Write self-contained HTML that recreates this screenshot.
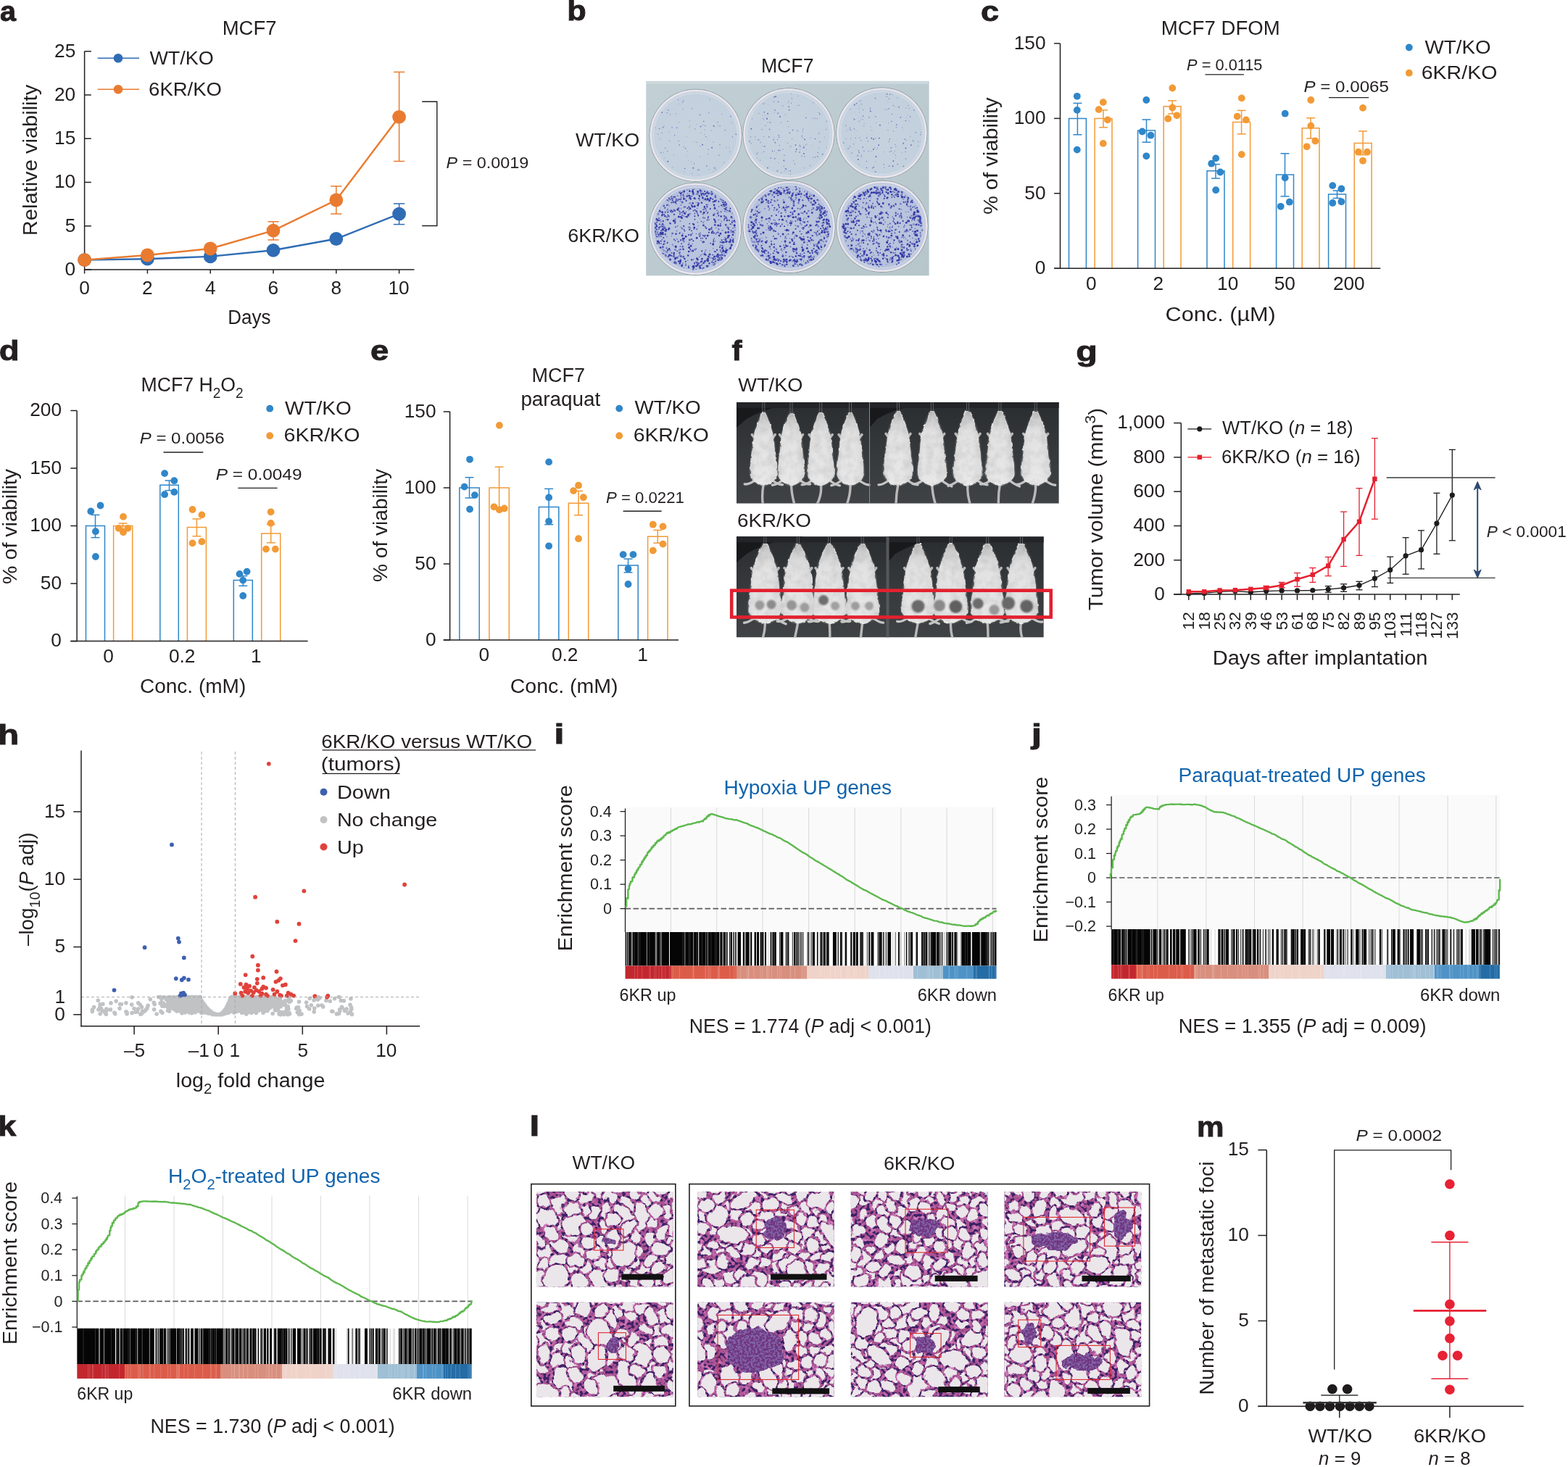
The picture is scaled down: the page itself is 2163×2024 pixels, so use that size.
<!DOCTYPE html>
<html><head><meta charset="utf-8"><title>Figure</title>
<style>html,body{margin:0;padding:0;background:#fff;overflow:hidden}svg{display:block}</style>
</head><body>
<svg width="2163" height="2024" viewBox="0 0 2163 2024" font-family="'Liberation Sans', Arial, sans-serif" fill="#231f20">
<defs><linearGradient id="plate" x1="0" y1="0" x2="1" y2="1">
<stop offset="0" stop-color="#c2d0d5"/><stop offset="0.5" stop-color="#bccbd0"/><stop offset="1" stop-color="#b6c6cb"/></linearGradient>
<radialGradient id="well0" cx="0.5" cy="0.5" r="0.5"><stop offset="0" stop-color="#c6d3df"/><stop offset="0.9" stop-color="#c3d0dd"/><stop offset="1" stop-color="#d3dbe5"/></radialGradient>
<radialGradient id="well1" cx="0.5" cy="0.5" r="0.5"><stop offset="0" stop-color="#bcc7df"/><stop offset="0.9" stop-color="#b6c1dc"/><stop offset="1" stop-color="#cdd4e4"/></radialGradient>
<filter id="mblur" x="-20%" y="-20%" width="140%" height="140%"><feGaussianBlur stdDeviation="0.9"/></filter>
<filter id="mwob" x="-20%" y="-10%" width="140%" height="120%"><feTurbulence type="fractalNoise" baseFrequency="0.12" numOctaves="2" seed="3" result="t"/><feDisplacementMap in="SourceGraphic" in2="t" scale="4.5" xChannelSelector="R" yChannelSelector="G" result="d"/><feGaussianBlur in="d" stdDeviation="0.7"/></filter>
<filter id="mtex" x="0" y="0" width="100%" height="100%"><feTurbulence type="fractalNoise" baseFrequency="0.09" numOctaves="3" seed="7"/><feColorMatrix type="matrix" values="0 0 0 0 0  0 0 0 0 0  0 0 0 0 0  0 0 0 -0.9 0.55"/><feComposite in2="SourceGraphic" operator="in"/></filter>
<linearGradient id="mbody" x1="0" y1="0" x2="1" y2="0"><stop offset="0" stop-color="#cdcdcd"/><stop offset="0.2" stop-color="#ebebeb"/><stop offset="0.6" stop-color="#f0f0f0"/><stop offset="1" stop-color="#d4d4d4"/></linearGradient>
<linearGradient id="mhead" x1="0" y1="0" x2="0" y2="1"><stop offset="0" stop-color="#8a8a8a"/><stop offset="0.1" stop-color="#b0b0b0"/><stop offset="0.28" stop-color="#d8d8d8"/><stop offset="1" stop-color="#e4e4e4"/></linearGradient>
<linearGradient id="fbg" x1="0" y1="0" x2="0" y2="1"><stop offset="0" stop-color="#2a2d30"/><stop offset="0.45" stop-color="#35383b"/><stop offset="1" stop-color="#404345"/></linearGradient>
<clipPath id="ftop"><rect x="1015.9" y="554.9" width="444.9" height="139.8"/></clipPath>
<clipPath id="fbot"><rect x="1015.9" y="740.3" width="423.9" height="139.2"/></clipPath>
<linearGradient id="cb101" x1="0" y1="0" x2="1" y2="0"><stop offset="0%" stop-color="#c3272e"/><stop offset="12.5%" stop-color="#c3272e"/><stop offset="12.5%" stop-color="#dc5c4a"/><stop offset="29.9%" stop-color="#dc5c4a"/><stop offset="29.9%" stop-color="#d98f7e"/><stop offset="48.9%" stop-color="#d98f7e"/><stop offset="48.9%" stop-color="#efd3c9"/><stop offset="65.6%" stop-color="#efd3c9"/><stop offset="65.6%" stop-color="#dfe1ec"/><stop offset="77.7%" stop-color="#dfe1ec"/><stop offset="77.7%" stop-color="#9fbfd5"/><stop offset="85.7%" stop-color="#9fbfd5"/><stop offset="85.7%" stop-color="#4f93c6"/><stop offset="93.8%" stop-color="#4f93c6"/><stop offset="93.8%" stop-color="#236ca6"/><stop offset="100.1%" stop-color="#236ca6"/></linearGradient>
<linearGradient id="cb201" x1="0" y1="0" x2="1" y2="0"><stop offset="0%" stop-color="#c3272e"/><stop offset="6.3%" stop-color="#c3272e"/><stop offset="6.3%" stop-color="#dc5c4a"/><stop offset="21.3%" stop-color="#dc5c4a"/><stop offset="21.3%" stop-color="#d98f7e"/><stop offset="40.4%" stop-color="#d98f7e"/><stop offset="40.4%" stop-color="#efd3c9"/><stop offset="54.7%" stop-color="#efd3c9"/><stop offset="54.7%" stop-color="#dfe1ec"/><stop offset="70.6%" stop-color="#dfe1ec"/><stop offset="70.6%" stop-color="#9fbfd5"/><stop offset="83.2%" stop-color="#9fbfd5"/><stop offset="83.2%" stop-color="#4f93c6"/><stop offset="94.6%" stop-color="#4f93c6"/><stop offset="94.6%" stop-color="#236ca6"/><stop offset="100.1%" stop-color="#236ca6"/></linearGradient>
<linearGradient id="cb301" x1="0" y1="0" x2="1" y2="0"><stop offset="0%" stop-color="#c3272e"/><stop offset="12.1%" stop-color="#c3272e"/><stop offset="12.1%" stop-color="#dc5c4a"/><stop offset="36.4%" stop-color="#dc5c4a"/><stop offset="36.4%" stop-color="#d98f7e"/><stop offset="51.9%" stop-color="#d98f7e"/><stop offset="51.9%" stop-color="#efd3c9"/><stop offset="64.8%" stop-color="#efd3c9"/><stop offset="64.8%" stop-color="#dfe1ec"/><stop offset="76.1%" stop-color="#dfe1ec"/><stop offset="76.1%" stop-color="#9fbfd5"/><stop offset="86.1%" stop-color="#9fbfd5"/><stop offset="86.1%" stop-color="#4f93c6"/><stop offset="92.8%" stop-color="#4f93c6"/><stop offset="92.8%" stop-color="#236ca6"/><stop offset="100.1%" stop-color="#236ca6"/></linearGradient>
<filter id="nuc" x="0" y="0" width="100%" height="100%" color-interpolation-filters="sRGB">
<feTurbulence type="fractalNoise" baseFrequency="0.24" numOctaves="1" seed="5" result="n2"/>
<feColorMatrix in="n2" type="matrix" values="0 0 0 0 0.23  0 0 0 0 0.13  0 0 0 0 0.40  9 0 0 0 -4.4" result="nu"/>
<feTurbulence type="fractalNoise" baseFrequency="0.12" numOctaves="2" seed="9" result="n3"/>
<feColorMatrix in="n3" type="matrix" values="0 0 0 0 0.86  0 0 0 0 0.50  0 0 0 0 0.76  3 0 0 0 -1.4" result="lt"/>
<feMerge><feMergeNode in="SourceGraphic"/><feMergeNode in="lt"/><feMergeNode in="nu"/></feMerge>
</filter>
<filter id="wob" x="-5%" y="-5%" width="110%" height="110%"><feTurbulence type="fractalNoise" baseFrequency="0.09" numOctaves="2" seed="21" result="t"/><feDisplacementMap in="SourceGraphic" in2="t" scale="9" xChannelSelector="R" yChannelSelector="G"/></filter>
<filter id="wob2" x="-20%" y="-20%" width="140%" height="140%"><feTurbulence type="fractalNoise" baseFrequency="0.07" numOctaves="2" seed="4" result="t"/><feDisplacementMap in="SourceGraphic" in2="t" scale="14" xChannelSelector="R" yChannelSelector="G" result="d"/>
<feTurbulence type="fractalNoise" baseFrequency="0.33" numOctaves="2" seed="8" result="n"/><feColorMatrix in="n" type="matrix" values="0 0 0 0 0.22  0 0 0 0 0.12  0 0 0 0 0.38  7 0 0 0 -3.1" result="nn"/><feComposite in="nn" in2="d" operator="in" result="nn2"/><feMerge><feMergeNode in="d"/><feMergeNode in="nn2"/></feMerge></filter>
<clipPath id="hc0"><rect x="739.9" y="1644" width="189" height="131.4"/></clipPath>
<mask id="hm0" maskUnits="userSpaceOnUse" x="734.9" y="1639" width="199" height="141.4"><g fill="#fff" stroke="#000" stroke-width="3.1" filter="url(#wob)"><ellipse cx="896.9" cy="1683.3" rx="13.2" ry="11.9" transform="rotate(11 896.9 1683.3)"/><ellipse cx="901.8" cy="1651.4" rx="12.4" ry="11.3" transform="rotate(155 901.8 1651.4)"/><ellipse cx="846.5" cy="1726.6" rx="11" ry="8.4" transform="rotate(160 846.5 1726.6)"/><ellipse cx="861.7" cy="1709.8" rx="14" ry="9.1" transform="rotate(95 861.7 1709.8)"/><ellipse cx="735.8" cy="1778.9" rx="14.1" ry="9.7" transform="rotate(34 735.8 1778.9)"/><ellipse cx="899.9" cy="1710.8" rx="10.8" ry="11.9" transform="rotate(148 899.9 1710.8)"/><ellipse cx="768.1" cy="1682.7" rx="20.9" ry="12.9" transform="rotate(36 768.1 1682.7)"/><ellipse cx="772.7" cy="1663" rx="17.9" ry="14.2" transform="rotate(165 772.7 1663)"/><ellipse cx="771.7" cy="1718.8" rx="14.8" ry="9.9" transform="rotate(20 771.7 1718.8)"/><ellipse cx="877.1" cy="1645.6" rx="11.4" ry="9" transform="rotate(124 877.1 1645.6)"/><ellipse cx="935.2" cy="1746" rx="12.1" ry="9.1" transform="rotate(179 935.2 1746)"/><ellipse cx="826.3" cy="1646" rx="12.3" ry="8.6" transform="rotate(13 826.3 1646)"/><ellipse cx="842.3" cy="1650.1" rx="14.7" ry="11.6" transform="rotate(119 842.3 1650.1)"/><ellipse cx="755.3" cy="1775.8" rx="21.5" ry="13.3" transform="rotate(98 755.3 1775.8)"/><ellipse cx="906.1" cy="1781.5" rx="13" ry="8.7" transform="rotate(151 906.1 1781.5)"/><ellipse cx="927.6" cy="1714.4" rx="13" ry="9.7" transform="rotate(109 927.6 1714.4)"/><ellipse cx="828.6" cy="1745.8" rx="11.5" ry="11.1" transform="rotate(41 828.6 1745.8)"/><ellipse cx="810.2" cy="1777.4" rx="21.5" ry="17.7" transform="rotate(26 810.2 1777.4)"/><ellipse cx="919.1" cy="1738.2" rx="22.3" ry="12.3" transform="rotate(36 919.1 1738.2)"/><ellipse cx="749.8" cy="1679.2" rx="21.6" ry="14.9" transform="rotate(22 749.8 1679.2)"/><ellipse cx="731.6" cy="1647.3" rx="10.3" ry="10.8" transform="rotate(87 731.6 1647.3)"/><ellipse cx="829.4" cy="1767.8" rx="22.5" ry="13.6" transform="rotate(50 829.4 1767.8)"/><ellipse cx="784.6" cy="1750.9" rx="19.1" ry="13.3" transform="rotate(137 784.6 1750.9)"/><ellipse cx="878.7" cy="1725" rx="11" ry="8.4" transform="rotate(38 878.7 1725)"/><ellipse cx="751.4" cy="1728.1" rx="13.8" ry="11.4" transform="rotate(20 751.4 1728.1)"/><ellipse cx="787.6" cy="1702.7" rx="13.5" ry="9.7" transform="rotate(31 787.6 1702.7)"/><ellipse cx="928.7" cy="1692.2" rx="14.9" ry="9.7" transform="rotate(120 928.7 1692.2)"/><ellipse cx="890.5" cy="1663.4" rx="14.5" ry="8" transform="rotate(84 890.5 1663.4)"/><ellipse cx="819.4" cy="1672" rx="10.6" ry="8.6" transform="rotate(108 819.4 1672)"/><ellipse cx="912.1" cy="1763.9" rx="14.9" ry="11.1" transform="rotate(154 912.1 1763.9)"/><ellipse cx="886.5" cy="1752.3" rx="12.8" ry="10.5" transform="rotate(106 886.5 1752.3)"/><ellipse cx="835.3" cy="1694.6" rx="14.2" ry="9" transform="rotate(67 835.3 1694.6)"/><ellipse cx="809" cy="1747" rx="10.2" ry="10.4" transform="rotate(7 809 1747)"/><ellipse cx="877.6" cy="1680.8" rx="22.9" ry="16.7" transform="rotate(116 877.6 1680.8)"/><ellipse cx="734.5" cy="1743.1" rx="11.8" ry="11.1" transform="rotate(174 734.5 1743.1)"/><ellipse cx="863.5" cy="1758.6" rx="13.1" ry="11.7" transform="rotate(59 863.5 1758.6)"/><ellipse cx="742.5" cy="1712.1" rx="11.5" ry="9.2" transform="rotate(36 742.5 1712.1)"/><ellipse cx="929.5" cy="1647.1" rx="10.9" ry="9.1" transform="rotate(133 929.5 1647.1)"/><ellipse cx="935" cy="1762.8" rx="22.8" ry="14.9" transform="rotate(173 935 1762.8)"/><ellipse cx="830.6" cy="1716" rx="12.6" ry="10.9" transform="rotate(81 830.6 1716)"/><ellipse cx="770.8" cy="1739.4" rx="14.2" ry="11.2" transform="rotate(157 770.8 1739.4)"/><ellipse cx="858.2" cy="1784.5" rx="14.6" ry="9.9" transform="rotate(46 858.2 1784.5)"/><ellipse cx="864.6" cy="1663" rx="13.9" ry="9.8" transform="rotate(58 864.6 1663)"/><ellipse cx="804" cy="1668.2" rx="12" ry="10.2" transform="rotate(28 804 1668.2)"/><ellipse cx="897.5" cy="1738" rx="13.2" ry="7.9" transform="rotate(133 897.5 1738)"/><ellipse cx="760.4" cy="1701.5" rx="13.1" ry="9.6" transform="rotate(43 760.4 1701.5)"/><ellipse cx="791.4" cy="1688.1" rx="18" ry="17" transform="rotate(142 791.4 1688.1)"/><ellipse cx="919.5" cy="1672.7" rx="11.2" ry="10.8" transform="rotate(107 919.5 1672.7)"/><ellipse cx="850.4" cy="1742.4" rx="14.2" ry="11.8" transform="rotate(6 850.4 1742.4)"/><ellipse cx="787.9" cy="1777.5" rx="20.1" ry="17.6" transform="rotate(110 787.9 1777.5)"/><ellipse cx="877.3" cy="1706.6" rx="10.8" ry="8.8" transform="rotate(74 877.3 1706.6)"/><ellipse cx="810.1" cy="1696.1" rx="10.6" ry="9.4" transform="rotate(93 810.1 1696.1)"/><ellipse cx="807.2" cy="1652.5" rx="13.1" ry="10.2" transform="rotate(135 807.2 1652.5)"/><ellipse cx="885.8" cy="1782.9" rx="14.5" ry="11.6" transform="rotate(132 885.8 1782.9)"/><ellipse cx="799.6" cy="1724" rx="12.8" ry="11.8" transform="rotate(113 799.6 1724)"/><ellipse cx="733.2" cy="1689.3" rx="10.3" ry="9" transform="rotate(113 733.2 1689.3)"/><ellipse cx="872.2" cy="1741.5" rx="10.9" ry="10.9" transform="rotate(171 872.2 1741.5)"/><ellipse cx="735.1" cy="1665.7" rx="11.6" ry="8" transform="rotate(147 735.1 1665.7)"/><ellipse cx="749.9" cy="1657.2" rx="11.4" ry="9.9" transform="rotate(34 749.9 1657.2)"/><ellipse cx="743.1" cy="1634.2" rx="14.9" ry="11.5" transform="rotate(87 743.1 1634.2)"/><ellipse cx="749.6" cy="1749.5" rx="14.8" ry="8.6" transform="rotate(92 749.6 1749.5)"/><ellipse cx="788.3" cy="1647" rx="12.1" ry="10.4" transform="rotate(45 788.3 1647)"/><ellipse cx="904.4" cy="1669.9" rx="10.7" ry="11.2" transform="rotate(124 904.4 1669.9)"/><ellipse cx="931.3" cy="1777.8" rx="10.9" ry="9.9" transform="rotate(160 931.3 1777.8)"/><ellipse cx="860.5" cy="1679.9" rx="21.3" ry="13.6" transform="rotate(54 860.5 1679.9)"/><ellipse cx="845.1" cy="1759.6" rx="12.4" ry="10.8" transform="rotate(133 845.1 1759.6)"/><ellipse cx="809.9" cy="1635.4" rx="11" ry="8.5" transform="rotate(130 809.9 1635.4)"/><ellipse cx="912.9" cy="1640.4" rx="11.8" ry="8.4" transform="rotate(177 912.9 1640.4)"/><ellipse cx="743" cy="1763.3" rx="13.6" ry="11.6" transform="rotate(47 743 1763.3)"/><ellipse cx="854.9" cy="1637.5" rx="12.8" ry="8.2" transform="rotate(128 854.9 1637.5)"/><ellipse cx="767.3" cy="1763.6" rx="20.6" ry="18" transform="rotate(121 767.3 1763.6)"/><ellipse cx="836.3" cy="1669.5" rx="14.2" ry="8" transform="rotate(97 836.3 1669.5)"/><ellipse cx="818.8" cy="1729.1" rx="12.9" ry="9.7" transform="rotate(132 818.8 1729.1)"/><ellipse cx="876.7" cy="1766.8" rx="11" ry="11.4" transform="rotate(43 876.7 1766.8)"/><ellipse cx="730.1" cy="1722.6" rx="11.9" ry="10.5" transform="rotate(121 730.1 1722.6)"/><ellipse cx="861.2" cy="1730.2" rx="20.6" ry="16.3" transform="rotate(121 861.2 1730.2)"/><ellipse cx="936.8" cy="1727.5" rx="23.8" ry="16.2" transform="rotate(138 936.8 1727.5)"/><ellipse cx="887.8" cy="1634.1" rx="13.9" ry="11.4" transform="rotate(81 887.8 1634.1)"/><ellipse cx="911.4" cy="1723.2" rx="14.5" ry="10" transform="rotate(176 911.4 1723.2)"/><ellipse cx="799.1" cy="1767.3" rx="13.3" ry="12" transform="rotate(12 799.1 1767.3)"/><ellipse cx="912.6" cy="1700.5" rx="12.8" ry="8" transform="rotate(117 912.6 1700.5)"/><ellipse cx="788.4" cy="1667.7" rx="12.3" ry="10.6" transform="rotate(5 788.4 1667.7)"/><ellipse cx="867.9" cy="1693.3" rx="14.6" ry="8.7" transform="rotate(137 867.9 1693.3)"/><ellipse cx="937" cy="1665.2" rx="11.8" ry="10.4" transform="rotate(3 937 1665.2)"/><ellipse cx="892.7" cy="1769.1" rx="11.3" ry="11" transform="rotate(41 892.7 1769.1)"/><ellipse cx="811.3" cy="1714.6" rx="12.4" ry="10" transform="rotate(178 811.3 1714.6)"/><ellipse cx="845.2" cy="1710.3" rx="14.4" ry="10.2" transform="rotate(80 845.2 1710.3)"/><ellipse cx="938.7" cy="1703.5" rx="10.7" ry="9.7" transform="rotate(23 938.7 1703.5)"/><ellipse cx="795.1" cy="1739.5" rx="13.3" ry="9.5" transform="rotate(179 795.1 1739.5)"/><ellipse cx="845.6" cy="1682.7" rx="10.4" ry="10.5" transform="rotate(62 845.6 1682.7)"/><ellipse cx="907.7" cy="1749.2" rx="12.1" ry="8" transform="rotate(141 907.7 1749.2)"/></g></mask>
<clipPath id="hc1"><rect x="739.9" y="1796.7" width="189" height="130.6"/></clipPath>
<mask id="hm1" maskUnits="userSpaceOnUse" x="734.9" y="1791.7" width="199" height="140.6"><g fill="#fff" stroke="#000" stroke-width="3.1" filter="url(#wob)"><ellipse cx="909.5" cy="1833.8" rx="14.4" ry="8.5" transform="rotate(147 909.5 1833.8)"/><ellipse cx="877.1" cy="1909.3" rx="11.2" ry="9.9" transform="rotate(45 877.1 1909.3)"/><ellipse cx="913.8" cy="1818" rx="14.3" ry="9.9" transform="rotate(28 913.8 1818)"/><ellipse cx="770" cy="1862.2" rx="14.8" ry="9.1" transform="rotate(144 770 1862.2)"/><ellipse cx="821.7" cy="1858.4" rx="14.5" ry="9.8" transform="rotate(19 821.7 1858.4)"/><ellipse cx="780.1" cy="1810.1" rx="22.4" ry="14.8" transform="rotate(3 780.1 1810.1)"/><ellipse cx="788" cy="1880.4" rx="14" ry="11.7" transform="rotate(126 788 1880.4)"/><ellipse cx="744.1" cy="1886.9" rx="13" ry="8.5" transform="rotate(35 744.1 1886.9)"/><ellipse cx="894.7" cy="1887.7" rx="14" ry="11.2" transform="rotate(167 894.7 1887.7)"/><ellipse cx="736.1" cy="1866.6" rx="11.5" ry="10.7" transform="rotate(50 736.1 1866.6)"/><ellipse cx="769.6" cy="1879" rx="14.6" ry="9.3" transform="rotate(89 769.6 1879)"/><ellipse cx="733.8" cy="1925.8" rx="10.8" ry="9.2" transform="rotate(103 733.8 1925.8)"/><ellipse cx="748.2" cy="1833.8" rx="20.9" ry="12.8" transform="rotate(173 748.2 1833.8)"/><ellipse cx="871.1" cy="1811.2" rx="12.1" ry="11.1" transform="rotate(9 871.1 1811.2)"/><ellipse cx="746.6" cy="1849.4" rx="13.5" ry="11.6" transform="rotate(13 746.6 1849.4)"/><ellipse cx="938.8" cy="1822.2" rx="11.8" ry="9.5" transform="rotate(132 938.8 1822.2)"/><ellipse cx="809.2" cy="1880.3" rx="11.1" ry="7.9" transform="rotate(178 809.2 1880.3)"/><ellipse cx="909.1" cy="1892.8" rx="11.1" ry="10.2" transform="rotate(93 909.1 1892.8)"/><ellipse cx="761.9" cy="1914.7" rx="13.3" ry="7.9" transform="rotate(113 761.9 1914.7)"/><ellipse cx="849.8" cy="1811.3" rx="11.4" ry="8.9" transform="rotate(133 849.8 1811.3)"/><ellipse cx="821.4" cy="1896.3" rx="13.3" ry="8.8" transform="rotate(146 821.4 1896.3)"/><ellipse cx="842.8" cy="1835.4" rx="14.5" ry="11.9" transform="rotate(105 842.8 1835.4)"/><ellipse cx="777.2" cy="1906.1" rx="23.6" ry="13.7" transform="rotate(72 777.2 1906.1)"/><ellipse cx="791.9" cy="1827.5" rx="14.1" ry="10.1" transform="rotate(2 791.9 1827.5)"/><ellipse cx="757.6" cy="1804" rx="13.8" ry="10.8" transform="rotate(166 757.6 1804)"/><ellipse cx="926.1" cy="1934.1" rx="12.6" ry="10.8" transform="rotate(89 926.1 1934.1)"/><ellipse cx="761.3" cy="1935.9" rx="12.3" ry="10.9" transform="rotate(22 761.3 1935.9)"/><ellipse cx="928" cy="1883" rx="13.2" ry="8.3" transform="rotate(61 928 1883)"/><ellipse cx="890.2" cy="1833.3" rx="11.4" ry="8.3" transform="rotate(24 890.2 1833.3)"/><ellipse cx="905.4" cy="1919.4" rx="11.1" ry="10.3" transform="rotate(0 905.4 1919.4)"/><ellipse cx="789.7" cy="1932.3" rx="13.1" ry="10.4" transform="rotate(132 789.7 1932.3)"/><ellipse cx="803.2" cy="1852.4" rx="25.3" ry="15.2" transform="rotate(0 803.2 1852.4)"/><ellipse cx="895.4" cy="1857.9" rx="12.1" ry="11.1" transform="rotate(41 895.4 1857.9)"/><ellipse cx="845.2" cy="1927.8" rx="11.1" ry="7.8" transform="rotate(36 845.2 1927.8)"/><ellipse cx="871" cy="1846.6" rx="10.9" ry="10.6" transform="rotate(42 871 1846.6)"/><ellipse cx="827" cy="1931.8" rx="12.7" ry="8.7" transform="rotate(8 827 1931.8)"/><ellipse cx="929.1" cy="1805.4" rx="14.1" ry="10.9" transform="rotate(117 929.1 1805.4)"/><ellipse cx="793.5" cy="1896.6" rx="13.1" ry="9" transform="rotate(44 793.5 1896.6)"/><ellipse cx="812.1" cy="1835.5" rx="10.8" ry="8.5" transform="rotate(95 812.1 1835.5)"/><ellipse cx="935.9" cy="1846.2" rx="11.8" ry="11.9" transform="rotate(19 935.9 1846.2)"/><ellipse cx="933" cy="1866.9" rx="12.4" ry="8.4" transform="rotate(84 933 1866.9)"/><ellipse cx="866.3" cy="1882.4" rx="11.1" ry="11.1" transform="rotate(149 866.3 1882.4)"/><ellipse cx="780.5" cy="1788" rx="10.9" ry="11.9" transform="rotate(88 780.5 1788)"/><ellipse cx="787" cy="1857.7" rx="14.6" ry="10.2" transform="rotate(131 787 1857.7)"/><ellipse cx="736.7" cy="1906.4" rx="11.4" ry="9.9" transform="rotate(37 736.7 1906.4)"/><ellipse cx="878.8" cy="1925" rx="14.7" ry="11.3" transform="rotate(61 878.8 1925)"/><ellipse cx="930.4" cy="1911.8" rx="13.3" ry="10.7" transform="rotate(45 930.4 1911.8)"/><ellipse cx="853.9" cy="1854.6" rx="12.4" ry="11.6" transform="rotate(127 853.9 1854.6)"/><ellipse cx="762.5" cy="1840.4" rx="11.8" ry="10.5" transform="rotate(0 762.5 1840.4)"/><ellipse cx="914.8" cy="1791.6" rx="11.8" ry="9.6" transform="rotate(102 914.8 1791.6)"/><ellipse cx="894.5" cy="1788.3" rx="11.7" ry="9" transform="rotate(166 894.5 1788.3)"/><ellipse cx="811.4" cy="1934.8" rx="13.1" ry="10.3" transform="rotate(161 811.4 1934.8)"/><ellipse cx="731.6" cy="1851.9" rx="12.6" ry="10.4" transform="rotate(68 731.6 1851.9)"/><ellipse cx="834.5" cy="1822.8" rx="19.1" ry="16.8" transform="rotate(67 834.5 1822.8)"/><ellipse cx="751.1" cy="1868.4" rx="14.8" ry="9.9" transform="rotate(100 751.1 1868.4)"/><ellipse cx="893.2" cy="1931.6" rx="10.7" ry="11" transform="rotate(32 893.2 1931.6)"/><ellipse cx="804.1" cy="1789.8" rx="20.6" ry="17.5" transform="rotate(15 804.1 1789.8)"/><ellipse cx="829.4" cy="1790.1" rx="14.6" ry="10.7" transform="rotate(68 829.4 1790.1)"/><ellipse cx="882.3" cy="1870.6" rx="18.4" ry="17.6" transform="rotate(128 882.3 1870.6)"/><ellipse cx="763.2" cy="1818.7" rx="14" ry="9" transform="rotate(170 763.2 1818.7)"/><ellipse cx="785.2" cy="1841.3" rx="11.9" ry="11.4" transform="rotate(123 785.2 1841.3)"/><ellipse cx="870.6" cy="1794.8" rx="21.3" ry="15.5" transform="rotate(7 870.6 1794.8)"/><ellipse cx="924.8" cy="1835.2" rx="14" ry="8.6" transform="rotate(17 924.8 1835.2)"/><ellipse cx="845.7" cy="1791.1" rx="13.7" ry="8.6" transform="rotate(31 845.7 1791.1)"/><ellipse cx="731.2" cy="1830.5" rx="14.1" ry="10.4" transform="rotate(4 731.2 1830.5)"/><ellipse cx="831.9" cy="1912.9" rx="24.9" ry="17.1" transform="rotate(169 831.9 1912.9)"/><ellipse cx="815.1" cy="1913.7" rx="13.6" ry="8.8" transform="rotate(40 815.1 1913.7)"/><ellipse cx="732.1" cy="1786.7" rx="14.7" ry="10" transform="rotate(4 732.1 1786.7)"/><ellipse cx="911.5" cy="1854.3" rx="12.2" ry="11.4" transform="rotate(162 911.5 1854.3)"/><ellipse cx="804.8" cy="1806.1" rx="12.1" ry="11.9" transform="rotate(48 804.8 1806.1)"/><ellipse cx="931" cy="1788.8" rx="12.2" ry="8.2" transform="rotate(146 931 1788.8)"/><ellipse cx="837.3" cy="1865" rx="24.7" ry="17.2" transform="rotate(144 837.3 1865)"/><ellipse cx="886" cy="1805.7" rx="14.2" ry="8.2" transform="rotate(3 886 1805.7)"/><ellipse cx="894.3" cy="1907.1" rx="12.9" ry="11.2" transform="rotate(106 894.3 1907.1)"/><ellipse cx="829.2" cy="1808.7" rx="13.2" ry="8.5" transform="rotate(129 829.2 1808.7)"/><ellipse cx="913.3" cy="1869.5" rx="12.9" ry="11.8" transform="rotate(25 913.3 1869.5)"/><ellipse cx="827.8" cy="1839.2" rx="22.3" ry="17.2" transform="rotate(64 827.8 1839.2)"/><ellipse cx="747.9" cy="1790.5" rx="14.9" ry="10.1" transform="rotate(94 747.9 1790.5)"/><ellipse cx="777.1" cy="1923.6" rx="10.3" ry="10.8" transform="rotate(51 777.1 1923.6)"/><ellipse cx="864.5" cy="1898.6" rx="24.5" ry="12.9" transform="rotate(72 864.5 1898.6)"/><ellipse cx="898.4" cy="1817.8" rx="14.7" ry="9.8" transform="rotate(74 898.4 1817.8)"/><ellipse cx="857.5" cy="1839.5" rx="11.6" ry="8" transform="rotate(171 857.5 1839.5)"/><ellipse cx="879" cy="1891" rx="12" ry="9.8" transform="rotate(21 879 1891)"/><ellipse cx="864.4" cy="1867.5" rx="13.8" ry="11.3" transform="rotate(15 864.4 1867.5)"/><ellipse cx="823.5" cy="1874.1" rx="20.5" ry="13.3" transform="rotate(108 823.5 1874.1)"/><ellipse cx="907.3" cy="1937.1" rx="13.7" ry="9.8" transform="rotate(134 907.3 1937.1)"/><ellipse cx="750.5" cy="1925.2" rx="22" ry="17.2" transform="rotate(13 750.5 1925.2)"/><ellipse cx="762.9" cy="1788.1" rx="13.6" ry="8.3" transform="rotate(2 762.9 1788.1)"/><ellipse cx="937.2" cy="1896.1" rx="13.9" ry="8.6" transform="rotate(164 937.2 1896.1)"/><ellipse cx="798.1" cy="1868.1" rx="14.6" ry="11" transform="rotate(79 798.1 1868.1)"/></g></mask>
<clipPath id="hc2"><rect x="962.1" y="1644" width="188.6" height="131.4"/></clipPath>
<mask id="hm2" maskUnits="userSpaceOnUse" x="957.1" y="1639" width="198.6" height="141.4"><g fill="#fff" stroke="#000" stroke-width="3.1" filter="url(#wob)"><ellipse cx="1121.3" cy="1686.4" rx="10" ry="10.1" transform="rotate(164 1121.3 1686.4)"/><ellipse cx="1111.6" cy="1708.3" rx="17.1" ry="16" transform="rotate(134 1111.6 1708.3)"/><ellipse cx="958.9" cy="1707.4" rx="10.3" ry="8.2" transform="rotate(109 958.9 1707.4)"/><ellipse cx="1043.9" cy="1726.2" rx="11.3" ry="9.2" transform="rotate(70 1043.9 1726.2)"/><ellipse cx="1074.5" cy="1671" rx="13.4" ry="8.3" transform="rotate(4 1074.5 1671)"/><ellipse cx="1074.3" cy="1710.3" rx="15.9" ry="14.9" transform="rotate(111 1074.3 1710.3)"/><ellipse cx="1106.8" cy="1646.4" rx="19" ry="11.2" transform="rotate(66 1106.8 1646.4)"/><ellipse cx="1058.1" cy="1766.8" rx="13.4" ry="7.8" transform="rotate(132 1058.1 1766.8)"/><ellipse cx="1123.1" cy="1767.6" rx="11.1" ry="7.4" transform="rotate(139 1123.1 1767.6)"/><ellipse cx="983.6" cy="1698" rx="10.2" ry="7.7" transform="rotate(35 983.6 1698)"/><ellipse cx="1151.1" cy="1651.1" rx="9.4" ry="8.7" transform="rotate(146 1151.1 1651.1)"/><ellipse cx="1148.5" cy="1755.6" rx="12.8" ry="8.5" transform="rotate(46 1148.5 1755.6)"/><ellipse cx="990.6" cy="1771.3" rx="10.6" ry="7.5" transform="rotate(166 990.6 1771.3)"/><ellipse cx="1110.7" cy="1667.7" rx="11.9" ry="10.1" transform="rotate(90 1110.7 1667.7)"/><ellipse cx="1158.3" cy="1692.6" rx="10.2" ry="7.7" transform="rotate(42 1158.3 1692.6)"/><ellipse cx="983.6" cy="1785.2" rx="10.8" ry="8.1" transform="rotate(93 983.6 1785.2)"/><ellipse cx="1085.8" cy="1661.1" rx="11.6" ry="8.5" transform="rotate(133 1085.8 1661.1)"/><ellipse cx="972.5" cy="1725.4" rx="11.7" ry="8.8" transform="rotate(13 972.5 1725.4)"/><ellipse cx="1059.7" cy="1700.9" rx="13.3" ry="10" transform="rotate(147 1059.7 1700.9)"/><ellipse cx="1083.1" cy="1760.2" rx="13.4" ry="8.7" transform="rotate(168 1083.1 1760.2)"/><ellipse cx="1072.1" cy="1694.1" rx="12.8" ry="9.3" transform="rotate(172 1072.1 1694.1)"/><ellipse cx="1001.4" cy="1635.9" rx="12.5" ry="7.5" transform="rotate(35 1001.4 1635.9)"/><ellipse cx="1076.5" cy="1734.1" rx="12.4" ry="9" transform="rotate(173 1076.5 1734.1)"/><ellipse cx="1019.3" cy="1777.8" rx="10" ry="10.7" transform="rotate(123 1019.3 1777.8)"/><ellipse cx="1139.9" cy="1719.6" rx="10.8" ry="7.2" transform="rotate(108 1139.9 1719.6)"/><ellipse cx="1089.9" cy="1692.1" rx="13.2" ry="7.3" transform="rotate(25 1089.9 1692.1)"/><ellipse cx="1096.4" cy="1670.9" rx="10.1" ry="7.8" transform="rotate(52 1096.4 1670.9)"/><ellipse cx="1074.6" cy="1647" rx="21.8" ry="11.3" transform="rotate(28 1074.6 1647)"/><ellipse cx="1109.9" cy="1732.9" rx="12.7" ry="7.7" transform="rotate(37 1109.9 1732.9)"/><ellipse cx="1089.5" cy="1640" rx="10.8" ry="8.3" transform="rotate(74 1089.5 1640)"/><ellipse cx="1082" cy="1775.9" rx="11.8" ry="8.2" transform="rotate(159 1082 1775.9)"/><ellipse cx="1063.9" cy="1782.9" rx="12.6" ry="10.6" transform="rotate(20 1063.9 1782.9)"/><ellipse cx="1116" cy="1750.9" rx="10.8" ry="9.1" transform="rotate(95 1116 1750.9)"/><ellipse cx="1105.2" cy="1682.1" rx="10.8" ry="7.3" transform="rotate(82 1105.2 1682.1)"/><ellipse cx="1027.5" cy="1700.6" rx="11.8" ry="10.7" transform="rotate(92 1027.5 1700.6)"/><ellipse cx="982.4" cy="1747.7" rx="18.6" ry="11.1" transform="rotate(171 982.4 1747.7)"/><ellipse cx="1052.9" cy="1742.1" rx="11.5" ry="7.3" transform="rotate(166 1052.9 1742.1)"/><ellipse cx="1035.4" cy="1646.1" rx="9.8" ry="8.5" transform="rotate(105 1035.4 1646.1)"/><ellipse cx="964.6" cy="1635.3" rx="10.5" ry="7.8" transform="rotate(66 964.6 1635.3)"/><ellipse cx="997.1" cy="1727.5" rx="11.4" ry="9.7" transform="rotate(99 997.1 1727.5)"/><ellipse cx="1133.2" cy="1707.3" rx="11.2" ry="10.6" transform="rotate(164 1133.2 1707.3)"/><ellipse cx="1139.5" cy="1641.2" rx="10" ry="9.2" transform="rotate(156 1139.5 1641.2)"/><ellipse cx="1126.5" cy="1667.8" rx="10" ry="7.7" transform="rotate(68 1126.5 1667.8)"/><ellipse cx="966.7" cy="1652.1" rx="9.9" ry="10.7" transform="rotate(108 966.7 1652.1)"/><ellipse cx="1053.9" cy="1674.4" rx="15.7" ry="14.6" transform="rotate(57 1053.9 1674.4)"/><ellipse cx="954.2" cy="1753.9" rx="12.4" ry="10.6" transform="rotate(36 954.2 1753.9)"/><ellipse cx="1095.3" cy="1721.5" rx="9.9" ry="9.8" transform="rotate(7 1095.3 1721.5)"/><ellipse cx="1096.8" cy="1706.5" rx="11.9" ry="8.7" transform="rotate(11 1096.8 1706.5)"/><ellipse cx="1037.5" cy="1743.3" rx="10" ry="9" transform="rotate(134 1037.5 1743.3)"/><ellipse cx="1152.4" cy="1775.4" rx="9.3" ry="8.7" transform="rotate(79 1152.4 1775.4)"/><ellipse cx="1012.3" cy="1661.2" rx="13.2" ry="7.7" transform="rotate(88 1012.3 1661.2)"/><ellipse cx="1053" cy="1645.2" rx="11.5" ry="7.5" transform="rotate(37 1053 1645.2)"/><ellipse cx="1001.4" cy="1785.2" rx="12.2" ry="10.2" transform="rotate(153 1001.4 1785.2)"/><ellipse cx="1009.4" cy="1761.9" rx="12.5" ry="10" transform="rotate(4 1009.4 1761.9)"/><ellipse cx="998.9" cy="1692" rx="11" ry="9.6" transform="rotate(4 998.9 1692)"/><ellipse cx="997.9" cy="1663.4" rx="11.2" ry="9.9" transform="rotate(103 997.9 1663.4)"/><ellipse cx="960.2" cy="1781" rx="12.1" ry="7.5" transform="rotate(29 960.2 1781)"/><ellipse cx="1160.3" cy="1639.8" rx="12.7" ry="8.8" transform="rotate(173 1160.3 1639.8)"/><ellipse cx="1106.2" cy="1767.1" rx="10.9" ry="10.1" transform="rotate(52 1106.2 1767.1)"/><ellipse cx="1062.3" cy="1661.5" rx="12.6" ry="10.6" transform="rotate(151 1062.3 1661.5)"/><ellipse cx="1047.4" cy="1780.8" rx="9.8" ry="9.7" transform="rotate(151 1047.4 1780.8)"/><ellipse cx="1038.2" cy="1667.5" rx="12.7" ry="10.8" transform="rotate(127 1038.2 1667.5)"/><ellipse cx="1056.7" cy="1721.4" rx="9.8" ry="8.3" transform="rotate(1 1056.7 1721.4)"/><ellipse cx="1016.2" cy="1677.3" rx="11.2" ry="8.3" transform="rotate(25 1016.2 1677.3)"/><ellipse cx="1147.2" cy="1667.8" rx="9.5" ry="8.5" transform="rotate(164 1147.2 1667.8)"/><ellipse cx="966.1" cy="1680.9" rx="12.1" ry="9.6" transform="rotate(156 966.1 1680.9)"/><ellipse cx="1030.6" cy="1723.4" rx="12.2" ry="9.3" transform="rotate(178 1030.6 1723.4)"/><ellipse cx="1044" cy="1767.1" rx="16.9" ry="13.8" transform="rotate(8 1044 1767.1)"/><ellipse cx="996.4" cy="1741.2" rx="12.3" ry="8.8" transform="rotate(90 996.4 1741.2)"/><ellipse cx="990.1" cy="1677.6" rx="16.3" ry="15.2" transform="rotate(94 990.1 1677.6)"/><ellipse cx="1016.6" cy="1715" rx="11.3" ry="9.2" transform="rotate(61 1016.6 1715)"/><ellipse cx="1031.4" cy="1681.9" rx="11.5" ry="10.5" transform="rotate(79 1031.4 1681.9)"/><ellipse cx="968.7" cy="1694.7" rx="9.7" ry="9.7" transform="rotate(78 968.7 1694.7)"/><ellipse cx="957" cy="1662.5" rx="10.5" ry="9.1" transform="rotate(116 957 1662.5)"/><ellipse cx="1127.6" cy="1733" rx="11.9" ry="7.1" transform="rotate(146 1127.6 1733)"/><ellipse cx="1129.9" cy="1652.3" rx="17.2" ry="16.2" transform="rotate(129 1129.9 1652.3)"/><ellipse cx="1136" cy="1685.7" rx="12.7" ry="7.7" transform="rotate(84 1136 1685.7)"/><ellipse cx="952.5" cy="1683.2" rx="10.7" ry="9.8" transform="rotate(160 952.5 1683.2)"/><ellipse cx="1121.6" cy="1783" rx="15.6" ry="16" transform="rotate(91 1121.6 1783)"/><ellipse cx="1024.1" cy="1761.4" rx="10.9" ry="10.6" transform="rotate(64 1024.1 1761.4)"/><ellipse cx="957.4" cy="1723.4" rx="12.8" ry="9.5" transform="rotate(136 957.4 1723.4)"/><ellipse cx="1142.4" cy="1735.2" rx="11" ry="9.9" transform="rotate(0 1142.4 1735.2)"/><ellipse cx="1011.2" cy="1728" rx="12.6" ry="7.1" transform="rotate(39 1011.2 1728)"/><ellipse cx="992.8" cy="1650.3" rx="10.2" ry="10.6" transform="rotate(26 992.8 1650.3)"/><ellipse cx="998.4" cy="1712.2" rx="10.6" ry="7.2" transform="rotate(48 998.4 1712.2)"/><ellipse cx="1020.2" cy="1641.1" rx="10.5" ry="7.8" transform="rotate(34 1020.2 1641.1)"/><ellipse cx="1123.8" cy="1635.2" rx="11.9" ry="10.5" transform="rotate(37 1123.8 1635.2)"/><ellipse cx="1156.7" cy="1679" rx="11.7" ry="9.4" transform="rotate(37 1156.7 1679)"/><ellipse cx="966.3" cy="1743.7" rx="10.1" ry="7.9" transform="rotate(175 966.3 1743.7)"/><ellipse cx="974.3" cy="1663.3" rx="12.4" ry="10.6" transform="rotate(158 974.3 1663.3)"/><ellipse cx="1072.4" cy="1748.5" rx="10.3" ry="10.6" transform="rotate(117 1072.4 1748.5)"/><ellipse cx="1046.8" cy="1690.1" rx="9.3" ry="7.2" transform="rotate(169 1046.8 1690.1)"/><ellipse cx="983.5" cy="1637" rx="12.3" ry="9.8" transform="rotate(69 983.5 1637)"/><ellipse cx="1087.7" cy="1743.6" rx="15.6" ry="11.3" transform="rotate(148 1087.7 1743.6)"/><ellipse cx="1158.2" cy="1742.4" rx="13.3" ry="9.5" transform="rotate(150 1158.2 1742.4)"/><ellipse cx="1098.5" cy="1755" rx="16.7" ry="13.9" transform="rotate(109 1098.5 1755)"/><ellipse cx="1137.7" cy="1768.4" rx="16.6" ry="14.9" transform="rotate(170 1137.7 1768.4)"/><ellipse cx="1025.4" cy="1655.7" rx="20.9" ry="11.2" transform="rotate(146 1025.4 1655.7)"/><ellipse cx="1100.6" cy="1780.5" rx="13.4" ry="7.1" transform="rotate(71 1100.6 1780.5)"/><ellipse cx="984.4" cy="1718.1" rx="9.4" ry="7.5" transform="rotate(4 984.4 1718.1)"/><ellipse cx="1010.3" cy="1703" rx="21.6" ry="13.8" transform="rotate(10 1010.3 1703)"/><ellipse cx="1146.9" cy="1703.7" rx="22.9" ry="10.9" transform="rotate(49 1146.9 1703.7)"/><ellipse cx="1063" cy="1635.5" rx="20.6" ry="12.2" transform="rotate(9 1063 1635.5)"/><ellipse cx="1046.3" cy="1711.1" rx="10" ry="8.4" transform="rotate(6 1046.3 1711.1)"/><ellipse cx="1135.4" cy="1781.9" rx="13.3" ry="8.1" transform="rotate(109 1135.4 1781.9)"/><ellipse cx="1135.4" cy="1748.9" rx="11.1" ry="8.1" transform="rotate(158 1135.4 1748.9)"/><ellipse cx="1033.6" cy="1778.6" rx="21.6" ry="13.9" transform="rotate(75 1033.6 1778.6)"/><ellipse cx="1120.7" cy="1718.3" rx="11.8" ry="10.5" transform="rotate(80 1120.7 1718.3)"/><ellipse cx="976.7" cy="1773" rx="13" ry="8.1" transform="rotate(61 976.7 1773)"/></g></mask>
<clipPath id="hc3"><rect x="1173.7" y="1644" width="189.1" height="131.4"/></clipPath>
<mask id="hm3" maskUnits="userSpaceOnUse" x="1168.7" y="1639" width="199.1" height="141.4"><g fill="#fff" stroke="#000" stroke-width="3.1" filter="url(#wob)"><ellipse cx="1252.3" cy="1738.1" rx="10.5" ry="7.1" transform="rotate(164 1252.3 1738.1)"/><ellipse cx="1209" cy="1659.5" rx="11.6" ry="8.4" transform="rotate(80 1209 1659.5)"/><ellipse cx="1219.7" cy="1672.1" rx="12.5" ry="7.8" transform="rotate(36 1219.7 1672.1)"/><ellipse cx="1369.1" cy="1661.8" rx="9.7" ry="8.7" transform="rotate(94 1369.1 1661.8)"/><ellipse cx="1244.2" cy="1720.5" rx="12.5" ry="10.6" transform="rotate(65 1244.2 1720.5)"/><ellipse cx="1370.3" cy="1776.4" rx="9.7" ry="8.9" transform="rotate(52 1370.3 1776.4)"/><ellipse cx="1225.9" cy="1720.9" rx="9.6" ry="10.2" transform="rotate(34 1225.9 1720.9)"/><ellipse cx="1241.5" cy="1672.2" rx="10.7" ry="10.1" transform="rotate(82 1241.5 1672.2)"/><ellipse cx="1322" cy="1691.8" rx="12.7" ry="9.7" transform="rotate(10 1322 1691.8)"/><ellipse cx="1199.9" cy="1726" rx="9.9" ry="7.1" transform="rotate(153 1199.9 1726)"/><ellipse cx="1169.5" cy="1684.3" rx="9.6" ry="10.3" transform="rotate(2 1169.5 1684.3)"/><ellipse cx="1176.3" cy="1779.9" rx="11.3" ry="8" transform="rotate(27 1176.3 1779.9)"/><ellipse cx="1185.9" cy="1743.1" rx="20.7" ry="15.9" transform="rotate(103 1185.9 1743.1)"/><ellipse cx="1224.7" cy="1785.2" rx="12.1" ry="9.9" transform="rotate(112 1224.7 1785.2)"/><ellipse cx="1337.2" cy="1762.2" rx="20.3" ry="15.2" transform="rotate(25 1337.2 1762.2)"/><ellipse cx="1340.9" cy="1677" rx="9.4" ry="9" transform="rotate(108 1340.9 1677)"/><ellipse cx="1164.9" cy="1772.3" rx="10.7" ry="8.4" transform="rotate(99 1164.9 1772.3)"/><ellipse cx="1271" cy="1766.2" rx="12.9" ry="7.2" transform="rotate(162 1271 1766.2)"/><ellipse cx="1250.4" cy="1783.9" rx="13.2" ry="9.9" transform="rotate(1 1250.4 1783.9)"/><ellipse cx="1309.1" cy="1714.5" rx="9.9" ry="8.6" transform="rotate(122 1309.1 1714.5)"/><ellipse cx="1362.1" cy="1682.4" rx="13.2" ry="8.2" transform="rotate(90 1362.1 1682.4)"/><ellipse cx="1358.2" cy="1702.5" rx="9.9" ry="8.3" transform="rotate(64 1358.2 1702.5)"/><ellipse cx="1235.7" cy="1700.1" rx="13" ry="7.7" transform="rotate(17 1235.7 1700.1)"/><ellipse cx="1331.5" cy="1637.1" rx="18.1" ry="14.4" transform="rotate(88 1331.5 1637.1)"/><ellipse cx="1250.4" cy="1650.8" rx="18.9" ry="11" transform="rotate(68 1250.4 1650.8)"/><ellipse cx="1286.2" cy="1684.6" rx="13.5" ry="7.1" transform="rotate(68 1286.2 1684.6)"/><ellipse cx="1342.7" cy="1736.8" rx="12.6" ry="9.1" transform="rotate(129 1342.7 1736.8)"/><ellipse cx="1180.7" cy="1698.3" rx="13.2" ry="8.8" transform="rotate(175 1180.7 1698.3)"/><ellipse cx="1309.5" cy="1738" rx="11.6" ry="7.7" transform="rotate(93 1309.5 1738)"/><ellipse cx="1299.9" cy="1675.9" rx="13.3" ry="9.5" transform="rotate(113 1299.9 1675.9)"/><ellipse cx="1289.4" cy="1755.9" rx="10.4" ry="7.5" transform="rotate(85 1289.4 1755.9)"/><ellipse cx="1235.1" cy="1739" rx="12.7" ry="7.3" transform="rotate(22 1235.1 1739)"/><ellipse cx="1310.8" cy="1779" rx="9.3" ry="8.1" transform="rotate(144 1310.8 1779)"/><ellipse cx="1169.3" cy="1713.2" rx="10.4" ry="7.1" transform="rotate(13 1169.3 1713.2)"/><ellipse cx="1344.2" cy="1710" rx="9.5" ry="9.5" transform="rotate(157 1344.2 1710)"/><ellipse cx="1199.9" cy="1760" rx="9.6" ry="8.1" transform="rotate(143 1199.9 1760)"/><ellipse cx="1332.9" cy="1777.7" rx="11.3" ry="9.7" transform="rotate(41 1332.9 1777.7)"/><ellipse cx="1242.8" cy="1758.4" rx="10.8" ry="8.1" transform="rotate(7 1242.8 1758.4)"/><ellipse cx="1283.1" cy="1654.5" rx="13.3" ry="7.5" transform="rotate(149 1283.1 1654.5)"/><ellipse cx="1328.7" cy="1740.9" rx="10.2" ry="8.6" transform="rotate(68 1328.7 1740.9)"/><ellipse cx="1185.2" cy="1716.1" rx="9.9" ry="9.2" transform="rotate(72 1185.2 1716.1)"/><ellipse cx="1191.5" cy="1675.9" rx="9.6" ry="7.3" transform="rotate(111 1191.5 1675.9)"/><ellipse cx="1211.8" cy="1735.3" rx="12.1" ry="7.2" transform="rotate(114 1211.8 1735.3)"/><ellipse cx="1280.8" cy="1712.1" rx="10.4" ry="9" transform="rotate(178 1280.8 1712.1)"/><ellipse cx="1210.5" cy="1634.2" rx="20.3" ry="12.6" transform="rotate(82 1210.5 1634.2)"/><ellipse cx="1165.9" cy="1730.3" rx="9.9" ry="8.2" transform="rotate(84 1165.9 1730.3)"/><ellipse cx="1314.7" cy="1663.2" rx="10.9" ry="8" transform="rotate(172 1314.7 1663.2)"/><ellipse cx="1263.5" cy="1717" rx="11.4" ry="10.5" transform="rotate(177 1263.5 1717)"/><ellipse cx="1296.2" cy="1721.3" rx="9.9" ry="9.9" transform="rotate(75 1296.2 1721.3)"/><ellipse cx="1369.9" cy="1742.3" rx="11.9" ry="8.8" transform="rotate(61 1369.9 1742.3)"/><ellipse cx="1261.8" cy="1636.8" rx="13.1" ry="8.1" transform="rotate(127 1261.8 1636.8)"/><ellipse cx="1293.4" cy="1769.8" rx="12.5" ry="9.3" transform="rotate(68 1293.4 1769.8)"/><ellipse cx="1355.2" cy="1753.5" rx="11.9" ry="8.6" transform="rotate(43 1355.2 1753.5)"/><ellipse cx="1347.9" cy="1637.1" rx="9.9" ry="10.5" transform="rotate(16 1347.9 1637.1)"/><ellipse cx="1178.8" cy="1756" rx="13.4" ry="10.4" transform="rotate(158 1178.8 1756)"/><ellipse cx="1280.6" cy="1783.4" rx="20.5" ry="11.3" transform="rotate(167 1280.6 1783.4)"/><ellipse cx="1348.6" cy="1659" rx="11.9" ry="8.4" transform="rotate(159 1348.6 1659)"/><ellipse cx="1269" cy="1729.8" rx="11" ry="8.4" transform="rotate(113 1269 1729.8)"/><ellipse cx="1264.7" cy="1703.4" rx="13.2" ry="7.3" transform="rotate(98 1264.7 1703.4)"/><ellipse cx="1192" cy="1654.5" rx="10.2" ry="8.1" transform="rotate(82 1192 1654.5)"/><ellipse cx="1294" cy="1640.5" rx="21.4" ry="11.1" transform="rotate(7 1294 1640.5)"/><ellipse cx="1280.5" cy="1740.6" rx="11.4" ry="8.6" transform="rotate(79 1280.5 1740.6)"/><ellipse cx="1324.8" cy="1715.9" rx="13.3" ry="10.7" transform="rotate(52 1324.8 1715.9)"/><ellipse cx="1174.5" cy="1659.7" rx="11.1" ry="9" transform="rotate(137 1174.5 1659.7)"/><ellipse cx="1216" cy="1710.9" rx="11.7" ry="10" transform="rotate(128 1216 1710.9)"/><ellipse cx="1228.1" cy="1661.3" rx="11.5" ry="8.6" transform="rotate(65 1228.1 1661.3)"/><ellipse cx="1186.4" cy="1638" rx="11.9" ry="7.8" transform="rotate(58 1186.4 1638)"/><ellipse cx="1238.3" cy="1774.8" rx="12.5" ry="8" transform="rotate(82 1238.3 1774.8)"/><ellipse cx="1368" cy="1728.1" rx="10.7" ry="10.8" transform="rotate(53 1368 1728.1)"/><ellipse cx="1320.8" cy="1754.7" rx="10.6" ry="10.1" transform="rotate(167 1320.8 1754.7)"/><ellipse cx="1220.7" cy="1767.5" rx="18.8" ry="10.7" transform="rotate(91 1220.7 1767.5)"/><ellipse cx="1330.7" cy="1703.7" rx="10.5" ry="8.2" transform="rotate(67 1330.7 1703.7)"/><ellipse cx="1351.5" cy="1781.2" rx="10.4" ry="7.1" transform="rotate(174 1351.5 1781.2)"/><ellipse cx="1235.8" cy="1648" rx="9.4" ry="9.4" transform="rotate(25 1235.8 1648)"/><ellipse cx="1172.4" cy="1743.6" rx="10.2" ry="9.3" transform="rotate(8 1172.4 1743.6)"/><ellipse cx="1361.5" cy="1638.3" rx="12.1" ry="9.5" transform="rotate(100 1361.5 1638.3)"/><ellipse cx="1203" cy="1685.4" rx="9.3" ry="9.9" transform="rotate(43 1203 1685.4)"/><ellipse cx="1318.9" cy="1648.9" rx="11.9" ry="10.1" transform="rotate(142 1318.9 1648.9)"/><ellipse cx="1274.7" cy="1643" rx="11.4" ry="8.8" transform="rotate(146 1274.7 1643)"/><ellipse cx="1372.5" cy="1713.9" rx="13.2" ry="8.5" transform="rotate(176 1372.5 1713.9)"/><ellipse cx="1329.2" cy="1658.1" rx="12.5" ry="8.5" transform="rotate(121 1329.2 1658.1)"/><ellipse cx="1261.2" cy="1661.4" rx="13" ry="8.9" transform="rotate(110 1261.2 1661.4)"/><ellipse cx="1250.4" cy="1694.5" rx="10.9" ry="10.3" transform="rotate(146 1250.4 1694.5)"/><ellipse cx="1220.1" cy="1753.9" rx="12.1" ry="8.1" transform="rotate(115 1220.1 1753.9)"/><ellipse cx="1297.1" cy="1699.9" rx="13.3" ry="7.9" transform="rotate(47 1297.1 1699.9)"/><ellipse cx="1218.6" cy="1689.5" rx="13.4" ry="10.2" transform="rotate(69 1218.6 1689.5)"/><ellipse cx="1296.9" cy="1654.9" rx="11.2" ry="7.2" transform="rotate(72 1296.9 1654.9)"/><ellipse cx="1202.6" cy="1645.8" rx="13.5" ry="8.8" transform="rotate(120 1202.6 1645.8)"/><ellipse cx="1305.9" cy="1762.5" rx="11.7" ry="10.5" transform="rotate(149 1305.9 1762.5)"/><ellipse cx="1326.9" cy="1671.7" rx="9.3" ry="9.3" transform="rotate(137 1326.9 1671.7)"/><ellipse cx="1313.6" cy="1635.1" rx="11.7" ry="7.8" transform="rotate(88 1313.6 1635.1)"/><ellipse cx="1257.2" cy="1769.4" rx="19.5" ry="12" transform="rotate(47 1257.2 1769.4)"/><ellipse cx="1218.1" cy="1648.2" rx="10" ry="7.1" transform="rotate(72 1218.1 1648.2)"/><ellipse cx="1234.9" cy="1685.8" rx="10.1" ry="9.4" transform="rotate(45 1234.9 1685.8)"/><ellipse cx="1369.4" cy="1758.8" rx="11.4" ry="9.6" transform="rotate(48 1369.4 1758.8)"/><ellipse cx="1356.8" cy="1670" rx="11.2" ry="7.3" transform="rotate(59 1356.8 1670)"/><ellipse cx="1260.3" cy="1755.3" rx="13.4" ry="10" transform="rotate(4 1260.3 1755.3)"/><ellipse cx="1166.9" cy="1699" rx="12.7" ry="8.2" transform="rotate(97 1166.9 1699)"/><ellipse cx="1358.8" cy="1767.8" rx="22.3" ry="15.6" transform="rotate(177 1358.8 1767.8)"/><ellipse cx="1297.4" cy="1783" rx="9.4" ry="8.3" transform="rotate(160 1297.4 1783)"/><ellipse cx="1352" cy="1723.6" rx="11.5" ry="9.3" transform="rotate(76 1352 1723.6)"/><ellipse cx="1296.6" cy="1743.6" rx="11.7" ry="8.1" transform="rotate(138 1296.6 1743.6)"/><ellipse cx="1276.1" cy="1667" rx="11.7" ry="9" transform="rotate(42 1276.1 1667)"/><ellipse cx="1307.1" cy="1687.6" rx="11.9" ry="7" transform="rotate(28 1307.1 1687.6)"/><ellipse cx="1266.4" cy="1779.8" rx="12.4" ry="7.2" transform="rotate(18 1266.4 1779.8)"/><ellipse cx="1191" cy="1784.5" rx="11.9" ry="8.4" transform="rotate(23 1191 1784.5)"/><ellipse cx="1318.7" cy="1768" rx="18.8" ry="12.4" transform="rotate(21 1318.7 1768)"/><ellipse cx="1278" cy="1695.5" rx="13" ry="10.1" transform="rotate(47 1278 1695.5)"/><ellipse cx="1334.6" cy="1725.6" rx="11.7" ry="10.4" transform="rotate(103 1334.6 1725.6)"/><ellipse cx="1179.7" cy="1730.2" rx="10.9" ry="9.4" transform="rotate(94 1179.7 1730.2)"/><ellipse cx="1187.9" cy="1767.1" rx="12.2" ry="8.8" transform="rotate(168 1187.9 1767.1)"/><ellipse cx="1204.4" cy="1746.8" rx="11.1" ry="8" transform="rotate(172 1204.4 1746.8)"/><ellipse cx="1371.1" cy="1693.2" rx="12.8" ry="7.3" transform="rotate(88 1371.1 1693.2)"/><ellipse cx="1228.4" cy="1635.7" rx="11.2" ry="8.8" transform="rotate(174 1228.4 1635.7)"/><ellipse cx="1310.9" cy="1701.1" rx="10.7" ry="9.7" transform="rotate(3 1310.9 1701.1)"/><ellipse cx="1356.3" cy="1738.3" rx="11" ry="9.4" transform="rotate(76 1356.3 1738.3)"/><ellipse cx="1164.3" cy="1671" rx="10.6" ry="7.8" transform="rotate(111 1164.3 1671)"/></g></mask>
<clipPath id="hc4"><rect x="1385.3" y="1644" width="189" height="131.4"/></clipPath>
<mask id="hm4" maskUnits="userSpaceOnUse" x="1380.3" y="1639" width="199" height="141.4"><g fill="#fff" stroke="#000" stroke-width="3.1" filter="url(#wob)"><ellipse cx="1383.2" cy="1704.1" rx="13.2" ry="9" transform="rotate(141 1383.2 1704.1)"/><ellipse cx="1466.9" cy="1747.3" rx="21.3" ry="12.2" transform="rotate(83 1466.9 1747.3)"/><ellipse cx="1422" cy="1686.7" rx="10.8" ry="7.1" transform="rotate(28 1422 1686.7)"/><ellipse cx="1550.9" cy="1689.8" rx="12.3" ry="10.1" transform="rotate(96 1550.9 1689.8)"/><ellipse cx="1578.5" cy="1711.2" rx="11.7" ry="8" transform="rotate(97 1578.5 1711.2)"/><ellipse cx="1471.6" cy="1660.1" rx="9.7" ry="7.8" transform="rotate(40 1471.6 1660.1)"/><ellipse cx="1423.8" cy="1735.4" rx="12.9" ry="10.1" transform="rotate(118 1423.8 1735.4)"/><ellipse cx="1527.9" cy="1757.8" rx="12.3" ry="9.3" transform="rotate(143 1527.9 1757.8)"/><ellipse cx="1380.4" cy="1657" rx="10" ry="8.5" transform="rotate(118 1380.4 1657)"/><ellipse cx="1457.9" cy="1692.4" rx="10.3" ry="10.6" transform="rotate(30 1457.9 1692.4)"/><ellipse cx="1435.3" cy="1681.2" rx="11.9" ry="9.8" transform="rotate(65 1435.3 1681.2)"/><ellipse cx="1521.6" cy="1711.7" rx="13.2" ry="8.3" transform="rotate(94 1521.6 1711.7)"/><ellipse cx="1413.2" cy="1672.3" rx="11.2" ry="9.7" transform="rotate(42 1413.2 1672.3)"/><ellipse cx="1385.3" cy="1675.8" rx="10.6" ry="8.6" transform="rotate(64 1385.3 1675.8)"/><ellipse cx="1554.4" cy="1784.8" rx="9.6" ry="9" transform="rotate(155 1554.4 1784.8)"/><ellipse cx="1533.2" cy="1739.9" rx="11.8" ry="8.7" transform="rotate(166 1533.2 1739.9)"/><ellipse cx="1501.1" cy="1682.8" rx="9.5" ry="10.5" transform="rotate(168 1501.1 1682.8)"/><ellipse cx="1456.6" cy="1706.8" rx="12.9" ry="9.6" transform="rotate(177 1456.6 1706.8)"/><ellipse cx="1455.5" cy="1782.9" rx="12.2" ry="10.7" transform="rotate(123 1455.5 1782.9)"/><ellipse cx="1433.5" cy="1667.8" rx="13.4" ry="10.3" transform="rotate(128 1433.5 1667.8)"/><ellipse cx="1479.2" cy="1737" rx="10.2" ry="9.6" transform="rotate(27 1479.2 1737)"/><ellipse cx="1456.2" cy="1658.2" rx="10.5" ry="9.9" transform="rotate(139 1456.2 1658.2)"/><ellipse cx="1565.1" cy="1723.6" rx="12.5" ry="10.4" transform="rotate(144 1565.1 1723.6)"/><ellipse cx="1465.5" cy="1726.7" rx="11.7" ry="10" transform="rotate(174 1465.5 1726.7)"/><ellipse cx="1380" cy="1781.2" rx="20.7" ry="11.1" transform="rotate(16 1380 1781.2)"/><ellipse cx="1518.6" cy="1656.2" rx="13.1" ry="7.7" transform="rotate(75 1518.6 1656.2)"/><ellipse cx="1565.7" cy="1777.2" rx="13.1" ry="10.4" transform="rotate(82 1565.7 1777.2)"/><ellipse cx="1549" cy="1656.9" rx="11.6" ry="10.1" transform="rotate(62 1549 1656.9)"/><ellipse cx="1503.3" cy="1648.5" rx="10.7" ry="9.8" transform="rotate(17 1503.3 1648.5)"/><ellipse cx="1423.6" cy="1769.2" rx="13.1" ry="10.3" transform="rotate(172 1423.6 1769.2)"/><ellipse cx="1554.1" cy="1736.6" rx="18.6" ry="11.9" transform="rotate(89 1554.1 1736.6)"/><ellipse cx="1397" cy="1775.1" rx="12.8" ry="10" transform="rotate(34 1397 1775.1)"/><ellipse cx="1439.6" cy="1644.6" rx="10.1" ry="10.1" transform="rotate(90 1439.6 1644.6)"/><ellipse cx="1452.4" cy="1765.2" rx="13" ry="8.5" transform="rotate(73 1452.4 1765.2)"/><ellipse cx="1534.4" cy="1705.9" rx="13.4" ry="9.1" transform="rotate(125 1534.4 1705.9)"/><ellipse cx="1478.4" cy="1648" rx="18" ry="15.9" transform="rotate(142 1478.4 1648)"/><ellipse cx="1502.9" cy="1757.9" rx="13.3" ry="10.8" transform="rotate(142 1502.9 1757.9)"/><ellipse cx="1518.2" cy="1683.8" rx="12.4" ry="10.3" transform="rotate(168 1518.2 1683.8)"/><ellipse cx="1389.4" cy="1642.5" rx="11" ry="7.7" transform="rotate(153 1389.4 1642.5)"/><ellipse cx="1498.8" cy="1721.3" rx="11.5" ry="7.3" transform="rotate(5 1498.8 1721.3)"/><ellipse cx="1552.2" cy="1642" rx="11.2" ry="8" transform="rotate(97 1552.2 1642)"/><ellipse cx="1378" cy="1763.4" rx="9.9" ry="9.9" transform="rotate(175 1378 1763.4)"/><ellipse cx="1505.2" cy="1773" rx="10.7" ry="7.5" transform="rotate(68 1505.2 1773)"/><ellipse cx="1564.8" cy="1756" rx="12.7" ry="10.2" transform="rotate(134 1564.8 1756)"/><ellipse cx="1565.3" cy="1670.4" rx="11.2" ry="9.6" transform="rotate(160 1565.3 1670.4)"/><ellipse cx="1554.5" cy="1766.4" rx="11.2" ry="7.7" transform="rotate(65 1554.5 1766.4)"/><ellipse cx="1437.2" cy="1721.9" rx="10.3" ry="7.3" transform="rotate(122 1437.2 1721.9)"/><ellipse cx="1473.1" cy="1759.6" rx="9.8" ry="10.1" transform="rotate(125 1473.1 1759.6)"/><ellipse cx="1463.3" cy="1642.8" rx="11.7" ry="10" transform="rotate(15 1463.3 1642.8)"/><ellipse cx="1389.9" cy="1691.7" rx="15.7" ry="11.7" transform="rotate(24 1389.9 1691.7)"/><ellipse cx="1576.5" cy="1747" rx="12.3" ry="7.6" transform="rotate(13 1576.5 1747)"/><ellipse cx="1428.5" cy="1709.5" rx="9.7" ry="9.2" transform="rotate(47 1428.5 1709.5)"/><ellipse cx="1550.1" cy="1723.2" rx="11.5" ry="8.1" transform="rotate(151 1550.1 1723.2)"/><ellipse cx="1472.4" cy="1702.5" rx="11.9" ry="9.3" transform="rotate(3 1472.4 1702.5)"/><ellipse cx="1540.9" cy="1766.4" rx="13.2" ry="9.5" transform="rotate(136 1540.9 1766.4)"/><ellipse cx="1398.7" cy="1664.5" rx="9.4" ry="8.9" transform="rotate(150 1398.7 1664.5)"/><ellipse cx="1563.1" cy="1696.7" rx="11.4" ry="9.2" transform="rotate(162 1563.1 1696.7)"/><ellipse cx="1474.8" cy="1775.4" rx="10.1" ry="7.1" transform="rotate(47 1474.8 1775.4)"/><ellipse cx="1583.9" cy="1664.1" rx="11.8" ry="8.8" transform="rotate(140 1583.9 1664.1)"/><ellipse cx="1452.1" cy="1674.8" rx="12.7" ry="7.1" transform="rotate(101 1452.1 1674.8)"/><ellipse cx="1580.6" cy="1774.5" rx="18.7" ry="15" transform="rotate(68 1580.6 1774.5)"/><ellipse cx="1416.9" cy="1754.3" rx="16.3" ry="11.1" transform="rotate(19 1416.9 1754.3)"/><ellipse cx="1506.2" cy="1707.3" rx="11.2" ry="7.3" transform="rotate(13 1506.2 1707.3)"/><ellipse cx="1447.6" cy="1730.9" rx="16.7" ry="11.6" transform="rotate(4 1447.6 1730.9)"/><ellipse cx="1489.6" cy="1780.3" rx="11.3" ry="7.4" transform="rotate(80 1489.6 1780.3)"/><ellipse cx="1407.7" cy="1698.1" rx="11.8" ry="8.4" transform="rotate(44 1407.7 1698.1)"/><ellipse cx="1526.4" cy="1727.8" rx="22.8" ry="15.4" transform="rotate(100 1526.4 1727.8)"/><ellipse cx="1400.6" cy="1713.8" rx="12.4" ry="9.5" transform="rotate(104 1400.6 1713.8)"/><ellipse cx="1546.4" cy="1753.6" rx="13.3" ry="8.9" transform="rotate(156 1546.4 1753.6)"/><ellipse cx="1530.6" cy="1689.8" rx="10.2" ry="9.8" transform="rotate(35 1530.6 1689.8)"/><ellipse cx="1435.7" cy="1756.9" rx="11.4" ry="7.7" transform="rotate(77 1435.7 1756.9)"/><ellipse cx="1522.4" cy="1640.3" rx="12.5" ry="10.3" transform="rotate(80 1522.4 1640.3)"/><ellipse cx="1548.9" cy="1672.2" rx="19.4" ry="15.1" transform="rotate(123 1548.9 1672.2)"/><ellipse cx="1521.2" cy="1781.7" rx="11.8" ry="9.2" transform="rotate(89 1521.2 1781.7)"/><ellipse cx="1409.6" cy="1766.5" rx="18" ry="12.3" transform="rotate(115 1409.6 1766.5)"/><ellipse cx="1570.7" cy="1653.7" rx="13" ry="8.8" transform="rotate(25 1570.7 1653.7)"/><ellipse cx="1577.9" cy="1761.1" rx="10.8" ry="9.8" transform="rotate(2 1577.9 1761.1)"/><ellipse cx="1435.8" cy="1742" rx="13.5" ry="7.5" transform="rotate(109 1435.8 1742)"/><ellipse cx="1412.8" cy="1780.8" rx="21.9" ry="12.2" transform="rotate(115 1412.8 1780.8)"/><ellipse cx="1406.6" cy="1642.1" rx="10.9" ry="9.2" transform="rotate(19 1406.6 1642.1)"/><ellipse cx="1431.4" cy="1783.4" rx="11.1" ry="8.3" transform="rotate(54 1431.4 1783.4)"/><ellipse cx="1420.7" cy="1645.9" rx="13.4" ry="10.7" transform="rotate(117 1420.7 1645.9)"/><ellipse cx="1478.9" cy="1678.7" rx="19.1" ry="12.4" transform="rotate(20 1478.9 1678.7)"/><ellipse cx="1380" cy="1724.5" rx="12.8" ry="7.6" transform="rotate(128 1380 1724.5)"/><ellipse cx="1497.8" cy="1741.1" rx="9.7" ry="9" transform="rotate(105 1497.8 1741.1)"/><ellipse cx="1579.7" cy="1634.6" rx="10" ry="10.1" transform="rotate(125 1579.7 1634.6)"/><ellipse cx="1513.3" cy="1730.9" rx="11.4" ry="9.5" transform="rotate(124 1513.3 1730.9)"/><ellipse cx="1531.2" cy="1673.4" rx="11.8" ry="8.5" transform="rotate(135 1531.2 1673.4)"/><ellipse cx="1381.6" cy="1743.6" rx="11.2" ry="7.5" transform="rotate(154 1381.6 1743.6)"/><ellipse cx="1536.2" cy="1783.9" rx="12.4" ry="8.6" transform="rotate(178 1536.2 1783.9)"/><ellipse cx="1414.4" cy="1716.4" rx="22.7" ry="12.6" transform="rotate(162 1414.4 1716.4)"/><ellipse cx="1496.5" cy="1635.5" rx="9.8" ry="9.2" transform="rotate(56 1496.5 1635.5)"/><ellipse cx="1552.5" cy="1706.5" rx="11.7" ry="9.1" transform="rotate(37 1552.5 1706.5)"/><ellipse cx="1492.4" cy="1700.3" rx="10.8" ry="10.8" transform="rotate(131 1492.4 1700.3)"/><ellipse cx="1440.2" cy="1699.1" rx="12.8" ry="10.7" transform="rotate(162 1440.2 1699.1)"/><ellipse cx="1509.9" cy="1669.1" rx="12.4" ry="8.7" transform="rotate(112 1509.9 1669.1)"/><ellipse cx="1486.6" cy="1749.4" rx="10.6" ry="9.7" transform="rotate(171 1486.6 1749.4)"/><ellipse cx="1396.4" cy="1757.8" rx="12.9" ry="9.6" transform="rotate(23 1396.4 1757.8)"/><ellipse cx="1538.4" cy="1638.4" rx="11.9" ry="7.9" transform="rotate(159 1538.4 1638.4)"/><ellipse cx="1404.7" cy="1726.7" rx="9.8" ry="8.5" transform="rotate(55 1404.7 1726.7)"/><ellipse cx="1491.1" cy="1765.4" rx="13.1" ry="8.5" transform="rotate(153 1491.1 1765.4)"/><ellipse cx="1449.6" cy="1746.7" rx="13.5" ry="8" transform="rotate(123 1449.6 1746.7)"/><ellipse cx="1399.9" cy="1679.1" rx="12.4" ry="7.3" transform="rotate(22 1399.9 1679.1)"/><ellipse cx="1513.9" cy="1744.8" rx="16.8" ry="13.1" transform="rotate(173 1513.9 1744.8)"/><ellipse cx="1376.4" cy="1687.2" rx="9.6" ry="10.4" transform="rotate(44 1376.4 1687.2)"/><ellipse cx="1482" cy="1721.6" rx="19.1" ry="12.2" transform="rotate(160 1482 1721.6)"/><ellipse cx="1583.8" cy="1647.8" rx="19.4" ry="14.1" transform="rotate(148 1583.8 1647.8)"/><ellipse cx="1535.2" cy="1655.8" rx="12.1" ry="7.7" transform="rotate(67 1535.2 1655.8)"/><ellipse cx="1376.6" cy="1637.2" rx="10.5" ry="8" transform="rotate(34 1376.6 1637.2)"/><ellipse cx="1481.6" cy="1634.6" rx="12.2" ry="7.6" transform="rotate(73 1481.6 1634.6)"/><ellipse cx="1430.6" cy="1634.2" rx="10.8" ry="9.1" transform="rotate(98 1430.6 1634.2)"/></g></mask>
<clipPath id="hc5"><rect x="962.1" y="1796.7" width="188.6" height="130.6"/></clipPath>
<mask id="hm5" maskUnits="userSpaceOnUse" x="957.1" y="1791.7" width="198.6" height="140.6"><g fill="#fff" stroke="#000" stroke-width="3.1" filter="url(#wob)"><ellipse cx="1035.7" cy="1787.2" rx="13.1" ry="7.4" transform="rotate(55 1035.7 1787.2)"/><ellipse cx="1124.1" cy="1864.7" rx="13.3" ry="8.8" transform="rotate(167 1124.1 1864.7)"/><ellipse cx="961.3" cy="1843.4" rx="12.5" ry="8.4" transform="rotate(120 961.3 1843.4)"/><ellipse cx="1040.3" cy="1885.2" rx="10.4" ry="7.9" transform="rotate(142 1040.3 1885.2)"/><ellipse cx="1093.2" cy="1847.3" rx="19.1" ry="12.4" transform="rotate(114 1093.2 1847.3)"/><ellipse cx="990.1" cy="1932.9" rx="10.5" ry="10.3" transform="rotate(39 990.1 1932.9)"/><ellipse cx="1061.1" cy="1797" rx="9.8" ry="9.2" transform="rotate(139 1061.1 1797)"/><ellipse cx="952.5" cy="1921.7" rx="19.1" ry="15.2" transform="rotate(159 952.5 1921.7)"/><ellipse cx="954.3" cy="1790.4" rx="10.3" ry="7.6" transform="rotate(124 954.3 1790.4)"/><ellipse cx="1007.8" cy="1840.6" rx="19.5" ry="12" transform="rotate(172 1007.8 1840.6)"/><ellipse cx="1046.3" cy="1852.9" rx="12.8" ry="9.7" transform="rotate(32 1046.3 1852.9)"/><ellipse cx="1091.4" cy="1909" rx="11.1" ry="7.6" transform="rotate(85 1091.4 1909)"/><ellipse cx="1029.3" cy="1899.8" rx="11.9" ry="9.7" transform="rotate(102 1029.3 1899.8)"/><ellipse cx="1084" cy="1890.9" rx="11.6" ry="7.1" transform="rotate(26 1084 1890.9)"/><ellipse cx="1060.3" cy="1820.1" rx="13.2" ry="10.7" transform="rotate(138 1060.3 1820.1)"/><ellipse cx="1122.7" cy="1801" rx="9.5" ry="7.7" transform="rotate(90 1122.7 1801)"/><ellipse cx="1131" cy="1896.4" rx="10" ry="8.3" transform="rotate(69 1131 1896.4)"/><ellipse cx="1024.4" cy="1876.1" rx="12.5" ry="7.3" transform="rotate(49 1024.4 1876.1)"/><ellipse cx="1141.5" cy="1801.8" rx="12.9" ry="8.2" transform="rotate(78 1141.5 1801.8)"/><ellipse cx="1008" cy="1788.1" rx="9.8" ry="10.5" transform="rotate(163 1008 1788.1)"/><ellipse cx="1079.9" cy="1928.1" rx="13.2" ry="7.9" transform="rotate(24 1079.9 1928.1)"/><ellipse cx="1035.1" cy="1834.9" rx="11.6" ry="9.1" transform="rotate(152 1035.1 1834.9)"/><ellipse cx="1019" cy="1816.3" rx="13.2" ry="9.2" transform="rotate(3 1019 1816.3)"/><ellipse cx="969.3" cy="1792" rx="13.4" ry="9.5" transform="rotate(81 969.3 1792)"/><ellipse cx="1114.9" cy="1893.8" rx="10.1" ry="8.2" transform="rotate(15 1114.9 1893.8)"/><ellipse cx="1038.3" cy="1870.7" rx="11.9" ry="7.4" transform="rotate(13 1038.3 1870.7)"/><ellipse cx="1086.9" cy="1815.8" rx="11.8" ry="8.1" transform="rotate(33 1086.9 1815.8)"/><ellipse cx="976.6" cy="1896.4" rx="10.7" ry="7.8" transform="rotate(23 976.6 1896.4)"/><ellipse cx="1125.2" cy="1846.6" rx="10.6" ry="9.5" transform="rotate(22 1125.2 1846.6)"/><ellipse cx="996.8" cy="1919.1" rx="10.6" ry="10.2" transform="rotate(157 996.8 1919.1)"/><ellipse cx="984.7" cy="1812.7" rx="11.2" ry="10.1" transform="rotate(62 984.7 1812.7)"/><ellipse cx="1151.1" cy="1792" rx="12.3" ry="10.2" transform="rotate(142 1151.1 1792)"/><ellipse cx="1067" cy="1921.5" rx="9.7" ry="10.7" transform="rotate(119 1067 1921.5)"/><ellipse cx="1154.2" cy="1892.5" rx="22" ry="11.1" transform="rotate(31 1154.2 1892.5)"/><ellipse cx="1136.7" cy="1916.4" rx="11" ry="9.4" transform="rotate(21 1136.7 1916.4)"/><ellipse cx="1054.7" cy="1876.4" rx="10.6" ry="8.3" transform="rotate(114 1054.7 1876.4)"/><ellipse cx="955.4" cy="1935" rx="9.4" ry="8.5" transform="rotate(156 955.4 1935)"/><ellipse cx="1077.4" cy="1908" rx="9.5" ry="9.2" transform="rotate(3 1077.4 1908)"/><ellipse cx="1140" cy="1840" rx="9.7" ry="10.5" transform="rotate(72 1140 1840)"/><ellipse cx="1076" cy="1878.8" rx="11.9" ry="9.8" transform="rotate(58 1076 1878.8)"/><ellipse cx="974" cy="1912.1" rx="17.6" ry="14.5" transform="rotate(112 974 1912.1)"/><ellipse cx="1153.3" cy="1831.9" rx="13.2" ry="10.8" transform="rotate(55 1153.3 1831.9)"/><ellipse cx="1098.5" cy="1797.4" rx="11.3" ry="9.5" transform="rotate(112 1098.5 1797.4)"/><ellipse cx="1106.1" cy="1864.3" rx="9.9" ry="9.4" transform="rotate(41 1106.1 1864.3)"/><ellipse cx="1098" cy="1925.5" rx="9.6" ry="8.4" transform="rotate(56 1098 1925.5)"/><ellipse cx="1111.3" cy="1827.8" rx="13.3" ry="10.6" transform="rotate(127 1111.3 1827.8)"/><ellipse cx="1155.3" cy="1858.5" rx="11.9" ry="9.8" transform="rotate(11 1155.3 1858.5)"/><ellipse cx="1071.1" cy="1864.7" rx="10.6" ry="7.8" transform="rotate(17 1071.1 1864.7)"/><ellipse cx="1120.1" cy="1907.9" rx="13.5" ry="10.8" transform="rotate(0 1120.1 1907.9)"/><ellipse cx="1148.4" cy="1877.1" rx="11.8" ry="9.9" transform="rotate(146 1148.4 1877.1)"/><ellipse cx="978.5" cy="1864.6" rx="11.7" ry="9.3" transform="rotate(74 978.5 1864.6)"/><ellipse cx="982.5" cy="1834.5" rx="10.6" ry="9.5" transform="rotate(42 982.5 1834.5)"/><ellipse cx="1132.2" cy="1820.7" rx="12.3" ry="8.7" transform="rotate(82 1132.2 1820.7)"/><ellipse cx="993.9" cy="1850" rx="12.8" ry="7.6" transform="rotate(69 993.9 1850)"/><ellipse cx="1026.4" cy="1851.2" rx="13.4" ry="8.3" transform="rotate(163 1026.4 1851.2)"/><ellipse cx="1046.2" cy="1913" rx="10.4" ry="7.5" transform="rotate(12 1046.2 1913)"/><ellipse cx="1001.5" cy="1816.4" rx="10.4" ry="10.6" transform="rotate(155 1001.5 1816.4)"/><ellipse cx="1075.2" cy="1801.8" rx="11.8" ry="8.1" transform="rotate(102 1075.2 1801.8)"/><ellipse cx="1152" cy="1906.5" rx="12.4" ry="8.3" transform="rotate(146 1152 1906.5)"/><ellipse cx="1066.1" cy="1889.2" rx="21.2" ry="14.5" transform="rotate(68 1066.1 1889.2)"/><ellipse cx="962.6" cy="1826.4" rx="9.7" ry="9.6" transform="rotate(153 962.6 1826.4)"/><ellipse cx="967.3" cy="1927" rx="12.5" ry="9.2" transform="rotate(78 967.3 1927)"/><ellipse cx="1007.4" cy="1903.4" rx="21.6" ry="13.1" transform="rotate(74 1007.4 1903.4)"/><ellipse cx="1148.5" cy="1926.1" rx="16.9" ry="13.5" transform="rotate(78 1148.5 1926.1)"/><ellipse cx="1035.7" cy="1933.2" rx="13.3" ry="10.3" transform="rotate(91 1035.7 1933.2)"/><ellipse cx="1098.5" cy="1883.5" rx="12.4" ry="8.3" transform="rotate(11 1098.5 1883.5)"/><ellipse cx="1060.2" cy="1901.9" rx="19.2" ry="11.4" transform="rotate(55 1060.2 1901.9)"/><ellipse cx="1142.1" cy="1862.6" rx="10.9" ry="8" transform="rotate(167 1142.1 1862.6)"/><ellipse cx="1156.1" cy="1815.3" rx="12.3" ry="8.1" transform="rotate(167 1156.1 1815.3)"/><ellipse cx="1021.9" cy="1801.7" rx="11.6" ry="9" transform="rotate(28 1021.9 1801.7)"/><ellipse cx="1106.8" cy="1846.3" rx="10.9" ry="7.9" transform="rotate(81 1106.8 1846.3)"/><ellipse cx="1114" cy="1931.4" rx="10.3" ry="9.8" transform="rotate(155 1114 1931.4)"/><ellipse cx="959.1" cy="1859.4" rx="22.7" ry="11.4" transform="rotate(58 959.1 1859.4)"/><ellipse cx="960.6" cy="1901.7" rx="11.5" ry="7.8" transform="rotate(106 960.6 1901.7)"/><ellipse cx="1034.4" cy="1820.8" rx="11.9" ry="9.9" transform="rotate(58 1034.4 1820.8)"/><ellipse cx="1097.8" cy="1826.7" rx="10.6" ry="9.6" transform="rotate(48 1097.8 1826.7)"/><ellipse cx="1064.2" cy="1850.5" rx="9.5" ry="7.7" transform="rotate(131 1064.2 1850.5)"/><ellipse cx="1051.9" cy="1786.9" rx="16.7" ry="15.4" transform="rotate(9 1051.9 1786.9)"/><ellipse cx="953.1" cy="1876.1" rx="9.5" ry="8.5" transform="rotate(78 953.1 1876.1)"/><ellipse cx="983.7" cy="1793.1" rx="11.4" ry="7.4" transform="rotate(50 983.7 1793.1)"/><ellipse cx="1131.7" cy="1876.5" rx="9.9" ry="10.6" transform="rotate(165 1131.7 1876.5)"/><ellipse cx="1100.3" cy="1813.4" rx="11.5" ry="9.3" transform="rotate(11 1100.3 1813.4)"/><ellipse cx="1055.6" cy="1837.2" rx="11.6" ry="10.8" transform="rotate(112 1055.6 1837.2)"/><ellipse cx="1008.8" cy="1932.7" rx="10.8" ry="8.6" transform="rotate(145 1008.8 1932.7)"/><ellipse cx="1075.7" cy="1786.9" rx="10.7" ry="9.8" transform="rotate(67 1075.7 1786.9)"/><ellipse cx="1047.9" cy="1826.1" rx="16" ry="14.4" transform="rotate(91 1047.9 1826.1)"/><ellipse cx="1044.1" cy="1800" rx="9.7" ry="8.3" transform="rotate(163 1044.1 1800)"/><ellipse cx="1112.6" cy="1787.9" rx="11.9" ry="9.7" transform="rotate(98 1112.6 1787.9)"/><ellipse cx="1102.5" cy="1899.5" rx="9.6" ry="9.5" transform="rotate(121 1102.5 1899.5)"/><ellipse cx="1073.8" cy="1823.8" rx="20.1" ry="13.3" transform="rotate(137 1073.8 1823.8)"/><ellipse cx="997.3" cy="1797.8" rx="12.2" ry="9.2" transform="rotate(32 997.3 1797.8)"/><ellipse cx="1128.1" cy="1927.3" rx="11.1" ry="9.7" transform="rotate(21 1128.1 1927.3)"/><ellipse cx="1117.5" cy="1815.5" rx="11" ry="10.5" transform="rotate(144 1117.5 1815.5)"/><ellipse cx="1135.3" cy="1788.1" rx="15.8" ry="11.6" transform="rotate(57 1135.3 1788.1)"/><ellipse cx="1010.6" cy="1917.5" rx="11.3" ry="9.5" transform="rotate(142 1010.6 1917.5)"/><ellipse cx="1022.2" cy="1830.1" rx="9.6" ry="9.7" transform="rotate(21 1022.2 1830.1)"/><ellipse cx="1137.9" cy="1936.9" rx="12.9" ry="8.4" transform="rotate(132 1137.9 1936.9)"/><ellipse cx="1066.9" cy="1935.5" rx="9.4" ry="10.1" transform="rotate(66 1066.9 1935.5)"/><ellipse cx="1111.7" cy="1879.4" rx="9.8" ry="9.3" transform="rotate(89 1111.7 1879.4)"/><ellipse cx="995.6" cy="1829.7" rx="9.6" ry="7.7" transform="rotate(159 995.6 1829.7)"/><ellipse cx="1055.9" cy="1862.8" rx="9.2" ry="9.5" transform="rotate(2 1055.9 1862.8)"/></g></mask>
<clipPath id="hc6"><rect x="1173.7" y="1796.7" width="189.1" height="130.6"/></clipPath>
<mask id="hm6" maskUnits="userSpaceOnUse" x="1168.7" y="1791.7" width="199.1" height="140.6"><g fill="#fff" stroke="#000" stroke-width="3.1" filter="url(#wob)"><ellipse cx="1296.6" cy="1867.1" rx="13.2" ry="10.2" transform="rotate(114 1296.6 1867.1)"/><ellipse cx="1198.7" cy="1877.7" rx="11.8" ry="10.7" transform="rotate(29 1198.7 1877.7)"/><ellipse cx="1315.5" cy="1863.2" rx="9.3" ry="9.7" transform="rotate(81 1315.5 1863.2)"/><ellipse cx="1329.8" cy="1882.5" rx="12" ry="8.1" transform="rotate(176 1329.8 1882.5)"/><ellipse cx="1297.9" cy="1820.9" rx="10.9" ry="8.7" transform="rotate(26 1297.9 1820.9)"/><ellipse cx="1183.8" cy="1865.9" rx="18" ry="15" transform="rotate(42 1183.8 1865.9)"/><ellipse cx="1365" cy="1876.1" rx="12.8" ry="10.3" transform="rotate(34 1365 1876.1)"/><ellipse cx="1333.5" cy="1916.6" rx="9.4" ry="8" transform="rotate(15 1333.5 1916.6)"/><ellipse cx="1230.3" cy="1897.7" rx="11.8" ry="10.3" transform="rotate(66 1230.3 1897.7)"/><ellipse cx="1302.6" cy="1885.7" rx="12.7" ry="9.8" transform="rotate(146 1302.6 1885.7)"/><ellipse cx="1344.2" cy="1906.3" rx="10" ry="8.4" transform="rotate(155 1344.2 1906.3)"/><ellipse cx="1328.5" cy="1853.4" rx="10.4" ry="10.6" transform="rotate(57 1328.5 1853.4)"/><ellipse cx="1178.4" cy="1829.7" rx="17" ry="11.6" transform="rotate(80 1178.4 1829.7)"/><ellipse cx="1335.8" cy="1867.5" rx="13.2" ry="10.3" transform="rotate(118 1335.8 1867.5)"/><ellipse cx="1259.7" cy="1794.8" rx="11.3" ry="8.3" transform="rotate(13 1259.7 1794.8)"/><ellipse cx="1337.6" cy="1802.3" rx="12" ry="8" transform="rotate(73 1337.6 1802.3)"/><ellipse cx="1174.4" cy="1807.8" rx="16" ry="10.6" transform="rotate(30 1174.4 1807.8)"/><ellipse cx="1269.6" cy="1910.3" rx="22.8" ry="15.7" transform="rotate(125 1269.6 1910.3)"/><ellipse cx="1236" cy="1851.5" rx="16.5" ry="12.7" transform="rotate(130 1236 1851.5)"/><ellipse cx="1278.3" cy="1860" rx="11" ry="8.2" transform="rotate(122 1278.3 1860)"/><ellipse cx="1226.6" cy="1839.8" rx="12.8" ry="9.2" transform="rotate(1 1226.6 1839.8)"/><ellipse cx="1304.8" cy="1789.2" rx="11.6" ry="7.1" transform="rotate(144 1304.8 1789.2)"/><ellipse cx="1205.1" cy="1896.2" rx="11.2" ry="9.8" transform="rotate(160 1205.1 1896.2)"/><ellipse cx="1189.6" cy="1837.7" rx="12.5" ry="7.2" transform="rotate(18 1189.6 1837.7)"/><ellipse cx="1176.5" cy="1900.4" rx="16" ry="11.6" transform="rotate(141 1176.5 1900.4)"/><ellipse cx="1221.4" cy="1881.3" rx="10.1" ry="8.1" transform="rotate(151 1221.4 1881.3)"/><ellipse cx="1200.5" cy="1861.3" rx="12.9" ry="8.8" transform="rotate(140 1200.5 1861.3)"/><ellipse cx="1325.9" cy="1826.5" rx="10" ry="7.5" transform="rotate(9 1325.9 1826.5)"/><ellipse cx="1223.9" cy="1861.7" rx="13.4" ry="10.1" transform="rotate(7 1223.9 1861.7)"/><ellipse cx="1282.5" cy="1883.9" rx="12.8" ry="9.6" transform="rotate(138 1282.5 1883.9)"/><ellipse cx="1315.5" cy="1877.5" rx="20.8" ry="15.9" transform="rotate(8 1315.5 1877.5)"/><ellipse cx="1350.6" cy="1922.4" rx="12.4" ry="10.6" transform="rotate(154 1350.6 1922.4)"/><ellipse cx="1268.3" cy="1847.4" rx="16.3" ry="11" transform="rotate(109 1268.3 1847.4)"/><ellipse cx="1200.6" cy="1811" rx="9.4" ry="10.3" transform="rotate(15 1200.6 1811)"/><ellipse cx="1295.3" cy="1936.7" rx="9.5" ry="9.3" transform="rotate(43 1295.3 1936.7)"/><ellipse cx="1251" cy="1807.4" rx="20.7" ry="10.9" transform="rotate(153 1251 1807.4)"/><ellipse cx="1308.6" cy="1844.9" rx="10.5" ry="8.3" transform="rotate(155 1308.6 1844.9)"/><ellipse cx="1362.6" cy="1915" rx="22.1" ry="12.5" transform="rotate(47 1362.6 1915)"/><ellipse cx="1248.3" cy="1844.3" rx="10.4" ry="10.4" transform="rotate(59 1248.3 1844.3)"/><ellipse cx="1177.3" cy="1921.4" rx="17.8" ry="11.2" transform="rotate(27 1177.3 1921.4)"/><ellipse cx="1209" cy="1832.5" rx="10.5" ry="9.6" transform="rotate(74 1209 1832.5)"/><ellipse cx="1279.3" cy="1824.6" rx="10.7" ry="7.9" transform="rotate(119 1279.3 1824.6)"/><ellipse cx="1358.8" cy="1889" rx="10.7" ry="9.9" transform="rotate(170 1358.8 1889)"/><ellipse cx="1192.5" cy="1792" rx="9.4" ry="8.7" transform="rotate(1 1192.5 1792)"/><ellipse cx="1194" cy="1934.1" rx="21.3" ry="12.8" transform="rotate(139 1194 1934.1)"/><ellipse cx="1264.5" cy="1869.8" rx="13" ry="8.2" transform="rotate(104 1264.5 1869.8)"/><ellipse cx="1288.2" cy="1810.8" rx="13.3" ry="9.2" transform="rotate(90 1288.2 1810.8)"/><ellipse cx="1271" cy="1934.9" rx="9.5" ry="7.3" transform="rotate(42 1271 1934.9)"/><ellipse cx="1310.3" cy="1896.9" rx="9.6" ry="10.4" transform="rotate(163 1310.3 1896.9)"/><ellipse cx="1172.5" cy="1847" rx="9.4" ry="9" transform="rotate(139 1172.5 1847)"/><ellipse cx="1288.6" cy="1836.9" rx="12.4" ry="9.4" transform="rotate(150 1288.6 1836.9)"/><ellipse cx="1244.3" cy="1823.8" rx="12.6" ry="8.9" transform="rotate(136 1244.3 1823.8)"/><ellipse cx="1359.3" cy="1802.1" rx="11.4" ry="7.7" transform="rotate(146 1359.3 1802.1)"/><ellipse cx="1250.9" cy="1868.7" rx="11.2" ry="10.2" transform="rotate(78 1250.9 1868.7)"/><ellipse cx="1281.2" cy="1922.2" rx="9.9" ry="7" transform="rotate(176 1281.2 1922.2)"/><ellipse cx="1206.4" cy="1792.9" rx="10.4" ry="8.9" transform="rotate(45 1206.4 1792.9)"/><ellipse cx="1224.1" cy="1823.2" rx="11.4" ry="9.1" transform="rotate(43 1224.1 1823.2)"/><ellipse cx="1370.5" cy="1926.3" rx="10.8" ry="8.1" transform="rotate(109 1370.5 1926.3)"/><ellipse cx="1350.7" cy="1791.4" rx="10.2" ry="10.2" transform="rotate(147 1350.7 1791.4)"/><ellipse cx="1292.2" cy="1850.4" rx="22.8" ry="12.9" transform="rotate(137 1292.2 1850.4)"/><ellipse cx="1369.7" cy="1853.7" rx="10.9" ry="10.5" transform="rotate(135 1369.7 1853.7)"/><ellipse cx="1259" cy="1822.7" rx="10.3" ry="9.8" transform="rotate(26 1259 1822.7)"/><ellipse cx="1265" cy="1888.8" rx="9.9" ry="7.8" transform="rotate(102 1265 1888.8)"/><ellipse cx="1179.7" cy="1883.5" rx="11.7" ry="7.2" transform="rotate(55 1179.7 1883.5)"/><ellipse cx="1268.5" cy="1811.9" rx="13.2" ry="8.8" transform="rotate(168 1268.5 1811.9)"/><ellipse cx="1167.1" cy="1792.8" rx="10" ry="9.2" transform="rotate(126 1167.1 1792.8)"/><ellipse cx="1306.4" cy="1914.8" rx="11.8" ry="7.4" transform="rotate(27 1306.4 1914.8)"/><ellipse cx="1355.5" cy="1850.3" rx="12.4" ry="7.5" transform="rotate(138 1355.5 1850.3)"/><ellipse cx="1226.4" cy="1798.3" rx="18.9" ry="14.2" transform="rotate(106 1226.4 1798.3)"/><ellipse cx="1256.7" cy="1937.2" rx="12.5" ry="9" transform="rotate(136 1256.7 1937.2)"/><ellipse cx="1190" cy="1906.8" rx="10.5" ry="9.9" transform="rotate(99 1190 1906.8)"/><ellipse cx="1367.6" cy="1786.9" rx="10.6" ry="9" transform="rotate(154 1367.6 1786.9)"/><ellipse cx="1330.6" cy="1935.9" rx="11.5" ry="9.6" transform="rotate(48 1330.6 1935.9)"/><ellipse cx="1244" cy="1881.2" rx="10" ry="9.9" transform="rotate(74 1244 1881.2)"/><ellipse cx="1289.9" cy="1900.9" rx="19.1" ry="13.1" transform="rotate(54 1289.9 1900.9)"/><ellipse cx="1330.8" cy="1898.6" rx="10.1" ry="8.6" transform="rotate(160 1330.8 1898.6)"/><ellipse cx="1243.3" cy="1792.8" rx="12.5" ry="8.7" transform="rotate(160 1243.3 1792.8)"/><ellipse cx="1164.6" cy="1915.8" rx="12" ry="10.6" transform="rotate(123 1164.6 1915.8)"/><ellipse cx="1347.5" cy="1813.7" rx="11.2" ry="8.3" transform="rotate(3 1347.5 1813.7)"/><ellipse cx="1247.8" cy="1902.4" rx="10.8" ry="9.1" transform="rotate(14 1247.8 1902.4)"/><ellipse cx="1224.3" cy="1912.1" rx="13.4" ry="7.5" transform="rotate(26 1224.3 1912.1)"/><ellipse cx="1164.9" cy="1832.2" rx="11.4" ry="7.9" transform="rotate(175 1164.9 1832.2)"/><ellipse cx="1164.3" cy="1890.4" rx="10" ry="9.5" transform="rotate(43 1164.3 1890.4)"/><ellipse cx="1371.4" cy="1898.1" rx="10.3" ry="7.1" transform="rotate(62 1371.4 1898.1)"/><ellipse cx="1314" cy="1801.1" rx="12.4" ry="10.1" transform="rotate(38 1314 1801.1)"/><ellipse cx="1341.5" cy="1846.4" rx="17.2" ry="11.7" transform="rotate(144 1341.5 1846.4)"/><ellipse cx="1355.6" cy="1935.8" rx="13.1" ry="7.6" transform="rotate(92 1355.6 1935.8)"/><ellipse cx="1235.6" cy="1935" rx="13.2" ry="7.2" transform="rotate(88 1235.6 1935)"/><ellipse cx="1346.9" cy="1830.3" rx="10.5" ry="7.5" transform="rotate(59 1346.9 1830.3)"/><ellipse cx="1370.2" cy="1811" rx="10.6" ry="7.3" transform="rotate(90 1370.2 1811)"/><ellipse cx="1207.7" cy="1935.6" rx="9.7" ry="7.5" transform="rotate(174 1207.7 1935.6)"/><ellipse cx="1187.2" cy="1813.2" rx="12.5" ry="8.1" transform="rotate(63 1187.2 1813.2)"/><ellipse cx="1163.7" cy="1865" rx="11.5" ry="9" transform="rotate(36 1163.7 1865)"/><ellipse cx="1205.8" cy="1914.2" rx="11.3" ry="10" transform="rotate(27 1205.8 1914.2)"/><ellipse cx="1366.8" cy="1836.1" rx="11.6" ry="7.3" transform="rotate(42 1366.8 1836.1)"/><ellipse cx="1188.9" cy="1853.1" rx="10.6" ry="9.1" transform="rotate(18 1188.9 1853.1)"/><ellipse cx="1234.4" cy="1812" rx="9.5" ry="9.2" transform="rotate(18 1234.4 1812)"/><ellipse cx="1318.4" cy="1908.5" rx="9.3" ry="10.3" transform="rotate(80 1318.4 1908.5)"/><ellipse cx="1212.6" cy="1870.3" rx="20.5" ry="10.9" transform="rotate(35 1212.6 1870.3)"/><ellipse cx="1349.8" cy="1866.6" rx="11.1" ry="10.1" transform="rotate(38 1349.8 1866.6)"/><ellipse cx="1212.9" cy="1846.3" rx="10.2" ry="7.8" transform="rotate(129 1212.9 1846.3)"/><ellipse cx="1341.9" cy="1890.7" rx="11.1" ry="10.6" transform="rotate(8 1341.9 1890.7)"/><ellipse cx="1328.6" cy="1812.8" rx="10.7" ry="8.9" transform="rotate(28 1328.6 1812.8)"/><ellipse cx="1255.4" cy="1855.9" rx="11.9" ry="10" transform="rotate(164 1255.4 1855.9)"/><ellipse cx="1214.9" cy="1811.1" rx="11.8" ry="9.9" transform="rotate(42 1214.9 1811.1)"/><ellipse cx="1195.4" cy="1824.1" rx="22.3" ry="15.3" transform="rotate(111 1195.4 1824.1)"/><ellipse cx="1191.8" cy="1893.1" rx="11.5" ry="8.4" transform="rotate(26 1191.8 1893.1)"/><ellipse cx="1164.1" cy="1816.7" rx="12.5" ry="8.1" transform="rotate(22 1164.1 1816.7)"/></g></mask>
<clipPath id="hc7"><rect x="1385.3" y="1796.7" width="189" height="130.6"/></clipPath>
<mask id="hm7" maskUnits="userSpaceOnUse" x="1380.3" y="1791.7" width="199" height="140.6"><g fill="#fff" stroke="#000" stroke-width="3.1" filter="url(#wob)"><ellipse cx="1451.2" cy="1884.4" rx="10.6" ry="9.5" transform="rotate(105 1451.2 1884.4)"/><ellipse cx="1543.5" cy="1817.3" rx="12.5" ry="7.6" transform="rotate(5 1543.5 1817.3)"/><ellipse cx="1453" cy="1907.8" rx="10.9" ry="8.6" transform="rotate(131 1453 1907.8)"/><ellipse cx="1562.6" cy="1794.9" rx="12.1" ry="7.2" transform="rotate(139 1562.6 1794.9)"/><ellipse cx="1474.8" cy="1885.3" rx="12" ry="10.3" transform="rotate(74 1474.8 1885.3)"/><ellipse cx="1548.2" cy="1885" rx="12.6" ry="9" transform="rotate(92 1548.2 1885)"/><ellipse cx="1542.1" cy="1912.7" rx="12.6" ry="9.1" transform="rotate(102 1542.1 1912.7)"/><ellipse cx="1506.7" cy="1895.6" rx="9.9" ry="10" transform="rotate(63 1506.7 1895.6)"/><ellipse cx="1497.4" cy="1829.8" rx="11.8" ry="10.3" transform="rotate(135 1497.4 1829.8)"/><ellipse cx="1442" cy="1810.4" rx="11.1" ry="8.4" transform="rotate(38 1442 1810.4)"/><ellipse cx="1530.9" cy="1854" rx="11.4" ry="7.2" transform="rotate(105 1530.9 1854)"/><ellipse cx="1432.1" cy="1866.4" rx="11.2" ry="9.4" transform="rotate(168 1432.1 1866.4)"/><ellipse cx="1480" cy="1853" rx="22.8" ry="16.2" transform="rotate(4 1480 1853)"/><ellipse cx="1383.9" cy="1867.4" rx="17.5" ry="12.7" transform="rotate(126 1383.9 1867.4)"/><ellipse cx="1466.6" cy="1837.4" rx="21.7" ry="14.1" transform="rotate(22 1466.6 1837.4)"/><ellipse cx="1515.7" cy="1806.6" rx="10.5" ry="8.3" transform="rotate(22 1515.7 1806.6)"/><ellipse cx="1420.7" cy="1924.8" rx="11.8" ry="9.2" transform="rotate(14 1420.7 1924.8)"/><ellipse cx="1535.3" cy="1789.5" rx="12.5" ry="8.7" transform="rotate(14 1535.3 1789.5)"/><ellipse cx="1577.6" cy="1918.1" rx="11.9" ry="10.2" transform="rotate(103 1577.6 1918.1)"/><ellipse cx="1564.8" cy="1842.6" rx="10" ry="8.1" transform="rotate(164 1564.8 1842.6)"/><ellipse cx="1429.7" cy="1788.8" rx="11.5" ry="10.1" transform="rotate(64 1429.7 1788.8)"/><ellipse cx="1430.2" cy="1834.1" rx="18.8" ry="14.1" transform="rotate(0 1430.2 1834.1)"/><ellipse cx="1379.4" cy="1831.9" rx="22.1" ry="15.5" transform="rotate(153 1379.4 1831.9)"/><ellipse cx="1420.5" cy="1881.1" rx="10.2" ry="9.2" transform="rotate(148 1420.5 1881.1)"/><ellipse cx="1574.7" cy="1817.2" rx="11.8" ry="8.3" transform="rotate(166 1574.7 1817.2)"/><ellipse cx="1480.2" cy="1801.3" rx="13.3" ry="10.3" transform="rotate(9 1480.2 1801.3)"/><ellipse cx="1386.2" cy="1924.5" rx="10.6" ry="7.5" transform="rotate(76 1386.2 1924.5)"/><ellipse cx="1484.5" cy="1918.8" rx="10.3" ry="8.8" transform="rotate(90 1484.5 1918.8)"/><ellipse cx="1493.3" cy="1804.7" rx="19" ry="13.4" transform="rotate(14 1493.3 1804.7)"/><ellipse cx="1438.9" cy="1932.6" rx="18.2" ry="14.5" transform="rotate(169 1438.9 1932.6)"/><ellipse cx="1376.6" cy="1792.1" rx="19.3" ry="11.5" transform="rotate(20 1376.6 1792.1)"/><ellipse cx="1557.7" cy="1869.6" rx="11.4" ry="9.1" transform="rotate(171 1557.7 1869.6)"/><ellipse cx="1579.8" cy="1786.7" rx="9.7" ry="8.5" transform="rotate(116 1579.8 1786.7)"/><ellipse cx="1459.2" cy="1824.9" rx="10.4" ry="8.3" transform="rotate(33 1459.2 1824.9)"/><ellipse cx="1556.8" cy="1814.8" rx="12.9" ry="10.4" transform="rotate(96 1556.8 1814.8)"/><ellipse cx="1448.2" cy="1794.5" rx="13.4" ry="9.2" transform="rotate(63 1448.2 1794.5)"/><ellipse cx="1396.8" cy="1802.7" rx="11.3" ry="9.4" transform="rotate(84 1396.8 1802.7)"/><ellipse cx="1436.9" cy="1908" rx="11.2" ry="9.2" transform="rotate(22 1436.9 1908)"/><ellipse cx="1574.3" cy="1899.9" rx="11.6" ry="10.4" transform="rotate(159 1574.3 1899.9)"/><ellipse cx="1493.5" cy="1907.5" rx="10.4" ry="9.3" transform="rotate(3 1493.5 1907.5)"/><ellipse cx="1440.7" cy="1824.3" rx="11.7" ry="7.4" transform="rotate(136 1440.7 1824.3)"/><ellipse cx="1531.1" cy="1873.4" rx="9.9" ry="10.6" transform="rotate(19 1531.1 1873.4)"/><ellipse cx="1484.7" cy="1895.8" rx="17.8" ry="12.2" transform="rotate(21 1484.7 1895.8)"/><ellipse cx="1455.8" cy="1848.1" rx="10" ry="9.7" transform="rotate(57 1455.8 1848.1)"/><ellipse cx="1384.3" cy="1848.3" rx="10.4" ry="9.2" transform="rotate(10 1384.3 1848.3)"/><ellipse cx="1580.6" cy="1848.4" rx="10.6" ry="9.6" transform="rotate(163 1580.6 1848.4)"/><ellipse cx="1407.9" cy="1820.7" rx="17.7" ry="13.7" transform="rotate(44 1407.9 1820.7)"/><ellipse cx="1545.6" cy="1837.9" rx="12.3" ry="9.5" transform="rotate(107 1545.6 1837.9)"/><ellipse cx="1559.4" cy="1910.9" rx="9.7" ry="8.7" transform="rotate(30 1559.4 1910.9)"/><ellipse cx="1419.1" cy="1859.1" rx="12.9" ry="8" transform="rotate(140 1419.1 1859.1)"/><ellipse cx="1376.9" cy="1808.7" rx="9.2" ry="10.3" transform="rotate(66 1376.9 1808.7)"/><ellipse cx="1415.7" cy="1908.7" rx="12" ry="9.6" transform="rotate(108 1415.7 1908.7)"/><ellipse cx="1395.4" cy="1876" rx="10.4" ry="7.6" transform="rotate(25 1395.4 1876)"/><ellipse cx="1435.8" cy="1849" rx="13.5" ry="8.2" transform="rotate(156 1435.8 1849)"/><ellipse cx="1471.9" cy="1901.1" rx="9.3" ry="7.4" transform="rotate(75 1471.9 1901.1)"/><ellipse cx="1575.5" cy="1861.6" rx="10.9" ry="8.1" transform="rotate(171 1575.5 1861.6)"/><ellipse cx="1440.4" cy="1894" rx="11.4" ry="8.6" transform="rotate(48 1440.4 1894)"/><ellipse cx="1525.7" cy="1817.4" rx="10.4" ry="9.3" transform="rotate(157 1525.7 1817.4)"/><ellipse cx="1479.7" cy="1816.2" rx="22.3" ry="11.3" transform="rotate(83 1479.7 1816.2)"/><ellipse cx="1394" cy="1905.2" rx="10.8" ry="8.9" transform="rotate(149 1394 1905.2)"/><ellipse cx="1498.4" cy="1845.5" rx="21.3" ry="12.5" transform="rotate(125 1498.4 1845.5)"/><ellipse cx="1525.4" cy="1930.6" rx="13.4" ry="9.3" transform="rotate(146 1525.4 1930.6)"/><ellipse cx="1498.6" cy="1790.6" rx="11.4" ry="9.1" transform="rotate(78 1498.6 1790.6)"/><ellipse cx="1467" cy="1934.5" rx="12.9" ry="8.6" transform="rotate(154 1467 1934.5)"/><ellipse cx="1542" cy="1933.7" rx="9.9" ry="8.1" transform="rotate(162 1542 1933.7)"/><ellipse cx="1460.2" cy="1803.7" rx="22.8" ry="12.8" transform="rotate(152 1460.2 1803.7)"/><ellipse cx="1379.8" cy="1904" rx="9.6" ry="10.7" transform="rotate(177 1379.8 1904)"/><ellipse cx="1385.9" cy="1820" rx="11.3" ry="9.2" transform="rotate(10 1385.9 1820)"/><ellipse cx="1469.4" cy="1870.7" rx="22" ry="12.3" transform="rotate(95 1469.4 1870.7)"/><ellipse cx="1416.7" cy="1803.3" rx="10.9" ry="10.5" transform="rotate(35 1416.7 1803.3)"/><ellipse cx="1457.6" cy="1920.8" rx="17.7" ry="12.7" transform="rotate(71 1457.6 1920.8)"/><ellipse cx="1511.7" cy="1839.3" rx="13.1" ry="10.1" transform="rotate(22 1511.7 1839.3)"/><ellipse cx="1398.8" cy="1837.1" rx="9.7" ry="7.4" transform="rotate(127 1398.8 1837.1)"/><ellipse cx="1487.7" cy="1878.9" rx="9.2" ry="8.7" transform="rotate(18 1487.7 1878.9)"/><ellipse cx="1525.2" cy="1834.5" rx="12.7" ry="8.9" transform="rotate(64 1525.2 1834.5)"/><ellipse cx="1503.6" cy="1931.6" rx="13.3" ry="9.2" transform="rotate(70 1503.6 1931.6)"/><ellipse cx="1525.5" cy="1909.4" rx="12.5" ry="10.2" transform="rotate(73 1525.5 1909.4)"/><ellipse cx="1405" cy="1934.6" rx="10.1" ry="10.5" transform="rotate(94 1405 1934.6)"/><ellipse cx="1398.1" cy="1852.1" rx="11.4" ry="10" transform="rotate(60 1398.1 1852.1)"/><ellipse cx="1385.1" cy="1885.7" rx="12.5" ry="9.6" transform="rotate(1 1385.1 1885.7)"/><ellipse cx="1401.8" cy="1889.2" rx="12.6" ry="10" transform="rotate(12 1401.8 1889.2)"/><ellipse cx="1511.6" cy="1860.1" rx="12.5" ry="10.6" transform="rotate(18 1511.6 1860.1)"/><ellipse cx="1487.3" cy="1932" rx="10.9" ry="10" transform="rotate(136 1487.3 1932)"/><ellipse cx="1572.4" cy="1881.6" rx="12.6" ry="8.4" transform="rotate(113 1572.4 1881.6)"/><ellipse cx="1468.8" cy="1787.6" rx="21" ry="12.9" transform="rotate(80 1468.8 1787.6)"/><ellipse cx="1583.7" cy="1799.8" rx="10.6" ry="8.5" transform="rotate(102 1583.7 1799.8)"/><ellipse cx="1582.7" cy="1931.6" rx="19.3" ry="13.4" transform="rotate(22 1582.7 1931.6)"/><ellipse cx="1398.9" cy="1919.6" rx="12.6" ry="9" transform="rotate(76 1398.9 1919.6)"/><ellipse cx="1507.4" cy="1877.3" rx="11.1" ry="9.8" transform="rotate(56 1507.4 1877.3)"/><ellipse cx="1582.4" cy="1828.7" rx="13" ry="9.6" transform="rotate(161 1582.4 1828.7)"/><ellipse cx="1549.8" cy="1851.8" rx="21.4" ry="12.4" transform="rotate(81 1549.8 1851.8)"/><ellipse cx="1558.9" cy="1929.7" rx="17.2" ry="12" transform="rotate(58 1558.9 1929.7)"/><ellipse cx="1425.5" cy="1897" rx="10.6" ry="10.6" transform="rotate(46 1425.5 1897)"/><ellipse cx="1482.8" cy="1787.1" rx="12.2" ry="10.6" transform="rotate(108 1482.8 1787.1)"/><ellipse cx="1506.8" cy="1911.7" rx="11.3" ry="7.8" transform="rotate(15 1506.8 1911.7)"/><ellipse cx="1548.8" cy="1802.6" rx="10.2" ry="9.9" transform="rotate(87 1548.8 1802.6)"/><ellipse cx="1516.1" cy="1788.4" rx="12.9" ry="9.1" transform="rotate(89 1516.1 1788.4)"/><ellipse cx="1424.8" cy="1821.4" rx="12.8" ry="9.2" transform="rotate(65 1424.8 1821.4)"/><ellipse cx="1560.2" cy="1894.7" rx="11.8" ry="7.7" transform="rotate(99 1560.2 1894.7)"/><ellipse cx="1434.9" cy="1881.1" rx="11.5" ry="10" transform="rotate(113 1434.9 1881.1)"/><ellipse cx="1534.5" cy="1804.8" rx="15.7" ry="12" transform="rotate(10 1534.5 1804.8)"/><ellipse cx="1480.1" cy="1838.9" rx="9.4" ry="7.9" transform="rotate(168 1480.1 1838.9)"/><ellipse cx="1494.5" cy="1863.4" rx="9.3" ry="9.3" transform="rotate(94 1494.5 1863.4)"/><ellipse cx="1412.9" cy="1843.1" rx="12.2" ry="7.4" transform="rotate(154 1412.9 1843.1)"/><ellipse cx="1508.2" cy="1818.3" rx="10" ry="8.9" transform="rotate(169 1508.2 1818.3)"/><ellipse cx="1520.9" cy="1883.4" rx="12.3" ry="8.5" transform="rotate(53 1520.9 1883.4)"/><ellipse cx="1408.4" cy="1868.2" rx="15.8" ry="14.2" transform="rotate(176 1408.4 1868.2)"/><ellipse cx="1412.7" cy="1788.9" rx="13.4" ry="10.5" transform="rotate(93 1412.7 1788.9)"/><ellipse cx="1550.5" cy="1788.3" rx="9.7" ry="10.5" transform="rotate(57 1550.5 1788.3)"/><ellipse cx="1564.7" cy="1828.4" rx="10.9" ry="7.3" transform="rotate(20 1564.7 1828.4)"/><ellipse cx="1443.6" cy="1837.7" rx="10.5" ry="9.9" transform="rotate(58 1443.6 1837.7)"/><ellipse cx="1452" cy="1936.9" rx="12.9" ry="7.6" transform="rotate(4 1452 1936.9)"/><ellipse cx="1394.9" cy="1788.5" rx="17.8" ry="16.1" transform="rotate(164 1394.9 1788.5)"/><ellipse cx="1375.5" cy="1936.7" rx="21.5" ry="11.7" transform="rotate(178 1375.5 1936.7)"/></g></mask></defs>
<rect width="2163" height="2024" fill="#fff"/>
<text x="-0.1" y="29.3" font-size="39.5" font-weight="bold" fill="#231f20" stroke="#231f20" stroke-width="0.9" textLength="22" lengthAdjust="spacingAndGlyphs">a</text>
<text x="306.7" y="47.8" font-size="27" textLength="74.8" lengthAdjust="spacingAndGlyphs">MCF7</text>
<line x1="116.6" y1="70.7" x2="116.6" y2="372.6" stroke="#231f20" stroke-width="1.5"/>
<line x1="116.6" y1="372" x2="125.8" y2="372" stroke="#231f20" stroke-width="1.5"/>
<text x="89.5" y="379.8" font-size="25" textLength="14.6" lengthAdjust="spacingAndGlyphs">0</text>
<line x1="116.6" y1="311.8" x2="125.8" y2="311.8" stroke="#231f20" stroke-width="1.5"/>
<text x="89.7" y="319.6" font-size="25" textLength="14.6" lengthAdjust="spacingAndGlyphs">5</text>
<line x1="116.6" y1="251.5" x2="125.8" y2="251.5" stroke="#231f20" stroke-width="1.5"/>
<text x="75" y="259.3" font-size="25" textLength="29.2" lengthAdjust="spacingAndGlyphs">10</text>
<line x1="116.6" y1="191.2" x2="125.8" y2="191.2" stroke="#231f20" stroke-width="1.5"/>
<text x="75.1" y="199.1" font-size="25" textLength="29.2" lengthAdjust="spacingAndGlyphs">15</text>
<line x1="116.6" y1="131" x2="125.8" y2="131" stroke="#231f20" stroke-width="1.5"/>
<text x="75" y="138.8" font-size="25" textLength="29.2" lengthAdjust="spacingAndGlyphs">20</text>
<line x1="116.6" y1="70.8" x2="125.8" y2="70.8" stroke="#231f20" stroke-width="1.5"/>
<text x="75.1" y="78.5" font-size="25" textLength="29.2" lengthAdjust="spacingAndGlyphs">25</text>
<line x1="116" y1="372" x2="571.5" y2="372" stroke="#231f20" stroke-width="1.5"/>
<line x1="116.6" y1="372" x2="116.6" y2="377.5" stroke="#231f20" stroke-width="1.5"/>
<text x="109.3" y="406.4" font-size="25" textLength="14.6" lengthAdjust="spacingAndGlyphs">0</text>
<line x1="203.4" y1="372" x2="203.4" y2="377.5" stroke="#231f20" stroke-width="1.5"/>
<text x="196" y="406.4" font-size="25" textLength="14.6" lengthAdjust="spacingAndGlyphs">2</text>
<line x1="290.2" y1="372" x2="290.2" y2="377.5" stroke="#231f20" stroke-width="1.5"/>
<text x="283" y="406.4" font-size="25" textLength="14.6" lengthAdjust="spacingAndGlyphs">4</text>
<line x1="377" y1="372" x2="377" y2="377.5" stroke="#231f20" stroke-width="1.5"/>
<text x="369.6" y="406.4" font-size="25" textLength="14.6" lengthAdjust="spacingAndGlyphs">6</text>
<line x1="463.8" y1="372" x2="463.8" y2="377.5" stroke="#231f20" stroke-width="1.5"/>
<text x="456.5" y="406.4" font-size="25" textLength="14.6" lengthAdjust="spacingAndGlyphs">8</text>
<line x1="550.6" y1="372" x2="550.6" y2="377.5" stroke="#231f20" stroke-width="1.5"/>
<text x="535.5" y="406.4" font-size="25" textLength="29.2" lengthAdjust="spacingAndGlyphs">10</text>
<text x="314.3" y="446.6" font-size="27" textLength="59.3" lengthAdjust="spacingAndGlyphs">Days</text>
<text x="-54.5" y="219.8" font-size="27.5" transform="rotate(-90 50.9 219.8)" textLength="208.4" lengthAdjust="spacingAndGlyphs">Relative viability</text>
<line x1="134.7" y1="80.3" x2="192" y2="80.3" stroke="#2f6cb4" stroke-width="1.4"/>
<circle cx="163" cy="80.3" r="6.3" fill="#2f6cb4"/>
<text x="206.4" y="88.9" font-size="26.7" textLength="88.4" lengthAdjust="spacingAndGlyphs">WT/KO</text>
<line x1="134.7" y1="123.3" x2="192" y2="123.3" stroke="#e97b30" stroke-width="1.4"/>
<circle cx="163" cy="123.3" r="6.3" fill="#e97b30"/>
<text x="205.1" y="131.5" font-size="26.7" textLength="100.9" lengthAdjust="spacingAndGlyphs">6KR/KO</text>
<line x1="550.6" y1="281" x2="550.6" y2="309.6" stroke="#2f6cb4" stroke-width="1.5"/>
<line x1="543" y1="281" x2="558.2" y2="281" stroke="#2f6cb4" stroke-width="1.5"/>
<line x1="543" y1="309.6" x2="558.2" y2="309.6" stroke="#2f6cb4" stroke-width="1.5"/>
<line x1="550.6" y1="99.4" x2="550.6" y2="222.5" stroke="#e97b30" stroke-width="1.5"/>
<line x1="543" y1="99.4" x2="558.2" y2="99.4" stroke="#e97b30" stroke-width="1.5"/>
<line x1="543" y1="222.5" x2="558.2" y2="222.5" stroke="#e97b30" stroke-width="1.5"/>
<line x1="463.8" y1="256.9" x2="463.8" y2="295.1" stroke="#e97b30" stroke-width="1.5"/>
<line x1="456.2" y1="256.9" x2="471.4" y2="256.9" stroke="#e97b30" stroke-width="1.5"/>
<line x1="456.2" y1="295.1" x2="471.4" y2="295.1" stroke="#e97b30" stroke-width="1.5"/>
<line x1="377" y1="305.8" x2="377" y2="331" stroke="#e97b30" stroke-width="1.5"/>
<line x1="369.4" y1="305.8" x2="384.6" y2="305.8" stroke="#e97b30" stroke-width="1.5"/>
<line x1="369.4" y1="331" x2="384.6" y2="331" stroke="#e97b30" stroke-width="1.5"/>
<path d="M116.6 358.6 L203.4 357.2 L290.2 353.9 L377 345.3 L463.8 329.5 L550.6 295.1" stroke="#2f6cb4" stroke-width="2.4" fill="none"/>
<circle cx="116.6" cy="358.6" r="9.4" fill="#2f6cb4"/>
<circle cx="203.4" cy="357.2" r="9.4" fill="#2f6cb4"/>
<circle cx="290.2" cy="353.9" r="9.4" fill="#2f6cb4"/>
<circle cx="377" cy="345.3" r="9.4" fill="#2f6cb4"/>
<circle cx="463.8" cy="329.5" r="9.4" fill="#2f6cb4"/>
<circle cx="550.6" cy="295.1" r="9.4" fill="#2f6cb4"/>
<path d="M116.6 358.6 L203.4 352 L290.2 343 L377 318.1 L463.8 276 L550.6 161.3" stroke="#e97b30" stroke-width="2.4" fill="none"/>
<circle cx="116.6" cy="358.6" r="9.4" fill="#e97b30"/>
<circle cx="203.4" cy="352" r="9.4" fill="#e97b30"/>
<circle cx="290.2" cy="343" r="9.4" fill="#e97b30"/>
<circle cx="377" cy="318.1" r="9.4" fill="#e97b30"/>
<circle cx="463.8" cy="276" r="9.4" fill="#e97b30"/>
<circle cx="550.6" cy="161.3" r="9.4" fill="#e97b30"/>
<path d="M582.2 140.3 H602.8 V311.5 H582.2" stroke="#231f20" stroke-width="1.4" fill="none"/>
<text x="615.6" y="232.4" font-size="22.6" textLength="113.6" lengthAdjust="spacingAndGlyphs"><tspan font-style="italic">P</tspan> = 0.0019</text>
<text x="782.2" y="28.1" font-size="39.5" font-weight="bold" fill="#231f20" stroke="#231f20" stroke-width="0.9" textLength="26.5" lengthAdjust="spacingAndGlyphs">b</text>
<text x="1049.9" y="100" font-size="27" textLength="72.6" lengthAdjust="spacingAndGlyphs">MCF7</text>
<text x="794" y="202.4" font-size="26.7" textLength="88.1" lengthAdjust="spacingAndGlyphs">WT/KO</text>
<text x="783.2" y="334.1" font-size="26.7" textLength="98.9" lengthAdjust="spacingAndGlyphs">6KR/KO</text>
<rect x="891.2" y="111.9" width="390.4" height="268.4" fill="url(#plate)"/>
<rect x="891.2" y="111.9" width="390.4" height="4" fill="#cbd8dc"/>
<circle cx="959.6" cy="186.8" r="63" fill="url(#well0)"/>
<circle cx="959.6" cy="186.8" r="63.7" fill="none" stroke="#8e9ea5" stroke-width="1"/>
<circle cx="959.6" cy="186.8" r="62" fill="none" stroke="#ebe6ec" stroke-width="2.2"/>
<circle cx="959.6" cy="186.8" r="58" fill="none" stroke="#d6dde8" stroke-width="1"/>
<path d="M958.2 195.6h0M916.4 218.4h0M943.8 237.1h0M960.6 172h0M949.4 175.8h0M947.1 188.6h0M964.1 241h0M927.9 230.7h0M949.5 221.2h0M936.8 143.5h0" stroke="#3035a5" stroke-width="1.2" stroke-linecap="round" opacity="0.3"/>
<path d="M995.8 157.7h0M961.5 196.4h0M904.2 176.5h0M976.3 212.5h0M981.3 180.3h0M1009.6 169.5h0M978.2 234.1h0M923.6 194.4h0M984.2 196.3h0M965.9 201.5h0M1016 185.4h0M954.8 239.5h0" stroke="#3035a5" stroke-width="1.0" stroke-linecap="round" opacity="0.65"/>
<path d="M915.9 174.1h0M1006.9 209.4h0M929.3 213.5h0M922.6 182.1h0M998.7 224.2h0M910 191.6h0" stroke="#3035a5" stroke-width="1.2" stroke-linecap="round" opacity="0.45"/>
<path d="M1010.4 188.9h0M924.4 158h0M943 202.5h0M930.6 186.7h0M973.8 188.7h0M993.1 173.9h0M991.9 214.2h0M935.4 137.6h0M913.3 183.5h0M957.4 225.7h0" stroke="#3035a5" stroke-width="1.2" stroke-linecap="round" opacity="0.65"/>
<path d="M966 215.9h0M969.7 172.4h0M951.7 174.2h0M972 179.3h0M966.7 183.4h0M1001.8 203.7h0M936.3 168.8h0M907.5 185h0M979.2 138.1h0M942.3 150.4h0M983.8 236.9h0M932.4 156.7h0" stroke="#3035a5" stroke-width="1.5" stroke-linecap="round" opacity="0.3"/>
<path d="M1000.4 179.8h0M990.1 168.6h0M987.5 234.1h0M917.5 204.1h0M977.2 206.1h0M936.2 194.6h0M993 199.7h0M1014.9 185.2h0M963 234.5h0M927.1 175.7h0M972.5 173.4h0M942.7 139h0M911.8 210.5h0" stroke="#3035a5" stroke-width="1.9" stroke-linecap="round" opacity="0.3"/>
<path d="M921.8 151.9h0M945.6 204.8h0M933.6 176.2h0M914.2 176.1h0M970.9 167.4h0M909.7 177.6h0M1008 160.5h0M944.7 232.4h0M937.1 200.1h0" stroke="#3035a5" stroke-width="1.5" stroke-linecap="round" opacity="0.65"/>
<path d="M921.2 222.8h0M984.6 173.7h0M956.2 231.8h0M982.1 203.8h0M913.2 155.1h0M969 199.8h0M966.6 174.6h0" stroke="#3035a5" stroke-width="1.9" stroke-linecap="round" opacity="0.65"/>
<path d="M1006.1 203.9h0M915.2 210.4h0M953.5 223.1h0M990.7 172.9h0M947.9 208.7h0M971.7 185.6h0M951.3 166.7h0" stroke="#3035a5" stroke-width="1.0" stroke-linecap="round" opacity="0.45"/>
<path d="M975.9 191.8h0M915.4 175.3h0M947.1 215.1h0M986.2 175h0" stroke="#3035a5" stroke-width="1.0" stroke-linecap="round" opacity="0.3"/>
<path d="M941.5 141.2h0M920.7 208.4h0M958.8 177.9h0M954.6 149.9h0M977.7 155.7h0M920.3 155.7h0M964.2 234.3h0" stroke="#3035a5" stroke-width="1.5" stroke-linecap="round" opacity="0.45"/>
<path d="M985.7 231.8h0M965.8 158.4h0M974.9 228.9h0" stroke="#3035a5" stroke-width="1.9" stroke-linecap="round" opacity="0.45"/>
<circle cx="1088" cy="184.8" r="62.5" fill="url(#well0)"/>
<circle cx="1088" cy="184.8" r="63.2" fill="none" stroke="#8e9ea5" stroke-width="1"/>
<circle cx="1088" cy="184.8" r="61.5" fill="none" stroke="#ebe6ec" stroke-width="2.2"/>
<circle cx="1088" cy="184.8" r="57.5" fill="none" stroke="#d6dde8" stroke-width="1"/>
<path d="M1093.7 179.5h0M1076 207.6h0M1054.3 154.7h0M1088.1 147.2h0M1134.8 212.7h0M1060.9 188.9h0M1063.2 218.1h0M1046.4 192.9h0M1072.4 235.8h0M1069.4 196.8h0M1033.8 195.1h0M1089.3 183.4h0M1068.7 218.7h0M1073.3 156.3h0M1069.1 151.9h0M1067.9 133.7h0M1103 209.9h0M1061.6 178.5h0M1074.3 186.6h0M1073.8 207.5h0M1054.9 201.9h0" stroke="#3035a5" stroke-width="1.9" stroke-linecap="round" opacity="0.45"/>
<path d="M1088.7 151.6h0M1057.8 163.4h0M1081.4 221.5h0M1097.6 200.1h0M1109 203.5h0M1059.1 156.7h0M1058.9 231.6h0M1108.9 212h0M1098.8 206h0M1076.1 161h0M1084.3 233.1h0M1070 133.3h0M1110.1 192.4h0M1036.3 177.8h0" stroke="#3035a5" stroke-width="1.9" stroke-linecap="round" opacity="0.65"/>
<path d="M1055 159.8h0M1092.6 191.3h0M1109.5 231.8h0M1091 201.6h0M1100.7 132.5h0M1091.5 142.4h0M1086.6 197.4h0M1090.2 240.2h0M1048.7 221.1h0M1053.8 165.1h0M1053.5 188.5h0M1052.3 163.3h0M1077.3 169.2h0M1082.4 235.5h0M1087.8 175h0M1140.3 203.5h0M1052.2 201.5h0" stroke="#3035a5" stroke-width="1.2" stroke-linecap="round" opacity="0.45"/>
<path d="M1124.4 191.5h0M1106.2 187.8h0M1090.3 235.8h0M1128 216.1h0M1111.9 162.5h0M1073.6 140.6h0M1044.1 212.3h0M1067.2 192.8h0M1097.6 209.2h0M1103.8 202.1h0M1130.8 157.4h0M1074.6 189.3h0M1065.6 208.6h0" stroke="#3035a5" stroke-width="1.5" stroke-linecap="round" opacity="0.65"/>
<path d="M1106.1 215.5h0M1052.8 143.3h0M1099.8 180.2h0M1081.9 214.2h0M1061.9 168.9h0M1051.3 178.8h0M1131 195.7h0M1140.3 167.4h0M1048.9 196.5h0M1124.7 216.7h0" stroke="#3035a5" stroke-width="1.9" stroke-linecap="round" opacity="0.3"/>
<path d="M1122.1 162.2h0M1059.3 144.4h0M1087.4 141.2h0M1119.7 200.7h0M1101.3 181.4h0M1048.7 171.4h0M1112.4 206.4h0M1051.2 159.1h0M1121.1 163.7h0M1042.2 192.3h0M1071.3 211.1h0" stroke="#3035a5" stroke-width="1.0" stroke-linecap="round" opacity="0.3"/>
<path d="M1068 189.7h0M1087.3 235.9h0M1107.4 182.8h0M1051 211.5h0M1091.6 129.5h0M1137.6 189.1h0M1069.1 196h0M1055.4 142.8h0M1037.3 164.1h0M1088.1 139.1h0" stroke="#3035a5" stroke-width="1.0" stroke-linecap="round" opacity="0.45"/>
<path d="M1129.1 184.8h0M1129.3 203.9h0M1083.2 158.3h0M1063.1 169.1h0M1068.4 208.2h0M1103.7 206.2h0M1045.2 210.2h0M1107.4 180.5h0M1118.1 190.3h0M1130.4 182.9h0M1077.9 238.1h0M1047 156.6h0M1108.6 201.5h0M1042 188.7h0" stroke="#3035a5" stroke-width="1.5" stroke-linecap="round" opacity="0.3"/>
<path d="M1096.4 226h0M1055.9 173.6h0M1079.9 206.1h0M1079.8 146.1h0M1128.4 210.5h0M1107.8 177.9h0M1103.1 200.2h0M1072.5 192.5h0M1092.4 135.9h0" stroke="#3035a5" stroke-width="1.5" stroke-linecap="round" opacity="0.45"/>
<path d="M1044.3 217.9h0M1082.5 232.4h0M1067.9 134h0M1074.1 224.4h0M1113.1 198.9h0M1087 141.5h0M1067.8 155.2h0M1107.4 204.5h0M1058.7 169.2h0" stroke="#3035a5" stroke-width="1.2" stroke-linecap="round" opacity="0.3"/>
<path d="M1109.7 215.9h0M1058.3 164.3h0M1121.8 217.1h0M1139.8 178.5h0M1127.1 163.6h0M1129.9 155.5h0M1067.4 140.3h0M1124.2 163.5h0M1075.2 200.6h0M1086.8 167.4h0M1053.8 209.4h0" stroke="#3035a5" stroke-width="1.2" stroke-linecap="round" opacity="0.65"/>
<path d="M1107.1 190.4h0M1111.5 200h0M1036.1 197.6h0M1035.4 188.8h0M1081 229.7h0M1089.9 203.1h0M1121.6 141.8h0M1100.4 145.5h0M1094.7 221.8h0M1102.9 145.1h0M1117.4 228.4h0" stroke="#3035a5" stroke-width="1.0" stroke-linecap="round" opacity="0.65"/>
<circle cx="1216.4" cy="183.5" r="62" fill="url(#well0)"/>
<circle cx="1216.4" cy="183.5" r="62.7" fill="none" stroke="#8e9ea5" stroke-width="1"/>
<circle cx="1216.4" cy="183.5" r="61" fill="none" stroke="#ebe6ec" stroke-width="2.2"/>
<circle cx="1216.4" cy="183.5" r="57" fill="none" stroke="#d6dde8" stroke-width="1"/>
<path d="M1191.6 173.9h0M1190 164.9h0M1255.7 188h0M1238 135.1h0M1224.9 179.6h0M1200.8 174.7h0M1202.8 179.8h0M1200.6 149.8h0M1206.6 236.9h0M1253.6 166.9h0M1249.8 149h0" stroke="#3035a5" stroke-width="1.5" stroke-linecap="round" opacity="0.3"/>
<path d="M1172.4 202.2h0M1249.4 219.1h0M1191.9 208.4h0M1236.4 175.6h0M1219 226.9h0M1187.9 193.6h0M1175 211.2h0M1197.4 194.7h0M1178.4 177.7h0M1186.7 139.2h0M1270 185.8h0" stroke="#3035a5" stroke-width="1.9" stroke-linecap="round" opacity="0.3"/>
<path d="M1178.7 164.8h0M1245.8 198.3h0M1259.7 194.4h0M1242.3 162h0M1229.4 203.9h0M1240 147.7h0M1183.2 214.8h0M1246.4 229.5h0M1236.8 172.2h0M1238.2 226.6h0" stroke="#3035a5" stroke-width="1.9" stroke-linecap="round" opacity="0.45"/>
<path d="M1212.8 190.6h0M1178.8 144.5h0M1232.3 222.3h0M1256.8 200.3h0M1202.2 190.8h0M1183.7 220h0M1205 192h0M1212.1 200.2h0M1249.4 204.5h0M1208.4 215.9h0M1231.6 229.3h0M1213.9 172.8h0M1200.9 153.6h0M1204.9 206h0" stroke="#3035a5" stroke-width="1.9" stroke-linecap="round" opacity="0.65"/>
<path d="M1225.6 169.8h0M1172.9 150.7h0M1200.5 151.7h0M1228.1 130.2h0M1195.3 190.5h0M1235.9 202.2h0M1177.1 163.5h0M1230.8 130.3h0M1184.7 167.4h0M1206.5 203.7h0M1234.4 208.8h0M1266.2 195.4h0" stroke="#3035a5" stroke-width="1.2" stroke-linecap="round" opacity="0.45"/>
<path d="M1184.5 208h0M1249.4 166.4h0M1227.4 191.9h0M1185 210.6h0M1255.6 160.9h0M1198.9 162h0M1195.5 231.4h0M1207.9 161.1h0M1248.1 192.2h0M1226.7 228.9h0M1263.3 182.7h0M1181.7 142.8h0M1208.1 237.1h0M1223.5 129.9h0M1230 167.4h0M1190.2 202.9h0M1260.9 152.1h0M1170.1 205h0M1226.1 150h0M1173.4 179.3h0M1190.5 160.2h0M1163.8 197.1h0M1207.5 135.5h0M1203.9 231.7h0M1205.2 230.4h0" stroke="#3035a5" stroke-width="1.5" stroke-linecap="round" opacity="0.65"/>
<path d="M1232.2 211.4h0M1208.6 216.3h0M1270.4 182.5h0M1210.2 204.4h0M1254.2 149.6h0M1232.4 180.9h0M1167 191.8h0M1244.8 176.3h0M1266.2 201.6h0M1250.2 193.4h0M1252.9 145.6h0M1173.7 191.2h0M1219.6 231.2h0" stroke="#3035a5" stroke-width="1.0" stroke-linecap="round" opacity="0.65"/>
<path d="M1185.5 226.4h0M1219.7 151.2h0M1185.1 149.4h0M1268.9 195.9h0M1181.1 180.6h0M1185.1 145.8h0M1235.6 217.8h0M1200.4 148.9h0M1208.5 169.2h0" stroke="#3035a5" stroke-width="1.2" stroke-linecap="round" opacity="0.3"/>
<path d="M1229.4 208.4h0M1195.3 222.7h0M1223.1 133.3h0M1226.5 136.4h0M1235.2 214.1h0M1230.7 157.4h0M1246.6 197.2h0M1232.3 145.7h0M1188.3 213.8h0M1227.6 130.1h0M1223.7 129h0M1188.4 143.7h0M1172.5 176.7h0M1234.9 199.3h0" stroke="#3035a5" stroke-width="1.2" stroke-linecap="round" opacity="0.65"/>
<path d="M1180.3 190.6h0M1188 216.2h0M1177.4 198.8h0M1207.6 191.1h0M1222.8 151h0M1195.7 190.2h0M1226.4 195.2h0M1190.6 151.6h0M1185.7 190.1h0M1166.9 173.3h0M1198.2 208.9h0M1249.1 209.6h0M1227.4 209.4h0" stroke="#3035a5" stroke-width="1.5" stroke-linecap="round" opacity="0.45"/>
<path d="M1186.3 166.9h0M1187.7 164h0M1169.8 178.8h0M1252.5 159.2h0M1167.2 181.1h0M1250.6 162.9h0M1244.3 210.6h0M1207.9 222.6h0M1185.5 155.1h0M1219.2 209.7h0M1202.6 208.7h0" stroke="#3035a5" stroke-width="1.0" stroke-linecap="round" opacity="0.45"/>
<path d="M1210 206.2h0M1245.3 179.9h0M1224.9 141.1h0M1179.2 154.6h0M1192.8 169.9h0M1235.2 146.9h0M1191.9 171.5h0" stroke="#3035a5" stroke-width="1.0" stroke-linecap="round" opacity="0.3"/>
<circle cx="959" cy="315.8" r="63" fill="url(#well1)"/>
<circle cx="959" cy="315.8" r="63.7" fill="none" stroke="#8e9ea5" stroke-width="1"/>
<circle cx="959" cy="315.8" r="62" fill="none" stroke="#ebe6ec" stroke-width="2.2"/>
<circle cx="959" cy="315.8" r="58" fill="none" stroke="#d6dde8" stroke-width="1"/>
<path d="M1002.5 333.7h0M920.6 289.4h0M920 326.7h0M938.1 320.7h0M908.6 316.7h0M956 261.9h0M962.2 263.6h0M920.7 344.2h0M983.9 335.5h0M959.7 361.5h0M914.1 343.7h0M991.8 285h0M928.2 274h0M972.4 325.6h0M960.4 322.3h0M987.8 314.1h0M918.9 302.8h0M977.8 267.6h0M906.4 322.8h0M999.5 291.5h0M1003.4 290.4h0M976.4 300.5h0M959.1 344.9h0M1001.9 299.4h0M915 320.6h0M972.5 348h0M976 270.7h0M1002.3 283.1h0M962.1 366.2h0M999.5 301h0M943.2 298h0M957.6 313.2h0M967.1 331.7h0M948.7 266.9h0M934.7 270.2h0M938.9 357.9h0M945.9 274.6h0M939.5 287.8h0M959.6 274.6h0M907 302.7h0M961.8 287.4h0M937.5 349.6h0M911.3 303.1h0M964.6 354.6h0M1008.5 300.3h0M987.2 323.2h0M975.4 294.8h0M967.7 357.5h0M903.9 315.4h0M980.1 266.9h0M990.9 350.5h0M1005.2 325.3h0M964.6 269.5h0M908.7 316.2h0M1009.5 327.7h0M984.7 296.5h0M944.8 318.4h0M922.7 277.7h0M957.7 362.7h0M963.5 274.1h0M968.2 263.4h0M951 280.7h0M935.6 361.4h0M1008.8 339.1h0M1012.3 304.9h0M1006.2 303.8h0M906.6 304.1h0M983.3 359.5h0M949.9 368.2h0M945.1 299h0M1002.4 304.3h0M1001.6 286.7h0M936.7 353.2h0M1011.6 329.5h0" stroke="#3035a5" stroke-width="1.3" stroke-linecap="round" opacity="0.95"/>
<path d="M923 315.2h0M985.6 354h0M990 351.2h0M965.9 369.5h0M938.3 360.5h0M976.4 357.1h0M976.3 274.9h0M918.9 317.1h0M939.3 266.9h0M962.7 264.5h0M936.3 299.1h0M986.1 277.5h0M957.8 314h0M993.9 322.3h0M990.7 311h0M976.4 359.8h0M1001.9 345.6h0M941.2 325.1h0M950.6 341.4h0M980.2 273.5h0M940.8 366h0M952 287.8h0M950.6 269.9h0M914.4 322.7h0M973 274.7h0M911.1 321.3h0M961.2 328.3h0M962.3 358h0M943.8 264h0M996.6 334.3h0M971.2 293.3h0M949.5 296.6h0M996.4 342.3h0M983.6 337h0M1001.1 320.8h0M979 350.9h0M932 355.9h0M913.6 292.7h0M976.2 325.1h0M955.7 346.1h0M953.1 339.2h0M929.3 304.4h0M972.1 350.8h0M1005.2 325.2h0M958 273.6h0M934.7 288.9h0M1009.2 338.1h0M958.1 284.7h0M978.8 276.5h0M969.4 273.1h0M914.7 316.8h0M940.5 300.6h0M913.9 321.1h0M1001.5 348h0M946.1 326.2h0M955.5 263.9h0M1004.7 320.3h0M1007.5 342.5h0M932 340.1h0M907.2 333.1h0M924.5 358.1h0M997.5 346.4h0" stroke="#3035a5" stroke-width="3.0" stroke-linecap="round" opacity="0.95"/>
<path d="M1001 299.3h0M959.8 367.1h0M990.7 354.2h0M1000 353h0M950.9 273.4h0M1011.6 334.3h0M993.8 334.1h0M999.1 303.6h0M929.9 330.3h0M937.4 321.9h0M998.8 279.4h0M955.8 261.9h0M940.2 336.3h0M1004.7 327.6h0M951.1 316.9h0M940.7 293.2h0M938.9 344h0M981.7 264.2h0M994.5 292.2h0M940.9 315.4h0M935 276.6h0M988 276.2h0M978.7 363.3h0M1013.1 305.7h0M946 365.7h0M918.8 319.1h0M999.2 288h0M986.1 364h0M932 313.3h0M996.2 338.8h0M904.9 323.8h0M956.7 290.7h0M986.7 269.8h0M927.1 274.1h0M978.1 266.6h0M972.9 312.9h0M975.6 366.7h0M906 306.8h0M973.6 288.3h0M990.7 320.8h0M963 281.2h0M1005.8 304.1h0M988.3 321.6h0M970.6 369.6h0M919.4 342.3h0M941 265.5h0M1008.5 318.1h0M932.8 274.9h0M953.8 282.7h0M956.1 372.1h0M990.1 355.3h0M982 321.6h0M909 301h0" stroke="#3035a5" stroke-width="2.1" stroke-linecap="round" opacity="0.75"/>
<path d="M917.8 323.4h0M974.9 367.1h0M916.7 332.9h0M1012.9 310.9h0M931.2 305.5h0M975.9 367.7h0M963.9 280.8h0M930.9 361.5h0M943.2 312.1h0M936.2 287.2h0M975.4 285.3h0M981.7 268.3h0M984.6 357.8h0M987 272h0M1001.9 281.2h0M905.8 316.6h0M923 273.6h0M904.2 308.7h0M990.1 294.5h0M992.4 356.1h0M977.1 267h0M970.4 333.6h0M927.9 291.9h0M915.8 284h0M944.7 285.5h0M917.5 318.4h0M927.5 322.1h0M929.8 349.3h0M922.5 298.4h0M939.1 331.2h0M947.2 299h0M950.3 285.6h0M1000.7 330.7h0M999.3 284.3h0M951.4 264h0M943.1 274.6h0M982.7 267.2h0M941.6 340.2h0M967.7 279.5h0M956.4 268.1h0M958.2 284.8h0M1007.2 333.8h0M970 267.1h0M942.6 269.2h0" stroke="#3035a5" stroke-width="2.6" stroke-linecap="round" opacity="0.75"/>
<path d="M988.5 298.9h0M950.4 261.7h0M1013.1 312.5h0M965.4 301.8h0M917 312.5h0M907.4 319.5h0M985.7 271.7h0M941.1 294.6h0M962.7 269.3h0M956.1 267.2h0M970 289.3h0M928.3 339h0M968.6 323.6h0M917.5 336.6h0M912.8 298.4h0M1009.9 309.7h0M1007.1 340.9h0M957 357.4h0M970.1 350h0M963.6 266.8h0M979.3 345.9h0M995.8 306.3h0M924.5 357.3h0M927.8 353.4h0M996.4 289.8h0M1010.4 319.7h0M947.2 272.2h0M1006.5 336h0M952 316.4h0" stroke="#3035a5" stroke-width="1.3" stroke-linecap="round" opacity="0.45"/>
<path d="M908.7 335.1h0M960.8 291.4h0M965 367.3h0M947.8 270.4h0M968 267.2h0M942.5 343.7h0M967.1 361.3h0M975.7 264.9h0M956.1 265.9h0M1010.7 319.8h0M1001.2 289.1h0M993.8 311.3h0M942.7 354.3h0M930.7 290.5h0M925.7 290.5h0M963.8 363.4h0M978.4 316.7h0M930.8 271.8h0M905.9 312.3h0M986.7 306.2h0M953.1 324.1h0M1001.3 310.3h0M966.7 292h0M983 319.3h0M996 351.5h0M909.3 313.9h0M917.1 314.6h0M939.3 353.4h0M941.2 279.1h0M965.8 262.4h0M951.4 331h0M981.2 315.4h0M961.4 362.2h0M947.7 298.9h0M907.7 303.8h0M1010.9 331.2h0" stroke="#3035a5" stroke-width="3.0" stroke-linecap="round" opacity="0.75"/>
<path d="M990.8 292.4h0M990.1 320.1h0M1000.2 327.9h0M969.9 307.2h0M1004.7 291.5h0M1007.8 332.2h0M952.1 314.4h0M907.8 304.1h0M949.9 289.5h0M926 273.3h0M937.1 265.8h0M929.4 289.2h0M996.1 276.1h0M966 321.2h0M933.5 318.6h0M939.2 358.6h0M938.6 277.5h0M950.6 335.2h0M956.7 266h0M930.8 308h0M966.4 352.6h0M939.3 283h0M960.6 267.7h0M996.6 317.7h0M968 270.2h0M962.4 306.7h0M952.2 280h0M1007.4 330.2h0M962.8 366.2h0M973.5 345.4h0M991.3 303.5h0M985 277.9h0M980.7 355.8h0M950.7 341.9h0M953.1 346.3h0M979.9 274.3h0M933.9 329.9h0M987.6 277h0M978.1 303.1h0M1010.3 300.9h0M989 290.2h0M938.7 361.8h0M915.6 314.7h0M906.8 304.5h0M971.6 334.1h0M927.7 337.2h0M963.2 297.9h0M1013.5 313.9h0M1001.4 342.9h0M920.7 348.3h0M932.9 281.1h0M956 358.5h0M993.6 275h0M939.5 313.6h0M974.5 276.6h0M965.3 275.9h0M1001.6 333.8h0M1008.4 320.5h0M946.7 276.7h0M996.6 284.8h0M915.7 311h0M957.9 344h0M1011 314.9h0M995.9 275.9h0M941.8 363.5h0M943.4 271.2h0M918 351.2h0M937.9 351.4h0M954.2 285.3h0M975 266.1h0M911.9 306.1h0M948 262.2h0M913.7 320.6h0M938.6 305h0M1005.5 313.8h0M958 362.9h0M941.8 322.4h0M952.5 270.3h0M981.7 265.8h0M955.1 321.9h0" stroke="#3035a5" stroke-width="2.1" stroke-linecap="round" opacity="0.45"/>
<path d="M908.4 332.7h0M1007.7 309.2h0M922.1 316.8h0M924.9 308.5h0M968.3 346.4h0M930.3 362.6h0M935.7 333.4h0M983.2 274.7h0M937.5 291.7h0M917.3 286.7h0M995.6 331.2h0M944.2 274.5h0M936.1 360.2h0M948.3 287.3h0M974.3 314.9h0M931.6 279.6h0M993.5 358.4h0M995 283.3h0M909.8 304.2h0M936.8 275.1h0M921.3 292.8h0M954 358.4h0M986.4 304.2h0M1003.1 345.1h0M997.6 344.8h0M958.7 289.7h0M978.3 363.4h0M914.2 315.5h0M983.4 356.4h0M920.7 276.2h0M966.7 263.8h0M925.1 352.4h0M946.6 277h0M1007.1 291.7h0M977.2 359.5h0M973.1 267.2h0M1005.5 333.7h0M910.1 290.6h0M982.1 361.5h0M1005.3 316.2h0M1000.6 278.9h0M984.4 333.3h0M915.1 337.3h0M963.2 297.1h0M993.1 340.9h0M911.7 332.5h0M939.1 275h0M1013.1 304.2h0M1001.6 333.9h0M911.5 341.7h0M985.9 286.2h0M967.6 268.8h0M993.3 352h0M1002.3 301.3h0M990.2 350.7h0M1009.8 307.1h0M915.3 328h0M984 337.5h0M904.3 313.9h0M926.4 279.5h0M987 360.6h0M950 324.1h0M977.9 320.7h0M957.4 366.9h0M983.7 278.6h0M986 347h0M975 358.8h0M928.8 278.9h0M996.9 279.2h0M984.4 321.7h0M905.5 310.3h0M938.4 299.5h0M998.6 334.1h0M972.1 264.1h0M976.4 293.3h0M952 272.3h0M956.3 332.2h0M964.3 273.7h0M952.3 344h0M1007.4 287.6h0M1007.1 332.8h0M917.7 292.7h0M929.6 348.8h0M922.6 353.4h0M1002.6 333.1h0M958.4 298.3h0M914.8 304.9h0M991.4 278.1h0M932.7 277.1h0M981.8 320.9h0M985.6 287.8h0M991.2 353h0M912.2 318.2h0M977.1 299.2h0M968.3 360.2h0M989.1 344.9h0M975.7 303.5h0M945.8 360.7h0M999 298h0M986.8 357.3h0M965 270.4h0M1007.6 331.4h0M940.5 367.2h0M955.9 308.8h0M920.7 334.9h0M951.4 263.4h0M979.7 288.1h0M999 281.7h0M1001.7 329.5h0M974 328.9h0M908.4 323.6h0M939.7 298.7h0M1006.4 290.6h0M929.9 295.9h0M986.6 287.8h0M950.2 337.5h0M905.9 326.5h0M956.3 370h0M932.6 363.5h0M970 325.2h0M954.2 330h0M1006.2 325.2h0M973.7 351.8h0M974.7 282.5h0M910.9 291.7h0M991.3 297.5h0M950 369.3h0M904.3 319h0M1007.5 342.6h0M927.8 276.4h0M955.1 264.3h0M932.3 278.2h0" stroke="#3035a5" stroke-width="2.1" stroke-linecap="round" opacity="0.95"/>
<path d="M997.8 276.8h0M931.4 331.8h0M910.6 323.9h0M987.1 347.3h0M921.3 344.5h0M916 295.6h0M930 354.5h0M923 351.6h0M942 331.6h0M958.2 364.1h0M926.5 348.9h0M943.4 329.8h0M904.1 321.1h0M985 321.2h0M925.2 292.2h0M993.9 308.7h0M919.8 283.3h0M968.4 280h0M972.6 267.7h0M967.4 305.5h0M972.6 325.1h0M983.2 351.6h0M923.9 307.7h0M980.2 335.7h0M951.3 308.6h0M984.9 365.7h0M919.9 299.4h0M926.2 271.2h0M913.8 295.4h0M958.4 294.6h0M1008.2 340.6h0M929.8 351h0M928.7 271.6h0M989.8 358.6h0M984.9 362h0M954.3 270.8h0M913.4 316.8h0M943.6 316.6h0M965.2 326.2h0M958.5 302.7h0M941.2 296.9h0M921.4 296.6h0M943 272.8h0M934.2 346.3h0M931.1 307.8h0M969.9 334.5h0M938.4 340h0M914 349.6h0M983.9 356h0M1000.2 301.2h0M966.6 366.3h0M931.5 307.2h0M954.1 318.4h0M966.9 328.6h0M937.9 295.3h0M944.2 318.6h0M909.8 309.2h0M998.7 334.7h0M921.1 345.5h0M926.3 352.8h0M964.6 270.4h0M906.4 335.8h0M984.2 331.1h0M925 275.3h0M938.7 360.1h0M960.1 343.4h0M914.9 312.9h0M995.7 357.8h0M949.9 367.1h0M969.1 328.8h0M995.6 348.5h0M912.1 323.3h0M1004.4 314.8h0M968.3 365.4h0" stroke="#3035a5" stroke-width="1.7" stroke-linecap="round" opacity="0.95"/>
<path d="M915.7 350.2h0M1012.6 321.1h0M981.8 313.5h0M930.2 278.6h0M972.4 300.8h0M957.2 316.1h0M962.1 295.1h0M910.8 312.4h0M912.2 336h0M985.3 329.1h0M983.6 362.6h0M1012.2 319h0M939.7 272.9h0M993.7 338.4h0M913.7 312.2h0M970.8 268.1h0M938.5 293.5h0M909.6 334.2h0M961.9 293.7h0M934.7 311.8h0M966.5 266.1h0M946.4 292.3h0M972 326.4h0M1000.8 287.4h0M912.5 326.1h0M1001 332.9h0M909.8 336h0M909.3 323.4h0M913.4 330.5h0" stroke="#3035a5" stroke-width="1.7" stroke-linecap="round" opacity="0.75"/>
<path d="M962.7 279.4h0M932.8 361.5h0M998.4 330.3h0M998.5 345.3h0M1005.1 343.8h0M983.8 342.9h0M1007.5 329.6h0M950 298.5h0M955 336.7h0M997.5 352.6h0M1014.7 306.6h0M982 321.4h0M975.5 367.3h0M968.5 334h0M917.8 352.9h0M928.1 353.9h0M938.4 347.9h0M926.4 325.8h0M986.7 332.8h0M921.5 287.8h0M1014 317.6h0M942.3 263.6h0M916 333.3h0M960 371.6h0M943.4 266.4h0M982.7 365.1h0M912 310h0M916.5 336.7h0M998.7 349.7h0M926.8 293.3h0M999 302.4h0M976.7 282.2h0M978.2 278.2h0M923.1 283.8h0M923.8 275.3h0M971.2 305.7h0M948.8 359.3h0" stroke="#3035a5" stroke-width="1.3" stroke-linecap="round" opacity="0.75"/>
<path d="M1004.2 325.5h0M985.8 295.1h0M931.6 302.3h0M999.7 352.2h0M929.6 353.4h0M969.1 370.4h0M974.1 291h0M916.3 296.8h0M954.7 284.1h0M915.9 345.7h0M965 271h0M905.6 311.9h0M934.6 355.1h0M1000.7 282.2h0M972.4 325h0M918.9 347.3h0M978.4 355.3h0M937.1 344.7h0M930.4 304h0M993.8 344.7h0M1001.4 330.8h0M939.2 270.3h0M909.7 291.9h0M997.3 340.2h0M924.3 345.4h0M937.9 265.3h0M994.2 346.6h0M906.9 320.8h0M1002.2 286.3h0" stroke="#3035a5" stroke-width="2.6" stroke-linecap="round" opacity="0.45"/>
<path d="M938.7 359.7h0M923.8 351.8h0M961.3 356.6h0M962.9 283.1h0M923.1 343.4h0M995.9 356.1h0M1011 332.9h0M931.2 357.3h0M1008.9 299.2h0M914.4 340.8h0M991.1 358.7h0M985.1 282.9h0M957.1 309.8h0M942.6 291.8h0M988.7 353.5h0M932.4 340.7h0M932.5 322.8h0M962.6 283.4h0M970.4 310.9h0M943.6 329h0M997.8 282.2h0M1003 304h0M913.4 297h0M950.2 347.1h0M1010.9 323.9h0M976.2 274.3h0M942 329.4h0M1000.3 347.1h0M914.1 309.3h0M992.1 325.1h0M977.3 353.8h0M945 294.6h0M952.7 274.4h0M984.4 296.8h0M975 270.6h0M911 341.5h0M905.8 302.4h0M917.5 298.2h0M962.2 365.2h0M986.3 310.4h0M921.2 303.1h0M968.5 357.1h0M955.3 285.1h0M970.5 363h0M912.6 322.7h0M1013.4 310.9h0M955.7 280.4h0M972.6 360.3h0M960.7 367.1h0M955.8 367.7h0M971.9 285.4h0M949.2 352.5h0M937.8 363.4h0M985.3 302.7h0M944.4 357h0M1004.1 327.7h0M957.2 369.1h0M994.7 298.6h0M944.2 294.4h0" stroke="#3035a5" stroke-width="2.6" stroke-linecap="round" opacity="0.95"/>
<path d="M916.2 335.7h0M934.6 274.8h0M971.5 360.7h0M994.8 305h0M1001.9 292.3h0M970.9 275.8h0M949 337.5h0M976.7 301.1h0M960.5 279.5h0M932.4 363.1h0M1007.8 334.6h0M968.8 271h0M957.9 261h0M963.2 311.6h0M977.4 366.2h0M943 286.1h0M929.4 305.8h0M920.1 290.3h0M945.8 363.6h0M914.4 305.8h0M1010 294.2h0M994.5 274.8h0M995 277.4h0M903.2 307.2h0M920.9 346.2h0M922.6 290.6h0M968.1 351h0M975.8 270h0M911 326.3h0M943.5 369.5h0" stroke="#3035a5" stroke-width="1.7" stroke-linecap="round" opacity="0.45"/>
<path d="M971.2 268.8h0M974.3 266.6h0M970.2 300.2h0M972 361.4h0M991.3 316.3h0M937.1 348.5h0M935.5 289.4h0M1000.8 283.1h0M950.6 313.5h0M921.8 354.3h0M970.8 289.1h0M956.2 367.4h0M1010.4 305h0M994.7 354.4h0M943.5 333.1h0M951.5 295h0M913 312.4h0M964.5 322.9h0M978.4 316.5h0M918.8 352.8h0M962.5 267.3h0M920.9 282.6h0M929.5 351.6h0M931.4 344.6h0M934.3 355.6h0M908.5 326.1h0M969.8 294.9h0M1003.5 313.6h0M907.9 295.3h0M961.2 316.1h0M972 287h0M965.8 324.2h0" stroke="#3035a5" stroke-width="3.0" stroke-linecap="round" opacity="0.45"/>
<circle cx="1088.5" cy="313" r="63" fill="url(#well1)"/>
<circle cx="1088.5" cy="313" r="63.7" fill="none" stroke="#8e9ea5" stroke-width="1"/>
<circle cx="1088.5" cy="313" r="62" fill="none" stroke="#ebe6ec" stroke-width="2.2"/>
<circle cx="1088.5" cy="313" r="58" fill="none" stroke="#d6dde8" stroke-width="1"/>
<path d="M1093.2 322.9h0M1063.4 355.8h0M1115.9 357.2h0M1100.3 303.7h0M1062.7 350.9h0M1131.1 290.4h0M1071.1 358.5h0M1052 275.1h0M1045.2 284.3h0M1069.1 358.3h0M1062.9 343.5h0M1096.3 337h0M1084.1 292.8h0M1093.1 360.5h0M1114.7 331.5h0M1061.5 360.2h0M1084.6 262.2h0M1113.9 264.9h0M1040.7 334.4h0M1040.2 333.4h0M1119.9 355.1h0M1072.5 288.4h0M1060.2 277.1h0M1094.7 265.8h0M1097.2 275.5h0M1134.2 307.9h0M1120.2 355.5h0M1071.1 289.5h0M1127.9 311.4h0M1038.2 333.7h0M1119.7 293.6h0M1110 264.2h0M1060.8 317.6h0M1061.9 353.3h0M1135.5 310h0M1083.9 352.5h0M1046.1 329.3h0M1040.9 305.6h0M1043.4 302.5h0M1060.1 311.9h0M1135.9 333.4h0M1105 293.7h0M1115.7 319h0M1044.8 345.6h0M1080.3 361.3h0M1086.5 310.6h0M1139.6 293.3h0M1087.2 339.5h0M1052.2 272.6h0M1122.7 337h0M1074 292.7h0M1042.7 290.5h0M1084.6 283.5h0M1136.6 303.4h0M1069.1 304.2h0M1082.8 328.7h0M1084.8 329h0M1121.2 349.4h0M1081.4 344.3h0M1080.8 276h0M1060.9 289.7h0M1102.9 265.4h0M1097.4 311h0M1136.7 327.2h0M1093.1 267.9h0M1050.8 304.5h0M1128.2 347.7h0M1077.6 345.3h0M1047.3 307h0M1051.9 348.2h0M1108.6 345.2h0" stroke="#3035a5" stroke-width="2.1" stroke-linecap="round" opacity="0.45"/>
<path d="M1059.7 353.8h0M1136.1 296h0M1096.5 326.5h0M1076.9 360.6h0M1057.6 276.1h0M1086.8 264.7h0M1094.8 299.6h0M1048.2 329.1h0M1099.3 357.7h0M1082.5 317.6h0M1106.3 356.6h0M1134.9 304h0M1079.1 346.3h0M1078.5 288.1h0M1106.8 350.9h0M1067.8 277.1h0M1131.5 331h0M1052.6 279.4h0M1108.6 359.9h0M1074.5 291.4h0M1132.7 325.8h0M1089.5 328.6h0M1127.6 301h0M1091.9 358.5h0M1108.5 335.1h0M1087.6 265.5h0M1122.8 281.2h0M1042.1 300.6h0M1057.6 353.7h0M1141.8 324.1h0M1051 328.6h0" stroke="#3035a5" stroke-width="1.3" stroke-linecap="round" opacity="0.75"/>
<path d="M1143.1 305h0M1099 361.5h0M1094.5 366.7h0M1088.1 298.4h0M1127.1 339.6h0M1092.5 330.3h0M1143.4 308.7h0M1051.2 299.9h0M1061.5 301h0M1110 292h0M1084.4 348h0M1072.5 364.7h0M1134 318.5h0M1043.5 330.3h0M1099 349.3h0M1097.9 353.5h0M1085.3 364.7h0M1133 341h0M1080.8 286.1h0M1045.3 314.9h0M1076.3 339.7h0M1034.1 319.1h0M1096.3 344.1h0M1109.4 353.2h0M1134.3 320.5h0M1120.2 345.8h0M1054 347.8h0M1109.4 334.3h0M1124.8 279.9h0M1114.7 319.9h0M1094.9 277.7h0M1037.3 289.6h0M1068.8 329.2h0M1041.5 320.5h0M1095 336.7h0M1042.5 341.7h0M1070.8 266.7h0M1139 315.3h0M1051.3 342.3h0M1136.2 303.3h0M1124.9 279.6h0M1086.2 262.2h0M1129 341.9h0M1085.4 339.4h0M1089.9 307.7h0M1099.1 325.6h0M1127.1 306.3h0M1133.5 288h0M1129.4 334.7h0M1083.3 332.8h0M1131 301.5h0M1103.6 327.9h0M1055.6 345.5h0M1068.6 357.3h0M1120.4 293.5h0M1077.8 298.3h0M1092.9 287.4h0M1113 267.4h0M1129.5 305.8h0M1093.4 295.5h0" stroke="#3035a5" stroke-width="2.6" stroke-linecap="round" opacity="0.95"/>
<path d="M1032.4 310.3h0M1043.3 323h0M1125.8 322.8h0M1109.4 331.1h0M1065.4 283.3h0M1121.9 357.8h0M1108 316.1h0M1143.2 304.6h0M1130.9 287.7h0M1059.5 301.7h0M1136.6 318.3h0M1068.7 264.6h0M1078.9 309.4h0M1083.6 326.6h0M1134.2 311.9h0M1104.3 350.4h0M1104.5 364.3h0M1123.4 282.5h0M1070.3 307.6h0M1106.8 354.4h0M1075.2 286h0M1083.1 333.9h0M1061.8 355.5h0M1129.9 299.9h0M1071.3 311.6h0M1102 277.6h0M1077.8 298.8h0M1099 260.8h0M1072.5 309.2h0M1089.1 353.7h0M1112.4 269.2h0M1073.8 259h0M1142.6 325.7h0M1131.2 331.5h0M1128.9 340.8h0M1097.8 360.2h0M1067.8 266.4h0M1042 295.1h0M1072.6 276.3h0M1131.4 331.2h0M1140.4 316.7h0M1133.1 291.6h0M1068.6 358.1h0M1069.2 260.7h0M1129.5 281.9h0M1118.3 274h0M1038 319.1h0M1085.3 358.3h0M1090.7 310.7h0M1137.4 302.5h0M1115.7 276.8h0M1139.8 332.9h0M1122.2 357.9h0M1061.9 355.8h0M1105.5 322.7h0M1069.2 359.3h0M1114.1 360h0M1073.5 359.9h0M1043.8 332.7h0M1132.7 297.3h0M1081.4 266h0M1109.1 355.1h0M1040.4 309.5h0M1095.4 360h0M1127.4 285.3h0M1039.5 296.6h0M1064 333.1h0M1106.9 346.4h0M1068.7 277.2h0M1045.9 336.7h0M1109.5 349.1h0M1103.8 288.3h0M1130.1 335h0M1082.5 367.4h0M1048.8 309.8h0" stroke="#3035a5" stroke-width="2.1" stroke-linecap="round" opacity="0.75"/>
<path d="M1102.1 267.8h0M1103.7 301.2h0M1098.7 343.6h0M1113.3 342.4h0M1118.8 358.2h0M1084.9 358.1h0M1080.1 323h0M1094.4 320.7h0M1039 313.3h0M1092.6 270h0M1062.9 313.5h0M1056.9 275.4h0M1121.1 282.2h0M1085.3 361.3h0M1051.7 352.3h0M1123 276.9h0M1076.2 266.9h0M1107.5 345.1h0M1101.8 295.5h0M1113 271.6h0M1053.1 321h0M1056.8 334.5h0M1050.7 278.9h0M1039.4 308.9h0M1057.2 357.9h0M1079.3 303h0M1116.2 332.6h0M1137.5 320.5h0M1144.9 312.4h0M1063.1 361.3h0M1105.4 329.7h0M1094.3 299.7h0M1067.7 354.2h0M1066.5 361.4h0M1118.5 317.5h0M1060.1 352.9h0M1140.3 303h0M1071.6 363.6h0M1081.5 279h0M1094.5 343.2h0M1119.4 274h0M1133.5 299.8h0M1081.3 358h0M1064.6 315.4h0M1099.6 359.9h0M1116.5 354.6h0M1117.8 311h0M1040.2 326.9h0M1107.8 330.3h0M1063.3 362.7h0M1085 317.5h0M1082 263.2h0M1089.9 358.9h0M1115.2 298.7h0M1104.2 303.9h0M1091.4 307.9h0M1073.5 348.7h0M1096 291.3h0M1114.9 346.9h0M1122.7 270.1h0M1108.1 284.1h0M1102.3 275.4h0M1073.9 264h0M1037.1 306.8h0M1098.1 269.1h0M1140.9 307.5h0M1115.3 274.1h0" stroke="#3035a5" stroke-width="3.0" stroke-linecap="round" opacity="0.95"/>
<path d="M1108.5 302.5h0M1062.6 303h0M1105.1 359.6h0M1044.7 309.8h0M1140.9 308.6h0M1042.2 296.7h0M1033.2 315.9h0M1129.8 317.6h0M1075.4 303.2h0M1037.5 312.9h0M1067.2 303.4h0M1094.4 359.3h0M1055 288h0M1113.2 320.5h0M1114.8 354.5h0M1058.4 308.7h0M1035.1 316.8h0M1060.1 358.4h0M1111.9 362.5h0M1058.1 279.2h0M1056.9 271.4h0M1052.9 270.8h0M1091.9 353.6h0M1093 299.7h0M1061.6 287.7h0M1101.5 300.2h0M1132.8 344.5h0M1107.5 305.9h0M1044.8 297.9h0M1073.9 269.5h0M1091.2 276.9h0M1046.9 344.6h0M1133.2 320.9h0M1099.6 265.9h0M1139.5 313.5h0M1128 337.3h0M1086.7 258.3h0M1119.8 311.1h0M1061.6 263.6h0M1139.4 324.4h0M1071.3 344.6h0M1064.2 337.9h0M1061.1 306.1h0M1119.4 269.5h0M1085.9 307h0M1083.8 337h0M1125.8 337h0M1115.9 313.5h0M1137.1 286.6h0M1108.8 343.6h0M1097 257.5h0M1127.7 318.4h0" stroke="#3035a5" stroke-width="1.3" stroke-linecap="round" opacity="0.95"/>
<path d="M1044 302.4h0M1112.4 301.3h0M1128.7 349.2h0M1043 334h0M1123.3 338.9h0M1091.7 275.1h0M1129.5 276.5h0M1046.9 282.6h0M1099.6 325.6h0M1113.3 334.6h0M1079.6 350.9h0M1037.1 331.7h0M1076.7 267.9h0M1116.7 349.1h0M1096.2 336.8h0M1106.7 337.6h0M1117.6 268.1h0M1106.3 338.1h0M1137.5 297.7h0M1103.7 357.9h0M1118.7 280.1h0M1098.9 341.8h0M1085.7 287.2h0M1134.1 285h0M1105.8 310.2h0M1101.1 357.8h0M1088.4 265.6h0M1057.4 317.1h0M1081.3 264h0M1085.9 267.7h0M1101.2 367.4h0M1121.7 286.8h0M1094.2 268h0M1135.7 289.5h0M1066.3 354.9h0" stroke="#3035a5" stroke-width="1.7" stroke-linecap="round" opacity="0.45"/>
<path d="M1094.9 358.9h0M1041.2 325.9h0M1123 277.4h0M1122 331.5h0M1035.3 298.8h0M1093.5 293.1h0M1107.6 346h0M1132.4 339.3h0M1076.3 363.5h0M1108.5 326.5h0M1128 336.3h0M1127.8 319.7h0M1135.9 303.8h0M1133.3 330.7h0M1081.8 341.4h0M1109.2 329.4h0M1042.9 302.8h0M1066.9 325.9h0M1136.7 329.4h0M1141 326.9h0M1076.7 326h0M1055 349.5h0M1126.6 286.4h0M1043.4 286.3h0M1105.5 328.6h0M1136.6 307.5h0M1103.5 319.2h0M1125.8 320.8h0M1059.3 359.1h0M1079.3 353.6h0M1113.9 337.8h0M1131.2 283.7h0M1096.1 357.6h0M1126.9 345.2h0M1064.6 337.7h0M1036.6 329.1h0M1053 347.6h0M1084 286.4h0M1103 364.7h0M1097.4 305.2h0M1074.4 308.6h0M1048.2 330.9h0M1137.3 340h0M1103.5 264.2h0M1141.8 312.8h0M1041.5 319.5h0M1123.6 320.6h0M1071.5 289.7h0M1118.7 352.6h0M1057.5 345.9h0M1134.8 295.2h0M1063.8 308.4h0M1100.6 287.6h0M1067.2 265.5h0M1140.4 303.6h0M1098.2 258h0M1097.8 261.8h0M1118.5 354.2h0M1075.5 363.5h0M1093.9 267.6h0M1122.1 356.6h0M1143.8 310.5h0M1139.6 305.7h0M1127.7 351.1h0M1091.3 272.4h0" stroke="#3035a5" stroke-width="1.7" stroke-linecap="round" opacity="0.95"/>
<path d="M1094.8 347h0M1093.8 354.7h0M1062.6 317.4h0M1067.4 357.5h0M1107.3 276.3h0M1068.4 286.7h0M1114.2 273.5h0M1107.9 282.9h0M1045.5 334h0M1085.6 258.8h0M1141 303.1h0M1133.1 321.1h0M1068.1 265.9h0M1082.1 312.3h0M1068 337h0M1050.9 346.3h0M1096.3 364.2h0M1111.5 284h0M1135.9 295.3h0M1124.3 347.6h0M1042.9 307.3h0M1036.7 316.2h0M1069.9 319h0M1036.3 310.8h0M1047.2 275.7h0M1097.6 315.7h0M1125.4 311.1h0M1041.4 324.8h0M1044 285.5h0M1118 328.4h0M1101.3 352.5h0M1136 293.6h0M1087.9 285.3h0M1068.7 362.5h0M1074.8 303h0M1064.4 297.8h0M1137.4 292.6h0M1046.3 346.6h0M1114.4 327.3h0M1041.3 311.1h0M1100.9 267.9h0M1133.1 297.3h0M1051.6 347.2h0M1032.6 313.3h0M1036.4 292h0M1075.4 264.9h0M1052.3 343.5h0M1119.8 358.5h0M1129.9 285.7h0M1084.7 258.8h0M1135.8 306.9h0M1105.6 358h0M1128.4 287.3h0M1076.9 266.2h0M1129.9 343.4h0M1057.9 332.6h0M1072.3 262.3h0M1137.8 293.9h0M1068.1 271.8h0M1060.2 280.3h0M1137.3 328.4h0M1043.2 318.4h0M1049.6 322.8h0M1117.4 349.1h0M1062.6 312.2h0M1112.3 268h0M1042.5 303.3h0M1106.4 286.4h0M1083.8 339.4h0M1052.8 277.8h0M1072.8 269.6h0M1066.7 349.5h0M1085.8 285.5h0M1122.6 343.1h0M1071.7 347.6h0M1089 266.9h0M1056 333.9h0M1104 357.6h0M1109.7 269.6h0M1040.1 296.4h0M1097.9 299.4h0M1060.9 356.6h0M1046.5 293.4h0M1128.6 288h0M1085.7 318.3h0M1127.6 275.9h0M1077.1 360.1h0M1070.8 296.9h0M1093.3 267h0M1088.4 260.7h0M1076.7 312.1h0M1092.9 332.1h0M1127.1 289.2h0M1140.9 309.2h0M1096.6 359.4h0M1088.8 360h0M1064.1 336.5h0M1071.2 329.2h0M1054.5 347.3h0M1049.6 352.8h0M1103.1 352.9h0M1120.6 325.2h0M1077.5 268.2h0M1113.1 310.4h0M1068.3 346.2h0M1121 325.2h0M1064.4 275.7h0M1142.9 323.1h0M1104.5 353.3h0M1074.1 283.5h0M1135.6 314.6h0M1131.5 297.7h0M1110.6 312h0M1068.9 309.7h0M1044.7 291.6h0M1112.6 310.9h0M1120.6 348.8h0M1095.6 334.5h0M1132.1 315.2h0M1082.9 341.8h0M1060.2 314.6h0M1043.7 298.3h0M1085.8 266h0M1094.9 278.6h0M1114.3 305.8h0M1077.6 294h0M1090.7 292.9h0M1136.8 287.1h0M1073 266.7h0M1085.3 317.1h0M1137.7 320.4h0M1126.7 309.7h0M1059.8 284.5h0M1134.2 286.9h0M1050.5 338.8h0M1102.5 303h0M1138.2 291.1h0M1044.7 325.4h0M1139.8 296.5h0M1096.5 361.4h0M1082.5 298.6h0M1056.9 302.4h0" stroke="#3035a5" stroke-width="2.1" stroke-linecap="round" opacity="0.95"/>
<path d="M1106.2 331.2h0M1100.4 312.3h0M1101.5 280h0M1082.7 332.7h0M1050.7 274.3h0M1100.3 302.1h0M1036.1 306.1h0M1098.1 346h0M1142.3 323.2h0M1090.3 297.4h0M1084.7 304.7h0M1122 287.4h0M1093.2 275.7h0M1118.7 279.1h0M1111.5 363h0M1127.2 324.4h0M1098.1 272.7h0M1081.2 360.7h0M1065.5 269.1h0M1133.3 331.7h0M1115.3 290.9h0M1107 314.4h0M1043.3 321.4h0M1039.8 312h0M1089.2 264.6h0M1061.3 315.6h0M1132.6 296.9h0M1053.2 346.1h0M1087.6 264.9h0M1036.4 300h0M1051.6 332.4h0M1126.1 289.4h0M1132.6 293.3h0M1049.5 310.6h0M1092.3 305.8h0M1082.6 365.7h0M1094.9 280.8h0M1073.8 322.7h0M1041.5 328.2h0M1107.3 294h0M1050.4 273.7h0" stroke="#3035a5" stroke-width="3.0" stroke-linecap="round" opacity="0.45"/>
<path d="M1081.1 338.4h0M1044.5 295.3h0M1090.1 265.4h0M1116.7 359.3h0M1103.5 365.1h0M1090.5 340.4h0M1093.4 366.3h0M1056.8 327.6h0M1062.2 267.2h0M1041.9 338h0M1086.3 316.5h0M1125.8 348.4h0M1067.9 307.6h0M1104.5 271.3h0M1060.1 286h0M1097.4 324.4h0M1090.4 304.6h0M1101.4 312.4h0M1113.5 268.3h0M1052.4 320.6h0M1083.6 267.5h0M1073.8 282.2h0M1042.6 325.5h0M1119.8 289.4h0M1100.2 365.6h0M1103.1 260h0M1051.3 274h0M1081.1 361.7h0M1067.6 289.8h0M1095.7 328.7h0M1137.8 297.9h0M1067 265.1h0M1097.7 364h0" stroke="#3035a5" stroke-width="1.7" stroke-linecap="round" opacity="0.75"/>
<path d="M1071.6 262.9h0M1134.9 311.2h0M1112.9 294.3h0M1059.6 277.5h0M1106.3 341.2h0M1038.8 338.7h0M1138.1 338.4h0M1079.3 365.4h0M1116.8 271.1h0M1087.6 317.9h0M1107.5 344.1h0M1123.3 338.8h0M1059.9 348.6h0M1115.3 321h0M1074.5 358.6h0M1070.9 308.9h0M1063.1 279h0M1108.6 314.2h0M1063.2 263.6h0M1047 332.9h0M1073.1 264.5h0M1126.9 349.2h0M1091.2 274.2h0M1065.1 308.5h0M1047.1 314.9h0M1050.5 333.3h0M1129.6 333.6h0M1070.7 358.8h0M1044.7 344.4h0M1061.8 340.4h0" stroke="#3035a5" stroke-width="2.6" stroke-linecap="round" opacity="0.75"/>
<path d="M1053.1 353.7h0M1039.4 338.1h0M1084.8 324.1h0M1086.5 301.6h0M1129 334.1h0M1093.6 270.1h0M1137.5 329.2h0M1049.9 281.2h0M1100.2 297.4h0M1051.2 347.1h0M1071.2 262.9h0M1049.2 291.7h0M1118.3 335.2h0M1093.5 262.1h0M1118.2 323.1h0M1110.1 300.4h0M1052.1 336.5h0M1070.3 278.4h0M1133.9 337h0M1073.6 360.6h0M1049.3 340.7h0M1111.1 362.4h0M1047.1 288.7h0M1121 347.2h0M1081.1 263h0M1060.4 305.1h0M1057.4 350.3h0M1076.3 263.6h0M1131.5 336.3h0M1132.3 295h0M1078.6 333.2h0M1057.3 279.3h0" stroke="#3035a5" stroke-width="1.3" stroke-linecap="round" opacity="0.45"/>
<path d="M1076.3 267.6h0M1067.5 318.2h0M1132.9 285.2h0M1105.2 267.4h0M1131.3 296.3h0M1077.7 266.5h0M1055.8 269.7h0M1106.3 365.8h0M1063.5 362.1h0M1131.2 290.1h0M1089.6 334.5h0M1043.3 339.7h0M1060.2 268.3h0M1095 283.6h0M1039.2 320.7h0M1109.7 306.4h0M1119.6 331.1h0M1067.8 341h0M1050.9 300.3h0M1141.9 320.1h0M1137.5 316.7h0M1083.2 289.8h0M1112.7 321.5h0M1042.9 304.1h0M1125.7 346.1h0M1080 353.2h0M1067.3 354.4h0M1064 263.8h0M1086.9 298.1h0M1051.8 311h0M1038.3 314.4h0M1082.7 359.4h0M1130.3 322.8h0" stroke="#3035a5" stroke-width="3.0" stroke-linecap="round" opacity="0.75"/>
<path d="M1122.8 354.2h0M1102.9 263.5h0M1114.7 361.9h0M1078 343.5h0M1077.4 258.8h0M1139.3 319.8h0M1072.3 357.4h0M1140.9 292h0M1131.8 292.9h0M1106.8 341.3h0M1080.7 260.5h0M1126 305.4h0M1075.2 264.4h0M1104.3 308.4h0M1088.6 272.2h0M1066.8 358.7h0M1038 314.4h0M1070.6 343.5h0M1097.4 299.4h0M1080.3 303.7h0M1141.3 315.4h0M1093.8 345.2h0M1129 312.5h0M1047.8 293.3h0M1081.6 287.4h0M1034.9 300.2h0M1093.2 332.4h0M1087.3 265.9h0M1087.3 323.1h0M1042.7 343.6h0M1142.8 303.3h0M1050.9 275.9h0M1032.5 318.7h0" stroke="#3035a5" stroke-width="2.6" stroke-linecap="round" opacity="0.45"/>
<circle cx="1217" cy="312.4" r="62.5" fill="url(#well1)"/>
<circle cx="1217" cy="312.4" r="63.2" fill="none" stroke="#8e9ea5" stroke-width="1"/>
<circle cx="1217" cy="312.4" r="61.5" fill="none" stroke="#ebe6ec" stroke-width="2.2"/>
<circle cx="1217" cy="312.4" r="57.5" fill="none" stroke="#d6dde8" stroke-width="1"/>
<path d="M1208.8 266.2h0M1268 298.7h0M1198.4 271.4h0M1240.7 320.1h0M1210 313.7h0M1213.4 324h0M1218 258.9h0M1219.4 352.8h0M1254.7 325.5h0M1188.7 314.8h0M1215.4 284.8h0M1256.4 279h0M1204.9 287.2h0M1258.7 279.2h0M1184.9 329.9h0M1269.5 299.9h0M1210.6 279.8h0M1224.8 300h0M1263.2 299h0M1222.2 344.2h0M1224.7 361.6h0M1182.6 281.8h0M1207 360.6h0M1232.6 283.7h0M1204.5 336.6h0M1181.3 284.6h0M1241.1 334.5h0M1222.1 317.2h0M1216.2 300.5h0M1214.4 268h0M1170.5 286.9h0M1185 311h0M1191.2 266.8h0M1221.6 259.6h0M1251 342.7h0M1202.5 284h0M1265.1 325.5h0M1197.6 359.5h0M1166.4 321.6h0M1166.4 292h0M1198.9 286.8h0M1165.7 320.9h0M1237.8 326.3h0M1175.8 285.5h0M1191.1 335.1h0M1267.5 310.4h0M1205.9 357.3h0M1214.3 364.9h0M1163.9 310.1h0M1222.7 261.8h0M1169.3 327.8h0M1209.6 259.9h0M1251.4 345.3h0M1196.5 263.8h0M1265.1 317.7h0M1219.6 274h0M1174.6 323.1h0M1180.9 298.7h0M1192.9 266.5h0M1217.4 263.4h0M1223.4 352.8h0M1201.6 303.9h0M1181.6 308h0M1217.7 265.2h0M1173.8 292.9h0M1177.8 306.6h0M1165.1 318.3h0M1255.3 300.3h0M1191.1 312.1h0M1238.4 306.4h0M1243.5 300.5h0M1227.6 259h0M1170.1 301h0M1216.9 266.2h0M1213.8 265.7h0M1241.6 307.9h0M1207.9 300.3h0M1256.5 300.8h0M1186.6 270.4h0M1182.8 347.3h0M1183.8 273.8h0M1211.1 265.4h0M1222.5 265.1h0M1203.9 332.7h0M1245.6 304.9h0M1181.4 331.6h0M1246.6 278.9h0M1175 306.4h0M1228.7 286.8h0M1186.3 354.3h0M1205.5 330.4h0M1165.4 317.8h0M1235.3 260h0M1266 291.9h0M1165.4 325.6h0M1263.4 298.8h0M1206.2 265.9h0M1204.2 265.8h0M1257.7 313.6h0M1195.7 290.8h0M1177.8 314.6h0M1180.3 277.2h0M1264.2 333.7h0M1265.1 286.7h0M1198.5 293.3h0M1240.4 357.9h0M1230.3 361.8h0M1180.7 323.6h0M1220.6 271.1h0M1215 284.7h0M1243 294.6h0M1201.9 326.4h0M1199.9 270.8h0M1235.8 297.6h0M1229 261h0M1188.3 359.2h0M1211.3 317.7h0M1211.1 358.7h0M1257.1 310.8h0M1252.3 275.4h0M1261.4 303.4h0M1197.1 337h0M1200.1 269.1h0M1226.1 281.8h0M1222.6 319.1h0M1172.7 320.2h0M1208.8 263.4h0M1210.6 325.4h0M1179.9 272.1h0M1255.3 316.7h0M1196.5 262.1h0M1255.6 334h0M1250.9 317.9h0M1188 359.4h0M1208.1 265.7h0" stroke="#3035a5" stroke-width="2.1" stroke-linecap="round" opacity="0.95"/>
<path d="M1236.5 268.1h0M1173.3 343h0M1237.4 266.2h0M1260.1 297.8h0M1216.6 285.7h0M1207.7 285h0M1243.1 297.5h0M1261.2 285.2h0M1227.6 313.7h0M1257.3 297.7h0M1190.7 353h0M1263.7 323.9h0M1201.7 356.8h0M1211.6 351.9h0M1191.1 314.5h0M1232 264.4h0M1168.5 302.6h0M1263 320h0M1170.8 326.6h0M1171.4 293.4h0M1264.8 298.2h0M1217.4 299.5h0M1190.1 286.5h0M1264.7 323.1h0M1212.4 336.5h0M1248.7 318.7h0M1232.7 270.3h0M1260.4 300.6h0M1264.2 324.3h0M1216.2 365.1h0" stroke="#3035a5" stroke-width="2.6" stroke-linecap="round" opacity="0.45"/>
<path d="M1183.5 297.4h0M1256.8 350.5h0M1247.2 347.8h0M1251.1 337.9h0M1167.8 327.5h0M1257.1 290.5h0M1241.4 288.3h0M1265.6 299.1h0M1170.9 292.3h0M1185.7 269.4h0M1252.9 318.8h0M1235.2 297.8h0M1183.4 353.3h0M1173.1 329.7h0M1204.8 285.4h0M1211.4 359.6h0M1221 306.5h0M1246.3 327.9h0M1183 352.5h0M1236.5 316.6h0M1232.4 300.8h0M1211.9 329.1h0M1227.3 358.8h0M1243.3 357.7h0M1244.3 346.8h0M1175.2 315h0M1195.8 299.7h0M1172.6 315.1h0M1201.5 267.2h0M1181.8 348.9h0M1178 279.9h0M1225 309.8h0M1193.7 264.3h0M1267.3 304.7h0M1170.7 327h0M1183.6 304.4h0M1196.5 265.6h0M1264.4 331.1h0M1229 328.1h0M1225 272.2h0M1188.3 335h0M1202.5 362.4h0M1176.1 328.6h0M1256.9 316.5h0M1236.9 270.3h0M1195.4 291.1h0M1240.7 299.4h0M1167 332.3h0M1213.9 264.2h0M1226.7 346.4h0M1210 258.3h0M1261.3 320.4h0M1207.1 265.1h0M1269.9 324h0M1209.6 358h0M1269.8 326.3h0M1192.9 323.1h0M1240.3 356.1h0M1232.6 335.4h0M1196 266.8h0M1209.8 258.7h0M1231.5 357.6h0M1227.7 316.5h0M1247.9 310.9h0M1234.7 348.9h0M1181.7 349.1h0M1255.8 289h0M1246.3 274.8h0M1258.8 328.5h0M1244.6 348.7h0M1230.1 317.9h0M1268.1 298.7h0M1182.3 289.2h0" stroke="#3035a5" stroke-width="2.1" stroke-linecap="round" opacity="0.45"/>
<path d="M1184.5 270.4h0M1174.5 343.1h0M1176.4 285.2h0M1223.8 357.7h0M1205 265.6h0M1227.7 339.8h0M1222.5 293.6h0M1262.3 319.5h0M1167.8 297.5h0M1202.1 286.2h0M1239 271h0M1247.6 272.1h0M1202.1 260.6h0M1210.2 365.2h0M1268.2 332.6h0M1265.5 292.2h0M1204.4 365h0M1203 359.6h0M1237.6 359.5h0M1254.5 353.6h0M1180 310.4h0M1218.1 356.7h0M1235.2 308.7h0M1213 302.5h0M1224.3 340.5h0M1240.4 355.5h0M1231.1 360.4h0M1252.9 273.3h0M1230.3 268.5h0M1267.2 329.5h0M1198.5 355.8h0M1239.2 353.1h0M1244 351.7h0M1254.6 339.7h0M1214.4 318h0M1261.1 293h0M1229.8 284.8h0M1265.5 290.4h0M1225.7 344.1h0M1181 276.7h0M1263.9 310.1h0M1223.7 344.9h0M1215.5 260.4h0M1239.9 359.1h0M1218.9 326.1h0M1212.6 340h0M1199.6 345.1h0M1192.6 358.7h0M1230.9 355.5h0M1199.2 324.1h0M1184.1 331.8h0M1185 291.8h0M1194.3 288.6h0M1198.2 294.5h0M1191.9 350.7h0M1245 352h0M1238.6 268.2h0M1166.2 316.3h0M1200.6 261.6h0M1252 336.7h0M1207.5 298.4h0M1265.2 333.8h0M1244.3 271.4h0M1164.5 320.2h0M1224.9 261.9h0M1198.2 323.5h0M1174.2 284.3h0M1261.5 339.9h0M1259.2 301.4h0M1244.1 354.2h0M1251 282.3h0M1229.2 348.2h0M1179.3 301.4h0M1215.6 307.9h0M1207.5 359.8h0M1223.7 333.8h0" stroke="#3035a5" stroke-width="2.6" stroke-linecap="round" opacity="0.95"/>
<path d="M1223.9 294.7h0M1208.7 299.8h0M1251.8 344.8h0M1199.8 332.2h0M1211.2 261.4h0M1261.2 322.5h0M1205.7 332.3h0M1168.6 290.6h0M1194.3 265.1h0M1200.4 363.7h0M1200 276.7h0M1174.8 332.4h0M1234.4 321.5h0M1227.3 259h0M1222.7 265.2h0M1195.2 358h0M1208.4 364.2h0M1226.7 281.8h0M1210.1 357.9h0M1225.8 337.2h0M1209.9 277.9h0M1180.7 347.5h0M1190.8 279.6h0M1189.7 318.9h0M1211.4 266.4h0M1189.1 352.9h0M1209 346h0M1235.4 281.4h0M1190.8 265.8h0M1198.5 285.5h0M1211.3 348.7h0M1218.6 309.6h0M1262.1 296.3h0M1177.1 291.3h0M1202.2 301h0M1187.2 357.8h0M1256.7 345.9h0M1163.3 309.2h0M1251.9 305.4h0M1210.8 348.6h0M1185.5 345.3h0M1254.6 338.5h0M1224.2 360.2h0M1230 322h0M1232.4 348.8h0M1247.8 352.3h0M1230.7 318.2h0M1182.9 317.9h0M1246.1 355.1h0M1209 342.6h0M1261.8 301h0M1227.8 308.6h0M1235.4 268.9h0M1255.5 285.2h0M1235.2 316.8h0M1166.1 327.5h0M1250.7 316.9h0M1232.3 305.4h0M1167.6 322h0M1205.4 329.2h0M1222.9 326.6h0M1190.2 325.7h0M1180.1 292.9h0M1229.7 264.7h0M1233.1 302.4h0M1228 336h0" stroke="#3035a5" stroke-width="2.1" stroke-linecap="round" opacity="0.75"/>
<path d="M1208.8 330.2h0M1174.2 305h0M1220.7 355.3h0M1170.2 288.3h0M1262.2 315.4h0M1242.1 358.6h0M1226.3 283.8h0M1177.3 286.1h0M1203.4 364.3h0M1188.2 332.5h0M1194.9 331.7h0M1249.1 270.1h0M1212.7 299.8h0M1185.3 266.8h0M1171.5 296.8h0M1174.6 332h0M1217.8 258.4h0M1224.3 312.8h0M1197.1 359.3h0M1214.7 301.2h0M1206.9 360.4h0M1231.1 298.9h0M1185.2 284.2h0M1214.5 348.8h0M1199.8 292.6h0M1264.8 297h0M1197.6 265.1h0M1253 292.3h0M1218.4 353.3h0M1170.3 338.8h0M1266.5 310.3h0M1174.6 283.8h0M1195.6 342.5h0M1163.4 311.5h0M1169.9 318.7h0M1176.2 292.5h0M1198.4 296.2h0M1244.4 267.8h0M1238.1 268.5h0M1210.7 297.6h0M1190 346.2h0M1196.7 352.5h0M1218.6 267.8h0M1192.6 266h0M1228.4 341.8h0M1252.2 303.7h0M1229.3 260h0M1195.2 328.9h0M1243.3 264.5h0M1202.3 357.6h0M1208.8 308.7h0M1190.7 321.7h0M1231.2 312h0M1190.4 264.9h0M1170 302.1h0M1256.4 283.9h0M1201.1 270.4h0M1244.6 340.7h0M1233.3 332.5h0M1197.6 363.7h0M1181.1 338.7h0M1239 308.1h0M1196.5 361.1h0M1202.2 266.1h0M1233.5 285h0M1214.9 344.4h0" stroke="#3035a5" stroke-width="1.3" stroke-linecap="round" opacity="0.95"/>
<path d="M1195 357.9h0M1213.2 280.9h0M1187 321.3h0M1234.6 318.1h0M1212.2 267.6h0M1211.5 262.3h0M1180.7 305.8h0M1195.3 273.7h0M1239.6 333h0M1252.3 277.7h0M1263 329.9h0M1230.7 340.9h0M1205.4 352h0M1215.7 320.9h0M1249.3 329.5h0M1222.1 356.9h0M1186.7 318.8h0M1174.4 301.7h0M1184.2 282h0M1256.8 335.4h0M1237.4 270.7h0M1198.2 265.4h0M1194.5 281.4h0M1207.5 322.1h0M1243.5 289.2h0M1179.5 342h0M1168.3 320.5h0M1263.6 294h0M1176.3 343.1h0" stroke="#3035a5" stroke-width="1.7" stroke-linecap="round" opacity="0.45"/>
<path d="M1236.2 261.4h0M1176.9 330.5h0M1263 323.4h0M1191.6 358.9h0M1204.1 319.9h0M1243.6 340.6h0M1249.1 278.7h0M1212.1 265.8h0M1240.5 331.7h0M1243.4 269.4h0M1221.4 257.9h0M1242.3 281.2h0M1235.6 282.1h0M1193.6 346h0M1235.8 343.5h0M1205.4 318.3h0M1186.6 339.7h0M1208.7 361.1h0M1264.1 334.5h0M1213.9 361.3h0M1260.5 309.4h0M1238 327.1h0M1250 319.3h0M1256.8 288.3h0M1272.2 317.4h0M1228.7 356.6h0M1184.1 337h0M1229.6 357.5h0M1169 303.1h0M1241.7 297.4h0M1211.3 335.9h0M1266.5 303.8h0" stroke="#3035a5" stroke-width="3.0" stroke-linecap="round" opacity="0.45"/>
<path d="M1224.1 359.5h0M1175.9 332.4h0M1209.9 261.2h0M1213.9 266.5h0M1180.6 342.3h0M1193.7 287.2h0M1248 327.2h0M1236.1 296.2h0M1178.1 346.9h0M1266.3 338.9h0M1205.4 327.6h0M1187.4 355.9h0M1204.5 348.8h0M1245.4 337.8h0M1196.7 299.3h0M1198.6 330.9h0M1205.6 326.4h0M1197.6 286.4h0M1185.4 335h0M1172.6 344.3h0M1267.6 303.3h0M1225.3 265.5h0M1249.4 292.6h0M1223.2 328.1h0M1192.8 361.6h0M1167.3 291.5h0M1199.7 300.3h0M1262.9 325.3h0M1247.8 320h0M1251.5 299.5h0M1259.1 276h0M1256.3 343.7h0M1169.7 313.4h0M1236.8 341.5h0M1169 294.2h0M1182.1 342.2h0M1184.5 351.2h0" stroke="#3035a5" stroke-width="1.3" stroke-linecap="round" opacity="0.75"/>
<path d="M1213.8 364.5h0M1230.1 358.6h0M1230.9 330.6h0M1197.4 281.4h0M1166.2 325.4h0M1201.6 273.2h0M1181.4 285.2h0M1215.7 305.7h0M1227.3 362.8h0M1263.1 283.9h0M1250.9 272.4h0M1211.9 265.7h0M1199.2 322.2h0M1170.1 284.2h0M1260.9 332.1h0M1254.6 298.8h0M1240 354.1h0M1193.9 325.1h0M1191.1 267h0M1169 305.1h0M1263.8 334.6h0M1237.7 307.7h0M1259.6 337.9h0M1251.5 271.5h0M1224 291.6h0M1262.7 337.9h0M1222.6 364.9h0M1194.6 357.9h0" stroke="#3035a5" stroke-width="1.3" stroke-linecap="round" opacity="0.45"/>
<path d="M1212.9 360.1h0M1215.2 294.7h0M1223.7 334.6h0M1171.1 326.5h0M1202 305.7h0M1197.9 357.8h0M1242.2 349.4h0M1215.1 318h0M1208.2 361.3h0M1235.5 351.9h0M1261.6 300.3h0M1250.2 307.2h0M1166.8 309h0M1178.8 271.5h0M1179.6 287.6h0M1223.8 272.9h0M1225.9 318.9h0M1174.7 338.6h0M1206.7 258.5h0M1163.9 311.9h0M1192.2 347h0M1180.4 288h0M1218.6 350.9h0M1244 344.8h0M1239.5 264.4h0M1213.6 307.4h0M1265.8 338.7h0M1246.4 353.8h0M1269.3 301.6h0M1225 266.7h0M1243.6 333.2h0M1169.7 309h0M1228.5 264.5h0M1167.5 291.5h0M1212.5 281.7h0M1209.1 266.7h0M1251.4 354.1h0M1260.7 295.3h0M1245.6 324.8h0M1253.9 350.8h0M1177.1 306.3h0M1218.4 258.7h0M1234.9 344.3h0M1238.2 328.4h0M1163.7 314.2h0M1195.7 351.8h0M1183.4 352.7h0M1263 324.2h0M1234.3 261.2h0M1186 270.6h0M1213.9 294.9h0M1179.7 286h0M1244.4 272.1h0M1269.3 305.5h0M1202.2 265.8h0M1266.7 291.9h0M1184.7 304.6h0M1267.2 297.9h0M1192.3 348.6h0M1169.7 290.7h0M1192.7 268.9h0M1261.4 336.8h0M1238.9 343.6h0M1262.7 319.7h0M1218.2 280.6h0M1164.5 315h0M1253.6 304.9h0" stroke="#3035a5" stroke-width="3.0" stroke-linecap="round" opacity="0.95"/>
<path d="M1258.5 336.2h0M1238.2 307.9h0M1207 359.7h0M1252 277.8h0M1233.5 331.2h0M1235.6 261.5h0M1182.7 355h0M1247.5 348h0M1236.7 262.8h0M1270 308h0M1189.7 331.6h0M1269.2 298.9h0M1212.2 270.3h0M1235.7 293.8h0M1210.5 274.4h0M1261.9 292.7h0M1177.3 304.6h0M1187.2 269h0M1180.1 282h0M1194.2 356.7h0M1172.8 284.4h0M1265.1 324.4h0M1186.6 274.6h0M1239.7 362.7h0M1221.1 345.9h0M1197.5 323.3h0M1182 304.7h0M1209.3 334.5h0M1238.2 352.7h0M1227.9 258.5h0M1201.7 348.3h0" stroke="#3035a5" stroke-width="2.6" stroke-linecap="round" opacity="0.75"/>
<path d="M1230.7 313.5h0M1236.2 327.2h0M1212.8 336.3h0M1238.6 295.4h0M1202.2 319.2h0M1247 313h0M1197.3 264.6h0M1174.4 315.5h0M1189.1 268.8h0M1202.8 354h0M1240.3 288.3h0M1218.8 303.5h0M1269.8 311.8h0M1187.1 350h0M1177.2 274.1h0M1200.5 349.3h0M1253.3 344.5h0M1186.2 294.2h0M1264.9 309.1h0M1269.5 321h0M1214 349.1h0M1195.5 279.9h0M1190.5 332.1h0M1259.1 319h0M1217 351.6h0M1263 287.3h0M1271.1 310.8h0M1209.1 361h0M1192 273.9h0M1227.9 319.4h0M1229 324.9h0M1224.9 331.6h0M1244.4 337h0M1210.4 316.3h0M1231.7 357.3h0M1218.9 349.7h0M1220.1 269.3h0M1173.6 314.4h0M1217.8 293.7h0M1205.8 335.8h0M1245.1 351.4h0M1230.6 355.8h0M1225.4 261.4h0M1214.2 268.5h0M1192.3 361.7h0M1236.9 364.7h0M1225.4 296.3h0M1174.6 297.4h0M1271.2 307.7h0M1201.3 356.4h0M1238.2 358.8h0M1207.9 356.4h0M1233.7 307h0M1210.7 347.9h0M1177.2 344.8h0M1252.6 278.9h0M1172.5 297.4h0M1230.3 272.1h0M1170.2 339h0M1267.5 329.5h0M1232.6 353.8h0M1252 331.5h0M1167 314.2h0M1243.4 337.8h0M1204.1 280.7h0M1233.9 272.1h0M1166.4 318h0M1258.8 285.8h0M1169.4 319.3h0" stroke="#3035a5" stroke-width="1.7" stroke-linecap="round" opacity="0.95"/>
<path d="M1162.4 312.8h0M1246.5 349.3h0M1183.4 344.9h0M1246.9 341.4h0M1187.1 295.3h0M1200.4 310.7h0M1177.8 278.6h0M1175.1 281.5h0M1223.9 343.9h0M1186.6 344.1h0M1244.3 265.3h0M1196.1 359.5h0M1257.7 277.2h0M1254.8 338h0M1243 350.3h0M1181.3 344.1h0M1269.3 303.2h0M1197.7 263.9h0M1265.7 318.4h0M1199.1 322h0M1226 327.7h0M1215.7 292.8h0M1194.5 359h0M1209.3 323.4h0M1168.5 328.3h0M1191.3 331.4h0M1210.3 357.6h0M1230.1 325h0M1198 357.5h0M1216.1 261.9h0" stroke="#3035a5" stroke-width="3.0" stroke-linecap="round" opacity="0.75"/>
<path d="M1258.1 303.8h0M1187.9 268.1h0M1195.5 267.5h0M1255.2 310.6h0M1195.4 313.2h0M1245.9 347.8h0M1192.8 312.9h0M1174.5 296.3h0M1190.9 343.1h0M1262.7 343.6h0M1252.5 284.6h0M1260.2 296.1h0M1239.8 312.5h0M1243.9 327.3h0M1243.7 298.7h0M1201.7 328.9h0M1198.2 284.2h0M1204.9 307h0M1197.5 327.3h0M1175.1 290.4h0M1173.5 293.7h0M1193.8 309.7h0M1234.1 265.4h0M1247.3 350.8h0M1212.4 368h0M1267.8 307h0M1194.6 295.8h0M1251.2 280.1h0M1235.6 325.8h0M1217.6 300.9h0M1207.5 306.4h0" stroke="#3035a5" stroke-width="1.7" stroke-linecap="round" opacity="0.75"/>
<text x="1353" y="29.1" font-size="39.5" font-weight="bold" fill="#231f20" stroke="#231f20" stroke-width="0.9" textLength="25.1" lengthAdjust="spacingAndGlyphs">c</text>
<text x="1601.7" y="47.8" font-size="27" textLength="164" lengthAdjust="spacingAndGlyphs">MCF7 DFOM</text>
<line x1="1462.5" y1="59.9" x2="1462.5" y2="370.9" stroke="#231f20" stroke-width="1.5"/>
<line x1="1454.1" y1="370.3" x2="1462.5" y2="370.3" stroke="#231f20" stroke-width="1.5"/>
<text x="1427.8" y="378.1" font-size="25" textLength="14.6" lengthAdjust="spacingAndGlyphs">0</text>
<line x1="1454.1" y1="266.8" x2="1462.5" y2="266.8" stroke="#231f20" stroke-width="1.5"/>
<text x="1413.3" y="274.6" font-size="25" textLength="29.2" lengthAdjust="spacingAndGlyphs">50</text>
<line x1="1454.1" y1="163.4" x2="1462.5" y2="163.4" stroke="#231f20" stroke-width="1.5"/>
<text x="1398.7" y="171.2" font-size="25" textLength="43.8" lengthAdjust="spacingAndGlyphs">100</text>
<line x1="1454.1" y1="59.9" x2="1462.5" y2="59.9" stroke="#231f20" stroke-width="1.5"/>
<text x="1398.7" y="67.7" font-size="25" textLength="43.8" lengthAdjust="spacingAndGlyphs">150</text>
<path d="M1474.5 370.3 V163.4 H1498.4 V370.3" stroke="#2f86c9" stroke-width="1.5" fill="none"/>
<path d="M1510.1 370.3 V163.4 H1534 V370.3" stroke="#f29a36" stroke-width="1.5" fill="none"/>
<path d="M1569.6 370.3 V179.9 H1593.5 V370.3" stroke="#2f86c9" stroke-width="1.5" fill="none"/>
<path d="M1605.2 370.3 V146.8 H1629 V370.3" stroke="#f29a36" stroke-width="1.5" fill="none"/>
<path d="M1665 370.3 V235.8 H1689 V370.3" stroke="#2f86c9" stroke-width="1.5" fill="none"/>
<path d="M1700.7 370.3 V168.5 H1724.6 V370.3" stroke="#f29a36" stroke-width="1.5" fill="none"/>
<path d="M1760.6 370.3 V241 H1784.5 V370.3" stroke="#2f86c9" stroke-width="1.5" fill="none"/>
<path d="M1796.2 370.3 V176.8 H1820 V370.3" stroke="#f29a36" stroke-width="1.5" fill="none"/>
<path d="M1832.6 370.3 V267.9 H1856.5 V370.3" stroke="#2f86c9" stroke-width="1.5" fill="none"/>
<path d="M1868.2 370.3 V197.5 H1892.1 V370.3" stroke="#f29a36" stroke-width="1.5" fill="none"/>
<line x1="1454.1" y1="370.3" x2="1904.3" y2="370.3" stroke="#231f20" stroke-width="1.5"/>
<line x1="1486.4" y1="142.4" x2="1486.4" y2="185.8" stroke="#2f86c9" stroke-width="1.5"/>
<line x1="1480.4" y1="142.4" x2="1492.4" y2="142.4" stroke="#2f86c9" stroke-width="1.5"/>
<line x1="1480.4" y1="185.8" x2="1492.4" y2="185.8" stroke="#2f86c9" stroke-width="1.5"/>
<line x1="1522" y1="151.9" x2="1522" y2="175.8" stroke="#f29a36" stroke-width="1.5"/>
<line x1="1516" y1="151.9" x2="1528" y2="151.9" stroke="#f29a36" stroke-width="1.5"/>
<line x1="1516" y1="175.8" x2="1528" y2="175.8" stroke="#f29a36" stroke-width="1.5"/>
<line x1="1581.5" y1="165" x2="1581.5" y2="196.2" stroke="#2f86c9" stroke-width="1.5"/>
<line x1="1575.5" y1="165" x2="1587.5" y2="165" stroke="#2f86c9" stroke-width="1.5"/>
<line x1="1575.5" y1="196.2" x2="1587.5" y2="196.2" stroke="#2f86c9" stroke-width="1.5"/>
<line x1="1617.1" y1="138.9" x2="1617.1" y2="157.1" stroke="#f29a36" stroke-width="1.5"/>
<line x1="1611.1" y1="138.9" x2="1623.1" y2="138.9" stroke="#f29a36" stroke-width="1.5"/>
<line x1="1611.1" y1="157.1" x2="1623.1" y2="157.1" stroke="#f29a36" stroke-width="1.5"/>
<line x1="1677" y1="226.6" x2="1677" y2="246.1" stroke="#2f86c9" stroke-width="1.5"/>
<line x1="1671" y1="226.6" x2="1683" y2="226.6" stroke="#2f86c9" stroke-width="1.5"/>
<line x1="1671" y1="246.1" x2="1683" y2="246.1" stroke="#2f86c9" stroke-width="1.5"/>
<line x1="1712.6" y1="152.4" x2="1712.6" y2="184.9" stroke="#f29a36" stroke-width="1.5"/>
<line x1="1706.6" y1="152.4" x2="1718.6" y2="152.4" stroke="#f29a36" stroke-width="1.5"/>
<line x1="1706.6" y1="184.9" x2="1718.6" y2="184.9" stroke="#f29a36" stroke-width="1.5"/>
<line x1="1772.5" y1="211.8" x2="1772.5" y2="270.9" stroke="#2f86c9" stroke-width="1.5"/>
<line x1="1766.5" y1="211.8" x2="1778.5" y2="211.8" stroke="#2f86c9" stroke-width="1.5"/>
<line x1="1766.5" y1="270.9" x2="1778.5" y2="270.9" stroke="#2f86c9" stroke-width="1.5"/>
<line x1="1808.1" y1="162.8" x2="1808.1" y2="191" stroke="#f29a36" stroke-width="1.5"/>
<line x1="1802.1" y1="162.8" x2="1814.1" y2="162.8" stroke="#f29a36" stroke-width="1.5"/>
<line x1="1802.1" y1="191" x2="1814.1" y2="191" stroke="#f29a36" stroke-width="1.5"/>
<line x1="1844.5" y1="263" x2="1844.5" y2="273.5" stroke="#2f86c9" stroke-width="1.5"/>
<line x1="1838.5" y1="263" x2="1850.5" y2="263" stroke="#2f86c9" stroke-width="1.5"/>
<line x1="1838.5" y1="273.5" x2="1850.5" y2="273.5" stroke="#2f86c9" stroke-width="1.5"/>
<line x1="1880.1" y1="181" x2="1880.1" y2="213.6" stroke="#f29a36" stroke-width="1.5"/>
<line x1="1874.1" y1="181" x2="1886.1" y2="181" stroke="#f29a36" stroke-width="1.5"/>
<line x1="1874.1" y1="213.6" x2="1886.1" y2="213.6" stroke="#f29a36" stroke-width="1.5"/>
<circle cx="1485.8" cy="132.8" r="4.9" fill="#2f86c9"/>
<circle cx="1485.8" cy="151.9" r="4.9" fill="#2f86c9"/>
<circle cx="1485.8" cy="206.6" r="4.9" fill="#2f86c9"/>
<circle cx="1521.8" cy="141.1" r="4.9" fill="#f29a36"/>
<circle cx="1515.7" cy="151.1" r="4.9" fill="#f29a36"/>
<circle cx="1527.9" cy="165.4" r="4.9" fill="#f29a36"/>
<circle cx="1521.8" cy="197.9" r="4.9" fill="#f29a36"/>
<circle cx="1581.3" cy="138" r="4.9" fill="#2f86c9"/>
<circle cx="1575.7" cy="181.5" r="4.9" fill="#2f86c9"/>
<circle cx="1587.4" cy="186.7" r="4.9" fill="#2f86c9"/>
<circle cx="1581.3" cy="215.3" r="4.9" fill="#2f86c9"/>
<circle cx="1617.3" cy="121.5" r="4.9" fill="#f29a36"/>
<circle cx="1617.3" cy="148.5" r="4.9" fill="#f29a36"/>
<circle cx="1611.3" cy="163.7" r="4.9" fill="#f29a36"/>
<circle cx="1623.4" cy="159.3" r="4.9" fill="#f29a36"/>
<circle cx="1677.2" cy="218.4" r="4.9" fill="#2f86c9"/>
<circle cx="1671.2" cy="225.7" r="4.9" fill="#2f86c9"/>
<circle cx="1683.3" cy="237.5" r="4.9" fill="#2f86c9"/>
<circle cx="1677.2" cy="262.2" r="4.9" fill="#2f86c9"/>
<circle cx="1712.8" cy="135.4" r="4.9" fill="#f29a36"/>
<circle cx="1706.7" cy="160.6" r="4.9" fill="#f29a36"/>
<circle cx="1718.9" cy="165.4" r="4.9" fill="#f29a36"/>
<circle cx="1712.8" cy="213.1" r="4.9" fill="#f29a36"/>
<circle cx="1772.7" cy="156.7" r="4.9" fill="#2f86c9"/>
<circle cx="1772.7" cy="245.3" r="4.9" fill="#2f86c9"/>
<circle cx="1766.7" cy="284.8" r="4.9" fill="#2f86c9"/>
<circle cx="1778.8" cy="278.7" r="4.9" fill="#2f86c9"/>
<circle cx="1808.3" cy="138" r="4.9" fill="#f29a36"/>
<circle cx="1808.3" cy="173.6" r="4.9" fill="#f29a36"/>
<circle cx="1802.7" cy="202.3" r="4.9" fill="#f29a36"/>
<circle cx="1814.4" cy="194.5" r="4.9" fill="#f29a36"/>
<circle cx="1838.3" cy="256.1" r="4.9" fill="#2f86c9"/>
<circle cx="1850.4" cy="260.5" r="4.9" fill="#2f86c9"/>
<circle cx="1838.3" cy="280" r="4.9" fill="#2f86c9"/>
<circle cx="1850.4" cy="278.3" r="4.9" fill="#2f86c9"/>
<circle cx="1880" cy="148.9" r="4.9" fill="#f29a36"/>
<circle cx="1873.9" cy="209.7" r="4.9" fill="#f29a36"/>
<circle cx="1886" cy="209.7" r="4.9" fill="#f29a36"/>
<circle cx="1880" cy="221.8" r="4.9" fill="#f29a36"/>
<text x="1498" y="400.2" font-size="25" textLength="14.6" lengthAdjust="spacingAndGlyphs">0</text>
<text x="1590.5" y="400.2" font-size="25" textLength="14.6" lengthAdjust="spacingAndGlyphs">2</text>
<text x="1679.1" y="400.2" font-size="25" textLength="29.2" lengthAdjust="spacingAndGlyphs">10</text>
<text x="1757.7" y="400.2" font-size="25" textLength="29.2" lengthAdjust="spacingAndGlyphs">50</text>
<text x="1838.9" y="400.2" font-size="25" textLength="43.8" lengthAdjust="spacingAndGlyphs">200</text>
<text x="1607.6" y="442.8" font-size="27" textLength="152.2" lengthAdjust="spacingAndGlyphs">Conc. (µM)</text>
<text x="1294.5" y="214.9" font-size="27" transform="rotate(-90 1375.7 214.9)" textLength="161.6" lengthAdjust="spacingAndGlyphs">% of viability</text>
<text x="1637.1" y="96.6" font-size="22.6" textLength="104.4" lengthAdjust="spacingAndGlyphs"><tspan font-style="italic">P</tspan> = 0.0115</text>
<line x1="1662.5" y1="102.9" x2="1715.9" y2="102.9" stroke="#231f20" stroke-width="1.4"/>
<text x="1798.5" y="127.2" font-size="22.6" textLength="117.4" lengthAdjust="spacingAndGlyphs"><tspan font-style="italic">P</tspan> = 0.0065</text>
<line x1="1833" y1="134.6" x2="1888.2" y2="134.6" stroke="#231f20" stroke-width="1.4"/>
<circle cx="1943.8" cy="65.5" r="4.9" fill="#2f86c9"/>
<text x="1965.5" y="73.8" font-size="26.7" textLength="91" lengthAdjust="spacingAndGlyphs">WT/KO</text>
<circle cx="1943.8" cy="100.7" r="4.9" fill="#f29a36"/>
<text x="1960.7" y="108.5" font-size="26.7" textLength="104.7" lengthAdjust="spacingAndGlyphs">6KR/KO</text>
<text x="-1.3" y="496.6" font-size="39.5" font-weight="bold" fill="#231f20" stroke="#231f20" stroke-width="0.9" textLength="27.8" lengthAdjust="spacingAndGlyphs">d</text>
<text x="194.6" y="539.8" font-size="27" textLength="141.1" lengthAdjust="spacingAndGlyphs">MCF7 H<tspan font-size="19.3" dy="9.1">2</tspan><tspan dy="-9.1">O</tspan><tspan font-size="19.3" dy="9.1">2</tspan></text>
<line x1="106.1" y1="566.4" x2="106.1" y2="885.2" stroke="#231f20" stroke-width="1.5"/>
<line x1="97.4" y1="884.6" x2="106.1" y2="884.6" stroke="#231f20" stroke-width="1.5"/>
<text x="70.3" y="892.4" font-size="25" textLength="14.6" lengthAdjust="spacingAndGlyphs">0</text>
<line x1="97.4" y1="805.1" x2="106.1" y2="805.1" stroke="#231f20" stroke-width="1.5"/>
<text x="55.8" y="812.9" font-size="25" textLength="29.2" lengthAdjust="spacingAndGlyphs">50</text>
<line x1="97.4" y1="725.5" x2="106.1" y2="725.5" stroke="#231f20" stroke-width="1.5"/>
<text x="41.2" y="733.3" font-size="25" textLength="43.8" lengthAdjust="spacingAndGlyphs">100</text>
<line x1="97.4" y1="646" x2="106.1" y2="646" stroke="#231f20" stroke-width="1.5"/>
<text x="41.2" y="653.8" font-size="25" textLength="43.8" lengthAdjust="spacingAndGlyphs">150</text>
<line x1="97.4" y1="566.5" x2="106.1" y2="566.5" stroke="#231f20" stroke-width="1.5"/>
<text x="41.2" y="574.3" font-size="25" textLength="43.8" lengthAdjust="spacingAndGlyphs">200</text>
<path d="M118.5 884.6 V725.5 H144.5 V884.6" stroke="#2f86c9" stroke-width="1.5" fill="none"/>
<path d="M156.6 884.6 V725.5 H182.7 V884.6" stroke="#f29a36" stroke-width="1.5" fill="none"/>
<path d="M220.8 884.6 V669.2 H246.3 V884.6" stroke="#2f86c9" stroke-width="1.5" fill="none"/>
<path d="M258.4 884.6 V727.4 H284.4 V884.6" stroke="#f29a36" stroke-width="1.5" fill="none"/>
<path d="M322.3 884.6 V800.6 H348.3 V884.6" stroke="#2f86c9" stroke-width="1.5" fill="none"/>
<path d="M360.7 884.6 V736 H386.7 V884.6" stroke="#f29a36" stroke-width="1.5" fill="none"/>
<line x1="97.4" y1="884.6" x2="424.6" y2="884.6" stroke="#231f20" stroke-width="1.5"/>
<line x1="131.5" y1="710.4" x2="131.5" y2="741.7" stroke="#2f86c9" stroke-width="1.5"/>
<line x1="125.5" y1="710.4" x2="137.5" y2="710.4" stroke="#2f86c9" stroke-width="1.5"/>
<line x1="125.5" y1="741.7" x2="137.5" y2="741.7" stroke="#2f86c9" stroke-width="1.5"/>
<line x1="169.6" y1="722" x2="169.6" y2="730.2" stroke="#f29a36" stroke-width="1.5"/>
<line x1="163.6" y1="722" x2="175.6" y2="722" stroke="#f29a36" stroke-width="1.5"/>
<line x1="163.6" y1="730.2" x2="175.6" y2="730.2" stroke="#f29a36" stroke-width="1.5"/>
<line x1="233.5" y1="663" x2="233.5" y2="676.7" stroke="#2f86c9" stroke-width="1.5"/>
<line x1="227.5" y1="663" x2="239.5" y2="663" stroke="#2f86c9" stroke-width="1.5"/>
<line x1="227.5" y1="676.7" x2="239.5" y2="676.7" stroke="#2f86c9" stroke-width="1.5"/>
<line x1="271.4" y1="715.9" x2="271.4" y2="739.8" stroke="#f29a36" stroke-width="1.5"/>
<line x1="265.4" y1="715.9" x2="277.4" y2="715.9" stroke="#f29a36" stroke-width="1.5"/>
<line x1="265.4" y1="739.8" x2="277.4" y2="739.8" stroke="#f29a36" stroke-width="1.5"/>
<line x1="335.3" y1="794.6" x2="335.3" y2="808.3" stroke="#2f86c9" stroke-width="1.5"/>
<line x1="329.3" y1="794.6" x2="341.3" y2="794.6" stroke="#2f86c9" stroke-width="1.5"/>
<line x1="329.3" y1="808.3" x2="341.3" y2="808.3" stroke="#2f86c9" stroke-width="1.5"/>
<line x1="373.7" y1="723.3" x2="373.7" y2="748.8" stroke="#f29a36" stroke-width="1.5"/>
<line x1="367.7" y1="723.3" x2="379.7" y2="723.3" stroke="#f29a36" stroke-width="1.5"/>
<line x1="367.7" y1="748.8" x2="379.7" y2="748.8" stroke="#f29a36" stroke-width="1.5"/>
<circle cx="138.5" cy="697.5" r="4.9" fill="#2f86c9"/>
<circle cx="125.3" cy="705.5" r="4.9" fill="#2f86c9"/>
<circle cx="131.9" cy="733.2" r="4.9" fill="#2f86c9"/>
<circle cx="131.9" cy="768" r="4.9" fill="#2f86c9"/>
<circle cx="170" cy="712.9" r="4.9" fill="#f29a36"/>
<circle cx="163.7" cy="728.8" r="4.9" fill="#f29a36"/>
<circle cx="170" cy="734.3" r="4.9" fill="#f29a36"/>
<circle cx="176.4" cy="728.8" r="4.9" fill="#f29a36"/>
<circle cx="227.1" cy="653.1" r="4.9" fill="#2f86c9"/>
<circle cx="240.3" cy="663.2" r="4.9" fill="#2f86c9"/>
<circle cx="227.1" cy="682.2" r="4.9" fill="#2f86c9"/>
<circle cx="240.3" cy="678.9" r="4.9" fill="#2f86c9"/>
<circle cx="265.5" cy="703" r="4.9" fill="#f29a36"/>
<circle cx="278.4" cy="710.4" r="4.9" fill="#f29a36"/>
<circle cx="265.5" cy="749.4" r="4.9" fill="#f29a36"/>
<circle cx="278.4" cy="747.2" r="4.9" fill="#f29a36"/>
<circle cx="330.5" cy="791.9" r="4.9" fill="#2f86c9"/>
<circle cx="340.6" cy="788.6" r="4.9" fill="#2f86c9"/>
<circle cx="335.2" cy="800.6" r="4.9" fill="#2f86c9"/>
<circle cx="335.2" cy="822" r="4.9" fill="#2f86c9"/>
<circle cx="373.6" cy="706.3" r="4.9" fill="#f29a36"/>
<circle cx="373.6" cy="721.9" r="4.9" fill="#f29a36"/>
<circle cx="367" cy="757.6" r="4.9" fill="#f29a36"/>
<circle cx="379.9" cy="757.6" r="4.9" fill="#f29a36"/>
<text x="142.2" y="914" font-size="25" textLength="14.6" lengthAdjust="spacingAndGlyphs">0</text>
<text x="232.9" y="914" font-size="25" textLength="36.5" lengthAdjust="spacingAndGlyphs">0.2</text>
<text x="346.1" y="914" font-size="25" textLength="14.6" lengthAdjust="spacingAndGlyphs">1</text>
<text x="193" y="956" font-size="27" textLength="146.2" lengthAdjust="spacingAndGlyphs">Conc. (mM)</text>
<text x="-56.5" y="726" font-size="27" transform="rotate(-90 23.4 726)" textLength="159" lengthAdjust="spacingAndGlyphs">% of viability</text>
<text x="192.7" y="611.7" font-size="22.6" textLength="116.9" lengthAdjust="spacingAndGlyphs"><tspan font-style="italic">P</tspan> = 0.0056</text>
<line x1="225.5" y1="624" x2="280.3" y2="624" stroke="#231f20" stroke-width="1.4"/>
<text x="297.7" y="662.1" font-size="22.6" textLength="118.8" lengthAdjust="spacingAndGlyphs"><tspan font-style="italic">P</tspan> = 0.0049</text>
<line x1="328.3" y1="673.4" x2="382.6" y2="673.4" stroke="#231f20" stroke-width="1.4"/>
<circle cx="372.2" cy="563.7" r="4.9" fill="#2f86c9"/>
<text x="393.1" y="571.8" font-size="26.7" textLength="91.7" lengthAdjust="spacingAndGlyphs">WT/KO</text>
<circle cx="372.2" cy="601.2" r="4.9" fill="#f29a36"/>
<text x="391.5" y="608.9" font-size="26.7" textLength="104.9" lengthAdjust="spacingAndGlyphs">6KR/KO</text>
<text x="511" y="496.6" font-size="39.5" font-weight="bold" fill="#231f20" stroke="#231f20" stroke-width="0.9" textLength="25.2" lengthAdjust="spacingAndGlyphs">e</text>
<text x="733.6" y="527.2" font-size="27" textLength="73.3" lengthAdjust="spacingAndGlyphs">MCF7</text>
<text x="718.4" y="560" font-size="27" textLength="109.8" lengthAdjust="spacingAndGlyphs">paraquat</text>
<line x1="620.6" y1="567.7" x2="620.6" y2="883.6" stroke="#231f20" stroke-width="1.5"/>
<line x1="611.8" y1="883" x2="620.6" y2="883" stroke="#231f20" stroke-width="1.5"/>
<text x="586.9" y="890.8" font-size="25" textLength="14.6" lengthAdjust="spacingAndGlyphs">0</text>
<line x1="611.8" y1="778" x2="620.6" y2="778" stroke="#231f20" stroke-width="1.5"/>
<text x="572.3" y="785.8" font-size="25" textLength="29.2" lengthAdjust="spacingAndGlyphs">50</text>
<line x1="611.8" y1="673" x2="620.6" y2="673" stroke="#231f20" stroke-width="1.5"/>
<text x="557.7" y="680.8" font-size="25" textLength="43.8" lengthAdjust="spacingAndGlyphs">100</text>
<line x1="611.8" y1="568" x2="620.6" y2="568" stroke="#231f20" stroke-width="1.5"/>
<text x="557.7" y="575.8" font-size="25" textLength="43.8" lengthAdjust="spacingAndGlyphs">150</text>
<path d="M633.8 883 V673 H661.2 V883" stroke="#2f86c9" stroke-width="1.5" fill="none"/>
<path d="M674.9 883 V673 H702.3 V883" stroke="#f29a36" stroke-width="1.5" fill="none"/>
<path d="M743.4 883 V699.5 H770.8 V883" stroke="#2f86c9" stroke-width="1.5" fill="none"/>
<path d="M784.3 883 V694.2 H811.7 V883" stroke="#f29a36" stroke-width="1.5" fill="none"/>
<path d="M852.8 883 V780.1 H880.2 V883" stroke="#2f86c9" stroke-width="1.5" fill="none"/>
<path d="M893.6 883 V740.2 H921 V883" stroke="#f29a36" stroke-width="1.5" fill="none"/>
<line x1="611.8" y1="883" x2="935.9" y2="883" stroke="#231f20" stroke-width="1.5"/>
<line x1="647.5" y1="658.7" x2="647.5" y2="687" stroke="#2f86c9" stroke-width="1.5"/>
<line x1="641.5" y1="658.7" x2="653.5" y2="658.7" stroke="#2f86c9" stroke-width="1.5"/>
<line x1="641.5" y1="687" x2="653.5" y2="687" stroke="#2f86c9" stroke-width="1.5"/>
<line x1="688.6" y1="644.2" x2="688.6" y2="700.6" stroke="#f29a36" stroke-width="1.5"/>
<line x1="682.6" y1="644.2" x2="694.6" y2="644.2" stroke="#f29a36" stroke-width="1.5"/>
<line x1="682.6" y1="700.6" x2="694.6" y2="700.6" stroke="#f29a36" stroke-width="1.5"/>
<line x1="757.1" y1="674.4" x2="757.1" y2="723.7" stroke="#2f86c9" stroke-width="1.5"/>
<line x1="751.1" y1="674.4" x2="763.1" y2="674.4" stroke="#2f86c9" stroke-width="1.5"/>
<line x1="751.1" y1="723.7" x2="763.1" y2="723.7" stroke="#2f86c9" stroke-width="1.5"/>
<line x1="798" y1="677.4" x2="798" y2="710.8" stroke="#f29a36" stroke-width="1.5"/>
<line x1="792" y1="677.4" x2="804" y2="677.4" stroke="#f29a36" stroke-width="1.5"/>
<line x1="792" y1="710.8" x2="804" y2="710.8" stroke="#f29a36" stroke-width="1.5"/>
<line x1="866.5" y1="771.1" x2="866.5" y2="789.8" stroke="#2f86c9" stroke-width="1.5"/>
<line x1="860.5" y1="771.1" x2="872.5" y2="771.1" stroke="#2f86c9" stroke-width="1.5"/>
<line x1="860.5" y1="789.8" x2="872.5" y2="789.8" stroke="#2f86c9" stroke-width="1.5"/>
<line x1="907.3" y1="731.4" x2="907.3" y2="749.2" stroke="#f29a36" stroke-width="1.5"/>
<line x1="901.3" y1="731.4" x2="913.3" y2="731.4" stroke="#f29a36" stroke-width="1.5"/>
<line x1="901.3" y1="749.2" x2="913.3" y2="749.2" stroke="#f29a36" stroke-width="1.5"/>
<circle cx="648" cy="633.8" r="4.9" fill="#2f86c9"/>
<circle cx="640.6" cy="671.6" r="4.9" fill="#2f86c9"/>
<circle cx="654.9" cy="683.1" r="4.9" fill="#2f86c9"/>
<circle cx="648" cy="702.6" r="4.9" fill="#2f86c9"/>
<circle cx="688.9" cy="586.9" r="4.9" fill="#f29a36"/>
<circle cx="681.5" cy="699.3" r="4.9" fill="#f29a36"/>
<circle cx="695.7" cy="701.5" r="4.9" fill="#f29a36"/>
<circle cx="688.9" cy="703.4" r="4.9" fill="#f29a36"/>
<circle cx="757.1" cy="637.4" r="4.9" fill="#2f86c9"/>
<circle cx="757.1" cy="686.4" r="4.9" fill="#2f86c9"/>
<circle cx="757.1" cy="719.3" r="4.9" fill="#2f86c9"/>
<circle cx="757.1" cy="753.3" r="4.9" fill="#2f86c9"/>
<circle cx="798" cy="669.7" r="4.9" fill="#f29a36"/>
<circle cx="791.1" cy="677.1" r="4.9" fill="#f29a36"/>
<circle cx="804.8" cy="686.2" r="4.9" fill="#f29a36"/>
<circle cx="798" cy="743.2" r="4.9" fill="#f29a36"/>
<circle cx="859.6" cy="765.1" r="4.9" fill="#2f86c9"/>
<circle cx="873.4" cy="765.1" r="4.9" fill="#2f86c9"/>
<circle cx="866.5" cy="784.8" r="4.9" fill="#2f86c9"/>
<circle cx="866.5" cy="806" r="4.9" fill="#2f86c9"/>
<circle cx="900.8" cy="723.7" r="4.9" fill="#f29a36"/>
<circle cx="914.5" cy="726.4" r="4.9" fill="#f29a36"/>
<circle cx="914.5" cy="750.6" r="4.9" fill="#f29a36"/>
<circle cx="900.8" cy="759.6" r="4.9" fill="#f29a36"/>
<text x="660.5" y="912.3" font-size="25" textLength="14.6" lengthAdjust="spacingAndGlyphs">0</text>
<text x="760.9" y="912.3" font-size="25" textLength="36.5" lengthAdjust="spacingAndGlyphs">0.2</text>
<text x="879.3" y="912.3" font-size="25" textLength="14.6" lengthAdjust="spacingAndGlyphs">1</text>
<text x="703.7" y="956.2" font-size="27" textLength="148.9" lengthAdjust="spacingAndGlyphs">Conc. (mM)</text>
<text x="455.9" y="724.5" font-size="27" transform="rotate(-90 534.3 724.5)" textLength="156" lengthAdjust="spacingAndGlyphs">% of viability</text>
<text x="836" y="694.4" font-size="22.6" textLength="107.8" lengthAdjust="spacingAndGlyphs"><tspan font-style="italic">P</tspan> = 0.0221</text>
<line x1="859.6" y1="705.3" x2="912.6" y2="705.3" stroke="#231f20" stroke-width="1.4"/>
<circle cx="854.2" cy="563.6" r="4.9" fill="#2f86c9"/>
<text x="875.5" y="571" font-size="26.7" textLength="91.2" lengthAdjust="spacingAndGlyphs">WT/KO</text>
<circle cx="854.2" cy="601.2" r="4.9" fill="#f29a36"/>
<text x="873.7" y="609.4" font-size="26.7" textLength="104" lengthAdjust="spacingAndGlyphs">6KR/KO</text>
<text x="1009.5" y="496.6" font-size="39.5" font-weight="bold" fill="#231f20" stroke="#231f20" stroke-width="0.9" textLength="14" lengthAdjust="spacingAndGlyphs">f</text>
<text x="1018.3" y="540.1" font-size="26.7" textLength="89.2" lengthAdjust="spacingAndGlyphs">WT/KO</text>
<text x="1017" y="726.7" font-size="26.7" textLength="102" lengthAdjust="spacingAndGlyphs">6KR/KO</text>
<g clip-path="url(#ftop)">
<rect x="1015.9" y="554.9" width="444.9" height="139.8" fill="url(#fbg)"/>
<path d="M1015.9 554.9 H1110 Q1060 560 1030 578 L1015.9 590 Z" fill="#17191b"/>
<path d="M1199.5 554.9 H1290 Q1240 560 1210 578 L1199.5 590 Z" fill="#17191b"/>
<rect x="1015.9" y="554.9" width="444.9" height="8" fill="#222427"/>
<path d="M1051.8 553 V569 M1054.8 553 V569" stroke="#6b6e72" stroke-width="0.8" fill="none"/>
<path d="M1053.3 668 Q1050.5 681.4 1052.4 696.7" stroke="#b9b9b9" stroke-width="3.4" fill="none" stroke-linecap="round"/>
<path d="M1042.2 662 Q1033.2 669 1027.2 667.9" stroke="#c4c4c4" stroke-width="3.4" fill="none" stroke-linecap="round"/>
<path d="M1041.3 604.7 L1037.3 599.7" stroke="#b8b8b8" stroke-width="3.5" fill="none" stroke-linecap="round"/>
<path d="M1064.4 662 Q1073.4 669 1079.4 668.8" stroke="#c4c4c4" stroke-width="3.4" fill="none" stroke-linecap="round"/>
<path d="M1065.3 604.7 L1069.3 599.7" stroke="#b8b8b8" stroke-width="3.5" fill="none" stroke-linecap="round"/>
<path d="M1055.8 569 L1057.6 573.1 L1059.3 577.2 L1060.8 581.4 L1062.3 585.5 L1063.5 589.6 L1064.9 593.8 L1066.2 597.9 L1066.5 602 L1067 606.1 L1068.1 610.2 L1068.3 614.4 L1068.9 618.5 L1068.8 622.6 L1069.4 626.8 L1070 630.9 L1070.2 635 L1071.2 639.1 L1071.7 643.2 L1071.5 647.4 L1071.4 651.5 L1071.8 655.6 L1070.3 659.8 L1066.9 663.9 L1060.2 668 L1055.3 670 L1051.3 670 L1046.4 668 L1039.7 663.9 L1036.3 659.8 L1034.8 655.6 L1035.2 651.5 L1035.1 647.4 L1034.9 643.2 L1035.4 639.1 L1036.4 635 L1036.6 630.9 L1037.2 626.8 L1037.8 622.6 L1037.7 618.5 L1038.3 614.4 L1038.5 610.2 L1039.6 606.1 L1040.1 602 L1040.4 597.9 L1041.7 593.8 L1043.1 589.6 L1044.3 585.5 L1045.8 581.4 L1047.3 577.2 L1049 573.1 L1050.8 569Z" fill="url(#mbody)" filter="url(#mwob)"/>
<path d="M1055.8 569 L1057.6 573.1 L1059.3 577.2 L1060.8 581.4 L1062.3 585.5 L1063.5 589.6 L1064.9 593.8 L1066.2 597.9 L1066.5 602 L1067 606.1 L1068.1 610.2 L1068.3 614.4 L1068.9 618.5 L1068.8 622.6 L1069.4 626.8 L1070 630.9 L1070.2 635 L1071.2 639.1 L1071.7 643.2 L1071.5 647.4 L1071.4 651.5 L1071.8 655.6 L1070.3 659.8 L1066.9 663.9 L1060.2 668 L1055.3 670 L1051.3 670 L1046.4 668 L1039.7 663.9 L1036.3 659.8 L1034.8 655.6 L1035.2 651.5 L1035.1 647.4 L1034.9 643.2 L1035.4 639.1 L1036.4 635 L1036.6 630.9 L1037.2 626.8 L1037.8 622.6 L1037.7 618.5 L1038.3 614.4 L1038.5 610.2 L1039.6 606.1 L1040.1 602 L1040.4 597.9 L1041.7 593.8 L1043.1 589.6 L1044.3 585.5 L1045.8 581.4 L1047.3 577.2 L1049 573.1 L1050.8 569Z" fill="url(#mhead)" opacity="0.55" filter="url(#mblur)"/>
<path d="M1055.8 569 L1057.6 573.1 L1059.3 577.2 L1060.8 581.4 L1062.3 585.5 L1063.5 589.6 L1064.9 593.8 L1066.2 597.9 L1066.5 602 L1067 606.1 L1068.1 610.2 L1068.3 614.4 L1068.9 618.5 L1068.8 622.6 L1069.4 626.8 L1070 630.9 L1070.2 635 L1071.2 639.1 L1071.7 643.2 L1071.5 647.4 L1071.4 651.5 L1071.8 655.6 L1070.3 659.8 L1066.9 663.9 L1060.2 668 L1055.3 670 L1051.3 670 L1046.4 668 L1039.7 663.9 L1036.3 659.8 L1034.8 655.6 L1035.2 651.5 L1035.1 647.4 L1034.9 643.2 L1035.4 639.1 L1036.4 635 L1036.6 630.9 L1037.2 626.8 L1037.8 622.6 L1037.7 618.5 L1038.3 614.4 L1038.5 610.2 L1039.6 606.1 L1040.1 602 L1040.4 597.9 L1041.7 593.8 L1043.1 589.6 L1044.3 585.5 L1045.8 581.4 L1047.3 577.2 L1049 573.1 L1050.8 569Z" fill="#000" filter="url(#mtex)" opacity="0.17"/>
<path d="M1090 553 V569 M1093 553 V569" stroke="#6b6e72" stroke-width="0.8" fill="none"/>
<path d="M1091.5 668 Q1091.7 681.4 1096.2 696.7" stroke="#b9b9b9" stroke-width="3.4" fill="none" stroke-linecap="round"/>
<path d="M1080.4 662 Q1071.4 669 1065.4 669.2" stroke="#c4c4c4" stroke-width="3.4" fill="none" stroke-linecap="round"/>
<path d="M1079.5 604.7 L1075.5 599.7" stroke="#b8b8b8" stroke-width="3.5" fill="none" stroke-linecap="round"/>
<path d="M1102.6 662 Q1111.6 669 1117.6 667.9" stroke="#c4c4c4" stroke-width="3.4" fill="none" stroke-linecap="round"/>
<path d="M1103.5 604.7 L1107.5 599.7" stroke="#b8b8b8" stroke-width="3.5" fill="none" stroke-linecap="round"/>
<path d="M1094 569 L1095.8 573.1 L1097.3 577.2 L1098.9 581.4 L1100.6 585.5 L1101.8 589.6 L1103.1 593.8 L1104.2 597.9 L1105 602 L1105.6 606.1 L1106.1 610.2 L1106.4 614.4 L1106.9 618.5 L1107.2 622.6 L1107.8 626.8 L1108.4 630.9 L1108.9 635 L1109.1 639.1 L1109.6 643.2 L1109.8 647.4 L1109.7 651.5 L1109.7 655.6 L1108.1 659.8 L1105.1 663.9 L1098.5 668 L1093.5 670 L1089.5 670 L1084.5 668 L1077.9 663.9 L1074.9 659.8 L1073.3 655.6 L1073.3 651.5 L1073.2 647.4 L1073.4 643.2 L1073.9 639.1 L1074.1 635 L1074.6 630.9 L1075.2 626.8 L1075.8 622.6 L1076.1 618.5 L1076.6 614.4 L1076.9 610.2 L1077.4 606.1 L1078 602 L1078.8 597.9 L1079.9 593.8 L1081.2 589.6 L1082.4 585.5 L1084.1 581.4 L1085.7 577.2 L1087.2 573.1 L1089 569Z" fill="url(#mbody)" filter="url(#mwob)"/>
<path d="M1094 569 L1095.8 573.1 L1097.3 577.2 L1098.9 581.4 L1100.6 585.5 L1101.8 589.6 L1103.1 593.8 L1104.2 597.9 L1105 602 L1105.6 606.1 L1106.1 610.2 L1106.4 614.4 L1106.9 618.5 L1107.2 622.6 L1107.8 626.8 L1108.4 630.9 L1108.9 635 L1109.1 639.1 L1109.6 643.2 L1109.8 647.4 L1109.7 651.5 L1109.7 655.6 L1108.1 659.8 L1105.1 663.9 L1098.5 668 L1093.5 670 L1089.5 670 L1084.5 668 L1077.9 663.9 L1074.9 659.8 L1073.3 655.6 L1073.3 651.5 L1073.2 647.4 L1073.4 643.2 L1073.9 639.1 L1074.1 635 L1074.6 630.9 L1075.2 626.8 L1075.8 622.6 L1076.1 618.5 L1076.6 614.4 L1076.9 610.2 L1077.4 606.1 L1078 602 L1078.8 597.9 L1079.9 593.8 L1081.2 589.6 L1082.4 585.5 L1084.1 581.4 L1085.7 577.2 L1087.2 573.1 L1089 569Z" fill="url(#mhead)" opacity="0.55" filter="url(#mblur)"/>
<path d="M1094 569 L1095.8 573.1 L1097.3 577.2 L1098.9 581.4 L1100.6 585.5 L1101.8 589.6 L1103.1 593.8 L1104.2 597.9 L1105 602 L1105.6 606.1 L1106.1 610.2 L1106.4 614.4 L1106.9 618.5 L1107.2 622.6 L1107.8 626.8 L1108.4 630.9 L1108.9 635 L1109.1 639.1 L1109.6 643.2 L1109.8 647.4 L1109.7 651.5 L1109.7 655.6 L1108.1 659.8 L1105.1 663.9 L1098.5 668 L1093.5 670 L1089.5 670 L1084.5 668 L1077.9 663.9 L1074.9 659.8 L1073.3 655.6 L1073.3 651.5 L1073.2 647.4 L1073.4 643.2 L1073.9 639.1 L1074.1 635 L1074.6 630.9 L1075.2 626.8 L1075.8 622.6 L1076.1 618.5 L1076.6 614.4 L1076.9 610.2 L1077.4 606.1 L1078 602 L1078.8 597.9 L1079.9 593.8 L1081.2 589.6 L1082.4 585.5 L1084.1 581.4 L1085.7 577.2 L1087.2 573.1 L1089 569Z" fill="#000" filter="url(#mtex)" opacity="0.17"/>
<path d="M1130.7 553 V569 M1133.7 553 V569" stroke="#6b6e72" stroke-width="0.8" fill="none"/>
<path d="M1132.2 668 Q1134.4 681.4 1126.6 696.7" stroke="#b9b9b9" stroke-width="3.4" fill="none" stroke-linecap="round"/>
<path d="M1121.1 662 Q1112.1 669 1106.1 668.9" stroke="#c4c4c4" stroke-width="3.4" fill="none" stroke-linecap="round"/>
<path d="M1120.2 604.7 L1116.2 599.7" stroke="#b8b8b8" stroke-width="3.5" fill="none" stroke-linecap="round"/>
<path d="M1143.3 662 Q1152.3 669 1158.3 669.9" stroke="#c4c4c4" stroke-width="3.4" fill="none" stroke-linecap="round"/>
<path d="M1144.2 604.7 L1148.2 599.7" stroke="#b8b8b8" stroke-width="3.5" fill="none" stroke-linecap="round"/>
<path d="M1134.7 569 L1136.4 573.1 L1138.1 577.2 L1139.8 581.4 L1141.2 585.5 L1142.3 589.6 L1143.5 593.8 L1145.1 597.9 L1145.5 602 L1146.1 606.1 L1147 610.2 L1147.3 614.4 L1147.8 618.5 L1148 622.6 L1148.5 626.8 L1148.5 630.9 L1149.4 635 L1150.1 639.1 L1150.3 643.2 L1150.9 647.4 L1150.8 651.5 L1150.4 655.6 L1149 659.8 L1145.9 663.9 L1139.1 668 L1134.2 670 L1130.2 670 L1125.3 668 L1118.5 663.9 L1115.4 659.8 L1114 655.6 L1113.6 651.5 L1113.5 647.4 L1114.1 643.2 L1114.3 639.1 L1115 635 L1115.9 630.9 L1115.9 626.8 L1116.4 622.6 L1116.6 618.5 L1117.1 614.4 L1117.4 610.2 L1118.3 606.1 L1118.9 602 L1119.3 597.9 L1120.9 593.8 L1122.1 589.6 L1123.2 585.5 L1124.6 581.4 L1126.3 577.2 L1128 573.1 L1129.7 569Z" fill="url(#mbody)" filter="url(#mwob)"/>
<path d="M1134.7 569 L1136.4 573.1 L1138.1 577.2 L1139.8 581.4 L1141.2 585.5 L1142.3 589.6 L1143.5 593.8 L1145.1 597.9 L1145.5 602 L1146.1 606.1 L1147 610.2 L1147.3 614.4 L1147.8 618.5 L1148 622.6 L1148.5 626.8 L1148.5 630.9 L1149.4 635 L1150.1 639.1 L1150.3 643.2 L1150.9 647.4 L1150.8 651.5 L1150.4 655.6 L1149 659.8 L1145.9 663.9 L1139.1 668 L1134.2 670 L1130.2 670 L1125.3 668 L1118.5 663.9 L1115.4 659.8 L1114 655.6 L1113.6 651.5 L1113.5 647.4 L1114.1 643.2 L1114.3 639.1 L1115 635 L1115.9 630.9 L1115.9 626.8 L1116.4 622.6 L1116.6 618.5 L1117.1 614.4 L1117.4 610.2 L1118.3 606.1 L1118.9 602 L1119.3 597.9 L1120.9 593.8 L1122.1 589.6 L1123.2 585.5 L1124.6 581.4 L1126.3 577.2 L1128 573.1 L1129.7 569Z" fill="url(#mhead)" opacity="0.55" filter="url(#mblur)"/>
<path d="M1134.7 569 L1136.4 573.1 L1138.1 577.2 L1139.8 581.4 L1141.2 585.5 L1142.3 589.6 L1143.5 593.8 L1145.1 597.9 L1145.5 602 L1146.1 606.1 L1147 610.2 L1147.3 614.4 L1147.8 618.5 L1148 622.6 L1148.5 626.8 L1148.5 630.9 L1149.4 635 L1150.1 639.1 L1150.3 643.2 L1150.9 647.4 L1150.8 651.5 L1150.4 655.6 L1149 659.8 L1145.9 663.9 L1139.1 668 L1134.2 670 L1130.2 670 L1125.3 668 L1118.5 663.9 L1115.4 659.8 L1114 655.6 L1113.6 651.5 L1113.5 647.4 L1114.1 643.2 L1114.3 639.1 L1115 635 L1115.9 630.9 L1115.9 626.8 L1116.4 622.6 L1116.6 618.5 L1117.1 614.4 L1117.4 610.2 L1118.3 606.1 L1118.9 602 L1119.3 597.9 L1120.9 593.8 L1122.1 589.6 L1123.2 585.5 L1124.6 581.4 L1126.3 577.2 L1128 573.1 L1129.7 569Z" fill="#000" filter="url(#mtex)" opacity="0.17"/>
<path d="M1171.5 553 V569 M1174.5 553 V569" stroke="#6b6e72" stroke-width="0.8" fill="none"/>
<path d="M1173 668 Q1173.6 681.4 1168 696.7" stroke="#b9b9b9" stroke-width="3.4" fill="none" stroke-linecap="round"/>
<path d="M1161.9 662 Q1152.9 669 1146.9 669.7" stroke="#c4c4c4" stroke-width="3.4" fill="none" stroke-linecap="round"/>
<path d="M1161 604.7 L1157 599.7" stroke="#b8b8b8" stroke-width="3.5" fill="none" stroke-linecap="round"/>
<path d="M1184.1 662 Q1193.1 669 1199.1 669" stroke="#c4c4c4" stroke-width="3.4" fill="none" stroke-linecap="round"/>
<path d="M1185 604.7 L1189 599.7" stroke="#b8b8b8" stroke-width="3.5" fill="none" stroke-linecap="round"/>
<path d="M1175.5 569 L1177.2 573.1 L1178.9 577.2 L1180.4 581.4 L1181.8 585.5 L1183.2 589.6 L1184.7 593.8 L1185.9 597.9 L1186.6 602 L1186.8 606.1 L1187.6 610.2 L1187.9 614.4 L1188.2 618.5 L1188.6 622.6 L1189 626.8 L1189.8 630.9 L1190.3 635 L1190.8 639.1 L1191.3 643.2 L1191.3 647.4 L1191.4 651.5 L1191.6 655.6 L1189.8 659.8 L1186.9 663.9 L1180.1 668 L1175 670 L1171 670 L1165.9 668 L1159.1 663.9 L1156.2 659.8 L1154.4 655.6 L1154.6 651.5 L1154.7 647.4 L1154.7 643.2 L1155.2 639.1 L1155.7 635 L1156.2 630.9 L1157 626.8 L1157.4 622.6 L1157.8 618.5 L1158.1 614.4 L1158.4 610.2 L1159.2 606.1 L1159.4 602 L1160.1 597.9 L1161.3 593.8 L1162.8 589.6 L1164.2 585.5 L1165.6 581.4 L1167.1 577.2 L1168.8 573.1 L1170.5 569Z" fill="url(#mbody)" filter="url(#mwob)"/>
<path d="M1175.5 569 L1177.2 573.1 L1178.9 577.2 L1180.4 581.4 L1181.8 585.5 L1183.2 589.6 L1184.7 593.8 L1185.9 597.9 L1186.6 602 L1186.8 606.1 L1187.6 610.2 L1187.9 614.4 L1188.2 618.5 L1188.6 622.6 L1189 626.8 L1189.8 630.9 L1190.3 635 L1190.8 639.1 L1191.3 643.2 L1191.3 647.4 L1191.4 651.5 L1191.6 655.6 L1189.8 659.8 L1186.9 663.9 L1180.1 668 L1175 670 L1171 670 L1165.9 668 L1159.1 663.9 L1156.2 659.8 L1154.4 655.6 L1154.6 651.5 L1154.7 647.4 L1154.7 643.2 L1155.2 639.1 L1155.7 635 L1156.2 630.9 L1157 626.8 L1157.4 622.6 L1157.8 618.5 L1158.1 614.4 L1158.4 610.2 L1159.2 606.1 L1159.4 602 L1160.1 597.9 L1161.3 593.8 L1162.8 589.6 L1164.2 585.5 L1165.6 581.4 L1167.1 577.2 L1168.8 573.1 L1170.5 569Z" fill="url(#mhead)" opacity="0.55" filter="url(#mblur)"/>
<path d="M1175.5 569 L1177.2 573.1 L1178.9 577.2 L1180.4 581.4 L1181.8 585.5 L1183.2 589.6 L1184.7 593.8 L1185.9 597.9 L1186.6 602 L1186.8 606.1 L1187.6 610.2 L1187.9 614.4 L1188.2 618.5 L1188.6 622.6 L1189 626.8 L1189.8 630.9 L1190.3 635 L1190.8 639.1 L1191.3 643.2 L1191.3 647.4 L1191.4 651.5 L1191.6 655.6 L1189.8 659.8 L1186.9 663.9 L1180.1 668 L1175 670 L1171 670 L1165.9 668 L1159.1 663.9 L1156.2 659.8 L1154.4 655.6 L1154.6 651.5 L1154.7 647.4 L1154.7 643.2 L1155.2 639.1 L1155.7 635 L1156.2 630.9 L1157 626.8 L1157.4 622.6 L1157.8 618.5 L1158.1 614.4 L1158.4 610.2 L1159.2 606.1 L1159.4 602 L1160.1 597.9 L1161.3 593.8 L1162.8 589.6 L1164.2 585.5 L1165.6 581.4 L1167.1 577.2 L1168.8 573.1 L1170.5 569Z" fill="#000" filter="url(#mtex)" opacity="0.17"/>
<path d="M1237.5 551 V567 M1240.5 551 V567" stroke="#6b6e72" stroke-width="0.8" fill="none"/>
<path d="M1239 668 Q1236.2 681.4 1235.9 696.7" stroke="#b9b9b9" stroke-width="3.4" fill="none" stroke-linecap="round"/>
<path d="M1227 662 Q1218 669 1212 668.9" stroke="#c4c4c4" stroke-width="3.4" fill="none" stroke-linecap="round"/>
<path d="M1226 603.3 L1222 598.3" stroke="#b8b8b8" stroke-width="3.5" fill="none" stroke-linecap="round"/>
<path d="M1251 662 Q1260 669 1266 668.8" stroke="#c4c4c4" stroke-width="3.4" fill="none" stroke-linecap="round"/>
<path d="M1252 603.3 L1256 598.3" stroke="#b8b8b8" stroke-width="3.5" fill="none" stroke-linecap="round"/>
<path d="M1241.7 567 L1243.6 571.2 L1245.5 575.4 L1247.1 579.6 L1248.7 583.8 L1250.1 588 L1251.3 592.2 L1252.8 596.5 L1253.6 600.7 L1254.3 604.9 L1254.5 609.1 L1255.2 613.3 L1255.4 617.5 L1256.3 621.7 L1256.6 625.9 L1256.6 630.1 L1257.8 634.3 L1258.4 638.5 L1258.7 642.8 L1259.1 647 L1258.7 651.2 L1258.6 655.4 L1257 659.6 L1253.5 663.8 L1246.5 668 L1241 670 L1237 670 L1231.5 668 L1224.5 663.8 L1221 659.6 L1219.4 655.4 L1219.3 651.2 L1218.9 647 L1219.3 642.8 L1219.6 638.5 L1220.2 634.3 L1221.4 630.1 L1221.4 625.9 L1221.7 621.7 L1222.6 617.5 L1222.8 613.3 L1223.5 609.1 L1223.7 604.9 L1224.4 600.7 L1225.2 596.5 L1226.7 592.2 L1227.9 588 L1229.3 583.8 L1230.9 579.6 L1232.5 575.4 L1234.4 571.2 L1236.3 567Z" fill="url(#mbody)" filter="url(#mwob)"/>
<path d="M1241.7 567 L1243.6 571.2 L1245.5 575.4 L1247.1 579.6 L1248.7 583.8 L1250.1 588 L1251.3 592.2 L1252.8 596.5 L1253.6 600.7 L1254.3 604.9 L1254.5 609.1 L1255.2 613.3 L1255.4 617.5 L1256.3 621.7 L1256.6 625.9 L1256.6 630.1 L1257.8 634.3 L1258.4 638.5 L1258.7 642.8 L1259.1 647 L1258.7 651.2 L1258.6 655.4 L1257 659.6 L1253.5 663.8 L1246.5 668 L1241 670 L1237 670 L1231.5 668 L1224.5 663.8 L1221 659.6 L1219.4 655.4 L1219.3 651.2 L1218.9 647 L1219.3 642.8 L1219.6 638.5 L1220.2 634.3 L1221.4 630.1 L1221.4 625.9 L1221.7 621.7 L1222.6 617.5 L1222.8 613.3 L1223.5 609.1 L1223.7 604.9 L1224.4 600.7 L1225.2 596.5 L1226.7 592.2 L1227.9 588 L1229.3 583.8 L1230.9 579.6 L1232.5 575.4 L1234.4 571.2 L1236.3 567Z" fill="url(#mhead)" opacity="0.55" filter="url(#mblur)"/>
<path d="M1241.7 567 L1243.6 571.2 L1245.5 575.4 L1247.1 579.6 L1248.7 583.8 L1250.1 588 L1251.3 592.2 L1252.8 596.5 L1253.6 600.7 L1254.3 604.9 L1254.5 609.1 L1255.2 613.3 L1255.4 617.5 L1256.3 621.7 L1256.6 625.9 L1256.6 630.1 L1257.8 634.3 L1258.4 638.5 L1258.7 642.8 L1259.1 647 L1258.7 651.2 L1258.6 655.4 L1257 659.6 L1253.5 663.8 L1246.5 668 L1241 670 L1237 670 L1231.5 668 L1224.5 663.8 L1221 659.6 L1219.4 655.4 L1219.3 651.2 L1218.9 647 L1219.3 642.8 L1219.6 638.5 L1220.2 634.3 L1221.4 630.1 L1221.4 625.9 L1221.7 621.7 L1222.6 617.5 L1222.8 613.3 L1223.5 609.1 L1223.7 604.9 L1224.4 600.7 L1225.2 596.5 L1226.7 592.2 L1227.9 588 L1229.3 583.8 L1230.9 579.6 L1232.5 575.4 L1234.4 571.2 L1236.3 567Z" fill="#000" filter="url(#mtex)" opacity="0.17"/>
<path d="M1284.3 551 V567 M1287.3 551 V567" stroke="#6b6e72" stroke-width="0.8" fill="none"/>
<path d="M1285.8 668 Q1285.9 681.4 1290.8 696.7" stroke="#b9b9b9" stroke-width="3.4" fill="none" stroke-linecap="round"/>
<path d="M1273.8 662 Q1264.8 669 1258.8 667.4" stroke="#c4c4c4" stroke-width="3.4" fill="none" stroke-linecap="round"/>
<path d="M1272.8 603.3 L1268.8 598.3" stroke="#b8b8b8" stroke-width="3.5" fill="none" stroke-linecap="round"/>
<path d="M1297.8 662 Q1306.8 669 1312.8 670.9" stroke="#c4c4c4" stroke-width="3.4" fill="none" stroke-linecap="round"/>
<path d="M1298.8 603.3 L1302.8 598.3" stroke="#b8b8b8" stroke-width="3.5" fill="none" stroke-linecap="round"/>
<path d="M1288.5 567 L1290.4 571.2 L1292.2 575.4 L1293.8 579.6 L1295.3 583.8 L1296.8 588 L1298.1 592.2 L1299.8 596.5 L1300.4 600.7 L1301 604.9 L1301.6 609.1 L1302.2 613.3 L1302.3 617.5 L1302.8 621.7 L1303.1 625.9 L1304 630.1 L1303.9 634.3 L1305.1 638.5 L1305.1 642.8 L1305.9 647 L1305.7 651.2 L1305.7 655.4 L1304.1 659.6 L1300.3 663.8 L1293.2 668 L1287.8 670 L1283.8 670 L1278.4 668 L1271.3 663.8 L1267.5 659.6 L1265.9 655.4 L1265.9 651.2 L1265.7 647 L1266.5 642.8 L1266.5 638.5 L1267.7 634.3 L1267.6 630.1 L1268.5 625.9 L1268.8 621.7 L1269.3 617.5 L1269.4 613.3 L1270 609.1 L1270.6 604.9 L1271.2 600.7 L1271.8 596.5 L1273.5 592.2 L1274.8 588 L1276.3 583.8 L1277.8 579.6 L1279.4 575.4 L1281.2 571.2 L1283.1 567Z" fill="url(#mbody)" filter="url(#mwob)"/>
<path d="M1288.5 567 L1290.4 571.2 L1292.2 575.4 L1293.8 579.6 L1295.3 583.8 L1296.8 588 L1298.1 592.2 L1299.8 596.5 L1300.4 600.7 L1301 604.9 L1301.6 609.1 L1302.2 613.3 L1302.3 617.5 L1302.8 621.7 L1303.1 625.9 L1304 630.1 L1303.9 634.3 L1305.1 638.5 L1305.1 642.8 L1305.9 647 L1305.7 651.2 L1305.7 655.4 L1304.1 659.6 L1300.3 663.8 L1293.2 668 L1287.8 670 L1283.8 670 L1278.4 668 L1271.3 663.8 L1267.5 659.6 L1265.9 655.4 L1265.9 651.2 L1265.7 647 L1266.5 642.8 L1266.5 638.5 L1267.7 634.3 L1267.6 630.1 L1268.5 625.9 L1268.8 621.7 L1269.3 617.5 L1269.4 613.3 L1270 609.1 L1270.6 604.9 L1271.2 600.7 L1271.8 596.5 L1273.5 592.2 L1274.8 588 L1276.3 583.8 L1277.8 579.6 L1279.4 575.4 L1281.2 571.2 L1283.1 567Z" fill="url(#mhead)" opacity="0.55" filter="url(#mblur)"/>
<path d="M1288.5 567 L1290.4 571.2 L1292.2 575.4 L1293.8 579.6 L1295.3 583.8 L1296.8 588 L1298.1 592.2 L1299.8 596.5 L1300.4 600.7 L1301 604.9 L1301.6 609.1 L1302.2 613.3 L1302.3 617.5 L1302.8 621.7 L1303.1 625.9 L1304 630.1 L1303.9 634.3 L1305.1 638.5 L1305.1 642.8 L1305.9 647 L1305.7 651.2 L1305.7 655.4 L1304.1 659.6 L1300.3 663.8 L1293.2 668 L1287.8 670 L1283.8 670 L1278.4 668 L1271.3 663.8 L1267.5 659.6 L1265.9 655.4 L1265.9 651.2 L1265.7 647 L1266.5 642.8 L1266.5 638.5 L1267.7 634.3 L1267.6 630.1 L1268.5 625.9 L1268.8 621.7 L1269.3 617.5 L1269.4 613.3 L1270 609.1 L1270.6 604.9 L1271.2 600.7 L1271.8 596.5 L1273.5 592.2 L1274.8 588 L1276.3 583.8 L1277.8 579.6 L1279.4 575.4 L1281.2 571.2 L1283.1 567Z" fill="#000" filter="url(#mtex)" opacity="0.17"/>
<path d="M1333.6 551 V567 M1336.6 551 V567" stroke="#6b6e72" stroke-width="0.8" fill="none"/>
<path d="M1335.1 668 Q1333.6 681.4 1338.6 696.7" stroke="#b9b9b9" stroke-width="3.4" fill="none" stroke-linecap="round"/>
<path d="M1323.1 662 Q1314.1 669 1308.1 670.4" stroke="#c4c4c4" stroke-width="3.4" fill="none" stroke-linecap="round"/>
<path d="M1322.1 603.3 L1318.1 598.3" stroke="#b8b8b8" stroke-width="3.5" fill="none" stroke-linecap="round"/>
<path d="M1347.1 662 Q1356.1 669 1362.1 668.9" stroke="#c4c4c4" stroke-width="3.4" fill="none" stroke-linecap="round"/>
<path d="M1348.1 603.3 L1352.1 598.3" stroke="#b8b8b8" stroke-width="3.5" fill="none" stroke-linecap="round"/>
<path d="M1337.8 567 L1339.7 571.2 L1341.5 575.4 L1343.4 579.6 L1344.7 583.8 L1346.1 588 L1347.4 592.2 L1348.7 596.5 L1349.8 600.7 L1350 604.9 L1350.9 609.1 L1351.2 613.3 L1351.7 617.5 L1352.1 621.7 L1352.8 625.9 L1353.1 630.1 L1353.2 634.3 L1354 638.5 L1354.4 642.8 L1355.4 647 L1355.3 651.2 L1355.3 655.4 L1353.4 659.6 L1350 663.8 L1342.8 668 L1337.1 670 L1333.1 670 L1327.4 668 L1320.2 663.8 L1316.8 659.6 L1314.9 655.4 L1314.9 651.2 L1314.8 647 L1315.8 642.8 L1316.2 638.5 L1317 634.3 L1317.1 630.1 L1317.4 625.9 L1318.1 621.7 L1318.5 617.5 L1319 613.3 L1319.3 609.1 L1320.2 604.9 L1320.4 600.7 L1321.5 596.5 L1322.8 592.2 L1324.1 588 L1325.5 583.8 L1326.8 579.6 L1328.7 575.4 L1330.5 571.2 L1332.4 567Z" fill="url(#mbody)" filter="url(#mwob)"/>
<path d="M1337.8 567 L1339.7 571.2 L1341.5 575.4 L1343.4 579.6 L1344.7 583.8 L1346.1 588 L1347.4 592.2 L1348.7 596.5 L1349.8 600.7 L1350 604.9 L1350.9 609.1 L1351.2 613.3 L1351.7 617.5 L1352.1 621.7 L1352.8 625.9 L1353.1 630.1 L1353.2 634.3 L1354 638.5 L1354.4 642.8 L1355.4 647 L1355.3 651.2 L1355.3 655.4 L1353.4 659.6 L1350 663.8 L1342.8 668 L1337.1 670 L1333.1 670 L1327.4 668 L1320.2 663.8 L1316.8 659.6 L1314.9 655.4 L1314.9 651.2 L1314.8 647 L1315.8 642.8 L1316.2 638.5 L1317 634.3 L1317.1 630.1 L1317.4 625.9 L1318.1 621.7 L1318.5 617.5 L1319 613.3 L1319.3 609.1 L1320.2 604.9 L1320.4 600.7 L1321.5 596.5 L1322.8 592.2 L1324.1 588 L1325.5 583.8 L1326.8 579.6 L1328.7 575.4 L1330.5 571.2 L1332.4 567Z" fill="url(#mhead)" opacity="0.55" filter="url(#mblur)"/>
<path d="M1337.8 567 L1339.7 571.2 L1341.5 575.4 L1343.4 579.6 L1344.7 583.8 L1346.1 588 L1347.4 592.2 L1348.7 596.5 L1349.8 600.7 L1350 604.9 L1350.9 609.1 L1351.2 613.3 L1351.7 617.5 L1352.1 621.7 L1352.8 625.9 L1353.1 630.1 L1353.2 634.3 L1354 638.5 L1354.4 642.8 L1355.4 647 L1355.3 651.2 L1355.3 655.4 L1353.4 659.6 L1350 663.8 L1342.8 668 L1337.1 670 L1333.1 670 L1327.4 668 L1320.2 663.8 L1316.8 659.6 L1314.9 655.4 L1314.9 651.2 L1314.8 647 L1315.8 642.8 L1316.2 638.5 L1317 634.3 L1317.1 630.1 L1317.4 625.9 L1318.1 621.7 L1318.5 617.5 L1319 613.3 L1319.3 609.1 L1320.2 604.9 L1320.4 600.7 L1321.5 596.5 L1322.8 592.2 L1324.1 588 L1325.5 583.8 L1326.8 579.6 L1328.7 575.4 L1330.5 571.2 L1332.4 567Z" fill="#000" filter="url(#mtex)" opacity="0.17"/>
<path d="M1377.9 551 V567 M1380.9 551 V567" stroke="#6b6e72" stroke-width="0.8" fill="none"/>
<path d="M1379.4 668 Q1376.9 681.4 1377.4 696.7" stroke="#b9b9b9" stroke-width="3.4" fill="none" stroke-linecap="round"/>
<path d="M1367.4 662 Q1358.4 669 1352.4 667.8" stroke="#c4c4c4" stroke-width="3.4" fill="none" stroke-linecap="round"/>
<path d="M1366.4 603.3 L1362.4 598.3" stroke="#b8b8b8" stroke-width="3.5" fill="none" stroke-linecap="round"/>
<path d="M1391.4 662 Q1400.4 669 1406.4 670.9" stroke="#c4c4c4" stroke-width="3.4" fill="none" stroke-linecap="round"/>
<path d="M1392.4 603.3 L1396.4 598.3" stroke="#b8b8b8" stroke-width="3.5" fill="none" stroke-linecap="round"/>
<path d="M1382.1 567 L1384 571.2 L1385.8 575.4 L1387.7 579.6 L1389 583.8 L1390.4 588 L1391.9 592.2 L1393.3 596.5 L1393.8 600.7 L1394.6 604.9 L1395.1 609.1 L1395.9 613.3 L1395.8 617.5 L1396.3 621.7 L1397.2 625.9 L1397.2 630.1 L1397.7 634.3 L1398.7 638.5 L1399.1 642.8 L1399.1 647 L1399.4 651.2 L1399.5 655.4 L1397.2 659.6 L1394.3 663.8 L1386.9 668 L1381.4 670 L1377.4 670 L1371.9 668 L1364.5 663.8 L1361.6 659.6 L1359.3 655.4 L1359.4 651.2 L1359.7 647 L1359.7 642.8 L1360.1 638.5 L1361.1 634.3 L1361.6 630.1 L1361.6 625.9 L1362.5 621.7 L1363 617.5 L1362.9 613.3 L1363.7 609.1 L1364.2 604.9 L1365 600.7 L1365.5 596.5 L1366.9 592.2 L1368.4 588 L1369.8 583.8 L1371.1 579.6 L1373 575.4 L1374.8 571.2 L1376.7 567Z" fill="url(#mbody)" filter="url(#mwob)"/>
<path d="M1382.1 567 L1384 571.2 L1385.8 575.4 L1387.7 579.6 L1389 583.8 L1390.4 588 L1391.9 592.2 L1393.3 596.5 L1393.8 600.7 L1394.6 604.9 L1395.1 609.1 L1395.9 613.3 L1395.8 617.5 L1396.3 621.7 L1397.2 625.9 L1397.2 630.1 L1397.7 634.3 L1398.7 638.5 L1399.1 642.8 L1399.1 647 L1399.4 651.2 L1399.5 655.4 L1397.2 659.6 L1394.3 663.8 L1386.9 668 L1381.4 670 L1377.4 670 L1371.9 668 L1364.5 663.8 L1361.6 659.6 L1359.3 655.4 L1359.4 651.2 L1359.7 647 L1359.7 642.8 L1360.1 638.5 L1361.1 634.3 L1361.6 630.1 L1361.6 625.9 L1362.5 621.7 L1363 617.5 L1362.9 613.3 L1363.7 609.1 L1364.2 604.9 L1365 600.7 L1365.5 596.5 L1366.9 592.2 L1368.4 588 L1369.8 583.8 L1371.1 579.6 L1373 575.4 L1374.8 571.2 L1376.7 567Z" fill="url(#mhead)" opacity="0.55" filter="url(#mblur)"/>
<path d="M1382.1 567 L1384 571.2 L1385.8 575.4 L1387.7 579.6 L1389 583.8 L1390.4 588 L1391.9 592.2 L1393.3 596.5 L1393.8 600.7 L1394.6 604.9 L1395.1 609.1 L1395.9 613.3 L1395.8 617.5 L1396.3 621.7 L1397.2 625.9 L1397.2 630.1 L1397.7 634.3 L1398.7 638.5 L1399.1 642.8 L1399.1 647 L1399.4 651.2 L1399.5 655.4 L1397.2 659.6 L1394.3 663.8 L1386.9 668 L1381.4 670 L1377.4 670 L1371.9 668 L1364.5 663.8 L1361.6 659.6 L1359.3 655.4 L1359.4 651.2 L1359.7 647 L1359.7 642.8 L1360.1 638.5 L1361.1 634.3 L1361.6 630.1 L1361.6 625.9 L1362.5 621.7 L1363 617.5 L1362.9 613.3 L1363.7 609.1 L1364.2 604.9 L1365 600.7 L1365.5 596.5 L1366.9 592.2 L1368.4 588 L1369.8 583.8 L1371.1 579.6 L1373 575.4 L1374.8 571.2 L1376.7 567Z" fill="#000" filter="url(#mtex)" opacity="0.17"/>
<path d="M1427.2 551 V567 M1430.2 551 V567" stroke="#6b6e72" stroke-width="0.8" fill="none"/>
<path d="M1428.7 668 Q1429.1 681.4 1423.6 696.7" stroke="#b9b9b9" stroke-width="3.4" fill="none" stroke-linecap="round"/>
<path d="M1416.7 662 Q1407.7 669 1401.7 668.4" stroke="#c4c4c4" stroke-width="3.4" fill="none" stroke-linecap="round"/>
<path d="M1415.7 603.3 L1411.7 598.3" stroke="#b8b8b8" stroke-width="3.5" fill="none" stroke-linecap="round"/>
<path d="M1440.7 662 Q1449.7 669 1455.7 669.3" stroke="#c4c4c4" stroke-width="3.4" fill="none" stroke-linecap="round"/>
<path d="M1441.7 603.3 L1445.7 598.3" stroke="#b8b8b8" stroke-width="3.5" fill="none" stroke-linecap="round"/>
<path d="M1431.5 567 L1433.2 571.2 L1435.1 575.4 L1436.7 579.6 L1438.6 583.8 L1439.6 588 L1441.3 592.2 L1442.6 596.5 L1443.4 600.7 L1444.1 604.9 L1444.3 609.1 L1444.9 613.3 L1445.5 617.5 L1445.6 621.7 L1446 625.9 L1446.4 630.1 L1447.4 634.3 L1448 638.5 L1448.5 642.8 L1448.5 647 L1449 651.2 L1448.7 655.4 L1446.5 659.6 L1443.4 663.8 L1436.2 668 L1430.7 670 L1426.7 670 L1421.2 668 L1414 663.8 L1410.9 659.6 L1408.7 655.4 L1408.4 651.2 L1408.9 647 L1408.9 642.8 L1409.4 638.5 L1410 634.3 L1411 630.1 L1411.4 625.9 L1411.8 621.7 L1411.9 617.5 L1412.5 613.3 L1413.1 609.1 L1413.3 604.9 L1414 600.7 L1414.8 596.5 L1416.1 592.2 L1417.8 588 L1418.8 583.8 L1420.7 579.6 L1422.3 575.4 L1424.2 571.2 L1425.9 567Z" fill="url(#mbody)" filter="url(#mwob)"/>
<path d="M1431.5 567 L1433.2 571.2 L1435.1 575.4 L1436.7 579.6 L1438.6 583.8 L1439.6 588 L1441.3 592.2 L1442.6 596.5 L1443.4 600.7 L1444.1 604.9 L1444.3 609.1 L1444.9 613.3 L1445.5 617.5 L1445.6 621.7 L1446 625.9 L1446.4 630.1 L1447.4 634.3 L1448 638.5 L1448.5 642.8 L1448.5 647 L1449 651.2 L1448.7 655.4 L1446.5 659.6 L1443.4 663.8 L1436.2 668 L1430.7 670 L1426.7 670 L1421.2 668 L1414 663.8 L1410.9 659.6 L1408.7 655.4 L1408.4 651.2 L1408.9 647 L1408.9 642.8 L1409.4 638.5 L1410 634.3 L1411 630.1 L1411.4 625.9 L1411.8 621.7 L1411.9 617.5 L1412.5 613.3 L1413.1 609.1 L1413.3 604.9 L1414 600.7 L1414.8 596.5 L1416.1 592.2 L1417.8 588 L1418.8 583.8 L1420.7 579.6 L1422.3 575.4 L1424.2 571.2 L1425.9 567Z" fill="url(#mhead)" opacity="0.55" filter="url(#mblur)"/>
<path d="M1431.5 567 L1433.2 571.2 L1435.1 575.4 L1436.7 579.6 L1438.6 583.8 L1439.6 588 L1441.3 592.2 L1442.6 596.5 L1443.4 600.7 L1444.1 604.9 L1444.3 609.1 L1444.9 613.3 L1445.5 617.5 L1445.6 621.7 L1446 625.9 L1446.4 630.1 L1447.4 634.3 L1448 638.5 L1448.5 642.8 L1448.5 647 L1449 651.2 L1448.7 655.4 L1446.5 659.6 L1443.4 663.8 L1436.2 668 L1430.7 670 L1426.7 670 L1421.2 668 L1414 663.8 L1410.9 659.6 L1408.7 655.4 L1408.4 651.2 L1408.9 647 L1408.9 642.8 L1409.4 638.5 L1410 634.3 L1411 630.1 L1411.4 625.9 L1411.8 621.7 L1411.9 617.5 L1412.5 613.3 L1413.1 609.1 L1413.3 604.9 L1414 600.7 L1414.8 596.5 L1416.1 592.2 L1417.8 588 L1418.8 583.8 L1420.7 579.6 L1422.3 575.4 L1424.2 571.2 L1425.9 567Z" fill="#000" filter="url(#mtex)" opacity="0.17"/>
<line x1="1199.5" y1="554.9" x2="1199.5" y2="694.7" stroke="#8a8c8e" stroke-width="1"/>
</g>
<g clip-path="url(#fbot)">
<rect x="1015.9" y="740.3" width="423.9" height="139.2" fill="url(#fbg)"/>
<path d="M1015.9 740.3 H1110 Q1060 746 1030 764 L1015.9 776 Z" fill="#17191b"/>
<path d="M1224.5 740.3 H1315 Q1265 746 1235 764 L1224.5 776 Z" fill="#17191b"/>
<rect x="1015.9" y="740.3" width="423.9" height="8" fill="#222427"/>
<path d="M1053.8 734 V750 M1056.8 734 V750" stroke="#6b6e72" stroke-width="0.8" fill="none"/>
<path d="M1055.3 858 Q1055.8 868.8 1051.9 881.5" stroke="#b9b9b9" stroke-width="3.4" fill="none" stroke-linecap="round"/>
<path d="M1041.5 852 Q1032.5 859 1026.5 859.2" stroke="#c4c4c4" stroke-width="3.4" fill="none" stroke-linecap="round"/>
<path d="M1040.3 788.6 L1036.3 783.6" stroke="#b8b8b8" stroke-width="3.5" fill="none" stroke-linecap="round"/>
<path d="M1069.1 852 Q1078.1 859 1084.1 860.8" stroke="#c4c4c4" stroke-width="3.4" fill="none" stroke-linecap="round"/>
<path d="M1070.2 788.6 L1074.2 783.6" stroke="#b8b8b8" stroke-width="3.5" fill="none" stroke-linecap="round"/>
<path d="M1058.3 750 L1060.5 754.5 L1062.6 759 L1064.7 763.5 L1066.3 768 L1067.8 772.5 L1069.4 777 L1071.3 781.5 L1071.8 786 L1072.9 790.5 L1073.5 795 L1073.8 799.5 L1074.5 804 L1074.9 808.5 L1075.3 813 L1076.3 817.5 L1076.2 822 L1076.8 826.5 L1078.2 831 L1078.2 835.5 L1078 840 L1078.1 844.5 L1075.9 849 L1072.6 853.5 L1063.9 858 L1057.3 860 L1053.3 860 L1046.7 858 L1038 853.5 L1034.7 849 L1032.5 844.5 L1032.6 840 L1032.4 835.5 L1032.4 831 L1033.8 826.5 L1034.4 822 L1034.3 817.5 L1035.3 813 L1035.7 808.5 L1036.1 804 L1036.8 799.5 L1037.1 795 L1037.7 790.5 L1038.8 786 L1039.3 781.5 L1041.2 777 L1042.8 772.5 L1044.3 768 L1045.9 763.5 L1048 759 L1050.1 754.5 L1052.3 750Z" fill="url(#mbody)" filter="url(#mwob)"/>
<path d="M1058.3 750 L1060.5 754.5 L1062.6 759 L1064.7 763.5 L1066.3 768 L1067.8 772.5 L1069.4 777 L1071.3 781.5 L1071.8 786 L1072.9 790.5 L1073.5 795 L1073.8 799.5 L1074.5 804 L1074.9 808.5 L1075.3 813 L1076.3 817.5 L1076.2 822 L1076.8 826.5 L1078.2 831 L1078.2 835.5 L1078 840 L1078.1 844.5 L1075.9 849 L1072.6 853.5 L1063.9 858 L1057.3 860 L1053.3 860 L1046.7 858 L1038 853.5 L1034.7 849 L1032.5 844.5 L1032.6 840 L1032.4 835.5 L1032.4 831 L1033.8 826.5 L1034.4 822 L1034.3 817.5 L1035.3 813 L1035.7 808.5 L1036.1 804 L1036.8 799.5 L1037.1 795 L1037.7 790.5 L1038.8 786 L1039.3 781.5 L1041.2 777 L1042.8 772.5 L1044.3 768 L1045.9 763.5 L1048 759 L1050.1 754.5 L1052.3 750Z" fill="url(#mhead)" opacity="0.55" filter="url(#mblur)"/>
<path d="M1058.3 750 L1060.5 754.5 L1062.6 759 L1064.7 763.5 L1066.3 768 L1067.8 772.5 L1069.4 777 L1071.3 781.5 L1071.8 786 L1072.9 790.5 L1073.5 795 L1073.8 799.5 L1074.5 804 L1074.9 808.5 L1075.3 813 L1076.3 817.5 L1076.2 822 L1076.8 826.5 L1078.2 831 L1078.2 835.5 L1078 840 L1078.1 844.5 L1075.9 849 L1072.6 853.5 L1063.9 858 L1057.3 860 L1053.3 860 L1046.7 858 L1038 853.5 L1034.7 849 L1032.5 844.5 L1032.6 840 L1032.4 835.5 L1032.4 831 L1033.8 826.5 L1034.4 822 L1034.3 817.5 L1035.3 813 L1035.7 808.5 L1036.1 804 L1036.8 799.5 L1037.1 795 L1037.7 790.5 L1038.8 786 L1039.3 781.5 L1041.2 777 L1042.8 772.5 L1044.3 768 L1045.9 763.5 L1048 759 L1050.1 754.5 L1052.3 750Z" fill="#000" filter="url(#mtex)" opacity="0.17"/>
<circle cx="1048" cy="835" r="6.5" fill="#9a9a9a" filter="url(#mblur)"/>
<circle cx="1064" cy="834" r="6.5" fill="#8c8c8c" filter="url(#mblur)"/>
<path d="M1099.4 734 V750 M1102.4 734 V750" stroke="#6b6e72" stroke-width="0.8" fill="none"/>
<path d="M1100.9 858 Q1098.9 868.8 1096.2 881.5" stroke="#b9b9b9" stroke-width="3.4" fill="none" stroke-linecap="round"/>
<path d="M1087.1 852 Q1078.1 859 1072.1 857.1" stroke="#c4c4c4" stroke-width="3.4" fill="none" stroke-linecap="round"/>
<path d="M1086 788.6 L1082 783.6" stroke="#b8b8b8" stroke-width="3.5" fill="none" stroke-linecap="round"/>
<path d="M1114.7 852 Q1123.7 859 1129.7 857.2" stroke="#c4c4c4" stroke-width="3.4" fill="none" stroke-linecap="round"/>
<path d="M1115.9 788.6 L1119.9 783.6" stroke="#b8b8b8" stroke-width="3.5" fill="none" stroke-linecap="round"/>
<path d="M1104 750 L1106.1 754.5 L1108.2 759 L1110.4 763.5 L1112.1 768 L1113.8 772.5 L1115 777 L1116.8 781.5 L1117.8 786 L1118.3 790.5 L1119.3 795 L1119.9 799.5 L1120 804 L1120.2 808.5 L1121.2 813 L1121.2 817.5 L1121.7 822 L1123 826.5 L1123.7 831 L1124.2 835.5 L1124.3 840 L1123.6 844.5 L1121.3 849 L1117.6 853.5 L1109.8 858 L1102.9 860 L1098.9 860 L1092 858 L1084.2 853.5 L1080.5 849 L1078.2 844.5 L1077.5 840 L1077.6 835.5 L1078.1 831 L1078.8 826.5 L1080.1 822 L1080.6 817.5 L1080.6 813 L1081.6 808.5 L1081.8 804 L1081.9 799.5 L1082.5 795 L1083.5 790.5 L1084 786 L1085 781.5 L1086.8 777 L1088 772.5 L1089.7 768 L1091.4 763.5 L1093.6 759 L1095.7 754.5 L1097.8 750Z" fill="url(#mbody)" filter="url(#mwob)"/>
<path d="M1104 750 L1106.1 754.5 L1108.2 759 L1110.4 763.5 L1112.1 768 L1113.8 772.5 L1115 777 L1116.8 781.5 L1117.8 786 L1118.3 790.5 L1119.3 795 L1119.9 799.5 L1120 804 L1120.2 808.5 L1121.2 813 L1121.2 817.5 L1121.7 822 L1123 826.5 L1123.7 831 L1124.2 835.5 L1124.3 840 L1123.6 844.5 L1121.3 849 L1117.6 853.5 L1109.8 858 L1102.9 860 L1098.9 860 L1092 858 L1084.2 853.5 L1080.5 849 L1078.2 844.5 L1077.5 840 L1077.6 835.5 L1078.1 831 L1078.8 826.5 L1080.1 822 L1080.6 817.5 L1080.6 813 L1081.6 808.5 L1081.8 804 L1081.9 799.5 L1082.5 795 L1083.5 790.5 L1084 786 L1085 781.5 L1086.8 777 L1088 772.5 L1089.7 768 L1091.4 763.5 L1093.6 759 L1095.7 754.5 L1097.8 750Z" fill="url(#mhead)" opacity="0.55" filter="url(#mblur)"/>
<path d="M1104 750 L1106.1 754.5 L1108.2 759 L1110.4 763.5 L1112.1 768 L1113.8 772.5 L1115 777 L1116.8 781.5 L1117.8 786 L1118.3 790.5 L1119.3 795 L1119.9 799.5 L1120 804 L1120.2 808.5 L1121.2 813 L1121.2 817.5 L1121.7 822 L1123 826.5 L1123.7 831 L1124.2 835.5 L1124.3 840 L1123.6 844.5 L1121.3 849 L1117.6 853.5 L1109.8 858 L1102.9 860 L1098.9 860 L1092 858 L1084.2 853.5 L1080.5 849 L1078.2 844.5 L1077.5 840 L1077.6 835.5 L1078.1 831 L1078.8 826.5 L1080.1 822 L1080.6 817.5 L1080.6 813 L1081.6 808.5 L1081.8 804 L1081.9 799.5 L1082.5 795 L1083.5 790.5 L1084 786 L1085 781.5 L1086.8 777 L1088 772.5 L1089.7 768 L1091.4 763.5 L1093.6 759 L1095.7 754.5 L1097.8 750Z" fill="#000" filter="url(#mtex)" opacity="0.17"/>
<circle cx="1092" cy="835" r="7" fill="#959595" filter="url(#mblur)"/>
<circle cx="1110" cy="838" r="6.5" fill="#9d9d9d" filter="url(#mblur)"/>
<path d="M1142.5 734 V750 M1145.5 734 V750" stroke="#6b6e72" stroke-width="0.8" fill="none"/>
<path d="M1144 858 Q1145.1 868.8 1144.7 881.5" stroke="#b9b9b9" stroke-width="3.4" fill="none" stroke-linecap="round"/>
<path d="M1130.2 852 Q1121.2 859 1115.2 857.5" stroke="#c4c4c4" stroke-width="3.4" fill="none" stroke-linecap="round"/>
<path d="M1129 788.6 L1125 783.6" stroke="#b8b8b8" stroke-width="3.5" fill="none" stroke-linecap="round"/>
<path d="M1157.8 852 Q1166.8 859 1172.8 857.2" stroke="#c4c4c4" stroke-width="3.4" fill="none" stroke-linecap="round"/>
<path d="M1159 788.6 L1163 783.6" stroke="#b8b8b8" stroke-width="3.5" fill="none" stroke-linecap="round"/>
<path d="M1147.1 750 L1149.3 754.5 L1151.4 759 L1153.3 763.5 L1155.3 768 L1156.9 772.5 L1158.5 777 L1159.7 781.5 L1160.8 786 L1161.5 790.5 L1162.1 795 L1163.1 799.5 L1163.2 804 L1163.6 808.5 L1164.5 813 L1164.7 817.5 L1165.1 822 L1165.7 826.5 L1166.5 831 L1166.6 835.5 L1167.1 840 L1167.2 844.5 L1164.7 849 L1161.2 853.5 L1152.9 858 L1146 860 L1142 860 L1135.1 858 L1126.8 853.5 L1123.3 849 L1120.8 844.5 L1120.9 840 L1121.4 835.5 L1121.5 831 L1122.3 826.5 L1122.9 822 L1123.3 817.5 L1123.5 813 L1124.4 808.5 L1124.8 804 L1124.9 799.5 L1125.9 795 L1126.5 790.5 L1127.2 786 L1128.3 781.5 L1129.5 777 L1131.1 772.5 L1132.7 768 L1134.7 763.5 L1136.6 759 L1138.7 754.5 L1140.9 750Z" fill="url(#mbody)" filter="url(#mwob)"/>
<path d="M1147.1 750 L1149.3 754.5 L1151.4 759 L1153.3 763.5 L1155.3 768 L1156.9 772.5 L1158.5 777 L1159.7 781.5 L1160.8 786 L1161.5 790.5 L1162.1 795 L1163.1 799.5 L1163.2 804 L1163.6 808.5 L1164.5 813 L1164.7 817.5 L1165.1 822 L1165.7 826.5 L1166.5 831 L1166.6 835.5 L1167.1 840 L1167.2 844.5 L1164.7 849 L1161.2 853.5 L1152.9 858 L1146 860 L1142 860 L1135.1 858 L1126.8 853.5 L1123.3 849 L1120.8 844.5 L1120.9 840 L1121.4 835.5 L1121.5 831 L1122.3 826.5 L1122.9 822 L1123.3 817.5 L1123.5 813 L1124.4 808.5 L1124.8 804 L1124.9 799.5 L1125.9 795 L1126.5 790.5 L1127.2 786 L1128.3 781.5 L1129.5 777 L1131.1 772.5 L1132.7 768 L1134.7 763.5 L1136.6 759 L1138.7 754.5 L1140.9 750Z" fill="url(#mhead)" opacity="0.55" filter="url(#mblur)"/>
<path d="M1147.1 750 L1149.3 754.5 L1151.4 759 L1153.3 763.5 L1155.3 768 L1156.9 772.5 L1158.5 777 L1159.7 781.5 L1160.8 786 L1161.5 790.5 L1162.1 795 L1163.1 799.5 L1163.2 804 L1163.6 808.5 L1164.5 813 L1164.7 817.5 L1165.1 822 L1165.7 826.5 L1166.5 831 L1166.6 835.5 L1167.1 840 L1167.2 844.5 L1164.7 849 L1161.2 853.5 L1152.9 858 L1146 860 L1142 860 L1135.1 858 L1126.8 853.5 L1123.3 849 L1120.8 844.5 L1120.9 840 L1121.4 835.5 L1121.5 831 L1122.3 826.5 L1122.9 822 L1123.3 817.5 L1123.5 813 L1124.4 808.5 L1124.8 804 L1124.9 799.5 L1125.9 795 L1126.5 790.5 L1127.2 786 L1128.3 781.5 L1129.5 777 L1131.1 772.5 L1132.7 768 L1134.7 763.5 L1136.6 759 L1138.7 754.5 L1140.9 750Z" fill="#000" filter="url(#mtex)" opacity="0.17"/>
<circle cx="1136" cy="828" r="7" fill="#6e6e6e" filter="url(#mblur)"/>
<circle cx="1152" cy="836" r="6" fill="#a0a0a0" filter="url(#mblur)"/>
<path d="M1188.2 734 V750 M1191.2 734 V750" stroke="#6b6e72" stroke-width="0.8" fill="none"/>
<path d="M1189.7 858 Q1188.6 868.8 1187.2 881.5" stroke="#b9b9b9" stroke-width="3.4" fill="none" stroke-linecap="round"/>
<path d="M1175.9 852 Q1166.9 859 1160.9 857.8" stroke="#c4c4c4" stroke-width="3.4" fill="none" stroke-linecap="round"/>
<path d="M1174.8 788.6 L1170.8 783.6" stroke="#b8b8b8" stroke-width="3.5" fill="none" stroke-linecap="round"/>
<path d="M1203.5 852 Q1212.5 859 1218.5 859.1" stroke="#c4c4c4" stroke-width="3.4" fill="none" stroke-linecap="round"/>
<path d="M1204.7 788.6 L1208.7 783.6" stroke="#b8b8b8" stroke-width="3.5" fill="none" stroke-linecap="round"/>
<path d="M1192.8 750 L1195 754.5 L1197.1 759 L1199.2 763.5 L1201.1 768 L1202.4 772.5 L1204.3 777 L1205.5 781.5 L1206.3 786 L1206.8 790.5 L1207.8 795 L1208.2 799.5 L1208.7 804 L1209.4 808.5 L1210 813 L1210.5 817.5 L1210.6 822 L1211.2 826.5 L1212 831 L1212.7 835.5 L1213 840 L1213 844.5 L1210.8 849 L1206.8 853.5 L1198.5 858 L1191.7 860 L1187.7 860 L1180.9 858 L1172.6 853.5 L1168.6 849 L1166.4 844.5 L1166.4 840 L1166.7 835.5 L1167.4 831 L1168.2 826.5 L1168.8 822 L1168.9 817.5 L1169.4 813 L1170 808.5 L1170.7 804 L1171.2 799.5 L1171.6 795 L1172.6 790.5 L1173.1 786 L1173.9 781.5 L1175.1 777 L1177 772.5 L1178.3 768 L1180.2 763.5 L1182.3 759 L1184.4 754.5 L1186.6 750Z" fill="url(#mbody)" filter="url(#mwob)"/>
<path d="M1192.8 750 L1195 754.5 L1197.1 759 L1199.2 763.5 L1201.1 768 L1202.4 772.5 L1204.3 777 L1205.5 781.5 L1206.3 786 L1206.8 790.5 L1207.8 795 L1208.2 799.5 L1208.7 804 L1209.4 808.5 L1210 813 L1210.5 817.5 L1210.6 822 L1211.2 826.5 L1212 831 L1212.7 835.5 L1213 840 L1213 844.5 L1210.8 849 L1206.8 853.5 L1198.5 858 L1191.7 860 L1187.7 860 L1180.9 858 L1172.6 853.5 L1168.6 849 L1166.4 844.5 L1166.4 840 L1166.7 835.5 L1167.4 831 L1168.2 826.5 L1168.8 822 L1168.9 817.5 L1169.4 813 L1170 808.5 L1170.7 804 L1171.2 799.5 L1171.6 795 L1172.6 790.5 L1173.1 786 L1173.9 781.5 L1175.1 777 L1177 772.5 L1178.3 768 L1180.2 763.5 L1182.3 759 L1184.4 754.5 L1186.6 750Z" fill="url(#mhead)" opacity="0.55" filter="url(#mblur)"/>
<path d="M1192.8 750 L1195 754.5 L1197.1 759 L1199.2 763.5 L1201.1 768 L1202.4 772.5 L1204.3 777 L1205.5 781.5 L1206.3 786 L1206.8 790.5 L1207.8 795 L1208.2 799.5 L1208.7 804 L1209.4 808.5 L1210 813 L1210.5 817.5 L1210.6 822 L1211.2 826.5 L1212 831 L1212.7 835.5 L1213 840 L1213 844.5 L1210.8 849 L1206.8 853.5 L1198.5 858 L1191.7 860 L1187.7 860 L1180.9 858 L1172.6 853.5 L1168.6 849 L1166.4 844.5 L1166.4 840 L1166.7 835.5 L1167.4 831 L1168.2 826.5 L1168.8 822 L1168.9 817.5 L1169.4 813 L1170 808.5 L1170.7 804 L1171.2 799.5 L1171.6 795 L1172.6 790.5 L1173.1 786 L1173.9 781.5 L1175.1 777 L1177 772.5 L1178.3 768 L1180.2 763.5 L1182.3 759 L1184.4 754.5 L1186.6 750Z" fill="#000" filter="url(#mtex)" opacity="0.17"/>
<circle cx="1180" cy="836" r="6" fill="#9c9c9c" filter="url(#mblur)"/>
<circle cx="1199" cy="836" r="6" fill="#a2a2a2" filter="url(#mblur)"/>
<path d="M1265 734 V750 M1268 734 V750" stroke="#6b6e72" stroke-width="0.8" fill="none"/>
<path d="M1266.5 858 Q1264.5 868.8 1262.4 881.5" stroke="#b9b9b9" stroke-width="3.4" fill="none" stroke-linecap="round"/>
<path d="M1252.7 852 Q1243.7 859 1237.7 857.3" stroke="#c4c4c4" stroke-width="3.4" fill="none" stroke-linecap="round"/>
<path d="M1251.5 788.6 L1247.5 783.6" stroke="#b8b8b8" stroke-width="3.5" fill="none" stroke-linecap="round"/>
<path d="M1280.3 852 Q1289.3 859 1295.3 860.4" stroke="#c4c4c4" stroke-width="3.4" fill="none" stroke-linecap="round"/>
<path d="M1281.5 788.6 L1285.5 783.6" stroke="#b8b8b8" stroke-width="3.5" fill="none" stroke-linecap="round"/>
<path d="M1269.6 750 L1271.8 754.5 L1273.9 759 L1276 763.5 L1277.6 768 L1279.5 772.5 L1280.8 777 L1282.5 781.5 L1283.4 786 L1284.2 790.5 L1284.4 795 L1285.1 799.5 L1285.9 804 L1286.2 808.5 L1286.8 813 L1287 817.5 L1288.1 822 L1288 826.5 L1289.2 831 L1289.4 835.5 L1289.1 840 L1289.7 844.5 L1286.8 849 L1283.3 853.5 L1275.1 858 L1268.5 860 L1264.5 860 L1257.9 858 L1249.7 853.5 L1246.2 849 L1243.3 844.5 L1243.9 840 L1243.6 835.5 L1243.8 831 L1245 826.5 L1244.9 822 L1246 817.5 L1246.2 813 L1246.8 808.5 L1247.1 804 L1247.9 799.5 L1248.6 795 L1248.8 790.5 L1249.6 786 L1250.5 781.5 L1252.2 777 L1253.5 772.5 L1255.4 768 L1257 763.5 L1259.1 759 L1261.2 754.5 L1263.4 750Z" fill="url(#mbody)" filter="url(#mwob)"/>
<path d="M1269.6 750 L1271.8 754.5 L1273.9 759 L1276 763.5 L1277.6 768 L1279.5 772.5 L1280.8 777 L1282.5 781.5 L1283.4 786 L1284.2 790.5 L1284.4 795 L1285.1 799.5 L1285.9 804 L1286.2 808.5 L1286.8 813 L1287 817.5 L1288.1 822 L1288 826.5 L1289.2 831 L1289.4 835.5 L1289.1 840 L1289.7 844.5 L1286.8 849 L1283.3 853.5 L1275.1 858 L1268.5 860 L1264.5 860 L1257.9 858 L1249.7 853.5 L1246.2 849 L1243.3 844.5 L1243.9 840 L1243.6 835.5 L1243.8 831 L1245 826.5 L1244.9 822 L1246 817.5 L1246.2 813 L1246.8 808.5 L1247.1 804 L1247.9 799.5 L1248.6 795 L1248.8 790.5 L1249.6 786 L1250.5 781.5 L1252.2 777 L1253.5 772.5 L1255.4 768 L1257 763.5 L1259.1 759 L1261.2 754.5 L1263.4 750Z" fill="url(#mhead)" opacity="0.55" filter="url(#mblur)"/>
<path d="M1269.6 750 L1271.8 754.5 L1273.9 759 L1276 763.5 L1277.6 768 L1279.5 772.5 L1280.8 777 L1282.5 781.5 L1283.4 786 L1284.2 790.5 L1284.4 795 L1285.1 799.5 L1285.9 804 L1286.2 808.5 L1286.8 813 L1287 817.5 L1288.1 822 L1288 826.5 L1289.2 831 L1289.4 835.5 L1289.1 840 L1289.7 844.5 L1286.8 849 L1283.3 853.5 L1275.1 858 L1268.5 860 L1264.5 860 L1257.9 858 L1249.7 853.5 L1246.2 849 L1243.3 844.5 L1243.9 840 L1243.6 835.5 L1243.8 831 L1245 826.5 L1244.9 822 L1246 817.5 L1246.2 813 L1246.8 808.5 L1247.1 804 L1247.9 799.5 L1248.6 795 L1248.8 790.5 L1249.6 786 L1250.5 781.5 L1252.2 777 L1253.5 772.5 L1255.4 768 L1257 763.5 L1259.1 759 L1261.2 754.5 L1263.4 750Z" fill="#000" filter="url(#mtex)" opacity="0.17"/>
<circle cx="1266.5" cy="836.4" r="9" fill="#6a6a6a" filter="url(#mblur)"/>
<path d="M1310.2 734 V750 M1313.2 734 V750" stroke="#6b6e72" stroke-width="0.8" fill="none"/>
<path d="M1311.7 858 Q1310.6 868.8 1314.2 881.5" stroke="#b9b9b9" stroke-width="3.4" fill="none" stroke-linecap="round"/>
<path d="M1297.9 852 Q1288.9 859 1282.9 860.5" stroke="#c4c4c4" stroke-width="3.4" fill="none" stroke-linecap="round"/>
<path d="M1296.8 788.6 L1292.8 783.6" stroke="#b8b8b8" stroke-width="3.5" fill="none" stroke-linecap="round"/>
<path d="M1325.5 852 Q1334.5 859 1340.5 857.7" stroke="#c4c4c4" stroke-width="3.4" fill="none" stroke-linecap="round"/>
<path d="M1326.7 788.6 L1330.7 783.6" stroke="#b8b8b8" stroke-width="3.5" fill="none" stroke-linecap="round"/>
<path d="M1314.8 750 L1317.1 754.5 L1319.2 759 L1321.2 763.5 L1323 768 L1324.6 772.5 L1325.7 777 L1327.6 781.5 L1328.2 786 L1329.3 790.5 L1329.7 795 L1330.5 799.5 L1330.9 804 L1331.4 808.5 L1332.1 813 L1332.7 817.5 L1332.8 822 L1333.9 826.5 L1334.6 831 L1334.6 835.5 L1334.4 840 L1334.7 844.5 L1332.6 849 L1328.7 853.5 L1320.3 858 L1313.7 860 L1309.7 860 L1303.1 858 L1294.7 853.5 L1290.8 849 L1288.7 844.5 L1289 840 L1288.8 835.5 L1288.8 831 L1289.5 826.5 L1290.6 822 L1290.7 817.5 L1291.3 813 L1292 808.5 L1292.5 804 L1292.9 799.5 L1293.7 795 L1294.1 790.5 L1295.2 786 L1295.8 781.5 L1297.7 777 L1298.8 772.5 L1300.4 768 L1302.2 763.5 L1304.2 759 L1306.3 754.5 L1308.6 750Z" fill="url(#mbody)" filter="url(#mwob)"/>
<path d="M1314.8 750 L1317.1 754.5 L1319.2 759 L1321.2 763.5 L1323 768 L1324.6 772.5 L1325.7 777 L1327.6 781.5 L1328.2 786 L1329.3 790.5 L1329.7 795 L1330.5 799.5 L1330.9 804 L1331.4 808.5 L1332.1 813 L1332.7 817.5 L1332.8 822 L1333.9 826.5 L1334.6 831 L1334.6 835.5 L1334.4 840 L1334.7 844.5 L1332.6 849 L1328.7 853.5 L1320.3 858 L1313.7 860 L1309.7 860 L1303.1 858 L1294.7 853.5 L1290.8 849 L1288.7 844.5 L1289 840 L1288.8 835.5 L1288.8 831 L1289.5 826.5 L1290.6 822 L1290.7 817.5 L1291.3 813 L1292 808.5 L1292.5 804 L1292.9 799.5 L1293.7 795 L1294.1 790.5 L1295.2 786 L1295.8 781.5 L1297.7 777 L1298.8 772.5 L1300.4 768 L1302.2 763.5 L1304.2 759 L1306.3 754.5 L1308.6 750Z" fill="url(#mhead)" opacity="0.55" filter="url(#mblur)"/>
<path d="M1314.8 750 L1317.1 754.5 L1319.2 759 L1321.2 763.5 L1323 768 L1324.6 772.5 L1325.7 777 L1327.6 781.5 L1328.2 786 L1329.3 790.5 L1329.7 795 L1330.5 799.5 L1330.9 804 L1331.4 808.5 L1332.1 813 L1332.7 817.5 L1332.8 822 L1333.9 826.5 L1334.6 831 L1334.6 835.5 L1334.4 840 L1334.7 844.5 L1332.6 849 L1328.7 853.5 L1320.3 858 L1313.7 860 L1309.7 860 L1303.1 858 L1294.7 853.5 L1290.8 849 L1288.7 844.5 L1289 840 L1288.8 835.5 L1288.8 831 L1289.5 826.5 L1290.6 822 L1290.7 817.5 L1291.3 813 L1292 808.5 L1292.5 804 L1292.9 799.5 L1293.7 795 L1294.1 790.5 L1295.2 786 L1295.8 781.5 L1297.7 777 L1298.8 772.5 L1300.4 768 L1302.2 763.5 L1304.2 759 L1306.3 754.5 L1308.6 750Z" fill="#000" filter="url(#mtex)" opacity="0.17"/>
<circle cx="1296" cy="835.5" r="8" fill="#8a8a8a" filter="url(#mblur)"/>
<circle cx="1318.4" cy="837" r="9" fill="#5e5e5e" filter="url(#mblur)"/>
<path d="M1360.7 734 V750 M1363.7 734 V750" stroke="#6b6e72" stroke-width="0.8" fill="none"/>
<path d="M1362.2 858 Q1363 868.8 1363 881.5" stroke="#b9b9b9" stroke-width="3.4" fill="none" stroke-linecap="round"/>
<path d="M1348.4 852 Q1339.4 859 1333.4 859.3" stroke="#c4c4c4" stroke-width="3.4" fill="none" stroke-linecap="round"/>
<path d="M1347.2 788.6 L1343.2 783.6" stroke="#b8b8b8" stroke-width="3.5" fill="none" stroke-linecap="round"/>
<path d="M1376 852 Q1385 859 1391 857.1" stroke="#c4c4c4" stroke-width="3.4" fill="none" stroke-linecap="round"/>
<path d="M1377.2 788.6 L1381.2 783.6" stroke="#b8b8b8" stroke-width="3.5" fill="none" stroke-linecap="round"/>
<path d="M1365.3 750 L1367.4 754.5 L1369.6 759 L1371.7 763.5 L1373.5 768 L1375 772.5 L1376.6 777 L1378 781.5 L1378.9 786 L1379.3 790.5 L1380.4 795 L1381 799.5 L1381.2 804 L1381.8 808.5 L1382.5 813 L1382.7 817.5 L1383.8 822 L1384.5 826.5 L1385 831 L1384.8 835.5 L1384.8 840 L1385 844.5 L1382.8 849 L1379.3 853.5 L1371 858 L1364.2 860 L1360.2 860 L1353.4 858 L1345.1 853.5 L1341.6 849 L1339.4 844.5 L1339.6 840 L1339.6 835.5 L1339.4 831 L1339.9 826.5 L1340.6 822 L1341.7 817.5 L1341.9 813 L1342.6 808.5 L1343.2 804 L1343.4 799.5 L1344 795 L1345.1 790.5 L1345.5 786 L1346.4 781.5 L1347.8 777 L1349.4 772.5 L1350.9 768 L1352.7 763.5 L1354.8 759 L1357 754.5 L1359.1 750Z" fill="url(#mbody)" filter="url(#mwob)"/>
<path d="M1365.3 750 L1367.4 754.5 L1369.6 759 L1371.7 763.5 L1373.5 768 L1375 772.5 L1376.6 777 L1378 781.5 L1378.9 786 L1379.3 790.5 L1380.4 795 L1381 799.5 L1381.2 804 L1381.8 808.5 L1382.5 813 L1382.7 817.5 L1383.8 822 L1384.5 826.5 L1385 831 L1384.8 835.5 L1384.8 840 L1385 844.5 L1382.8 849 L1379.3 853.5 L1371 858 L1364.2 860 L1360.2 860 L1353.4 858 L1345.1 853.5 L1341.6 849 L1339.4 844.5 L1339.6 840 L1339.6 835.5 L1339.4 831 L1339.9 826.5 L1340.6 822 L1341.7 817.5 L1341.9 813 L1342.6 808.5 L1343.2 804 L1343.4 799.5 L1344 795 L1345.1 790.5 L1345.5 786 L1346.4 781.5 L1347.8 777 L1349.4 772.5 L1350.9 768 L1352.7 763.5 L1354.8 759 L1357 754.5 L1359.1 750Z" fill="url(#mhead)" opacity="0.55" filter="url(#mblur)"/>
<path d="M1365.3 750 L1367.4 754.5 L1369.6 759 L1371.7 763.5 L1373.5 768 L1375 772.5 L1376.6 777 L1378 781.5 L1378.9 786 L1379.3 790.5 L1380.4 795 L1381 799.5 L1381.2 804 L1381.8 808.5 L1382.5 813 L1382.7 817.5 L1383.8 822 L1384.5 826.5 L1385 831 L1384.8 835.5 L1384.8 840 L1385 844.5 L1382.8 849 L1379.3 853.5 L1371 858 L1364.2 860 L1360.2 860 L1353.4 858 L1345.1 853.5 L1341.6 849 L1339.4 844.5 L1339.6 840 L1339.6 835.5 L1339.4 831 L1339.9 826.5 L1340.6 822 L1341.7 817.5 L1341.9 813 L1342.6 808.5 L1343.2 804 L1343.4 799.5 L1344 795 L1345.1 790.5 L1345.5 786 L1346.4 781.5 L1347.8 777 L1349.4 772.5 L1350.9 768 L1352.7 763.5 L1354.8 759 L1357 754.5 L1359.1 750Z" fill="#000" filter="url(#mtex)" opacity="0.17"/>
<circle cx="1349.2" cy="832.8" r="7.5" fill="#6c6c6c" filter="url(#mblur)"/>
<circle cx="1371.5" cy="841.2" r="7" fill="#979797" filter="url(#mblur)"/>
<path d="M1407.5 734 V750 M1410.5 734 V750" stroke="#6b6e72" stroke-width="0.8" fill="none"/>
<path d="M1409 858 Q1406.1 868.8 1410.4 881.5" stroke="#b9b9b9" stroke-width="3.4" fill="none" stroke-linecap="round"/>
<path d="M1395.2 852 Q1386.2 859 1380.2 858.9" stroke="#c4c4c4" stroke-width="3.4" fill="none" stroke-linecap="round"/>
<path d="M1394 788.6 L1390 783.6" stroke="#b8b8b8" stroke-width="3.5" fill="none" stroke-linecap="round"/>
<path d="M1422.8 852 Q1431.8 859 1437.8 858" stroke="#c4c4c4" stroke-width="3.4" fill="none" stroke-linecap="round"/>
<path d="M1424 788.6 L1428 783.6" stroke="#b8b8b8" stroke-width="3.5" fill="none" stroke-linecap="round"/>
<path d="M1412.1 750 L1414.3 754.5 L1416.4 759 L1418.2 763.5 L1420.3 768 L1421.7 772.5 L1423.4 777 L1424.6 781.5 L1425.6 786 L1426.2 790.5 L1427 795 L1427.9 799.5 L1428.2 804 L1429 808.5 L1429.2 813 L1429.4 817.5 L1430.3 822 L1430.9 826.5 L1431.2 831 L1432 835.5 L1431.6 840 L1431.9 844.5 L1429.8 849 L1426.1 853.5 L1417.9 858 L1411 860 L1407 860 L1400.1 858 L1391.9 853.5 L1388.2 849 L1386.1 844.5 L1386.4 840 L1386 835.5 L1386.8 831 L1387.1 826.5 L1387.7 822 L1388.6 817.5 L1388.8 813 L1389 808.5 L1389.8 804 L1390.1 799.5 L1391 795 L1391.8 790.5 L1392.4 786 L1393.4 781.5 L1394.6 777 L1396.3 772.5 L1397.7 768 L1399.8 763.5 L1401.6 759 L1403.7 754.5 L1405.9 750Z" fill="url(#mbody)" filter="url(#mwob)"/>
<path d="M1412.1 750 L1414.3 754.5 L1416.4 759 L1418.2 763.5 L1420.3 768 L1421.7 772.5 L1423.4 777 L1424.6 781.5 L1425.6 786 L1426.2 790.5 L1427 795 L1427.9 799.5 L1428.2 804 L1429 808.5 L1429.2 813 L1429.4 817.5 L1430.3 822 L1430.9 826.5 L1431.2 831 L1432 835.5 L1431.6 840 L1431.9 844.5 L1429.8 849 L1426.1 853.5 L1417.9 858 L1411 860 L1407 860 L1400.1 858 L1391.9 853.5 L1388.2 849 L1386.1 844.5 L1386.4 840 L1386 835.5 L1386.8 831 L1387.1 826.5 L1387.7 822 L1388.6 817.5 L1388.8 813 L1389 808.5 L1389.8 804 L1390.1 799.5 L1391 795 L1391.8 790.5 L1392.4 786 L1393.4 781.5 L1394.6 777 L1396.3 772.5 L1397.7 768 L1399.8 763.5 L1401.6 759 L1403.7 754.5 L1405.9 750Z" fill="url(#mhead)" opacity="0.55" filter="url(#mblur)"/>
<path d="M1412.1 750 L1414.3 754.5 L1416.4 759 L1418.2 763.5 L1420.3 768 L1421.7 772.5 L1423.4 777 L1424.6 781.5 L1425.6 786 L1426.2 790.5 L1427 795 L1427.9 799.5 L1428.2 804 L1429 808.5 L1429.2 813 L1429.4 817.5 L1430.3 822 L1430.9 826.5 L1431.2 831 L1432 835.5 L1431.6 840 L1431.9 844.5 L1429.8 849 L1426.1 853.5 L1417.9 858 L1411 860 L1407 860 L1400.1 858 L1391.9 853.5 L1388.2 849 L1386.1 844.5 L1386.4 840 L1386 835.5 L1386.8 831 L1387.1 826.5 L1387.7 822 L1388.6 817.5 L1388.8 813 L1389 808.5 L1389.8 804 L1390.1 799.5 L1391 795 L1391.8 790.5 L1392.4 786 L1393.4 781.5 L1394.6 777 L1396.3 772.5 L1397.7 768 L1399.8 763.5 L1401.6 759 L1403.7 754.5 L1405.9 750Z" fill="#000" filter="url(#mtex)" opacity="0.17"/>
<circle cx="1391" cy="832.2" r="9" fill="#686868" filter="url(#mblur)"/>
<circle cx="1416.2" cy="836.4" r="9" fill="#646464" filter="url(#mblur)"/>
<rect x="1222.5" y="740.3" width="4" height="139.2" fill="#55585b"/>
</g>
<rect x="1009.2" y="814.7" width="440.5" height="36.8" fill="none" stroke="#e3202f" stroke-width="4.6"/>
<text x="1484.3" y="497.6" font-size="39.5" font-weight="bold" fill="#231f20" stroke="#231f20" stroke-width="0.9" textLength="29.6" lengthAdjust="spacingAndGlyphs">g</text>
<line x1="1629.3" y1="583.7" x2="1629.3" y2="820.7" stroke="#231f20" stroke-width="1.5"/>
<line x1="1619.2" y1="820.1" x2="1629.3" y2="820.1" stroke="#231f20" stroke-width="1.5"/>
<text x="1592.3" y="827.9" font-size="25" textLength="14.6" lengthAdjust="spacingAndGlyphs">0</text>
<line x1="1619.2" y1="772.8" x2="1629.3" y2="772.8" stroke="#231f20" stroke-width="1.5"/>
<text x="1563.2" y="780.6" font-size="25" textLength="43.8" lengthAdjust="spacingAndGlyphs">200</text>
<line x1="1619.2" y1="725.5" x2="1629.3" y2="725.5" stroke="#231f20" stroke-width="1.5"/>
<text x="1563.2" y="733.3" font-size="25" textLength="43.8" lengthAdjust="spacingAndGlyphs">400</text>
<line x1="1619.2" y1="678.2" x2="1629.3" y2="678.2" stroke="#231f20" stroke-width="1.5"/>
<text x="1563.2" y="686" font-size="25" textLength="43.8" lengthAdjust="spacingAndGlyphs">600</text>
<line x1="1619.2" y1="630.9" x2="1629.3" y2="630.9" stroke="#231f20" stroke-width="1.5"/>
<text x="1563.2" y="638.7" font-size="25" textLength="43.8" lengthAdjust="spacingAndGlyphs">800</text>
<line x1="1619.2" y1="583.6" x2="1629.3" y2="583.6" stroke="#231f20" stroke-width="1.5"/>
<text x="1541.3" y="591.4" font-size="25" textLength="65.7" lengthAdjust="spacingAndGlyphs">1,000</text>
<line x1="1619.2" y1="820.1" x2="2013.8" y2="820.1" stroke="#231f20" stroke-width="1.5"/>
<line x1="1639.8" y1="820.1" x2="1639.8" y2="827.8" stroke="#231f20" stroke-width="1.5"/>
<text x="1623.4" y="845.2" font-size="22.5" transform="rotate(-90 1647.4 845.2)">12</text>
<line x1="1661.2" y1="820.1" x2="1661.2" y2="827.8" stroke="#231f20" stroke-width="1.5"/>
<text x="1644.7" y="845.2" font-size="22.5" transform="rotate(-90 1668.8 845.2)">18</text>
<line x1="1682.6" y1="820.1" x2="1682.6" y2="827.8" stroke="#231f20" stroke-width="1.5"/>
<text x="1666" y="845.2" font-size="22.5" transform="rotate(-90 1690.2 845.2)">25</text>
<line x1="1703.9" y1="820.1" x2="1703.9" y2="827.8" stroke="#231f20" stroke-width="1.5"/>
<text x="1687.5" y="845.2" font-size="22.5" transform="rotate(-90 1711.5 845.2)">32</text>
<line x1="1725.3" y1="820.1" x2="1725.3" y2="827.8" stroke="#231f20" stroke-width="1.5"/>
<text x="1708.9" y="845.2" font-size="22.5" transform="rotate(-90 1732.9 845.2)">39</text>
<line x1="1746.7" y1="820.1" x2="1746.7" y2="827.8" stroke="#231f20" stroke-width="1.5"/>
<text x="1730.2" y="845.2" font-size="22.5" transform="rotate(-90 1754.3 845.2)">46</text>
<line x1="1768.1" y1="820.1" x2="1768.1" y2="827.8" stroke="#231f20" stroke-width="1.5"/>
<text x="1751.6" y="845.2" font-size="22.5" transform="rotate(-90 1775.7 845.2)">53</text>
<line x1="1789.5" y1="820.1" x2="1789.5" y2="827.8" stroke="#231f20" stroke-width="1.5"/>
<text x="1773.1" y="845.2" font-size="22.5" transform="rotate(-90 1797.1 845.2)">61</text>
<line x1="1810.8" y1="820.1" x2="1810.8" y2="827.8" stroke="#231f20" stroke-width="1.5"/>
<text x="1794.3" y="845.2" font-size="22.5" transform="rotate(-90 1818.4 845.2)">68</text>
<line x1="1832.2" y1="820.1" x2="1832.2" y2="827.8" stroke="#231f20" stroke-width="1.5"/>
<text x="1815.7" y="845.2" font-size="22.5" transform="rotate(-90 1839.8 845.2)">75</text>
<line x1="1853.6" y1="820.1" x2="1853.6" y2="827.8" stroke="#231f20" stroke-width="1.5"/>
<text x="1837.2" y="845.2" font-size="22.5" transform="rotate(-90 1861.2 845.2)">82</text>
<line x1="1875" y1="820.1" x2="1875" y2="827.8" stroke="#231f20" stroke-width="1.5"/>
<text x="1858.6" y="845.2" font-size="22.5" transform="rotate(-90 1882.6 845.2)">89</text>
<line x1="1896.4" y1="820.1" x2="1896.4" y2="827.8" stroke="#231f20" stroke-width="1.5"/>
<text x="1879.8" y="845.2" font-size="22.5" transform="rotate(-90 1904 845.2)">95</text>
<line x1="1917.7" y1="820.1" x2="1917.7" y2="827.8" stroke="#231f20" stroke-width="1.5"/>
<text x="1888.7" y="845.2" font-size="22.5" transform="rotate(-90 1925.3 845.2)">103</text>
<line x1="1939.1" y1="820.1" x2="1939.1" y2="827.8" stroke="#231f20" stroke-width="1.5"/>
<text x="1913.5" y="845.2" font-size="22.5" transform="rotate(-90 1946.7 845.2)">111</text>
<line x1="1960.5" y1="820.1" x2="1960.5" y2="827.8" stroke="#231f20" stroke-width="1.5"/>
<text x="1933.1" y="845.2" font-size="22.5" transform="rotate(-90 1968.1 845.2)">118</text>
<line x1="1981.9" y1="820.1" x2="1981.9" y2="827.8" stroke="#231f20" stroke-width="1.5"/>
<text x="1953" y="845.2" font-size="22.5" transform="rotate(-90 1989.5 845.2)">127</text>
<line x1="2003.3" y1="820.1" x2="2003.3" y2="827.8" stroke="#231f20" stroke-width="1.5"/>
<text x="1974.2" y="845.2" font-size="22.5" transform="rotate(-90 2010.9 845.2)">133</text>
<text x="1672.7" y="917" font-size="27" textLength="296.8" lengthAdjust="spacingAndGlyphs">Days after implantation</text>
<text x="1381.6" y="703.2" font-size="27" transform="rotate(-90 1520.7 703.2)" textLength="279.4" lengthAdjust="spacingAndGlyphs">Tumor volume (mm<tspan font-size="19.3" dy="-10">3</tspan><tspan dy="10">)</tspan></text>
<line x1="1832.2" y1="808.6" x2="1832.2" y2="817.3" stroke="#1c1c1c" stroke-width="1.3"/>
<line x1="1827.7" y1="808.6" x2="1836.7" y2="808.6" stroke="#1c1c1c" stroke-width="1.3"/>
<line x1="1827.7" y1="817.3" x2="1836.7" y2="817.3" stroke="#1c1c1c" stroke-width="1.3"/>
<line x1="1853.6" y1="805.8" x2="1853.6" y2="816.3" stroke="#1c1c1c" stroke-width="1.3"/>
<line x1="1849.1" y1="805.8" x2="1858.1" y2="805.8" stroke="#1c1c1c" stroke-width="1.3"/>
<line x1="1849.1" y1="816.3" x2="1858.1" y2="816.3" stroke="#1c1c1c" stroke-width="1.3"/>
<line x1="1875" y1="802.3" x2="1875" y2="813.8" stroke="#1c1c1c" stroke-width="1.3"/>
<line x1="1870.5" y1="802.3" x2="1879.5" y2="802.3" stroke="#1c1c1c" stroke-width="1.3"/>
<line x1="1870.5" y1="813.8" x2="1879.5" y2="813.8" stroke="#1c1c1c" stroke-width="1.3"/>
<line x1="1896.4" y1="787.7" x2="1896.4" y2="809.6" stroke="#1c1c1c" stroke-width="1.3"/>
<line x1="1891.9" y1="787.7" x2="1900.9" y2="787.7" stroke="#1c1c1c" stroke-width="1.3"/>
<line x1="1891.9" y1="809.6" x2="1900.9" y2="809.6" stroke="#1c1c1c" stroke-width="1.3"/>
<line x1="1917.7" y1="768.2" x2="1917.7" y2="804.4" stroke="#1c1c1c" stroke-width="1.3"/>
<line x1="1913.2" y1="768.2" x2="1922.2" y2="768.2" stroke="#1c1c1c" stroke-width="1.3"/>
<line x1="1913.2" y1="804.4" x2="1922.2" y2="804.4" stroke="#1c1c1c" stroke-width="1.3"/>
<line x1="1939.1" y1="741.7" x2="1939.1" y2="792.2" stroke="#1c1c1c" stroke-width="1.3"/>
<line x1="1934.6" y1="741.7" x2="1943.6" y2="741.7" stroke="#1c1c1c" stroke-width="1.3"/>
<line x1="1934.6" y1="792.2" x2="1943.6" y2="792.2" stroke="#1c1c1c" stroke-width="1.3"/>
<line x1="1960.5" y1="731.9" x2="1960.5" y2="784.9" stroke="#1c1c1c" stroke-width="1.3"/>
<line x1="1956" y1="731.9" x2="1965" y2="731.9" stroke="#1c1c1c" stroke-width="1.3"/>
<line x1="1956" y1="784.9" x2="1965" y2="784.9" stroke="#1c1c1c" stroke-width="1.3"/>
<line x1="1981.9" y1="680.3" x2="1981.9" y2="764.3" stroke="#1c1c1c" stroke-width="1.3"/>
<line x1="1977.4" y1="680.3" x2="1986.4" y2="680.3" stroke="#1c1c1c" stroke-width="1.3"/>
<line x1="1977.4" y1="764.3" x2="1986.4" y2="764.3" stroke="#1c1c1c" stroke-width="1.3"/>
<line x1="2003.3" y1="620.4" x2="2003.3" y2="745.8" stroke="#1c1c1c" stroke-width="1.3"/>
<line x1="1998.8" y1="620.4" x2="2007.8" y2="620.4" stroke="#1c1c1c" stroke-width="1.3"/>
<line x1="1998.8" y1="745.8" x2="2007.8" y2="745.8" stroke="#1c1c1c" stroke-width="1.3"/>
<line x1="1746.7" y1="808.6" x2="1746.7" y2="813.5" stroke="#e5202f" stroke-width="1.3"/>
<line x1="1742.2" y1="808.6" x2="1751.2" y2="808.6" stroke="#e5202f" stroke-width="1.3"/>
<line x1="1742.2" y1="813.5" x2="1751.2" y2="813.5" stroke="#e5202f" stroke-width="1.3"/>
<line x1="1768.1" y1="803.4" x2="1768.1" y2="811" stroke="#e5202f" stroke-width="1.3"/>
<line x1="1763.6" y1="803.4" x2="1772.6" y2="803.4" stroke="#e5202f" stroke-width="1.3"/>
<line x1="1763.6" y1="811" x2="1772.6" y2="811" stroke="#e5202f" stroke-width="1.3"/>
<line x1="1789.5" y1="790.5" x2="1789.5" y2="809.3" stroke="#e5202f" stroke-width="1.3"/>
<line x1="1785" y1="790.5" x2="1794" y2="790.5" stroke="#e5202f" stroke-width="1.3"/>
<line x1="1785" y1="809.3" x2="1794" y2="809.3" stroke="#e5202f" stroke-width="1.3"/>
<line x1="1810.8" y1="783.5" x2="1810.8" y2="803.4" stroke="#e5202f" stroke-width="1.3"/>
<line x1="1806.3" y1="783.5" x2="1815.3" y2="783.5" stroke="#e5202f" stroke-width="1.3"/>
<line x1="1806.3" y1="803.4" x2="1815.3" y2="803.4" stroke="#e5202f" stroke-width="1.3"/>
<line x1="1832.2" y1="768.5" x2="1832.2" y2="794.6" stroke="#e5202f" stroke-width="1.3"/>
<line x1="1827.7" y1="768.5" x2="1836.7" y2="768.5" stroke="#e5202f" stroke-width="1.3"/>
<line x1="1827.7" y1="794.6" x2="1836.7" y2="794.6" stroke="#e5202f" stroke-width="1.3"/>
<line x1="1853.6" y1="706.1" x2="1853.6" y2="781.4" stroke="#e5202f" stroke-width="1.3"/>
<line x1="1849.1" y1="706.1" x2="1858.1" y2="706.1" stroke="#e5202f" stroke-width="1.3"/>
<line x1="1849.1" y1="781.4" x2="1858.1" y2="781.4" stroke="#e5202f" stroke-width="1.3"/>
<line x1="1875" y1="673.7" x2="1875" y2="766.4" stroke="#e5202f" stroke-width="1.3"/>
<line x1="1870.5" y1="673.7" x2="1879.5" y2="673.7" stroke="#e5202f" stroke-width="1.3"/>
<line x1="1870.5" y1="766.4" x2="1879.5" y2="766.4" stroke="#e5202f" stroke-width="1.3"/>
<line x1="1896.4" y1="604.7" x2="1896.4" y2="716.2" stroke="#e5202f" stroke-width="1.3"/>
<line x1="1891.9" y1="604.7" x2="1900.9" y2="604.7" stroke="#e5202f" stroke-width="1.3"/>
<line x1="1891.9" y1="716.2" x2="1900.9" y2="716.2" stroke="#e5202f" stroke-width="1.3"/>
<path d="M1639.8 819 L1661.2 818.4 L1682.6 816.3 L1703.9 815.6 L1725.3 817 L1746.7 815.6 L1768.1 814.9 L1789.5 814.9 L1810.8 814.5 L1832.2 813.1 L1853.6 811 L1875 807.5 L1896.4 798.1 L1917.7 786.3 L1939.1 766.8 L1960.5 758.7 L1981.9 722.1 L2003.3 683.1" stroke="#1c1c1c" stroke-width="1.3" fill="none"/>
<circle cx="1639.8" cy="819" r="3.6" fill="#1c1c1c"/>
<circle cx="1661.2" cy="818.4" r="3.6" fill="#1c1c1c"/>
<circle cx="1682.6" cy="816.3" r="3.6" fill="#1c1c1c"/>
<circle cx="1703.9" cy="815.6" r="3.6" fill="#1c1c1c"/>
<circle cx="1725.3" cy="817" r="3.6" fill="#1c1c1c"/>
<circle cx="1746.7" cy="815.6" r="3.6" fill="#1c1c1c"/>
<circle cx="1768.1" cy="814.9" r="3.6" fill="#1c1c1c"/>
<circle cx="1789.5" cy="814.9" r="3.6" fill="#1c1c1c"/>
<circle cx="1810.8" cy="814.5" r="3.6" fill="#1c1c1c"/>
<circle cx="1832.2" cy="813.1" r="3.6" fill="#1c1c1c"/>
<circle cx="1853.6" cy="811" r="3.6" fill="#1c1c1c"/>
<circle cx="1875" cy="807.5" r="3.6" fill="#1c1c1c"/>
<circle cx="1896.4" cy="798.1" r="3.6" fill="#1c1c1c"/>
<circle cx="1917.7" cy="786.3" r="3.6" fill="#1c1c1c"/>
<circle cx="1939.1" cy="766.8" r="3.6" fill="#1c1c1c"/>
<circle cx="1960.5" cy="758.7" r="3.6" fill="#1c1c1c"/>
<circle cx="1981.9" cy="722.1" r="3.6" fill="#1c1c1c"/>
<circle cx="2003.3" cy="683.1" r="3.6" fill="#1c1c1c"/>
<path d="M1639.8 816.3 L1661.2 816.3 L1682.6 814.5 L1703.9 814.2 L1725.3 812.8 L1746.7 811 L1768.1 807.5 L1789.5 799.2 L1810.8 792.9 L1832.2 780.7 L1853.6 744.1 L1875 719.7 L1896.4 660.8" stroke="#e5202f" stroke-width="2.5" fill="none"/>
<rect x="1636.6" y="813.1" width="6.4" height="6.4" fill="#e5202f"/>
<rect x="1658" y="813.1" width="6.4" height="6.4" fill="#e5202f"/>
<rect x="1679.4" y="811.3" width="6.4" height="6.4" fill="#e5202f"/>
<rect x="1700.7" y="811" width="6.4" height="6.4" fill="#e5202f"/>
<rect x="1722.1" y="809.6" width="6.4" height="6.4" fill="#e5202f"/>
<rect x="1743.5" y="807.8" width="6.4" height="6.4" fill="#e5202f"/>
<rect x="1764.9" y="804.3" width="6.4" height="6.4" fill="#e5202f"/>
<rect x="1786.3" y="796" width="6.4" height="6.4" fill="#e5202f"/>
<rect x="1807.6" y="789.7" width="6.4" height="6.4" fill="#e5202f"/>
<rect x="1829" y="777.5" width="6.4" height="6.4" fill="#e5202f"/>
<rect x="1850.4" y="740.9" width="6.4" height="6.4" fill="#e5202f"/>
<rect x="1871.8" y="716.5" width="6.4" height="6.4" fill="#e5202f"/>
<rect x="1893.2" y="657.6" width="6.4" height="6.4" fill="#e5202f"/>
<line x1="1638.4" y1="591.8" x2="1671.1" y2="591.8" stroke="#1c1c1c" stroke-width="1.3"/>
<circle cx="1654.8" cy="591.8" r="3.6" fill="#1c1c1c"/>
<text x="1686.1" y="599.4" font-size="26.7" textLength="180.5" lengthAdjust="spacingAndGlyphs">WT/KO (<tspan font-style="italic">n</tspan> = 18)</text>
<line x1="1638.4" y1="630.8" x2="1671.1" y2="630.8" stroke="#e5202f" stroke-width="1.3"/>
<rect x="1651.6" y="627.6" width="6.4" height="6.4" fill="#e5202f"/>
<text x="1684.9" y="638.5" font-size="26.7" textLength="191.7" lengthAdjust="spacingAndGlyphs">6KR/KO (<tspan font-style="italic">n</tspan> = 16)</text>
<line x1="1912.7" y1="659" x2="2062.6" y2="659" stroke="#3a3a3a" stroke-width="1.3"/>
<line x1="1914.4" y1="797.4" x2="2062.6" y2="797.4" stroke="#3a3a3a" stroke-width="1.3"/>
<line x1="2038.2" y1="669" x2="2038.2" y2="793" stroke="#2d4a72" stroke-width="2"/>
<path d="M2038.2 664.5 L2033.2 676 L2038.2 672.5 L2043.2 676 Z M2038.2 797.5 L2033.2 786 L2038.2 789.5 L2043.2 786 Z" fill="#2d4a72" stroke="#2d4a72" stroke-width="1"/>
<text x="2050.8" y="740.6" font-size="22.6"><tspan font-style="italic">P</tspan> &lt; 0.0001</text>
<text x="-2.8" y="1027.4" font-size="39.5" font-weight="bold" fill="#231f20" stroke="#231f20" stroke-width="0.9" textLength="29" lengthAdjust="spacingAndGlyphs">h</text>
<path d="M262.6 1376.2h0M235.1 1376.4h0M284.4 1391.2h0M272.4 1390.7h0M336.6 1380.9h0M363.7 1387.6h0M368.5 1389.2h0M250.2 1389.8h0M264.7 1377h0M337 1387.6h0M441 1376.7h0M329.5 1376.2h0M254.2 1375.9h0M259.4 1389h0M355.9 1392.7h0M334.6 1379.4h0M334.9 1385.5h0M250 1382.3h0M265.8 1393.1h0M135.3 1380.3h0M341 1380.8h0M315.6 1395.6h0M350 1378.4h0M261.1 1376.2h0M319.6 1378.2h0M357.3 1378.5h0M266.9 1376.1h0M331.4 1384.9h0M276.9 1378.7h0M326.1 1385.4h0M339.9 1389.5h0M269.9 1375.6h0M397.9 1392.3h0M355.5 1380.6h0M247.7 1393.2h0M268.7 1394.6h0M342.2 1378.7h0M353.9 1378h0M326.1 1383.1h0M346.4 1382.8h0M433.8 1391.1h0M320.8 1378.8h0M330.3 1389.6h0M357.7 1375.7h0M352.7 1382.1h0M350.9 1378.1h0M270.9 1384.5h0M267.9 1379.6h0M239.3 1384.4h0M260.4 1378.2h0M282.4 1392.3h0M360.9 1380.8h0M320 1379.5h0M331.2 1377.7h0M268.5 1379.9h0M249.7 1377.5h0M360.6 1379.3h0M471.3 1389.2h0M298.9 1399.6h0M298.8 1399.6h0M262.8 1378.1h0M322.6 1379.6h0M308.9 1395.9h0M244.4 1395h0M306.2 1398.8h0M272.6 1380.1h0M320.5 1393.3h0M338.8 1385.3h0M338.1 1382.6h0M341.6 1380.4h0M339.7 1398.9h0M383.6 1392.2h0M346.5 1394.4h0M250.3 1391.4h0M320.5 1376h0M282.2 1390.7h0M254.3 1389.7h0M319.5 1381.1h0M475.4 1393.6h0M271.8 1381h0M264.1 1389.8h0M276.3 1384h0M322.5 1385.9h0M263.7 1376h0M253.7 1375.8h0M326.3 1383.5h0M361.6 1386h0M333.5 1390.4h0M251.4 1378.1h0M268.8 1396.3h0M328.3 1378.1h0M387.1 1397.7h0M232.6 1380.4h0M317.6 1380.9h0M312.3 1391h0M316.5 1389h0M331.9 1382.6h0M335.1 1394.3h0M306.6 1398.2h0M279.6 1397.2h0M250.8 1383.2h0M327.9 1382.3h0M241.8 1384h0M344.7 1385.8h0M255.4 1392.7h0M258.1 1386h0M247.8 1376.5h0M308.4 1396.7h0M339.8 1389.4h0M339.2 1387.3h0M258.4 1378h0M289.7 1395h0M379.4 1393.6h0M268.2 1387.5h0M288.6 1397.4h0M325.7 1376.5h0M318.5 1389.3h0M253.3 1393.9h0M329.8 1393.1h0M341.9 1378.6h0M275.5 1385.4h0M277 1384h0M261.7 1393.2h0M277.4 1384.3h0M282.7 1390.1h0M262.3 1386.7h0M284.6 1392.2h0M338.1 1378.7h0M357.2 1379h0M284.8 1396.4h0M352.7 1380.6h0M354.1 1385.2h0M251.1 1394.8h0M272.8 1376.1h0M267.1 1387.4h0M368.2 1377.6h0M330.5 1380.2h0M337.9 1380.3h0M355.8 1384h0M351.6 1377.8h0M308.2 1396.1h0M312 1391.7h0M320.2 1391.3h0M337.9 1376.8h0M342 1378.4h0M290.5 1396.4h0M344.7 1382.6h0M343.3 1384.2h0M346.8 1376.9h0M335.6 1389.1h0M353.8 1387.2h0M385.2 1377.5h0M271.4 1379.5h0M346.4 1379.6h0M332.3 1379.5h0M269.7 1395.2h0M348.7 1392.1h0M356.7 1385.4h0M332.6 1386.1h0M262.1 1387h0M254.5 1376.2h0M223.9 1397.3h0M361.4 1378.1h0M362.7 1375.7h0M343.8 1384.7h0M378.6 1382.2h0M146.4 1399.3h0M356.5 1393h0M320.3 1393.4h0M346.4 1375.9h0M313.7 1390.4h0M334.8 1385.4h0M288 1394.7h0M254.5 1387.7h0M311.3 1393.4h0M329.8 1380.2h0M276 1383.3h0M256.8 1387.4h0M332.5 1378.2h0M270.5 1385.4h0M350.4 1391.8h0M344.2 1380.9h0M367.8 1393.6h0M348.9 1386h0M354.8 1385.4h0M273.9 1381.2h0M248.5 1380.9h0M305.3 1398.5h0M289.2 1395.3h0M326 1377.7h0M341.6 1388.9h0M342 1379.5h0M370.6 1381.2h0M350.6 1393.5h0M308.8 1395.3h0M289.2 1397h0M323.2 1396.4h0M351.1 1377.5h0M280.6 1392.6h0M275.3 1382.9h0M413.1 1394.4h0M247.2 1383h0M268.3 1376.2h0M365.2 1391.1h0M259.9 1383.4h0M341.7 1380.9h0M335.2 1376.9h0M339.8 1388h0M353.4 1384.5h0M264.9 1386.8h0M429.4 1386.8h0M356.5 1389.7h0M259.5 1388.9h0M336.4 1378.9h0M273.1 1385.2h0M291.6 1396.6h0M269 1396.7h0M315.7 1386.7h0M321.3 1395h0M348.4 1384.1h0M329.6 1375.7h0M248.3 1376.4h0M254.4 1377.9h0M312 1392.4h0M250.9 1392.1h0M333.5 1384.6h0M338.1 1385.5h0M238.4 1386.2h0M288.5 1394.8h0M449.9 1380.5h0M275.9 1380.8h0M289.3 1397.1h0M322.8 1383.9h0M331.1 1383.9h0M309 1395.2h0M235.5 1384h0M325.5 1378.9h0M310.1 1393.8h0M330.1 1380.2h0M276.1 1389.3h0M265.2 1392.8h0M320.4 1377.5h0M261.7 1383.3h0M313.3 1388.5h0M330.3 1375.9h0M365.6 1394.8h0M308.3 1397.9h0M324.5 1380.6h0M254.4 1392.9h0M302.9 1399.6h0M241.7 1377.2h0M274.6 1379.2h0M258.8 1382.4h0M340.5 1391.5h0M348.1 1380.3h0M337.9 1377.7h0M237.5 1379h0M286 1391.3h0M327.8 1391.1h0M341.8 1382.7h0M279.2 1384.1h0M313.4 1392.2h0M351.8 1380.6h0M325.6 1376h0M153 1383.9h0M312.4 1396h0M314.1 1387h0M364.6 1385.9h0M323.3 1380.9h0M299.3 1399.7h0M258.9 1383.4h0M335.2 1379.6h0M334.7 1382.4h0M321.9 1384h0M160.1 1381.3h0M345.9 1378.3h0M352.7 1382.7h0M337.8 1381.8h0M347.7 1383h0M394.6 1395.2h0M374.3 1381.9h0M306.1 1398.5h0M359.9 1376.6h0M261.2 1395.3h0M260.7 1383.5h0M280.6 1389.6h0M399.2 1397.8h0M231.9 1383.3h0M484.9 1391.9h0M318.2 1380.5h0M339.4 1388.9h0M355.4 1376.7h0M271.2 1388.1h0M362.5 1380.5h0M286.5 1395.6h0M267.8 1388.5h0M333.9 1386.4h0M244.4 1389.4h0M363.3 1375.8h0M270.7 1379.9h0M341.8 1384.3h0M286.1 1395.3h0M307.9 1397.8h0M334.7 1382.3h0M255.4 1397h0M247.2 1380.4h0M273.4 1393.2h0M357.2 1384.8h0M341.2 1385.7h0M307.8 1397.6h0M294.5 1398.4h0M468.8 1394.7h0M344.1 1382.9h0M261.3 1381.6h0M352.6 1381.2h0M257.8 1389.9h0M307.6 1398.2h0M337.1 1393h0M329.3 1375.9h0M346.3 1386.2h0M263.3 1377.5h0M251.4 1383.9h0M264.4 1376.9h0M353.3 1376.7h0M340.7 1378.6h0M341.5 1396.8h0M347.6 1377h0M313 1391h0M330.6 1380.4h0M306.2 1397.8h0M366.8 1391.5h0M349.1 1382.7h0M284.3 1396.6h0M247.8 1377.3h0M336.5 1385.7h0M319 1378.4h0M356.2 1389.3h0M321.8 1386.5h0M200.9 1393.5h0M308.6 1396.2h0M350 1389.8h0M326.8 1380.9h0M247.7 1389.6h0M308.7 1395.5h0M337.1 1379.6h0M345 1385.8h0M295.1 1399h0M349.3 1380.1h0M255.9 1376h0M338.5 1391.1h0M249.4 1377.3h0M392.2 1386.3h0M277.4 1388.3h0M331.3 1392.7h0M270.5 1383.5h0M276.8 1389.5h0M411.6 1389.8h0M343.2 1383.5h0M364.1 1385.9h0M340.8 1381.9h0M467.5 1398.5h0M279.2 1393.9h0M322.4 1383.1h0M354.1 1381.2h0M281 1392.3h0M354.9 1380h0M256.2 1385.2h0M255.3 1393.3h0M294.8 1398.7h0M262.4 1380.9h0M328.3 1386.7h0M371.6 1378.4h0M271.3 1379.2h0M272.2 1391.1h0M175.1 1398.7h0M304.2 1399.5h0M242.1 1391h0M335.8 1393.4h0M279.3 1392.9h0M252.8 1380h0M361.3 1377h0M261.1 1376.9h0M355.5 1383.4h0M347.5 1379.7h0M262.8 1378.8h0M353.9 1377.2h0M259.2 1383.4h0M257.4 1378.7h0M318.1 1380.3h0M266.8 1382.1h0M323.6 1378h0M266.6 1381.5h0M330.4 1390.5h0M378.6 1387.1h0M258.9 1379.8h0M326.3 1386.3h0M323.5 1379.7h0M334.9 1383.1h0M309.9 1394.5h0M305.5 1398.8h0M248.4 1392.9h0M342.7 1393.1h0M325.5 1378.3h0M313.1 1389.5h0M342.2 1381.7h0M346.6 1380.2h0M237.4 1380.3h0M277.4 1396.2h0M245.9 1375.7h0M354.4 1391.2h0M344.1 1391.6h0M359.4 1385.7h0M264.4 1383.9h0M380.8 1379.3h0M322.5 1383.7h0M331.7 1382.8h0M266.1 1379.2h0M252.8 1377h0M238.9 1377.9h0M318.7 1376.9h0M244 1383h0M328.2 1379.4h0M275 1388.3h0M347.3 1391.4h0M251 1384.4h0M335.4 1389.5h0M338.5 1391h0M283.2 1388.8h0M318.9 1376.4h0M337.5 1393h0M265.6 1378.4h0M344 1376.4h0M247.2 1381.5h0M314.8 1386.3h0M346.6 1385.8h0M282.2 1393h0M272.7 1380.6h0M333.2 1385.3h0M247.6 1378.1h0M331.1 1381.7h0M325.9 1379.9h0M261 1381.8h0M331.2 1383h0M331.8 1392.4h0M281.5 1392.2h0M351.8 1376.3h0M346.1 1391.4h0M344.9 1384.8h0M332.8 1379.4h0M371.8 1385.1h0M282.8 1391h0M275 1386h0M341.7 1377.6h0M321 1377.3h0M357.6 1382.8h0M251.6 1383.3h0M321.1 1383.1h0M258.7 1380.5h0M355.8 1388.7h0M335.4 1390.9h0M259.3 1376.6h0M363 1386h0M275.2 1394.5h0M346.5 1379.2h0M352.9 1377.2h0M241 1388.7h0M306.9 1398.3h0M289.9 1396.8h0M285.8 1391.2h0M267.5 1377.2h0M173.9 1383.8h0M333.7 1383.5h0M271.7 1386.7h0M273.9 1383.1h0M251.2 1394.4h0M267.8 1379.7h0M306.9 1397.9h0M264.1 1378.1h0M320 1389.1h0M143.4 1395.3h0M361.8 1393.8h0M374.8 1387.5h0M333.4 1394.6h0M358.8 1385.4h0M395.4 1398.4h0M393.5 1380.6h0M263.7 1386.3h0M349.5 1388.7h0M261.7 1385.6h0M264.2 1377.2h0M259.9 1381.2h0M287.8 1394.6h0M352.7 1382.7h0M339.9 1392h0M298.6 1399.6h0M294.1 1398.2h0M326.4 1385.3h0M278.6 1382.2h0M261.5 1396.9h0M348.1 1387.3h0M330.9 1387.9h0M275.1 1380.8h0M334.2 1376.4h0M321.1 1380.6h0M262 1377h0M245.4 1379.3h0M345.6 1381.3h0M358.8 1378.6h0M309.6 1394.6h0M340.2 1381.1h0M256.2 1386.1h0M320.2 1380.5h0M275.8 1381.4h0M353.9 1391.1h0M283 1392.7h0M339.4 1386.3h0M296.9 1399.6h0M364.4 1379.2h0M275.7 1386.1h0M265.6 1383h0M310.8 1396.7h0M266.4 1378.9h0M299.2 1399.7h0M257.6 1393.8h0M325.7 1379.3h0M319.2 1380.3h0M246.2 1379h0M231.6 1379.1h0M312.9 1396.7h0M249.2 1387.4h0M301.1 1399.8h0M330.8 1376.2h0M273.7 1385.2h0M243.7 1376h0M341.5 1381.4h0M240.8 1377.1h0M305.6 1398.5h0M416 1399.1h0M338.6 1376.5h0M399.2 1382.5h0M320.5 1377.1h0M243.9 1375.9h0M303.8 1399.4h0M337.3 1376h0M329.5 1388.3h0M264.1 1386.2h0M342.2 1379.6h0M320.9 1376.7h0M327.9 1384.4h0M351.1 1390.5h0M321.1 1376.2h0M370.7 1386.8h0M318.7 1390.5h0M317.8 1387.6h0M338.3 1383h0M256.6 1381.4h0M247.9 1393.9h0M299.9 1399.8h0M332.1 1378.9h0M312.7 1390.2h0M327.4 1376.6h0M281.1 1393.4h0M326.5 1385.6h0M312.1 1393.2h0M347.9 1376.1h0M322.5 1386.9h0M371.8 1391h0M366.8 1381.7h0M263.6 1379.5h0M327.7 1394.8h0M345.3 1383.6h0M326.9 1387.2h0M318.2 1382.9h0M351.2 1392.5h0M315.8 1383.7h0M327.1 1393.7h0M288.9 1394.3h0M280.3 1384.8h0M343.3 1387.8h0M360.7 1388.5h0M346.5 1376.7h0M235.6 1390h0M438.5 1379.1h0M338 1375.8h0M373.4 1376.3h0M249.9 1392.3h0M309.1 1395.6h0M296 1399.2h0M343.5 1381.8h0M349.9 1386.4h0M364.1 1378.5h0M138.2 1398.7h0M326.4 1378.6h0M250.2 1378.8h0M319.5 1388.2h0M340.6 1376.1h0M252.5 1383.5h0M340 1378.1h0M358 1376.3h0M376.2 1382.7h0M322.7 1385.7h0M320.1 1380.4h0M302.8 1399.7h0M284.9 1390.9h0M350.8 1380.7h0M265.9 1379h0M324.9 1395.5h0M268.8 1385.1h0M340.7 1379.5h0M336.8 1383.1h0M285.2 1395h0M193.2 1386.1h0M317.2 1380.3h0M261.8 1377.5h0M324.4 1380.3h0M258.5 1385.1h0M363.7 1382.5h0M351.6 1379.7h0M345.5 1380.8h0M340.9 1375.8h0M292.9 1397.9h0M284.2 1392.2h0M337.9 1390.4h0M316.5 1383.3h0M307.2 1397.5h0M344.8 1378.7h0M343.7 1390.2h0M263.7 1384h0M298.6 1399.6h0M319.3 1386.3h0M306.4 1398.1h0M224.2 1387.3h0M239.3 1383.1h0M330.9 1381.3h0M275.2 1376.6h0M240.5 1380.1h0M336.1 1386.4h0M260.7 1388.9h0M340 1379.3h0M234.2 1385.1h0M338.5 1378.5h0M233.6 1395.1h0M356.8 1377.2h0M274.4 1381.5h0M245.2 1379.6h0M291.7 1396.4h0M327.3 1379.4h0M343.3 1377.3h0M355.7 1382.1h0M301.1 1399.8h0M293.4 1398.7h0M298.1 1399.5h0M261.5 1376.6h0M371.6 1387.5h0M285 1395.6h0M328.1 1380.1h0M357.4 1386.6h0M336.2 1392.3h0M327.3 1380.8h0M318.8 1378h0M317.7 1379.9h0M314.4 1394.6h0M265.1 1376.7h0M262.3 1377.2h0M258.4 1378.3h0M269.7 1382.5h0M302 1399.8h0M375 1375.7h0M190.7 1383.7h0M303 1399.7h0M341.5 1387.9h0M313.7 1388h0M329.5 1376.5h0M330.3 1385.4h0M257.4 1377.4h0M377.4 1388.5h0M344.8 1389h0M329.3 1379.4h0M347.5 1385.9h0M342.8 1383.1h0M344.5 1381.7h0M338.4 1377.2h0M461.6 1377.8h0M318.8 1376.8h0M319.5 1378.4h0M331.7 1376.9h0M260.4 1386.4h0M338.4 1384.3h0M360.8 1376.8h0M374.9 1379.3h0M264.6 1375.6h0M245.6 1376.2h0M342.4 1380.5h0M322.9 1376.2h0M485.5 1399.4h0M314.1 1391.6h0M252.4 1391.2h0M329.9 1390.2h0M335.6 1389h0M253.4 1390.1h0M244.5 1378.8h0M237.1 1386.4h0M320 1376.5h0M351.1 1377.9h0M273.7 1380.8h0M269.6 1387.2h0M318.5 1383.6h0M276.6 1381.8h0M321.4 1389.1h0M357.8 1392.7h0M287.4 1394.2h0M301.1 1399.8h0M348.3 1382.1h0M360.7 1383h0M254.9 1387.1h0M252.8 1381.2h0M313.9 1389.4h0M267 1384.2h0M305.8 1398.9h0M323.6 1376.4h0M328.8 1382.2h0M320.5 1387.1h0M342 1389.7h0M262.8 1384.3h0M346.3 1387.8h0M218.7 1375.6h0M361.7 1390.1h0M316.1 1384.7h0M393.6 1385.9h0M371.6 1379.1h0M408.7 1391.5h0M281.2 1395.2h0M324.4 1376.1h0M272.5 1391h0M260.4 1383.2h0M340.1 1378.1h0M291.5 1397.4h0M316.5 1388.5h0M351.1 1376h0M280 1384.6h0M360.7 1376.8h0M152.5 1392.9h0M294.3 1398.4h0M254.4 1386.8h0M256 1377.8h0M344.8 1387.4h0M239.7 1375.7h0M337.8 1381.4h0M330 1375.9h0M283.6 1393.5h0M252.4 1379.5h0M322 1378.1h0M344.4 1388.8h0M319.5 1390.3h0M280.9 1391.7h0M263.6 1377.2h0M327.2 1390h0M360.3 1383.8h0M354.5 1385.7h0M281.5 1385.6h0M259.8 1384.9h0M291.2 1397.3h0M264.2 1378.5h0M301.7 1399.8h0M341.9 1386.1h0M334.5 1383h0M267.6 1395.8h0M345.2 1378.8h0M319.9 1384.5h0M315 1396.2h0M390.7 1396.7h0M237.1 1378.5h0M334.3 1377.6h0M359.7 1377.7h0M364 1384h0M259.2 1375.6h0M359 1376.2h0M276.2 1388.6h0M335.7 1388.8h0M235.9 1382.2h0M317.8 1378.3h0M342.7 1380.7h0M295.7 1398.7h0M243.2 1381.5h0M312.6 1393.6h0M260 1379.9h0M352.4 1382.2h0M335.1 1380.1h0M229 1376.8h0M266.6 1378.8h0M270.2 1386.4h0M360.3 1376.1h0M352.6 1383.7h0M297.7 1399.6h0M260.2 1380.5h0M316 1385.2h0M268.3 1380.9h0M308.2 1397.6h0M343.8 1376h0M266.8 1381.1h0M279.7 1388.1h0M313 1388.7h0M181.7 1386.1h0M330 1378.5h0M319.4 1380.7h0M381.3 1378.3h0M304.5 1399h0M316.6 1386.3h0M330.2 1392.4h0M337.1 1385h0M349.7 1395.4h0M146.9 1392h0M312.4 1397.1h0M347.4 1397.1h0M325.7 1388.6h0M294.7 1398.3h0M348.3 1377.1h0M347.2 1379.6h0M350.8 1388.1h0M324.5 1380.3h0M374.9 1381.9h0M280.6 1388.1h0M327.6 1387.7h0M320.7 1382.3h0M300 1399.8h0M379.2 1382.7h0M247.5 1380.8h0M335.6 1379.4h0M330.4 1380h0M316.4 1386.4h0M347.4 1382.7h0M264.9 1377.7h0M278.7 1390.8h0M282 1394.2h0M269.3 1389.8h0M277.2 1389.2h0M307.5 1399.1h0M316.8 1385.1h0M296.8 1399.1h0M261.2 1385.1h0M331 1380h0M337 1378.5h0M261.3 1385h0M239.2 1380h0M353 1381.6h0M317.7 1379.7h0M334 1381.7h0M293.7 1398.3h0M351.1 1394.5h0M288.7 1395.7h0M317.3 1388.8h0M269.6 1380.8h0M269.5 1380.3h0M279 1387.3h0M314.5 1385.8h0M277.9 1381.1h0M246.7 1377.4h0M272.4 1383.7h0M333.9 1386.5h0M317.8 1381.2h0M284.1 1391.9h0M255.7 1389.8h0M355.8 1389.4h0M334.5 1395h0M238.4 1377.4h0M357.4 1385.6h0M335.6 1386.7h0M341.3 1382.8h0M346.5 1390h0M263.3 1386h0M320.1 1376.3h0M380.1 1391.4h0M327.9 1386.1h0M308.7 1398.5h0M345.9 1382.6h0M316.6 1383.6h0M307.5 1398h0M361.1 1379.9h0M278.2 1381.1h0M342.7 1383.6h0M329 1376.5h0M285 1390.2h0M354.3 1384.4h0M344.5 1392h0M270.9 1391.9h0M187.1 1396.3h0M328.8 1394.7h0M337.4 1382.2h0M327.7 1378h0M278.2 1391.7h0M249.8 1392.5h0M253.5 1386h0M296.7 1399.3h0M312.7 1395.3h0M337.3 1381.5h0M252.1 1388.1h0M361.8 1387h0M268.9 1392.5h0M353.1 1381.4h0M369.9 1385.5h0M368.2 1383.8h0M263.3 1381.3h0M288.4 1395.4h0M318.7 1376.5h0M235.7 1379.9h0M258.7 1389.1h0M311.4 1396h0M350.3 1387.7h0M284.2 1391.1h0M274.2 1386.2h0M322.7 1388h0M253.3 1390.3h0M338.2 1380.9h0M273.2 1381h0M233.8 1385.1h0M350.1 1380.2h0M326.3 1393.4h0M349.5 1383.4h0M231.5 1394.2h0M251.6 1382.9h0M299.5 1399.7h0M351 1376.9h0M369.7 1381.3h0M320.2 1386.1h0M293.1 1398.2h0M348.1 1391.1h0M333.1 1384.7h0M365.5 1386.7h0M296.1 1399.3h0M347.3 1376.1h0M336.5 1386.8h0M323.9 1388.6h0M321.1 1379h0M322.8 1381.1h0M330.7 1376.4h0M247.7 1383.8h0M255.6 1380.8h0M248.7 1378.8h0M343.8 1384.8h0M348.1 1385.4h0M295.2 1399.5h0M237.7 1391h0M269.3 1377.7h0M354.1 1378.2h0M272.9 1392.7h0M351.7 1391.7h0M257.3 1377.6h0M324 1377.4h0M301.3 1399.8h0M268.8 1383.8h0M484.5 1389.8h0M244.9 1377h0M356.5 1390h0M358.4 1381h0M310.8 1392.6h0M303.9 1399.2h0M314.5 1385.8h0M366.2 1377.9h0M255.1 1376.2h0M364.1 1390.3h0M248.5 1377.9h0M326.7 1389.8h0M338.1 1382.1h0M304.5 1398.9h0M329.2 1376.2h0M292.3 1397.9h0M253.5 1378h0M310.8 1394.2h0M337.8 1391.4h0M256.4 1393.7h0M270.5 1386.6h0M359.2 1380.3h0M279 1392h0M319.9 1388.2h0M391.6 1399.4h0M267.2 1380.8h0M344.1 1380h0M258.6 1379.2h0M354.4 1385.8h0M282.6 1388.5h0M326.6 1383.7h0M275.5 1385.1h0M265.3 1382h0M346 1381h0M360.6 1383.9h0M255.3 1394.2h0M270.4 1382.8h0M321.4 1377.9h0M341.7 1375.8h0M364.8 1376.4h0M304.7 1399.1h0M345.1 1380.8h0M261.9 1388.8h0M335.1 1383.7h0M338.9 1378.9h0M295.2 1399.1h0M253.5 1379.2h0M273.3 1380.3h0M351.3 1376.5h0M333.8 1376.7h0M474.4 1380.7h0M165.6 1385.5h0M138.1 1385.7h0M328 1389.7h0M321.2 1376.7h0M264.2 1389h0M232.7 1375.7h0M241.9 1393.3h0M357 1391.9h0M286.3 1393.2h0M294.9 1398.5h0M252.9 1381.3h0M350.4 1379.3h0M338.7 1382.8h0M244.2 1377.8h0M281.2 1392.1h0M242.9 1391.7h0M342.1 1386.9h0M267.4 1380.4h0M314.8 1388.6h0M305.2 1398.6h0M382.2 1390.5h0M242.3 1380.5h0M272.1 1376.6h0M347 1392.2h0M322.9 1381.8h0M226.4 1388.3h0M307.8 1397.1h0M327.3 1391.2h0M245.8 1377.9h0M337 1379.3h0M262.4 1385.7h0M334.6 1381.5h0M286.8 1396.3h0M262.5 1388.4h0M342.2 1389.2h0M356.6 1378.4h0M332.9 1381.9h0M350.3 1376h0M260.2 1377.1h0M368 1380.8h0M333.4 1382.9h0M480.1 1397.9h0M331.7 1376.8h0M254.2 1390.4h0M316.8 1380.3h0M294.7 1398.4h0M325.4 1391h0M348.5 1383.2h0M341.6 1389.9h0M354.7 1386.7h0M279.6 1385.9h0M376 1376.4h0M256.4 1378.6h0M253.1 1385.1h0M283.4 1393.3h0M212.2 1383.3h0M338.6 1376.9h0M347.2 1381.9h0M245.6 1389h0M343.6 1379.6h0M338.3 1379h0M345 1378.3h0M277.8 1384.7h0M285.6 1390.9h0M323.2 1377h0M244.4 1388.9h0M323.4 1394.7h0M246.4 1383h0M277.2 1381.2h0M326.2 1376.2h0M324.3 1376.5h0M374.1 1388.1h0M301.4 1399.8h0M347.9 1376.8h0M231 1379.9h0M355.7 1380h0M335.8 1385.3h0M313.6 1391.9h0M339.8 1379.9h0M352.1 1379.5h0M274.2 1383.5h0M315.1 1388.7h0M258.9 1381.7h0M314.8 1393.9h0M341.3 1390.9h0M273.3 1380.7h0M319.4 1377.1h0M259 1383.3h0M341.9 1378.8h0M336 1382.9h0M323.3 1376.2h0M398.7 1377h0M274 1387.3h0M342.3 1383.9h0M270.1 1387.8h0M323.4 1376.9h0M279.4 1383.6h0M344 1380.7h0M320 1387.2h0M332.8 1387.2h0M293 1398.6h0M293.8 1398.1h0M353.1 1382h0M326.5 1388.9h0M141 1394.3h0M320.5 1381.2h0M359.4 1379h0M370.4 1388.9h0M304.7 1398.9h0M333.8 1377.1h0M256 1388.8h0M265.4 1392.6h0M263.4 1389.6h0M331.7 1383.1h0M268.9 1396.5h0M315.1 1392.3h0M352.6 1383.8h0M258.5 1376.3h0M308.6 1398.1h0M318.6 1385h0M317.6 1382h0M281 1384.7h0M285.4 1393.2h0M361 1379h0M355.5 1380.8h0M246.1 1376.9h0M246.8 1382.7h0M467.6 1375.5h0M359 1378.1h0M314.3 1392h0M343.9 1388.9h0M269.6 1381.4h0M281.5 1393.2h0M262.6 1390.7h0M342.4 1386.4h0M257.1 1391.3h0M263.7 1378.1h0M308 1396.4h0M305.9 1398.5h0M363.1 1379.2h0M321.8 1383.5h0M330.1 1379.2h0M257 1378.1h0M348.8 1380.8h0M261.5 1391.9h0M261.3 1378h0M289.2 1396.1h0M212.6 1392.7h0M332.8 1381h0M347.4 1382.5h0M284.7 1390.7h0M261 1380.9h0M257.2 1388.2h0M318.6 1391.9h0M333.7 1383.5h0M295.4 1398.6h0M311.3 1393.2h0M332.2 1378.9h0M251.4 1391.3h0M281.3 1389.4h0M361 1377h0M275.4 1381.7h0M327.1 1377.3h0M306.7 1398h0M135.8 1393h0M318.5 1387.9h0M389.8 1398.4h0M311.4 1397.9h0M250.3 1378.3h0M338.2 1387.5h0M325.4 1376.6h0M386 1377.4h0M313.7 1387.3h0M389.2 1382.8h0M336.8 1377.4h0M343.6 1377.4h0M272 1377.7h0M335.1 1390.8h0M280.9 1384.6h0M363.9 1383.3h0M233.4 1379.3h0M287.9 1398.2h0M264.3 1379.3h0M324 1383h0M357.5 1378.9h0M273.1 1377.2h0M263.7 1378.2h0M251.7 1390.6h0M347.6 1377h0M278.1 1384.9h0M328.9 1392.2h0M255.1 1388.3h0M324.1 1378.3h0M374.8 1385.4h0M349.7 1381h0M311.9 1392.8h0M332.1 1382h0M203 1390.9h0M319 1376.3h0M362 1382.9h0M127.4 1393.2h0M333.6 1392.7h0M251.7 1375.7h0M360.4 1379.4h0M256.4 1378.3h0M254 1386.8h0M240.5 1380.4h0M322.3 1387h0M253.1 1387.7h0M314.3 1395.1h0M322 1378.3h0M325.5 1392.2h0M285.3 1393.1h0M337.3 1389.1h0M383.2 1389.6h0M314 1387.8h0M331.1 1378.6h0M274 1383h0M344.8 1378.3h0M331 1376.6h0M365.8 1385.4h0M304.9 1398.9h0M319.2 1379.6h0M327.3 1379.3h0M304.6 1399.4h0M319.9 1379h0M267.1 1383.9h0M332.6 1376.8h0M329.9 1383h0M347.5 1395.5h0M276.8 1384.3h0M253.4 1376h0M395.6 1393.3h0M348.4 1377.6h0M299.3 1399.7h0M249.5 1380.6h0M335.6 1377.8h0M262.4 1379.2h0M330.7 1378.2h0M253.6 1380.6h0M254.3 1376.6h0M238 1376.5h0M273.4 1376.5h0M343.4 1377h0M285.7 1392.1h0M371.5 1384.8h0M248.8 1377.2h0M315.5 1384.6h0M433.2 1395.9h0M309.9 1397.8h0M355.7 1391.5h0M325.8 1378h0M361.6 1376.8h0M355.2 1385.2h0M330.8 1378h0M360.6 1378.3h0M328 1376.3h0M360.9 1392.4h0M484.7 1392h0M309.6 1394.3h0M355.4 1378.5h0M323.3 1379.7h0M333 1395h0M318.3 1387.7h0M359.5 1387.5h0M337 1380.4h0M247 1386h0M266 1378.6h0M360.2 1386.4h0M282.1 1389.4h0M307.7 1396.7h0M295.5 1398.6h0M409.5 1390h0M255.3 1375.7h0M302 1399.8h0M260.7 1378.8h0M326.3 1376.7h0M283 1392.9h0M245.3 1382.2h0M250.4 1378.9h0M254.5 1380h0M321.6 1391h0M311.2 1396.4h0M364.6 1380.7h0M360.3 1379.1h0M289.9 1396.4h0M269.5 1376.5h0M267 1378.6h0M254 1378.5h0M338.1 1389h0M279.9 1385.6h0M267.2 1380.4h0M251 1380.1h0M331.8 1385.4h0M277.7 1386.6h0M363.6 1376.5h0M326.8 1390.5h0M340.4 1392.2h0M333.3 1383.6h0M320.2 1389h0M360.7 1386.9h0M358.5 1378.4h0M250 1396.3h0M346.8 1383.4h0M246.9 1386.7h0M346.7 1392.6h0M303.1 1399.5h0M236.5 1381.6h0M285.2 1394.5h0M263.1 1379.7h0M337.3 1385.2h0M309 1395h0M275.6 1376.2h0M348.7 1377.4h0M338.1 1378.4h0M410.3 1396.7h0M264.7 1382.4h0M265.8 1375.6h0M359.9 1383.1h0M268.6 1384.2h0M360.2 1386.8h0M304.9 1399.5h0M367.1 1384h0M309.3 1397.5h0M265.9 1383.9h0M332.8 1381.6h0M313.9 1392.2h0M310.7 1396.2h0M336.5 1396.7h0M439.2 1375.8h0M250.2 1379.1h0M263.2 1378h0M346.8 1378h0M141.9 1385.2h0M255.9 1389.8h0M395.9 1399.1h0M242.8 1382.9h0M325.1 1383.8h0M369 1394.6h0M304.8 1399h0M445.7 1388.9h0M352.7 1379.2h0M273.4 1382.8h0M360.7 1382.2h0M321 1389.4h0M397.7 1380.8h0M255.4 1385.1h0M337.4 1386.8h0M266.9 1375.9h0M269.3 1381.3h0M222 1395.4h0M346.1 1376.3h0M334.9 1377.5h0M348.8 1394.9h0M253.5 1384.8h0M341.5 1380.4h0M269.9 1391.5h0M343.4 1380.7h0M321.2 1377.6h0M353 1379.5h0M346.6 1390.1h0M343.6 1390.6h0M337.1 1377.7h0M243 1377.6h0M207.3 1378.7h0M280.4 1395.9h0M266.6 1394h0M306.5 1399.6h0M327.7 1377.4h0M330.1 1389.8h0M334.7 1387.8h0M275.3 1391.2h0M357 1379.4h0M361.1 1389.3h0M363 1392.9h0M254.5 1377.5h0M348.6 1383h0M331.5 1375.9h0M333.3 1386.1h0M300.8 1399.8h0M340.3 1375.7h0M273.3 1389.1h0M249.6 1378.4h0M313.2 1397.3h0M340.1 1386.7h0M255.1 1377.4h0M322.8 1380h0M262.6 1377h0M252.8 1378.4h0M268.6 1378.8h0M309.6 1396.6h0M392.9 1397.8h0M283.3 1390.7h0M321.1 1376.4h0M282 1386.7h0M346.8 1386.8h0M255.8 1386.9h0M333.6 1380h0M328.3 1381.9h0M254.5 1376.8h0M269.4 1382.5h0M264.2 1387.4h0M340.4 1378.1h0M347.7 1386.6h0M350.4 1378.5h0M334.9 1376.5h0M303.9 1399.2h0M321.9 1387.9h0M331.8 1377.2h0M249.5 1385.1h0M341.5 1382.7h0M374.7 1384.5h0M281.6 1393.1h0M273.1 1386h0M352.2 1385.3h0M340.2 1380h0M326.5 1381.5h0M362 1388.8h0M344.4 1388.9h0M269.2 1376.9h0M271.9 1375.9h0M341.3 1395.4h0M261.3 1382.6h0M336.2 1388.2h0M263.2 1378.6h0M313.1 1393.6h0M317.2 1383.3h0M348.2 1380.1h0M288.4 1396.3h0M315.2 1397.2h0M343.4 1384.2h0M373.9 1375.9h0M332.9 1379.4h0M264.4 1378.8h0M365.7 1381.3h0M334.2 1382h0M355.4 1387.9h0M356.7 1376.8h0M263.2 1389.1h0M336.2 1387.5h0M265.3 1379.1h0M304.8 1398.9h0M260.1 1378.4h0M360.3 1382.9h0M283.1 1389.2h0M260 1376.7h0M247.4 1382.3h0M255.8 1380.6h0M195.6 1398.5h0M276.5 1383.6h0M322.9 1380.8h0M352.5 1382.4h0M310.3 1395.4h0M334.4 1377.9h0M279.7 1388.8h0M326.3 1379.4h0M345 1387.2h0M290.8 1396.9h0M326.7 1386.1h0M325.1 1383.1h0M319.9 1380.3h0M386.9 1386.4h0M259.6 1380.4h0M261.9 1381h0M254.4 1386.6h0M276.7 1380.2h0M317.7 1378.3h0M334.9 1381h0M354.6 1380.7h0M223.8 1387.9h0M289.6 1395.1h0M319.3 1388.8h0M365.8 1385.1h0M270.8 1380.6h0M256.1 1378.3h0M252.4 1386.2h0M336.9 1385.6h0M264.3 1387.8h0M286.8 1392.5h0M231.6 1389.8h0M360.6 1386h0M355.6 1380.6h0M269.3 1383h0M251.9 1377.4h0M303.7 1399.3h0M328.4 1379.1h0M367.9 1379h0M139.1 1391.8h0M268.5 1382.8h0M260.3 1379.7h0M351.3 1395.1h0M364.6 1390h0M314.2 1389.1h0M362.1 1379.7h0M224.5 1383.7h0M316 1384.6h0M295.8 1398.7h0M259.9 1388.8h0M321.8 1378.1h0M349.6 1384.5h0M335.1 1377.2h0M261.5 1386.4h0M310.5 1397.2h0M248 1377h0M319.2 1380.1h0M335 1381.8h0M287.7 1396.3h0M322.7 1379.5h0M348.9 1383.7h0M285 1392.7h0M350.9 1383h0M360.2 1385.2h0M361.5 1388h0M257 1395.2h0M307.4 1397.7h0M335.3 1377.3h0M313.6 1393.3h0M278.1 1387.2h0M343.3 1380h0M381.4 1394h0M318.9 1379.6h0M265.9 1375.7h0M258.1 1379.1h0M363.2 1383.4h0M336.6 1379.5h0M278.7 1394.7h0M352.3 1375.9h0M269.3 1384.4h0M246.6 1384.7h0M271 1378.5h0M296 1399.1h0M303.1 1399.7h0M316.8 1383.5h0M356.1 1380.4h0M312 1395.2h0M324.6 1379.5h0M165 1391.2h0M443.9 1387h0M338.9 1376.2h0M328.2 1385.5h0M351.6 1387.8h0M349.7 1382.5h0M265.1 1390.4h0M308.5 1397.5h0M346.6 1381.5h0M326.1 1383h0M376.3 1387.6h0M246.6 1382.8h0M262 1375.7h0M343 1394h0M315.2 1384.3h0M372.1 1390.4h0M361 1390.1h0M333.9 1381.8h0M236.6 1382.9h0M258.2 1379.3h0M275.6 1386.2h0M272.3 1377h0M260.3 1396h0M325.2 1382.9h0M345.9 1380.2h0M335.5 1388.5h0M272.1 1382.3h0M313.4 1390.4h0M286.8 1392.8h0M309.3 1394.8h0M338.3 1379h0M284.4 1391.4h0M260.1 1386h0M339.8 1378.9h0M295 1398.7h0M322.6 1383.7h0M294.3 1398.5h0M378.7 1379.7h0M320.5 1381.6h0M341.7 1377.9h0M231.9 1381h0M387.1 1399.7h0M322.7 1390.1h0M324.6 1390.2h0M300.7 1399.8h0M264.3 1385.3h0M344.9 1379.7h0M241.5 1381.8h0M352.2 1379.7h0M358.3 1378.7h0M237 1382.2h0M243.8 1395.1h0M335.5 1376.4h0M297.1 1399.6h0M302.7 1399.6h0M331.3 1379.4h0M256.9 1380.6h0M365.1 1376.4h0M353.3 1378.3h0M368.3 1377h0M336.1 1377.4h0M342.3 1380.4h0M319.1 1390.4h0M260.6 1383h0M329.3 1378.5h0M334.3 1385.2h0M370.4 1379.6h0M271.2 1382.5h0M247.4 1377.7h0M351.4 1382.5h0M389.9 1382.2h0M355.6 1376.6h0M353.8 1396h0M255.5 1395.2h0M284.4 1397.2h0M366.9 1379.3h0M262.6 1381.1h0M255.8 1377.7h0M254.3 1381.9h0M297.6 1399.4h0M269.1 1377.5h0M352.3 1390.5h0M272.5 1394.1h0M334.6 1380.9h0M249.9 1391.1h0M319.4 1382.5h0M305.6 1398.5h0M246.3 1390.8h0M313.6 1393.9h0M321.1 1391.4h0M380.1 1378.6h0M352.3 1383.9h0M341.3 1380.7h0M275.3 1382.8h0M328.3 1388.4h0M345.2 1389.1h0M323.4 1383.7h0M356.8 1390.6h0M204.2 1387.4h0M440.9 1376.8h0M344 1380.1h0M251.3 1375.6h0M258.7 1378.9h0M330.7 1376.3h0M438.8 1387.3h0M270.4 1390.2h0M293 1399.6h0M301.1 1399.8h0M269.5 1379.8h0M354.2 1378.6h0M311.9 1393.9h0M423.6 1388.6h0M253.9 1387.2h0M310.2 1393.8h0M350.1 1382.1h0M354.6 1378.2h0M267.5 1391.8h0M287 1393.2h0M306.2 1398.7h0M329.7 1388.2h0M266.7 1377.3h0M343.6 1377.5h0M350.6 1385.8h0M261.5 1380.6h0M242.9 1381.3h0M234.9 1376.3h0M356.1 1380.3h0M275.2 1384.9h0M349.6 1378.1h0M300.7 1399.8h0M253.3 1378.3h0M336.2 1380.3h0M261 1379.2h0M304.9 1398.9h0M167.5 1385.5h0M332.5 1383h0M315.1 1394.2h0M313 1393h0M306.7 1398.3h0M337.9 1392.9h0M278.3 1386.5h0M385.1 1398.9h0M318.2 1392.3h0M255.7 1386.8h0M196.4 1395.1h0M285.1 1394.9h0M308 1397h0M370.9 1382h0M320.5 1375.6h0M422.6 1383.1h0M397.4 1388.8h0M285.3 1396.5h0M271.4 1390.9h0M335.7 1388.3h0M323.2 1376.2h0M157.9 1397.3h0M245.6 1381.9h0M302.2 1399.7h0M348.6 1391h0M309.9 1395.4h0M343 1382.4h0M263.5 1385.4h0M255.5 1392.3h0M346.3 1379.5h0M330.8 1388.7h0M270.4 1384.1h0M269.9 1392.6h0M222.2 1383.2h0M350.4 1383h0M264.4 1397.7h0M320.4 1394.2h0M254.7 1383.1h0M286 1392.2h0M260.2 1392.2h0M267.6 1380.7h0M235.8 1377.8h0M270.1 1376.9h0M399.4 1398.8h0M350.5 1384.6h0M354.8 1385.4h0M383.6 1386.2h0M336.4 1392.5h0M303.2 1399.6h0M235.7 1375.8h0M327.5 1379.6h0M261 1377.5h0M259.7 1383.3h0M271.8 1394.2h0M354.9 1376.5h0M312.7 1391.9h0M298.7 1399.6h0M401.4 1380.7h0M231.4 1379.6h0M283 1388.4h0M363.5 1380.8h0M317.7 1392.3h0M342.7 1377.1h0M285.4 1394h0M266.4 1377.7h0M335.5 1383.2h0M341.4 1378.2h0M326.4 1390.1h0M335.7 1389.1h0M323.1 1381.9h0M360.4 1382h0M308.8 1399h0M277 1378.9h0M475.5 1394.6h0M366.3 1382.3h0M348.3 1378.8h0M253.2 1385h0M319.3 1386.7h0M433.1 1379.9h0M344.5 1388.7h0M278.5 1382.5h0M246.1 1376.4h0M249.2 1379.5h0M129.6 1389.6h0M275.9 1381.9h0M277.4 1380.9h0M349.7 1377.1h0M332.7 1378.2h0M281.1 1389.6h0M298.2 1399.6h0M303.5 1399.4h0M327.4 1390h0M322.1 1396h0M351.2 1387.8h0M322.8 1397.1h0M293.8 1398.5h0M269.9 1388.1h0M386.3 1385.1h0M230.1 1376.6h0M277.1 1380.3h0M182.1 1397.6h0M261.9 1386.3h0M357.9 1381.6h0M257.7 1377.8h0M347 1391.1h0M318.6 1379.3h0M282.9 1389.1h0M287.1 1396.6h0M374 1383.8h0M262.8 1376.7h0M324.8 1376.1h0M268.7 1379.7h0M334.6 1377.1h0M282.7 1395.6h0M280.3 1388.9h0M395.9 1388.8h0M269.6 1386.9h0M370.1 1380.7h0M272.3 1376.6h0M366.6 1379.4h0M272.1 1385.3h0M346.4 1386.2h0M308 1396.6h0M374.6 1383h0M319 1395.2h0M334.2 1383.3h0M326.6 1382.5h0M303.5 1399.6h0M271.3 1382.3h0M300.9 1399.8h0M304 1399.3h0M325.7 1383h0M323.6 1383.6h0M258.3 1393.8h0M358.8 1386.8h0M346 1384.9h0M351.4 1382.6h0M252.4 1383.4h0M316.6 1384.1h0M375.9 1377.3h0M332.6 1387.5h0M276.1 1378.5h0M251 1397.8h0M455.3 1381.3h0M316.7 1387.3h0M245.7 1390.2h0M303.8 1399.7h0M253 1387.4h0M300.1 1399.8h0M263.9 1385.6h0M254.4 1389h0M367.6 1385.2h0M323.7 1379.3h0M274.2 1377.7h0M275.8 1376.2h0M273.2 1378.9h0M238.9 1389.6h0M281.3 1387.1h0M281.8 1390.1h0M344.5 1391.3h0M260.9 1381.4h0M357.5 1379.8h0M258.1 1377.7h0M353.7 1384.8h0M306.6 1398h0M325.6 1377.5h0M249.1 1388.9h0M271.9 1378.4h0M354.2 1375.8h0M353.5 1381.5h0M252.4 1376h0M247.3 1382.1h0M338.6 1387.3h0M329.3 1379.1h0M259.6 1377.2h0M412.5 1382.1h0M324.9 1380.8h0M250.1 1381.1h0M260.6 1382.9h0M355.7 1376.2h0M387.3 1388.6h0M222.8 1384.9h0M302.4 1399.7h0M265.2 1376.4h0M352.3 1385h0M263.5 1376.8h0M275.5 1384.6h0M243.2 1379.7h0M310.7 1393.7h0M340.1 1388.3h0M328.1 1377.6h0M326.3 1379.2h0M344.1 1385.4h0M335.9 1390.7h0M349.2 1377.4h0M360.5 1382.2h0M322.1 1379.2h0M334.3 1379.7h0M367.5 1383.1h0M269 1379.6h0M270.1 1385.1h0M233.2 1386.7h0M260.4 1391.9h0M333.8 1384.7h0M336.5 1381.1h0M304.4 1399.4h0M290.6 1397.4h0M291.1 1397h0M323.4 1392h0M273.4 1387.6h0M240.5 1382.2h0M283.1 1388.9h0M268 1377.9h0M336.3 1376.6h0M296.5 1399.2h0M298.5 1399.7h0M339.7 1383.2h0M263.1 1377.4h0M350.6 1383h0M243.5 1383.8h0M295.8 1399.5h0M261.8 1381.6h0M268.6 1376.5h0M307.5 1397.1h0M375.9 1384.2h0M327.9 1382.5h0M304 1399.4h0M320.4 1392.3h0M263.1 1380.2h0M261.1 1375.7h0M331.9 1394.8h0M355.2 1379.3h0M347.6 1382.3h0M297.2 1399.2h0M236.6 1387.8h0M358.2 1376.6h0M304.4 1399h0M343.9 1376h0M248.6 1386.7h0M247.5 1387.4h0M262.1 1389.4h0M249.1 1379.5h0M268.1 1388.3h0M348.3 1378.4h0M356.1 1383h0M275.6 1375.6h0M333.6 1397.2h0M350.4 1388.6h0M302.5 1399.7h0M282 1388.6h0M468.7 1392.8h0M483.4 1395.8h0M303.9 1399.5h0M283.6 1390.6h0M347.3 1379h0M324 1378.3h0M249.3 1382.7h0M239.2 1377.7h0M260.1 1382.5h0M260.1 1379.2h0M339.7 1390.6h0M299.6 1399.7h0M378.8 1376.4h0M216.1 1399h0M267.7 1384.7h0M371.4 1384.6h0M260.6 1383.6h0M397.1 1399.8h0M359 1379.2h0M274.4 1381.9h0M273 1387.5h0M329.3 1376.1h0M272.7 1395h0M259 1377.4h0M344.6 1396.5h0M340.8 1375.6h0M323.6 1377.6h0M265.6 1389.6h0M239.5 1392h0M370.8 1386.4h0M364.9 1392.3h0M321.9 1385.2h0M281.1 1392.2h0M274.3 1389.4h0M348.8 1383.1h0M310.3 1397.8h0M254.5 1387.1h0M295 1398.4h0M312.4 1391.5h0M139.6 1391.6h0M340.5 1379.3h0M340.4 1393.6h0M185 1391.5h0M266.6 1387.7h0M342.5 1395.1h0M359.3 1382.7h0M267.5 1387.3h0M233 1375.8h0M230 1379h0M352.7 1385.8h0M314 1386.8h0M369.1 1376.9h0M369 1378.5h0M268.2 1376.7h0M326.5 1389.4h0M349.6 1377h0M315.5 1384.1h0M272.9 1390h0M330.6 1388h0M242 1386.7h0M289.7 1395h0M264.7 1382.8h0M296.9 1399.4h0M296.1 1399.1h0M333.8 1389.2h0M334.2 1387.4h0M380.4 1384h0M256.3 1396h0M332 1380.9h0M241 1385.7h0M327 1375.9h0M270 1375.8h0M127.3 1395.6h0M252.7 1382.4h0M336.1 1380.2h0M272.8 1379.4h0M278.7 1381.4h0M266.2 1381.6h0M343.3 1375.6h0M255.6 1379.8h0M302.9 1399.6h0M297.7 1399.5h0M247.6 1387.2h0M478.2 1392.1h0M342.9 1393.2h0M313.8 1387.7h0M313.9 1387.4h0M271.6 1386.5h0M305.4 1398.5h0M355.3 1378.9h0M297.6 1399.4h0M341 1388.4h0M343.7 1387.7h0M322.6 1388.4h0M190.6 1392h0M341 1377.4h0M356.2 1391.6h0M322.5 1377.9h0M364.1 1377.2h0M238.7 1378.6h0M292.4 1399.1h0M483 1386.2h0M235.8 1377.9h0M345 1379h0M321.6 1377.3h0M355.3 1384.6h0M350 1375.8h0M369 1377.7h0M251 1388.4h0M353.8 1377.6h0M314.7 1386.9h0M256.1 1379.3h0M272.1 1376.6h0M295.9 1399.2h0M258.8 1391.9h0M268.7 1394.5h0M225.6 1384.2h0M345.6 1383.6h0M321.5 1382.3h0M321.4 1378.2h0M333.2 1394.6h0M319.7 1376.8h0M355.4 1378.8h0M158.8 1398.8h0M345.1 1377.2h0M253 1379h0M252 1381.2h0M318.5 1385.3h0M297.3 1399.4h0M367.9 1376.4h0M279.6 1383.3h0M308.4 1396h0M351.5 1389.7h0M332.2 1379.8h0M229.3 1386.8h0M333.9 1385.8h0M291.5 1396.6h0M316.1 1394.3h0M326.2 1394.3h0M302.4 1399.7h0M382.6 1391.2h0M251.2 1382.6h0M314.8 1392.2h0M316.5 1387.2h0M265 1396.2h0M329.2 1385.2h0M331.4 1378.8h0M274.5 1384.1h0M314.4 1388.4h0M334 1394.8h0M376 1380.4h0M269.2 1384.9h0M321 1391.1h0M327.1 1383.5h0M256.9 1383.1h0M328.5 1381.2h0M283.2 1390.5h0M333.8 1382.9h0M360.2 1383h0M249.8 1376.6h0M363.7 1378.2h0M427.2 1377.5h0M344.6 1375.6h0M342 1387.1h0M339.5 1380.9h0M345.6 1378.3h0M252.7 1383.6h0M349.4 1383.5h0M250.9 1376.8h0M327.6 1381.9h0M318.3 1378h0M277.7 1397.2h0M330.9 1386.6h0M278.5 1381.8h0M344.6 1387.4h0M350.1 1393.1h0M247 1376.8h0M395.5 1390.3h0M356.7 1384.8h0M144.6 1396.7h0M237.4 1384h0M374.6 1388.9h0M354.7 1380.5h0M364.5 1391.1h0M256.9 1393.3h0M329.8 1376.2h0M363.8 1393.3h0M304.9 1399.3h0M353.9 1394.9h0M316.4 1388.5h0M268.6 1384.2h0M315.8 1388.8h0M324.6 1378.3h0M332.8 1375.6h0M312.1 1395.2h0M334.5 1392.6h0M358.1 1378.8h0M350.8 1378.3h0M360.7 1384.5h0M333.4 1377.8h0M333.3 1379.4h0M335.4 1389.7h0M322.7 1384.2h0M367.5 1375.6h0M267.7 1388.7h0M426.7 1392h0M302.4 1399.7h0M370.2 1383.1h0M331.2 1379h0M254.8 1383.1h0M263.6 1376.8h0M310.1 1394.2h0M322 1393.7h0M329.9 1380.4h0M470.3 1380.4h0M289.1 1394.8h0M233.1 1377.1h0M329.8 1376.2h0M265.5 1384.8h0M265.1 1383.8h0M137.8 1389.7h0M320.7 1385.8h0M328.7 1383.6h0M371.6 1380.3h0M370.8 1386.1h0M323.6 1383.4h0M318.7 1389.8h0M272.7 1380.5h0M270.6 1393.4h0M328.5 1378.3h0M303.2 1399.5h0M260.9 1390h0M371.3 1389.2h0M305.9 1398.8h0M305.4 1398.6h0M244.2 1394.3h0M319.6 1376.1h0M349.7 1389h0M328.2 1382.3h0M264.3 1380.3h0M234.6 1377.2h0M338.7 1385.3h0M339.1 1381.5h0M328.3 1387h0M331.1 1377.7h0M287.9 1393.4h0M322.4 1387.6h0M369.3 1381.3h0M255.8 1377.9h0M341.5 1383.4h0M342.7 1379h0M337.2 1385.4h0M239.2 1382.8h0M328.5 1386.5h0M268.4 1395.7h0M278.7 1384h0M252.1 1382.2h0M358.5 1385.1h0M391.6 1397.5h0M243.9 1378.8h0M339.4 1385.7h0M359.1 1388.4h0M369.9 1381.9h0M346.7 1384h0M318 1385.6h0M287.4 1394.5h0M283.5 1388.4h0M332.9 1379.4h0M290.3 1396.8h0M341.7 1379.9h0M281.5 1385.9h0M269.3 1382.8h0M332.5 1392.4h0M189.3 1396h0M343.5 1385.7h0M294.8 1398.4h0M332.6 1379.9h0M318.6 1387.6h0M375.6 1388.7h0M287.6 1395h0M276.5 1380.2h0M337.3 1392.3h0M258.3 1389.9h0M339.8 1379h0M256.5 1376h0M253 1376.4h0M353.1 1375.7h0M351.8 1377.9h0M248 1380.6h0M247.4 1378.1h0M326.1 1383.2h0M298.6 1399.6h0M319.5 1392.7h0M325.9 1390.8h0M332.8 1385.9h0M327.1 1390.8h0M307.2 1397.7h0M250.2 1395.2h0M346 1379h0M262.4 1378.2h0M309.1 1395.4h0M315.4 1389.1h0M253 1378.3h0M329.6 1391.5h0M332 1383.7h0M342.3 1392.4h0M351.7 1382h0M251 1394.9h0M304.2 1399.1h0M277.4 1388.3h0M341.3 1389.1h0M350.7 1376h0M274.1 1378.2h0M264.3 1386.2h0M364.2 1394h0M255.8 1381.8h0M345.8 1387.9h0M356 1388.9h0M372.4 1388.9h0M279.1 1388.7h0M324.5 1380h0M253.4 1380.8h0M385.4 1397.7h0M361 1376.3h0M331.5 1387.1h0M270 1375.7h0M457.9 1395.2h0M334.1 1381.9h0M261.7 1386.4h0M339.3 1380.4h0M364 1377.8h0M331.7 1382.8h0M337.6 1389.1h0M271 1388h0M254 1382h0M285.6 1394.2h0M322.8 1380.6h0M259.4 1384.5h0M280.4 1390.5h0M379 1389.1h0M147.4 1394h0M342.7 1376.6h0M174 1395.8h0M340.7 1382.2h0M276.6 1377.6h0M262.9 1383.3h0M320.5 1387.2h0M365.5 1381h0M338.3 1379.7h0M262.7 1378h0M367.5 1377.6h0M336.2 1380.8h0M353.5 1382.5h0M278.8 1394.8h0M362.1 1376.7h0M342 1380h0M221.7 1375.8h0M277.9 1380.9h0M305.2 1398.7h0M267.5 1384.4h0M257.8 1378.2h0M232.5 1384.3h0M345.3 1390.4h0M390.6 1397.6h0M270.4 1395.6h0M242.6 1377.8h0M348.1 1378.2h0M345.5 1381.8h0M344 1381.9h0M326.3 1385.5h0M313.1 1394.6h0M350.6 1380.5h0M327.8 1391.3h0M342.1 1377h0M343 1393.3h0M341.2 1381.4h0M270.6 1382.9h0M253.5 1382.8h0M341.2 1384.5h0M336.9 1382.9h0M322.3 1389.2h0M259.4 1377h0M320.7 1377.1h0M355.7 1385.5h0M240.3 1391.8h0M302.1 1399.8h0M182 1376h0M337.6 1375.6h0M320.1 1379.3h0M355.8 1392.6h0M247.4 1382.6h0M472 1390h0M368.4 1385.7h0M239.8 1385.5h0M322.9 1378.2h0M338.7 1380.5h0M282.5 1393.9h0M290.5 1397.5h0M269.5 1386.1h0M264.1 1375.8h0M265.2 1383.2h0M284.1 1391.3h0M346.8 1397.3h0M314.5 1389.5h0M328.4 1386.1h0M251.7 1378.6h0M326.6 1395.6h0M364.4 1376h0M264.7 1393.6h0M353 1377.4h0M302.7 1399.7h0M366.8 1390.4h0M363 1383.6h0M356.8 1394.3h0M195.5 1389.4h0M350.9 1376.8h0M364.9 1385.5h0M248.8 1376h0M412.7 1399.6h0M339.8 1386.6h0M295.1 1398.6h0M313.7 1389.9h0M300.5 1399.8h0M234.2 1377.2h0M321.3 1376h0M326.4 1375.9h0M313.3 1388.9h0M376.1 1398.5h0M325.2 1393.7h0M261 1381.5h0M327 1388.7h0M351.6 1391.2h0M262.9 1384.9h0M371 1379.2h0M340.2 1376.4h0M311.4 1391.9h0M291.8 1396.9h0M483.9 1378h0M351.4 1380.3h0M323.6 1377.9h0M275.9 1384.8h0M263.1 1388.9h0M253.5 1390.1h0M338.3 1379.2h0M252.9 1381.5h0M347.4 1378.1h0M386.3 1379.4h0M321.8 1377.6h0M280.8 1393.4h0M356.4 1375.8h0M245.1 1382.8h0M306.3 1398.5h0M353.4 1397.4h0M281 1391.6h0M273.3 1392.1h0M309.3 1398.1h0M255.5 1378.3h0M256.9 1381.7h0M336.5 1383.1h0M362 1381.7h0M345.9 1388.4h0M372.6 1386.4h0M349.4 1377.7h0M290.6 1395.9h0M347.1 1384.8h0M305.4 1398.7h0M240.2 1389.4h0M306.2 1398.3h0M331.2 1375.8h0M238.6 1378.8h0M319.8 1385.6h0M260.5 1394.2h0M318.5 1385.7h0M268 1376.1h0M332.6 1376.4h0M294.5 1399.4h0M309.6 1394.3h0M316.7 1389.4h0M309.8 1396.5h0M268.8 1376.5h0M351 1380.4h0M349.8 1377.7h0M360.5 1381.1h0M322 1378.8h0M323.5 1377.3h0M255.7 1382.5h0M273.4 1379.3h0M264.7 1383h0M309.2 1397.3h0M355.7 1381.1h0M291.1 1397.5h0M254 1383.9h0M367.9 1381.7h0M365.4 1380.9h0M336.5 1376.4h0M276.8 1378.8h0M328.9 1385h0M346.9 1384.1h0M255.2 1393.8h0M250.2 1383.5h0M315.7 1383.4h0M318.1 1389.5h0M332.8 1379h0M354.6 1389h0M279.1 1388.3h0M341.2 1376.4h0M251.8 1380.7h0M238 1378.8h0M322.4 1377.4h0M352.6 1379.1h0M252.6 1380.6h0M233.3 1386h0M248.6 1379.8h0M289.6 1394.9h0M333.6 1380h0M275.2 1387.1h0M326.2 1392.9h0M245.3 1392.1h0M281.7 1389h0M339.3 1384.1h0M383.9 1380.4h0M230.9 1376.7h0M213.2 1385.6h0M320.5 1382.5h0M323 1395.2h0M271.9 1378.2h0M346.6 1382.2h0M330.4 1382.7h0M333 1378.9h0M289.4 1395.6h0M266 1375.9h0M294.6 1399h0M271 1393.5h0M244.8 1377.7h0M335.3 1376.7h0M282.6 1387.1h0M255.6 1383.4h0M331.3 1380.4h0M285 1397.3h0M281.8 1387.8h0M348 1383.6h0M342.8 1377.2h0M279.2 1383.4h0M464.5 1398.9h0M258.4 1380.8h0M275.8 1381.4h0M247.4 1382.5h0M379.6 1376.3h0M342.8 1381h0M251 1382.3h0M298.7 1399.6h0M193.9 1399.3h0M344.1 1387.7h0M330.7 1379.7h0M328.2 1387.6h0M254.9 1376.8h0M175.2 1397.6h0M345.2 1385.5h0M248.8 1383.3h0M221.1 1384.3h0M319.3 1378.2h0M295.7 1399.1h0M279 1384.1h0M329.9 1376.2h0M361.2 1376.8h0M325.5 1375.6h0M354.4 1383.2h0M273 1377.5h0M331.9 1385.6h0M260.5 1385.1h0M355.2 1377.9h0M336.9 1389h0M342.2 1393.7h0M384.9 1377.8h0M277.5 1391.8h0M292.9 1398.8h0M233.3 1379.8h0M387.1 1396.5h0M345.7 1386.7h0M310.4 1396.2h0M250.8 1377.6h0M282.9 1395.7h0M261.6 1394h0M253.1 1381.3h0M301.2 1399.8h0M321.1 1392.8h0M366.9 1378.6h0M252 1384.7h0M353.2 1384.4h0M229.3 1379h0M315.4 1387.3h0M278.3 1381.6h0M356.3 1382.2h0M234.6 1381h0M317.9 1378.2h0M283.1 1390.2h0M226.3 1375.8h0M302.2 1399.7h0M281.9 1390.1h0M324.3 1382.9h0M282.8 1389.7h0M254.1 1387.9h0M331.3 1392.2h0M357 1377.4h0M361.3 1378.9h0M459 1395.5h0M256.2 1386.2h0M299 1399.7h0M348.4 1381.9h0M258 1381.3h0M330.7 1378.9h0M334.9 1379.1h0M303.4 1399.6h0M353 1376.8h0M238.1 1386.4h0M298.3 1399.6h0M271 1388.2h0M313 1393h0M286.3 1396.1h0M349.3 1384.5h0M334.7 1383h0M248.9 1384.1h0M313.3 1391.7h0M241.3 1391.3h0M262 1377.1h0M347.2 1389.4h0M337 1376.4h0M236.7 1378.4h0M366.5 1382.7h0M337 1382.9h0M320.3 1377.6h0M334.2 1379h0M323.1 1383.5h0M357.6 1383h0M330.9 1377.4h0M382.2 1387.7h0M239.3 1390.1h0M278.7 1392.9h0M297.5 1399.5h0M376.9 1377.9h0M338.4 1382.8h0M373.1 1376h0M382.4 1386.6h0M339.8 1387.6h0M309.5 1395.8h0M268.5 1380.2h0M199.1 1395.3h0M284.5 1391.7h0M306 1398.2h0M363 1397.2h0M282.2 1395.3h0M320.8 1379.6h0M366.2 1385.3h0M314.1 1397.3h0M328.7 1385.9h0M317.9 1387.1h0M336.5 1383.7h0M332.2 1388.5h0M357.9 1385.2h0M269.7 1381.3h0M326.8 1382.8h0M275.8 1377h0M348.4 1375.9h0M329 1392.5h0M321.5 1383.1h0M382.4 1383.8h0M222.8 1378.2h0M365 1390.3h0M362.8 1387.7h0M288.6 1394.1h0M319.5 1375.6h0M360.4 1383.6h0M286.4 1395.7h0M312.9 1389.5h0M330.4 1376.8h0M322.4 1375.7h0M335.1 1384.7h0M266.5 1390.6h0M331.6 1380.6h0" stroke="#c0c2c4" stroke-width="5.6" stroke-linecap="round"/>
<path d="M370.8 1053.8h0M558.1 1220.5h0M419.4 1229.3h0M352.1 1237.7h0M382.3 1271.7h0M412.5 1274.7h0M407.5 1298.1h0M348.3 1319.5h0M355.9 1331.7h0M355.9 1338.6h0M381.5 1340.5h0M338.7 1345.1h0M380.4 1354.6h0M386.9 1350.1h0M384.2 1352.7h0M363.2 1348.9h0M354.8 1350.8h0M354.8 1356.6h0M331.8 1357.7h0M339.5 1358.5h0M344.1 1360.4h0M363.2 1361.5h0M367 1363.1h0M376.6 1365.4h0M393.8 1358.5h0M389.9 1359.6h0M397.6 1369.9h0M401.4 1371.8h0M405.2 1373.8h0M324.2 1370.7h0M332.6 1369.9h0M338.3 1368h0M342.2 1369.9h0M346 1366.9h0M349.8 1369.2h0M353.6 1366.1h0M357.4 1368h0M361.3 1370.7h0M367 1371.8h0M378.5 1371.8h0M386.1 1373h0M434.3 1374.5h0M452.3 1373.8h0M451.1 1375.7h0M395.7 1373.8h0M334.5 1373.8h0M347.9 1373.8h0M359.4 1373.8h0M368.9 1373.8h0M336.4 1362.3h0M341 1364.2h0M350.9 1362.3h0M361.3 1364.2h0M382.3 1368h0M388 1373.8h0" stroke="#e1413b" stroke-width="5.8" stroke-linecap="round"/>
<path d="M157.5 1366.1h0M199.6 1307.2h0M237 1165.4h0M245.8 1294.6h0M247 1299.6h0M253.8 1321.4h0M242.8 1350.1h0M250.8 1352h0M253.8 1349.3h0M260 1351.6h0M250 1370.7h0M253.1 1369.9h0M255 1372.6h0M251.2 1372.6h0M248.5 1373.8h0" stroke="#3e5fb0" stroke-width="5.8" stroke-linecap="round"/>
<line x1="278" y1="1037" x2="278" y2="1415.8" stroke="#aaaaaa" stroke-width="1" stroke-dasharray="4 3"/>
<line x1="324.4" y1="1037" x2="324.4" y2="1415.8" stroke="#aaaaaa" stroke-width="1" stroke-dasharray="4 3"/>
<line x1="112" y1="1375.7" x2="579.2" y2="1375.7" stroke="#aaaaaa" stroke-width="1" stroke-dasharray="4 3"/>
<line x1="112" y1="1035.4" x2="112" y2="1416.4" stroke="#231f20" stroke-width="1.5"/>
<line x1="101.3" y1="1399.8" x2="112" y2="1399.8" stroke="#231f20" stroke-width="1.5"/>
<text x="75.3" y="1407.6" font-size="25" textLength="14.6" lengthAdjust="spacingAndGlyphs">0</text>
<line x1="101.3" y1="1306.5" x2="112" y2="1306.5" stroke="#231f20" stroke-width="1.5"/>
<text x="75.5" y="1314.3" font-size="25" textLength="14.6" lengthAdjust="spacingAndGlyphs">5</text>
<line x1="101.3" y1="1213.2" x2="112" y2="1213.2" stroke="#231f20" stroke-width="1.5"/>
<text x="60.8" y="1221" font-size="25" textLength="29.2" lengthAdjust="spacingAndGlyphs">10</text>
<line x1="101.3" y1="1119.9" x2="112" y2="1119.9" stroke="#231f20" stroke-width="1.5"/>
<text x="60.9" y="1127.7" font-size="25" textLength="29.2" lengthAdjust="spacingAndGlyphs">15</text>
<text x="75.6" y="1383.5" font-size="25" textLength="14.6" lengthAdjust="spacingAndGlyphs">1</text>
<line x1="111.4" y1="1415.8" x2="579.2" y2="1415.8" stroke="#231f20" stroke-width="1.5"/>
<line x1="185.1" y1="1415.8" x2="185.1" y2="1427.3" stroke="#231f20" stroke-width="1.5"/>
<line x1="301.2" y1="1415.8" x2="301.2" y2="1427.3" stroke="#231f20" stroke-width="1.5"/>
<line x1="417.3" y1="1415.8" x2="417.3" y2="1427.3" stroke="#231f20" stroke-width="1.5"/>
<line x1="533.4" y1="1415.8" x2="533.4" y2="1427.3" stroke="#231f20" stroke-width="1.5"/>
<text x="171" y="1457.9" font-size="25" textLength="29.2" lengthAdjust="spacingAndGlyphs">–5</text>
<text x="259.7" y="1457.9" font-size="25" textLength="29.2" lengthAdjust="spacingAndGlyphs">–1</text>
<text x="293.9" y="1457.9" font-size="25" textLength="14.6" lengthAdjust="spacingAndGlyphs">0</text>
<text x="316.5" y="1457.9" font-size="25" textLength="14.6" lengthAdjust="spacingAndGlyphs">1</text>
<text x="410.5" y="1457.9" font-size="25" textLength="14.6" lengthAdjust="spacingAndGlyphs">5</text>
<text x="518.2" y="1457.9" font-size="25" textLength="29.2" lengthAdjust="spacingAndGlyphs">10</text>
<text x="242.8" y="1499.9" font-size="27" textLength="205.6" lengthAdjust="spacingAndGlyphs">log<tspan font-size="19.3" dy="9.1">2</tspan><tspan dy="-9.1"> fold change</tspan></text>
<text x="-31.4" y="1227.6" font-size="27" transform="rotate(-90 46.1 1227.6)" textLength="156.6" lengthAdjust="spacingAndGlyphs">–log<tspan font-size="19.3" dy="9.1">10</tspan><tspan dy="-9.1">(</tspan><tspan font-style="italic">P</tspan> adj)</text>
<text x="443.3" y="1031.6" font-size="26.7" textLength="290.9" lengthAdjust="spacingAndGlyphs">6KR/KO versus WT/KO</text>
<line x1="444.6" y1="1034.8" x2="739" y2="1034.8" stroke="#231f20" stroke-width="1.3"/>
<text x="442.8" y="1063.3" font-size="26.7" textLength="110.7" lengthAdjust="spacingAndGlyphs">(tumors)</text>
<line x1="444.6" y1="1067.4" x2="551.6" y2="1067.4" stroke="#231f20" stroke-width="1.3"/>
<circle cx="446.5" cy="1092.8" r="5" fill="#3e5fb0"/>
<text x="464.9" y="1101.6" font-size="26.7" textLength="74" lengthAdjust="spacingAndGlyphs">Down</text>
<circle cx="446.5" cy="1131" r="5" fill="#c0c2c4"/>
<text x="464.9" y="1139.8" font-size="26.7" textLength="138.4" lengthAdjust="spacingAndGlyphs">No change</text>
<circle cx="446.5" cy="1168.5" r="5" fill="#e1413b"/>
<text x="465" y="1178" font-size="26.7" textLength="36.8" lengthAdjust="spacingAndGlyphs">Up</text>
<text x="764.3" y="1025.8" font-size="39.5" font-weight="bold" fill="#231f20" stroke="#231f20" stroke-width="0.9" textLength="14.3" lengthAdjust="spacingAndGlyphs">i</text>
<text x="998.4" y="1095.6" font-size="27" fill="#1164ad" textLength="231.6" lengthAdjust="spacingAndGlyphs">Hypoxia UP genes</text>
<rect x="862.5" y="1113.4" width="512" height="172.6" fill="#fafafa"/>
<line x1="925.4" y1="1114.4" x2="925.4" y2="1286" stroke="#dcdcdc" stroke-width="1.1"/>
<line x1="988.7" y1="1114.4" x2="988.7" y2="1286" stroke="#dcdcdc" stroke-width="1.1"/>
<line x1="1052" y1="1114.4" x2="1052" y2="1286" stroke="#dcdcdc" stroke-width="1.1"/>
<line x1="1115.6" y1="1114.4" x2="1115.6" y2="1286" stroke="#dcdcdc" stroke-width="1.1"/>
<line x1="1179.2" y1="1114.4" x2="1179.2" y2="1286" stroke="#dcdcdc" stroke-width="1.1"/>
<line x1="1242.8" y1="1114.4" x2="1242.8" y2="1286" stroke="#dcdcdc" stroke-width="1.1"/>
<line x1="1306.1" y1="1114.4" x2="1306.1" y2="1286" stroke="#dcdcdc" stroke-width="1.1"/>
<line x1="1369.4" y1="1114.4" x2="1369.4" y2="1286" stroke="#dcdcdc" stroke-width="1.1"/>
<line x1="862.5" y1="1253.6" x2="1374.5" y2="1253.6" stroke="#5a5a5a" stroke-width="1.6" stroke-dasharray="7.5 3.5"/>
<line x1="862.5" y1="1115.4" x2="862.5" y2="1286" stroke="#231f20" stroke-width="1.3"/>
<line x1="855.5" y1="1253.6" x2="862.5" y2="1253.6" stroke="#231f20" stroke-width="1.3"/>
<text x="831.9" y="1260.7" font-size="21.5">0</text>
<line x1="855.5" y1="1220.1" x2="862.5" y2="1220.1" stroke="#231f20" stroke-width="1.3"/>
<text x="814.1" y="1227.2" font-size="21.5">0.1</text>
<line x1="855.5" y1="1186.6" x2="862.5" y2="1186.6" stroke="#231f20" stroke-width="1.3"/>
<text x="814.1" y="1193.7" font-size="21.5">0.2</text>
<line x1="855.5" y1="1153.1" x2="862.5" y2="1153.1" stroke="#231f20" stroke-width="1.3"/>
<text x="814" y="1160.2" font-size="21.5">0.3</text>
<line x1="855.5" y1="1119.6" x2="862.5" y2="1119.6" stroke="#231f20" stroke-width="1.3"/>
<text x="813.8" y="1126.7" font-size="21.5">0.4</text>
<path d="M862.5 1250.2 L864.1 1250.6 L864.1 1238.9 L866.4 1239.6 L866.4 1227.2 L867.9 1226.6 L867.9 1221.8 L868.8 1221.4 L868.8 1218.9 L870 1218.8 L870 1216.3 L872.3 1216.1 L872.3 1211.5 L873 1211.7 L873 1210.3 L875 1210.5 L875 1206.9 L876.3 1206.6 L876.3 1204.4 L878 1204.5 L878 1201.4 L879.4 1201.6 L879.4 1199.2 L880.5 1199.6 L880.5 1197.6 L881.3 1197.7 L881.3 1196.4 L883.1 1195.7 L883.1 1192.7 L885.3 1192.5 L885.3 1188.9 L886.7 1189.3 L886.7 1187.1 L888 1187.1 L888 1185 L889.4 1185 L889.4 1182.7 L891 1182.7 L891 1180.2 L892.9 1180.3 L892.9 1177.4 L893.5 1177.2 L893.5 1176.3 L894.1 1176.3 L894.1 1175.3 L895.1 1175.6 L895.1 1174.2 L896.9 1174.3 L896.9 1171.8 L898.8 1171.4 L898.8 1169 L900.3 1169.4 L900.3 1167.7 L901.8 1167.8 L901.8 1166 L903.9 1165.7 L903.9 1163.3 L905.8 1163.3 L905.8 1161.5 L906.5 1161.5 L906.5 1160.8 L907.2 1160.3 L907.2 1159.7 L909.3 1160.6 L909.3 1158.6 L911.5 1158.9 L911.5 1157 L913.5 1157.1 L913.5 1155.4 L915.5 1155.2 L915.5 1153.5 L916.4 1153.1 L916.4 1152.4 L918.5 1152.3 L918.5 1150.7 L919.9 1149.9 L919.9 1148.9 L922.1 1149.7 L922.1 1148.2 L924.3 1148.8 L924.3 1147.4 L925.5 1147.5 L925.5 1146.8 L927.3 1146.7 L927.3 1145.7 L928.5 1145.7 L928.5 1145.1 L930.6 1144.9 L930.6 1144 L931.4 1144 L931.4 1143.7 L932.3 1143.4 L932.3 1143 L933.1 1143.7 L933.1 1143.4 L934.3 1142.9 L934.3 1142.5 L935.1 1141.7 L935.7 1141.2 L937.5 1140.9 L939.1 1140.3 L941.1 1139.8 L942.9 1139.5 L944.5 1138.8 L946.8 1138.2 L947.9 1137.8 L949.2 1137.2 L949.9 1137.3 L950.8 1137.3 L951.6 1137.1 L953 1137 L954.8 1136.5 L956.1 1135.9 L957.9 1135.6 L959.5 1135.3 L960.6 1134.9 L961.7 1134.4 L963 1134 L963.7 1134 L964.4 1134.5 L964.4 1134.3 L965.8 1134.1 L965.8 1133.6 L967.6 1133.4 L967.6 1132.6 L969.9 1133.2 L969.9 1131.9 L971.9 1130.7 L971.9 1129.5 L974.2 1129.9 L974.2 1128 L974.9 1127.8 L974.9 1126.8 L976 1127.2 L976 1125.6 L977.7 1126 L977.7 1124.2 L979.8 1124.5 L979.8 1123.7 L980.5 1123.1 L982.3 1123 L984.1 1123.8 L985.3 1123.9 L987.2 1124.6 L988.6 1125.2 L989.7 1125.5 L991.7 1126.2 L992.5 1126.4 L993.4 1126.8 L995.3 1127.1 L997.5 1127.7 L998.9 1128.3 L1000.4 1128.8 L1002.3 1129.4 L1003.3 1129.4 L1005 1129.9 L1007.3 1130.1 L1009.5 1130.3 L1010.3 1130.4 L1011.1 1130.9 L1013 1131.3 L1015.4 1131.2 L1016.7 1131.3 L1017.6 1131.9 L1019.1 1132.5 L1021.5 1133.2 L1023.4 1134 L1024.7 1134.3 L1026.8 1135.1 L1029.1 1136 L1030.3 1135.9 L1030.9 1136.2 L1032.4 1137.4 L1033.3 1137.8 L1034.7 1138.4 L1037 1139.5 L1039 1139.9 L1039.9 1140.4 L1041.5 1140.9 L1042.1 1141.3 L1043.8 1141.9 L1045.6 1142.5 L1046.8 1142.9 L1048.9 1144.2 L1051.2 1145.1 L1053.4 1146.4 L1054.1 1146.7 L1055.9 1147.1 L1056.6 1147.8 L1058.9 1148.8 L1059.5 1149 L1060.3 1149.7 L1062.6 1150.5 L1063.5 1150.6 L1065.4 1151.2 L1066.5 1152.1 L1068.3 1152.9 L1069.5 1153.1 L1071 1154.2 L1072.5 1155.1 L1074.6 1155.9 L1075.3 1156 L1075.9 1156.3 L1077.8 1157.3 L1079.5 1158.6 L1080.3 1159.1 L1081.2 1159.4 L1082.6 1160.3 L1084.5 1161.4 L1085.3 1161.3 L1086.7 1162.2 L1088.8 1163.6 L1089.5 1164 L1091.6 1165.6 L1093.4 1166.5 L1095 1167.9 L1096.9 1169 L1099.2 1170.8 L1100.8 1171.8 L1101.4 1172.1 L1103 1173.4 L1104.6 1174.2 L1106.8 1175.8 L1109.2 1176.9 L1109.9 1177.3 L1110.8 1177.6 L1111.6 1178.2 L1112.4 1178.7 L1113.3 1179.4 L1114.2 1179.8 L1115.1 1180.7 L1117.1 1182.2 L1118.9 1183.3 L1119.6 1183.6 L1120.6 1184.3 L1122.8 1185.8 L1125 1187.4 L1126 1187.9 L1128 1188.8 L1129.7 1189.6 L1131.5 1191.1 L1132.7 1191.6 L1133.8 1192.2 L1136.1 1193.7 L1138.4 1195 L1140.3 1196.2 L1141.6 1197 L1143.8 1198.4 L1145.2 1199.1 L1147.5 1200.5 L1148.8 1201.4 L1150.7 1202.8 L1151.3 1202.7 L1152.2 1203.5 L1153.5 1204.5 L1155.8 1205.6 L1157.6 1206.6 L1158.6 1207.6 L1160.7 1208.6 L1162.7 1209.9 L1164 1210.8 L1165.8 1212.1 L1168 1213.8 L1169.8 1214.6 L1171.9 1215.9 L1172.8 1216 L1174.5 1217.2 L1175.6 1218.1 L1176.9 1218.7 L1178.3 1219.6 L1180.1 1220.6 L1181.5 1221.6 L1183.2 1222.4 L1185.5 1224.1 L1187 1225 L1188.1 1225.5 L1190.2 1226.8 L1191.2 1227.5 L1192.3 1227.9 L1194.3 1228.5 L1195.2 1228.9 L1197 1230.1 L1198.4 1230.9 L1199.5 1231.5 L1201.5 1232.8 L1202.8 1233.1 L1203.8 1233.7 L1206.2 1235.2 L1208.3 1236.2 L1209.3 1236.7 L1211.7 1238 L1213.9 1239.3 L1214.7 1239.7 L1215.4 1240 L1216.9 1241 L1218 1241.3 L1219.2 1241.8 L1220 1242.2 L1221.9 1242.9 L1223.1 1243.4 L1224.2 1244.1 L1225.8 1244.9 L1226.7 1245.3 L1227.4 1245.6 L1228.9 1246.4 L1229.8 1246.7 L1231.7 1247.7 L1233.8 1248.9 L1236 1249.8 L1238.2 1250.5 L1240.5 1252.1 L1241.4 1252.4 L1243.1 1252.8 L1245 1253.6 L1246.9 1254.9 L1247.8 1255.6 L1248.5 1255.6 L1249.1 1255.9 L1251 1256.9 L1253.3 1257.9 L1254.3 1258 L1255 1258.1 L1256.3 1258.9 L1258.4 1259.4 L1260.5 1260.2 L1262.5 1261 L1264.1 1261.8 L1265.5 1262.3 L1267.3 1262.8 L1268.4 1263.2 L1269.2 1263.6 L1270 1263.6 L1271.9 1264.8 L1272.6 1265.4 L1274.2 1265.8 L1274.9 1266 L1276.3 1266.7 L1277.1 1266.7 L1278.9 1267.1 L1280.4 1267.6 L1282.5 1268.2 L1284.6 1269.1 L1285.7 1269.1 L1286.8 1269.8 L1289 1270.4 L1291.2 1270.6 L1293.4 1270.9 L1294.2 1271.7 L1296.5 1272.3 L1298.4 1272.5 L1300.6 1272.8 L1301.7 1273.5 L1302.4 1273.6 L1304.3 1273.9 L1305.7 1274 L1306.7 1274.4 L1307.9 1274.2 L1308.8 1274.3 L1310.5 1274.9 L1312.8 1275.3 L1314.5 1275.6 L1315.9 1275.8 L1317.5 1275.7 L1319.6 1276.1 L1320.5 1276.6 L1322 1276.4 L1322.8 1276.4 L1324.2 1276.5 L1325.5 1276.9 L1326.9 1277.1 L1329.2 1277.6 L1331.5 1277.7 L1332.8 1277.8 L1334.5 1277.6 L1336 1277.4 L1338.4 1277.8 L1339.4 1277.5 L1341.4 1277.7 L1343.3 1277.1 L1345.5 1276.6 L1345.5 1275.4 L1346.6 1275.7 L1346.6 1274.8 L1348.8 1274.7 L1348.8 1272.4 L1349.9 1272.3 L1349.9 1271.2 L1351.7 1270.5 L1351.7 1268.9 L1353.6 1269 L1353.6 1267.7 L1355.6 1268 L1355.6 1266.7 L1356.4 1266.7 L1356.4 1266.2 L1357.5 1266.6 L1357.5 1265.9 L1359.4 1266.1 L1359.4 1265 L1360.3 1264.5 L1360.3 1264 L1360.9 1264 L1360.9 1263.6 L1362 1263.5 L1362 1262.9 L1364.4 1263.4 L1364.4 1262.1 L1365.1 1261.5 L1365.1 1261.1 L1366.8 1261.1 L1366.8 1260.2 L1367.7 1260.4 L1367.7 1260 L1369.3 1259.8 L1369.3 1259 L1370.6 1258.3 L1370.6 1257.7 L1372.4 1257.7 L1372.4 1256.9 L1373.6 1257.4 L1373.6 1256.8 L1374.5 1256.9 L1374.5 1256.4" stroke="#5fb84f" stroke-width="2.4" fill="none" stroke-linejoin="round"/>
<path d="M862.5 1286h1.4v46.5h-1.4zM864.7 1286h1.7v46.5h-1.7zM867 1286h4.4v46.5h-4.4zM872.4 1286h7.5v46.5h-7.5zM880.3 1286h11.6v46.5h-11.6zM892.5 1286h12v46.5h-12zM905.5 1286h5.2v46.5h-5.2zM911.3 1286h0.8v46.5h-0.8zM912.5 1286h10.5v46.5h-10.5zM924 1286h20.6v46.5h-20.6zM945.2 1286h11.3v46.5h-11.3zM957.1 1286h6.1v46.5h-6.1zM964.2 1286h9v46.5h-9zM973.5 1286h2.5v46.5h-2.5zM976.5 1286h15.9v46.5h-15.9zM993.3 1286h3.2v46.5h-3.2zM997.4 1286h3.7v46.5h-3.7zM1001.9 1286h1.7v46.5h-1.7zM1006 1286h0.9v46.5h-0.9zM1007.5 1286h2.5v46.5h-2.5zM1011.2 1286h1.5v46.5h-1.5zM1014.2 1286h1.5v46.5h-1.5zM1017.6 1286h4.4v46.5h-4.4zM1024.8 1286h2.3v46.5h-2.3zM1028.3 1286h5.7v46.5h-5.7zM1035.1 1286h2.2v46.5h-2.2zM1040.6 1286h2.5v46.5h-2.5zM1044.1 1286h2.9v46.5h-2.9zM1048.6 1286h4.8v46.5h-4.8zM1055.2 1286h1.8v46.5h-1.8zM1062.6 1286h1.8v46.5h-1.8zM1065.4 1286h5.4v46.5h-5.4zM1075.2 1286h0.8v46.5h-0.8zM1076.5 1286h3.9v46.5h-3.9zM1083.8 1286h1.4v46.5h-1.4zM1085.9 1286h2.5v46.5h-2.5zM1092.8 1286h0.9v46.5h-0.9zM1094.9 1286h2.4v46.5h-2.4zM1097.9 1286h1.4v46.5h-1.4zM1099.9 1286h1.6v46.5h-1.6zM1102.2 1286h0.6v46.5h-0.6zM1103.9 1286h0.8v46.5h-0.8zM1105.1 1286h0.8v46.5h-0.8zM1107 1286h1.2v46.5h-1.2zM1113.6 1286h1v46.5h-1zM1115.2 1286h1.1v46.5h-1.1zM1118.6 1286h0.9v46.5h-0.9zM1120.7 1286h3.4v46.5h-3.4zM1126.9 1286h1.6v46.5h-1.6zM1131.5 1286h2.3v46.5h-2.3zM1134.4 1286h0.7v46.5h-0.7zM1135.7 1286h3.2v46.5h-3.2zM1139.9 1286h3.7v46.5h-3.7zM1148.9 1286h4.9v46.5h-4.9zM1155 1286h0.5v46.5h-0.5zM1156.3 1286h0.9v46.5h-0.9zM1159 1286h2.6v46.5h-2.6zM1165.6 1286h2.6v46.5h-2.6zM1173.2 1286h2.1v46.5h-2.1zM1176.7 1286h3.4v46.5h-3.4zM1180.9 1286h2.9v46.5h-2.9zM1186.2 1286h3.7v46.5h-3.7zM1190.3 1286h0.8v46.5h-0.8zM1196.2 1286h0.7v46.5h-0.7zM1198.2 1286h2v46.5h-2zM1201.5 1286h3.9v46.5h-3.9zM1210.7 1286h1.2v46.5h-1.2zM1212.4 1286h4.4v46.5h-4.4zM1218.1 1286h1v46.5h-1zM1219.6 1286h0.5v46.5h-0.5zM1221.8 1286h1v46.5h-1zM1224.4 1286h4.6v46.5h-4.6zM1235.3 1286h0.6v46.5h-0.6zM1238.9 1286h2.3v46.5h-2.3zM1247.6 1286h0.5v46.5h-0.5zM1249.8 1286h1.5v46.5h-1.5zM1253.4 1286h1.3v46.5h-1.3zM1255.6 1286h3.5v46.5h-3.5zM1263.5 1286h2.6v46.5h-2.6zM1271 1286h1.9v46.5h-1.9zM1273.3 1286h2.6v46.5h-2.6zM1276.4 1286h2.9v46.5h-2.9zM1281.1 1286h0.9v46.5h-0.9zM1282.6 1286h0.6v46.5h-0.6zM1283.8 1286h7.2v46.5h-7.2zM1291.7 1286h4.3v46.5h-4.3zM1296.5 1286h1.2v46.5h-1.2zM1298.9 1286h1.3v46.5h-1.3zM1305.3 1286h1.2v46.5h-1.2zM1307.3 1286h1.1v46.5h-1.1zM1308.7 1286h3.3v46.5h-3.3zM1312.7 1286h2.1v46.5h-2.1zM1316 1286h0.7v46.5h-0.7zM1317.1 1286h3.3v46.5h-3.3zM1324.8 1286h0.5v46.5h-0.5zM1326.1 1286h13.1v46.5h-13.1zM1340.9 1286h11.4v46.5h-11.4zM1353.2 1286h9.1v46.5h-9.1zM1362.6 1286h2v46.5h-2zM1366.4 1286h1.7v46.5h-1.7zM1368.9 1286h1.9v46.5h-1.9zM1371.5 1286h3v46.5h-3z" fill="#050505"/>
<path d="M980.6 1286h0.7v46.5h-0.7zM1027.6 1286h0.7v46.5h-0.7zM1274.1 1286h0.7v46.5h-0.7zM1243.4 1286h0.7v46.5h-0.7zM1279.4 1286h0.7v46.5h-0.7zM1211.6 1286h0.7v46.5h-0.7zM1331 1286h0.7v46.5h-0.7zM1295.1 1286h0.7v46.5h-0.7zM1186.9 1286h0.7v46.5h-0.7zM1007.7 1286h0.7v46.5h-0.7zM906.1 1286h0.7v46.5h-0.7zM1302.8 1286h0.7v46.5h-0.7zM1301.8 1286h0.7v46.5h-0.7zM1319 1286h0.7v46.5h-0.7zM998.1 1286h0.7v46.5h-0.7zM1240.6 1286h0.7v46.5h-0.7zM1338.9 1286h0.7v46.5h-0.7zM968.4 1286h0.7v46.5h-0.7zM874.6 1286h0.7v46.5h-0.7zM951.6 1286h0.7v46.5h-0.7zM974.6 1286h0.7v46.5h-0.7zM1210.7 1286h0.7v46.5h-0.7zM1283 1286h0.7v46.5h-0.7zM1281.7 1286h0.7v46.5h-0.7zM1215.3 1286h0.7v46.5h-0.7zM1363.4 1286h0.7v46.5h-0.7zM1360.3 1286h0.7v46.5h-0.7zM1087.5 1286h0.7v46.5h-0.7zM1334.3 1286h0.7v46.5h-0.7zM1230.6 1286h0.7v46.5h-0.7zM988 1286h0.7v46.5h-0.7zM1162.2 1286h0.7v46.5h-0.7zM949.8 1286h0.7v46.5h-0.7zM1067.2 1286h0.7v46.5h-0.7zM1278.8 1286h0.7v46.5h-0.7zM867.6 1286h0.7v46.5h-0.7zM1137.2 1286h0.7v46.5h-0.7zM1085.6 1286h0.7v46.5h-0.7zM1007.4 1286h0.7v46.5h-0.7zM895.6 1286h0.7v46.5h-0.7zM1130.5 1286h0.7v46.5h-0.7zM1033.3 1286h0.7v46.5h-0.7zM912.4 1286h0.7v46.5h-0.7zM1068 1286h0.7v46.5h-0.7zM1210.3 1286h0.7v46.5h-0.7zM903.3 1286h0.7v46.5h-0.7zM1264.5 1286h0.7v46.5h-0.7zM905.1 1286h0.7v46.5h-0.7zM1103.4 1286h0.7v46.5h-0.7zM1050.2 1286h0.7v46.5h-0.7zM1301.5 1286h0.7v46.5h-0.7zM1319.6 1286h0.7v46.5h-0.7zM1240 1286h0.7v46.5h-0.7zM1013.1 1286h0.7v46.5h-0.7zM1028.7 1286h0.7v46.5h-0.7zM1284.8 1286h0.7v46.5h-0.7zM1123.6 1286h0.7v46.5h-0.7zM1187.7 1286h0.7v46.5h-0.7zM1233.1 1286h0.7v46.5h-0.7zM960.7 1286h0.7v46.5h-0.7zM1059.5 1286h0.7v46.5h-0.7zM1351.1 1286h0.7v46.5h-0.7zM1032.5 1286h0.7v46.5h-0.7zM1296.9 1286h0.7v46.5h-0.7zM941.7 1286h0.7v46.5h-0.7zM869.7 1286h0.7v46.5h-0.7zM1119.8 1286h0.7v46.5h-0.7zM1007.5 1286h0.7v46.5h-0.7zM1167.5 1286h0.7v46.5h-0.7zM1256.7 1286h0.7v46.5h-0.7zM882.4 1286h0.7v46.5h-0.7zM1118.2 1286h0.7v46.5h-0.7zM1053.8 1286h0.7v46.5h-0.7zM1326.3 1286h0.7v46.5h-0.7zM1294.8 1286h0.7v46.5h-0.7zM1315.4 1286h0.7v46.5h-0.7zM1242.2 1286h0.7v46.5h-0.7zM1040.1 1286h0.7v46.5h-0.7zM1179.6 1286h0.7v46.5h-0.7zM1141.1 1286h0.7v46.5h-0.7zM1050.9 1286h0.7v46.5h-0.7zM1011 1286h0.7v46.5h-0.7zM1194.7 1286h0.7v46.5h-0.7zM1321.4 1286h0.7v46.5h-0.7zM986.3 1286h0.7v46.5h-0.7z" fill="#7a7a7a" opacity="0.5"/>
<rect x="862.5" y="1332.5" width="512" height="18" fill="url(#cb101)"/>
<path d="M1363.8 1332.5h0.8v18h-0.8zM1096.1 1332.5h0.8v18h-0.8zM1230.5 1332.5h0.8v18h-0.8zM1238.8 1332.5h0.8v18h-0.8zM972.5 1332.5h0.8v18h-0.8zM902.5 1332.5h0.8v18h-0.8zM1171.1 1332.5h0.8v18h-0.8zM924.9 1332.5h0.8v18h-0.8zM1058.2 1332.5h0.8v18h-0.8zM1318 1332.5h0.8v18h-0.8zM1309 1332.5h0.8v18h-0.8zM923.3 1332.5h0.8v18h-0.8zM904.6 1332.5h0.8v18h-0.8zM976.4 1332.5h0.8v18h-0.8zM1286.5 1332.5h0.8v18h-0.8zM875.2 1332.5h0.8v18h-0.8zM977.8 1332.5h0.8v18h-0.8zM917.4 1332.5h0.8v18h-0.8zM927.9 1332.5h0.8v18h-0.8zM1130.5 1332.5h0.8v18h-0.8zM956.4 1332.5h0.8v18h-0.8zM1072.1 1332.5h0.8v18h-0.8zM1237.9 1332.5h0.8v18h-0.8zM1232.7 1332.5h0.8v18h-0.8zM1075 1332.5h0.8v18h-0.8zM1265 1332.5h0.8v18h-0.8zM1155.6 1332.5h0.8v18h-0.8zM1285.9 1332.5h0.8v18h-0.8zM989.9 1332.5h0.8v18h-0.8zM1051.5 1332.5h0.8v18h-0.8zM1159.6 1332.5h0.8v18h-0.8zM1346.8 1332.5h0.8v18h-0.8zM1179.1 1332.5h0.8v18h-0.8zM1105.5 1332.5h0.8v18h-0.8zM991 1332.5h0.8v18h-0.8zM1006.5 1332.5h0.8v18h-0.8zM973 1332.5h0.8v18h-0.8zM1367.5 1332.5h0.8v18h-0.8zM1316.4 1332.5h0.8v18h-0.8zM1320.5 1332.5h0.8v18h-0.8zM1133.1 1332.5h0.8v18h-0.8zM1225.2 1332.5h0.8v18h-0.8zM1014.3 1332.5h0.8v18h-0.8zM1109.1 1332.5h0.8v18h-0.8zM937 1332.5h0.8v18h-0.8zM1077.6 1332.5h0.8v18h-0.8zM991.9 1332.5h0.8v18h-0.8zM913.7 1332.5h0.8v18h-0.8zM1333.3 1332.5h0.8v18h-0.8zM912 1332.5h0.8v18h-0.8zM1278.7 1332.5h0.8v18h-0.8zM1220.7 1332.5h0.8v18h-0.8zM908.6 1332.5h0.8v18h-0.8zM1110.9 1332.5h0.8v18h-0.8zM1372.4 1332.5h0.8v18h-0.8zM1367.8 1332.5h0.8v18h-0.8zM1150.9 1332.5h0.8v18h-0.8zM1257.7 1332.5h0.8v18h-0.8zM1225.3 1332.5h0.8v18h-0.8zM1011.9 1332.5h0.8v18h-0.8zM1144.1 1332.5h0.8v18h-0.8zM1168.1 1332.5h0.8v18h-0.8zM1064.3 1332.5h0.8v18h-0.8zM1281.8 1332.5h0.8v18h-0.8zM1089.9 1332.5h0.8v18h-0.8zM1246.2 1332.5h0.8v18h-0.8zM895.6 1332.5h0.8v18h-0.8zM1090.3 1332.5h0.8v18h-0.8zM885.3 1332.5h0.8v18h-0.8zM1193.7 1332.5h0.8v18h-0.8zM1309.3 1332.5h0.8v18h-0.8zM1140.8 1332.5h0.8v18h-0.8zM1152 1332.5h0.8v18h-0.8zM1181.2 1332.5h0.8v18h-0.8zM979.8 1332.5h0.8v18h-0.8zM1060.3 1332.5h0.8v18h-0.8zM1158.7 1332.5h0.8v18h-0.8zM1193.4 1332.5h0.8v18h-0.8zM1057.1 1332.5h0.8v18h-0.8zM1106.9 1332.5h0.8v18h-0.8zM1031.9 1332.5h0.8v18h-0.8zM1146.3 1332.5h0.8v18h-0.8zM1208.6 1332.5h0.8v18h-0.8zM1030.3 1332.5h0.8v18h-0.8zM1213.2 1332.5h0.8v18h-0.8zM1297.2 1332.5h0.8v18h-0.8zM1137.2 1332.5h0.8v18h-0.8zM1364.5 1332.5h0.8v18h-0.8zM1021 1332.5h0.8v18h-0.8zM1333.3 1332.5h0.8v18h-0.8zM955.6 1332.5h0.8v18h-0.8zM1048.6 1332.5h0.8v18h-0.8zM1280.7 1332.5h0.8v18h-0.8zM879.2 1332.5h0.8v18h-0.8zM1177.1 1332.5h0.8v18h-0.8zM1308.6 1332.5h0.8v18h-0.8zM1345.8 1332.5h0.8v18h-0.8zM1211.8 1332.5h0.8v18h-0.8zM1039.4 1332.5h0.8v18h-0.8zM1032.6 1332.5h0.8v18h-0.8zM1185.6 1332.5h0.8v18h-0.8zM896.7 1332.5h0.8v18h-0.8z" fill="#fff" opacity="0.22"/>
<text x="854.5" y="1381.2" font-size="23.5" textLength="78" lengthAdjust="spacingAndGlyphs">6KR up</text>
<text x="1265.7" y="1381.2" font-size="23.5" textLength="109.3" lengthAdjust="spacingAndGlyphs">6KR down</text>
<text x="950.7" y="1425.4" font-size="27" textLength="334.1" lengthAdjust="spacingAndGlyphs">NES = 1.774 (<tspan font-style="italic">P</tspan> adj &lt; 0.001)</text>
<text x="674.2" y="1197.2" font-size="27" transform="rotate(-90 789.4 1197.2)" textLength="229.3" lengthAdjust="spacingAndGlyphs">Enrichment score</text>
<text x="1422.7" y="1025.8" font-size="39.5" font-weight="bold" fill="#231f20" stroke="#231f20" stroke-width="0.9" textLength="14.3" lengthAdjust="spacingAndGlyphs">j</text>
<text x="1625.6" y="1079.2" font-size="27" fill="#1164ad" textLength="341.3" lengthAdjust="spacingAndGlyphs">Paraquat-treated UP genes</text>
<rect x="1533.1" y="1096.7" width="536" height="185.2" fill="#fafafa"/>
<line x1="1596.7" y1="1097.7" x2="1596.7" y2="1281.9" stroke="#dcdcdc" stroke-width="1.1"/>
<line x1="1663.8" y1="1097.7" x2="1663.8" y2="1281.9" stroke="#dcdcdc" stroke-width="1.1"/>
<line x1="1730.5" y1="1097.7" x2="1730.5" y2="1281.9" stroke="#dcdcdc" stroke-width="1.1"/>
<line x1="1797.1" y1="1097.7" x2="1797.1" y2="1281.9" stroke="#dcdcdc" stroke-width="1.1"/>
<line x1="1863.4" y1="1097.7" x2="1863.4" y2="1281.9" stroke="#dcdcdc" stroke-width="1.1"/>
<line x1="1930" y1="1097.7" x2="1930" y2="1281.9" stroke="#dcdcdc" stroke-width="1.1"/>
<line x1="1997.1" y1="1097.7" x2="1997.1" y2="1281.9" stroke="#dcdcdc" stroke-width="1.1"/>
<line x1="2063.8" y1="1097.7" x2="2063.8" y2="1281.9" stroke="#dcdcdc" stroke-width="1.1"/>
<line x1="1533.1" y1="1211" x2="2069.1" y2="1211" stroke="#5a5a5a" stroke-width="1.6" stroke-dasharray="7.5 3.5"/>
<line x1="1533.1" y1="1098.7" x2="1533.1" y2="1281.9" stroke="#231f20" stroke-width="1.3"/>
<line x1="1526.1" y1="1278" x2="1533.1" y2="1278" stroke="#231f20" stroke-width="1.3"/>
<text x="1469.5" y="1285.1" font-size="21.5">−0.2</text>
<line x1="1526.1" y1="1244.5" x2="1533.1" y2="1244.5" stroke="#231f20" stroke-width="1.3"/>
<text x="1469.5" y="1251.6" font-size="21.5">−0.1</text>
<line x1="1526.1" y1="1211" x2="1533.1" y2="1211" stroke="#231f20" stroke-width="1.3"/>
<text x="1499.9" y="1218.1" font-size="21.5">0</text>
<line x1="1526.1" y1="1177.5" x2="1533.1" y2="1177.5" stroke="#231f20" stroke-width="1.3"/>
<text x="1482.1" y="1184.6" font-size="21.5">0.1</text>
<line x1="1526.1" y1="1144" x2="1533.1" y2="1144" stroke="#231f20" stroke-width="1.3"/>
<text x="1482.1" y="1151.1" font-size="21.5">0.2</text>
<line x1="1526.1" y1="1110.5" x2="1533.1" y2="1110.5" stroke="#231f20" stroke-width="1.3"/>
<text x="1482" y="1117.6" font-size="21.5">0.3</text>
<path d="M1531.2 1211 L1531.9 1211 L1531.9 1205.4 L1533 1205.4 L1533 1197.4 L1535 1197.3 L1535 1186.1 L1536.9 1185.8 L1536.9 1180 L1538.4 1180.5 L1538.4 1176.6 L1539.2 1176.3 L1539.2 1174 L1540.8 1173.7 L1540.8 1169.5 L1541.8 1169.8 L1541.8 1167.2 L1543.7 1167.4 L1543.7 1162.5 L1544.7 1162.8 L1544.7 1160.1 L1545.8 1160.2 L1545.8 1157.4 L1547.6 1157.7 L1547.6 1153.1 L1548.2 1152.7 L1548.2 1151 L1550 1150.8 L1550 1146.7 L1551.3 1146.1 L1551.3 1143 L1553.3 1143.1 L1553.3 1138.3 L1555.2 1138.5 L1555.2 1134.4 L1556.8 1134.7 L1556.8 1131.5 L1558.4 1132.1 L1558.4 1129.7 L1559.3 1129 L1559.3 1127.8 L1560.6 1127.8 L1560.6 1126.5 L1563 1126.2 L1563 1124.8 L1563.6 1124.4 L1563.6 1124.1 L1565.9 1124.1 L1567.4 1123.7 L1568.6 1123.7 L1570.4 1123 L1572.1 1123.2 L1572.1 1122.6 L1574.1 1122 L1574.1 1120.6 L1575.7 1120.8 L1575.7 1118.7 L1577.3 1119.1 L1577.3 1116.8 L1579.4 1116.7 L1579.4 1114.8 L1581 1114.3 L1581.6 1113.6 L1583.5 1113.9 L1584.5 1114.2 L1586 1114.1 L1587.3 1114.7 L1589.3 1114.9 L1591.6 1115.9 L1592.5 1116.1 L1593.7 1116.1 L1595.9 1116 L1596.5 1116 L1598.9 1116.5 L1598.9 1115.3 L1600.1 1114.3 L1600.1 1113.3 L1601.3 1113.4 L1601.3 1112.5 L1603 1112.5 L1603 1111.5 L1603.8 1111.8 L1603.8 1111.4 L1604.9 1111.3 L1607.2 1110.5 L1609 1110.1 L1610 1110.1 L1612.3 1109.9 L1613.8 1109.7 L1615.1 1109.6 L1616 1109.5 L1617.2 1109.8 L1619.2 1109.8 L1620 1109.7 L1622.1 1109.6 L1623.7 1109.6 L1625.2 1109.6 L1627.5 1109.4 L1628.1 1109.8 L1629.4 1109.6 L1630.2 1109.8 L1632 1110.1 L1633.6 1110.1 L1635 1110 L1635.8 1109.9 L1636.8 1109.9 L1638.4 1109.9 L1639.6 1109.9 L1640.8 1109.9 L1641.4 1110.1 L1642.3 1110 L1643.4 1110.3 L1645.3 1110.2 L1646.7 1109.8 L1647.8 1109.7 L1649 1109.8 L1650.3 1110.2 L1651.6 1110.4 L1652.3 1110.4 L1653.8 1110.7 L1655.4 1111.1 L1657 1111.5 L1659 1112.2 L1660.7 1113.1 L1661.5 1112.9 L1663.7 1114.3 L1665.9 1115.8 L1667.9 1116.8 L1669 1117.3 L1670.3 1118.2 L1672.5 1119 L1674.4 1120 L1675.7 1120.2 L1677.6 1120.1 L1678.7 1120.5 L1680.6 1120.6 L1682.3 1120.4 L1684.2 1120.8 L1685.5 1120.7 L1687.9 1120.9 L1688.5 1121.5 L1689.3 1121.6 L1690.2 1121.7 L1691.9 1122.5 L1693.2 1123.2 L1694.9 1123.5 L1696.8 1124.4 L1697.5 1124.5 L1699 1125.4 L1700.5 1125.6 L1701.4 1125.8 L1703.3 1126.5 L1704.3 1127.3 L1705.3 1127.9 L1706.5 1128.4 L1708.1 1128.7 L1710.3 1129.8 L1711.7 1130.3 L1712.8 1131.2 L1713.9 1131.6 L1716 1132.7 L1717.2 1133.1 L1718.3 1133.9 L1719 1134.1 L1721.4 1135.1 L1723 1135.6 L1725.1 1136.8 L1727.3 1137.9 L1728.8 1138.5 L1729.4 1138.5 L1730.4 1139.2 L1731.6 1139.6 L1732.3 1139.7 L1733.8 1140.5 L1734.5 1140.8 L1736.7 1141.9 L1738.7 1142.8 L1739.8 1143.4 L1741.2 1143.6 L1743 1144.5 L1743.6 1144.8 L1745 1145.4 L1745.7 1145.7 L1747.6 1146.7 L1748.9 1147.3 L1749.9 1147.7 L1751.4 1148.4 L1753.2 1149.3 L1754.8 1150.4 L1756.7 1150.7 L1757.8 1151.3 L1758.5 1151.5 L1760.2 1152.5 L1761.9 1153.6 L1762.9 1154.6 L1763.9 1154.7 L1766.2 1156 L1768.4 1157.4 L1769.6 1157.9 L1770.6 1158.1 L1772.7 1158.9 L1774.9 1160.3 L1776.2 1161.6 L1778.1 1162.6 L1779.7 1163.5 L1780.6 1163.9 L1782.6 1165.4 L1784.8 1166.5 L1787 1168.3 L1788.4 1168.7 L1789 1168.9 L1790.8 1170.4 L1791.7 1170.9 L1792.3 1171.5 L1794.2 1172.1 L1796.2 1173.4 L1797.6 1174.5 L1800 1176.2 L1801.9 1177.3 L1802.8 1177.9 L1804.3 1179.1 L1805.8 1180 L1807.4 1180.5 L1809.1 1181.3 L1809.8 1182.3 L1812.1 1183.1 L1813.5 1184 L1815.1 1184.9 L1816.4 1185.2 L1818.7 1186.6 L1820.6 1187.7 L1822.2 1188.4 L1823.4 1189.1 L1825.4 1190.9 L1827.2 1192.1 L1828.4 1192.7 L1829.6 1192.9 L1830.6 1193.6 L1832.2 1194.8 L1833.2 1195.3 L1835.2 1196.3 L1835.8 1196.8 L1836.9 1197.4 L1838.2 1198 L1838.9 1198.2 L1840.1 1198.9 L1840.8 1199 L1842.2 1199.9 L1843.8 1201.2 L1844.8 1201.9 L1845.4 1202 L1846.8 1202.3 L1849.2 1203.6 L1849.8 1204 L1851.7 1205 L1852.8 1205.3 L1855.2 1207 L1856.4 1207.6 L1857.4 1208.1 L1859.5 1209.3 L1860.4 1209.7 L1861.1 1210.2 L1861.8 1210.5 L1863.2 1211.1 L1864.1 1212 L1865.3 1212.7 L1866.3 1213.3 L1867.8 1214.5 L1869.6 1215.3 L1870.7 1215.7 L1872.8 1217.2 L1874.4 1218.2 L1876.6 1219.6 L1877.3 1219.4 L1878.5 1220.3 L1880.2 1221.1 L1882.6 1222.7 L1883.3 1223 L1884.9 1224.1 L1887 1225.2 L1888 1226 L1888.8 1226.4 L1890.6 1227.3 L1892.7 1228.3 L1894.6 1229.7 L1895.5 1230.2 L1896.6 1230.7 L1898.4 1231.9 L1900.8 1233 L1902.4 1234.1 L1903.8 1234.5 L1905.4 1235.4 L1907.5 1236.5 L1908.6 1237.1 L1910.4 1238.2 L1911.7 1239 L1912.6 1239.2 L1914.9 1240 L1916.5 1240.7 L1918.8 1241.9 L1920.1 1242.5 L1921.7 1243.7 L1922.4 1243.9 L1924.4 1245.3 L1925.8 1245.9 L1928 1247 L1929.7 1247.6 L1931.3 1248.4 L1932.7 1249.4 L1933.5 1249.6 L1935.4 1250.1 L1936.6 1250.7 L1937.3 1251 L1938.1 1251.4 L1938.9 1251.7 L1940.8 1252.3 L1941.5 1252.6 L1942.3 1252.4 L1943.9 1253.1 L1944.5 1253.9 L1946 1254.4 L1946.9 1254.8 L1947.6 1255.1 L1948.2 1255.4 L1950 1255.5 L1952.2 1255.9 L1953.9 1256.3 L1955.4 1256.7 L1956.4 1256.9 L1958.7 1257.5 L1960.8 1258 L1961.7 1258.5 L1962.6 1258.5 L1963.6 1258.8 L1965.6 1259.3 L1967.4 1259.2 L1969.2 1259.8 L1970.7 1260.7 L1972.5 1261.2 L1974.1 1261.3 L1975.3 1261.4 L1976.4 1262 L1978.1 1262.4 L1980.2 1262.7 L1982 1263.3 L1984.4 1263.4 L1986.4 1264.2 L1987.1 1263.8 L1988.1 1264.3 L1990.3 1264.4 L1991.3 1264.5 L1993.5 1264.7 L1994.2 1264.8 L1996.2 1265 L1998 1265.4 L1999.4 1265.7 L2001.2 1265.6 L2003.2 1266.6 L2004.4 1266.8 L2005.6 1267 L2008 1268 L2010.2 1268.8 L2011.2 1269.4 L2012.6 1269.9 L2013.4 1270.3 L2014.9 1270.9 L2016.1 1271.4 L2017.5 1271.5 L2018.2 1271.9 L2019.6 1272.3 L2020.3 1272.6 L2021 1272.4 L2023 1272.2 L2024.2 1272.3 L2024.9 1272.4 L2025.8 1272 L2027.9 1271.4 L2029 1270.9 L2029 1270.5 L2030.3 1271 L2030.3 1270.4 L2032.7 1270.4 L2032.7 1269 L2034.3 1268.8 L2034.3 1267.8 L2036.1 1268.4 L2036.1 1267 L2037.7 1267.4 L2037.7 1266.1 L2038.9 1265.3 L2038.9 1264.4 L2039.9 1264.4 L2039.9 1263.5 L2041.5 1263.6 L2041.5 1262.3 L2042.3 1262.3 L2042.3 1261.6 L2043.7 1261.1 L2043.7 1259.9 L2045.2 1260.7 L2045.2 1259.5 L2046.9 1259.4 L2046.9 1258.1 L2048.3 1258.2 L2048.3 1257.2 L2049.8 1257.1 L2049.8 1256.1 L2051.7 1256.1 L2051.7 1254.8 L2053.8 1254.4 L2053.8 1252.9 L2054.8 1252.6 L2054.8 1251.9 L2055.6 1252 L2055.6 1251.3 L2057.8 1251.9 L2057.8 1250.2 L2059.6 1250.4 L2059.6 1249 L2061.6 1248.9 L2061.6 1247 L2063.1 1247.5 L2063.1 1245.9 L2064.1 1246 L2064.1 1244.8 L2065.3 1243.7 L2065.3 1241.6 L2067.7 1241.4 L2067.7 1228.2 L2069.1 1228.5 L2069.1 1212.7" stroke="#5fb84f" stroke-width="2.4" fill="none" stroke-linejoin="round"/>
<path d="M1533.1 1281.9h13v49.2h-13zM1547.1 1281.9h4.7v49.2h-4.7zM1552.4 1281.9h2v49.2h-2zM1555.4 1281.9h31.3v49.2h-31.3zM1587.7 1281.9h1.7v49.2h-1.7zM1590.4 1281.9h5.3v49.2h-5.3zM1596.4 1281.9h1.1v49.2h-1.1zM1598.9 1281.9h3.4v49.2h-3.4zM1603.8 1281.9h0.9v49.2h-0.9zM1605.6 1281.9h1.8v49.2h-1.8zM1608.4 1281.9h3.3v49.2h-3.3zM1614 1281.9h2.7v49.2h-2.7zM1617.9 1281.9h3.4v49.2h-3.4zM1622.2 1281.9h4.8v49.2h-4.8zM1628.1 1281.9h7.7v49.2h-7.7zM1639 1281.9h0.9v49.2h-0.9zM1641.3 1281.9h0.7v49.2h-0.7zM1642.9 1281.9h0.5v49.2h-0.5zM1644 1281.9h1v49.2h-1zM1645.7 1281.9h4.9v49.2h-4.9zM1652.2 1281.9h2.7v49.2h-2.7zM1655.9 1281.9h1.1v49.2h-1.1zM1659.8 1281.9h1.4v49.2h-1.4zM1661.9 1281.9h1.4v49.2h-1.4zM1664.2 1281.9h3.5v49.2h-3.5zM1680.3 1281.9h3.3v49.2h-3.3zM1684.6 1281.9h3v49.2h-3zM1688.5 1281.9h1.4v49.2h-1.4zM1690.7 1281.9h4.2v49.2h-4.2zM1698.3 1281.9h0.7v49.2h-0.7zM1699.6 1281.9h1.2v49.2h-1.2zM1701.2 1281.9h2.4v49.2h-2.4zM1705 1281.9h2v49.2h-2zM1707.8 1281.9h1.1v49.2h-1.1zM1711.2 1281.9h1v49.2h-1zM1713.8 1281.9h1.7v49.2h-1.7zM1717.6 1281.9h8.7v49.2h-8.7zM1728.1 1281.9h4.4v49.2h-4.4zM1733.9 1281.9h2.4v49.2h-2.4zM1737.6 1281.9h1.5v49.2h-1.5zM1742.4 1281.9h0.8v49.2h-0.8zM1745.4 1281.9h1.5v49.2h-1.5zM1749.2 1281.9h0.8v49.2h-0.8zM1751.3 1281.9h0.9v49.2h-0.9zM1754.8 1281.9h2.3v49.2h-2.3zM1760.5 1281.9h3.4v49.2h-3.4zM1767 1281.9h0.7v49.2h-0.7zM1768.6 1281.9h1.3v49.2h-1.3zM1771.3 1281.9h2.5v49.2h-2.5zM1774.2 1281.9h1.4v49.2h-1.4zM1780.7 1281.9h5.2v49.2h-5.2zM1786.5 1281.9h1.5v49.2h-1.5zM1788.7 1281.9h2.3v49.2h-2.3zM1794.1 1281.9h7v49.2h-7zM1805 1281.9h0.9v49.2h-0.9zM1806.5 1281.9h1.7v49.2h-1.7zM1810.5 1281.9h0.7v49.2h-0.7zM1811.8 1281.9h0.6v49.2h-0.6zM1817 1281.9h0.6v49.2h-0.6zM1818.4 1281.9h2.4v49.2h-2.4zM1826.2 1281.9h2.2v49.2h-2.2zM1830.1 1281.9h4.9v49.2h-4.9zM1835.9 1281.9h4.2v49.2h-4.2zM1844 1281.9h1.2v49.2h-1.2zM1845.8 1281.9h0.7v49.2h-0.7zM1847.9 1281.9h3v49.2h-3zM1852.3 1281.9h1.8v49.2h-1.8zM1855.4 1281.9h0.7v49.2h-0.7zM1858.6 1281.9h1v49.2h-1zM1863.2 1281.9h2.6v49.2h-2.6zM1867.1 1281.9h0.6v49.2h-0.6zM1870 1281.9h4.6v49.2h-4.6zM1875.6 1281.9h0.8v49.2h-0.8zM1878.6 1281.9h1.6v49.2h-1.6zM1880.8 1281.9h4.3v49.2h-4.3zM1888.3 1281.9h0.8v49.2h-0.8zM1890.7 1281.9h1v49.2h-1zM1892.5 1281.9h1.6v49.2h-1.6zM1894.9 1281.9h0.6v49.2h-0.6zM1896.8 1281.9h0.8v49.2h-0.8zM1902.9 1281.9h2.4v49.2h-2.4zM1906.3 1281.9h0.7v49.2h-0.7zM1912.9 1281.9h0.5v49.2h-0.5zM1913.8 1281.9h1.1v49.2h-1.1zM1919 1281.9h1.1v49.2h-1.1zM1920.6 1281.9h4.3v49.2h-4.3zM1927.6 1281.9h3.2v49.2h-3.2zM1931.1 1281.9h0.6v49.2h-0.6zM1935.5 1281.9h2.2v49.2h-2.2zM1938.7 1281.9h1.8v49.2h-1.8zM1941.6 1281.9h2v49.2h-2zM1945 1281.9h5v49.2h-5zM1954.3 1281.9h5.1v49.2h-5.1zM1960.1 1281.9h1.4v49.2h-1.4zM1962.1 1281.9h0.8v49.2h-0.8zM1965.9 1281.9h2.3v49.2h-2.3zM1968.8 1281.9h2.2v49.2h-2.2zM1974.6 1281.9h1.5v49.2h-1.5zM1978 1281.9h0.9v49.2h-0.9zM1979.6 1281.9h0.5v49.2h-0.5zM1981.6 1281.9h1.5v49.2h-1.5zM1983.7 1281.9h0.9v49.2h-0.9zM1984.9 1281.9h1.2v49.2h-1.2zM1986.7 1281.9h0.6v49.2h-0.6zM1989.4 1281.9h4.1v49.2h-4.1zM1994.3 1281.9h1.1v49.2h-1.1zM1996.4 1281.9h1v49.2h-1zM2000.3 1281.9h1.9v49.2h-1.9zM2004.9 1281.9h1.2v49.2h-1.2zM2009.3 1281.9h1.3v49.2h-1.3zM2011.3 1281.9h1.7v49.2h-1.7zM2013.5 1281.9h0.6v49.2h-0.6zM2014.8 1281.9h3.1v49.2h-3.1zM2029.7 1281.9h5.4v49.2h-5.4zM2036 1281.9h3.7v49.2h-3.7zM2040.8 1281.9h1.9v49.2h-1.9zM2043.2 1281.9h1.2v49.2h-1.2zM2046.3 1281.9h9.9v49.2h-9.9zM2058.7 1281.9h0.8v49.2h-0.8zM2059.8 1281.9h0.6v49.2h-0.6zM2061.5 1281.9h1.5v49.2h-1.5zM2063.6 1281.9h1.4v49.2h-1.4zM2066.6 1281.9h2.5v49.2h-2.5z" fill="#050505"/>
<path d="M2012.5 1281.9h0.7v49.2h-0.7zM1915.4 1281.9h0.7v49.2h-0.7zM1660.2 1281.9h0.7v49.2h-0.7zM1640 1281.9h0.7v49.2h-0.7zM1825.6 1281.9h0.7v49.2h-0.7zM1970.5 1281.9h0.7v49.2h-0.7zM1639.9 1281.9h0.7v49.2h-0.7zM1716.9 1281.9h0.7v49.2h-0.7zM1616.2 1281.9h0.7v49.2h-0.7zM1727 1281.9h0.7v49.2h-0.7zM2002.2 1281.9h0.7v49.2h-0.7zM1781.9 1281.9h0.7v49.2h-0.7zM1803.5 1281.9h0.7v49.2h-0.7zM1540.8 1281.9h0.7v49.2h-0.7zM1609.5 1281.9h0.7v49.2h-0.7zM2067.5 1281.9h0.7v49.2h-0.7zM1659.3 1281.9h0.7v49.2h-0.7zM1766 1281.9h0.7v49.2h-0.7zM1797.9 1281.9h0.7v49.2h-0.7zM1857 1281.9h0.7v49.2h-0.7zM1670.1 1281.9h0.7v49.2h-0.7zM1729 1281.9h0.7v49.2h-0.7zM1894.7 1281.9h0.7v49.2h-0.7zM1675.7 1281.9h0.7v49.2h-0.7zM1549.4 1281.9h0.7v49.2h-0.7zM2041.3 1281.9h0.7v49.2h-0.7zM2011.6 1281.9h0.7v49.2h-0.7zM1842.3 1281.9h0.7v49.2h-0.7zM1722.9 1281.9h0.7v49.2h-0.7zM1982.1 1281.9h0.7v49.2h-0.7zM1770.4 1281.9h0.7v49.2h-0.7zM2047.1 1281.9h0.7v49.2h-0.7zM2065.1 1281.9h0.7v49.2h-0.7zM2021.8 1281.9h0.7v49.2h-0.7zM1763.1 1281.9h0.7v49.2h-0.7zM1788.6 1281.9h0.7v49.2h-0.7zM1616 1281.9h0.7v49.2h-0.7zM1661.9 1281.9h0.7v49.2h-0.7zM2065.1 1281.9h0.7v49.2h-0.7zM1741.1 1281.9h0.7v49.2h-0.7zM1680.3 1281.9h0.7v49.2h-0.7zM1815.1 1281.9h0.7v49.2h-0.7zM1975.3 1281.9h0.7v49.2h-0.7zM1977 1281.9h0.7v49.2h-0.7zM1721 1281.9h0.7v49.2h-0.7zM2027.7 1281.9h0.7v49.2h-0.7zM1855.4 1281.9h0.7v49.2h-0.7zM1681.9 1281.9h0.7v49.2h-0.7zM1889.7 1281.9h0.7v49.2h-0.7zM2045.4 1281.9h0.7v49.2h-0.7zM1718.9 1281.9h0.7v49.2h-0.7zM1621.4 1281.9h0.7v49.2h-0.7zM1812.5 1281.9h0.7v49.2h-0.7zM1913.3 1281.9h0.7v49.2h-0.7zM1566.8 1281.9h0.7v49.2h-0.7zM2011.8 1281.9h0.7v49.2h-0.7zM1995.2 1281.9h0.7v49.2h-0.7zM1546.6 1281.9h0.7v49.2h-0.7zM1574.9 1281.9h0.7v49.2h-0.7zM1826 1281.9h0.7v49.2h-0.7zM1880.3 1281.9h0.7v49.2h-0.7zM2043.1 1281.9h0.7v49.2h-0.7zM2062.6 1281.9h0.7v49.2h-0.7zM2010.8 1281.9h0.7v49.2h-0.7zM1809.1 1281.9h0.7v49.2h-0.7zM2067 1281.9h0.7v49.2h-0.7zM1568.5 1281.9h0.7v49.2h-0.7zM2001.1 1281.9h0.7v49.2h-0.7zM1695.5 1281.9h0.7v49.2h-0.7zM1542.1 1281.9h0.7v49.2h-0.7zM1966.4 1281.9h0.7v49.2h-0.7zM1753.9 1281.9h0.7v49.2h-0.7zM1739.7 1281.9h0.7v49.2h-0.7zM1576.9 1281.9h0.7v49.2h-0.7zM1851.5 1281.9h0.7v49.2h-0.7zM1536.1 1281.9h0.7v49.2h-0.7zM1711.4 1281.9h0.7v49.2h-0.7zM1954.4 1281.9h0.7v49.2h-0.7zM1560.9 1281.9h0.7v49.2h-0.7zM1742.5 1281.9h0.7v49.2h-0.7zM1829.9 1281.9h0.7v49.2h-0.7zM2047.7 1281.9h0.7v49.2h-0.7zM2026.3 1281.9h0.7v49.2h-0.7zM1721.6 1281.9h0.7v49.2h-0.7zM1699.3 1281.9h0.7v49.2h-0.7zM1732.2 1281.9h0.7v49.2h-0.7zM1545.8 1281.9h0.7v49.2h-0.7zM2015.7 1281.9h0.7v49.2h-0.7zM1830.2 1281.9h0.7v49.2h-0.7z" fill="#7a7a7a" opacity="0.5"/>
<rect x="1533.1" y="1331.1" width="536" height="19.3" fill="url(#cb201)"/>
<path d="M1581.7 1331.1h0.8v19.3h-0.8zM1984.5 1331.1h0.8v19.3h-0.8zM1854.9 1331.1h0.8v19.3h-0.8zM1647.1 1331.1h0.8v19.3h-0.8zM1951 1331.1h0.8v19.3h-0.8zM1851.8 1331.1h0.8v19.3h-0.8zM1976.9 1331.1h0.8v19.3h-0.8zM1861 1331.1h0.8v19.3h-0.8zM1920.8 1331.1h0.8v19.3h-0.8zM1948.5 1331.1h0.8v19.3h-0.8zM1717.5 1331.1h0.8v19.3h-0.8zM1584.5 1331.1h0.8v19.3h-0.8zM2014.3 1331.1h0.8v19.3h-0.8zM1596 1331.1h0.8v19.3h-0.8zM1831.6 1331.1h0.8v19.3h-0.8zM2064.4 1331.1h0.8v19.3h-0.8zM1721 1331.1h0.8v19.3h-0.8zM1673.2 1331.1h0.8v19.3h-0.8zM1738.1 1331.1h0.8v19.3h-0.8zM1641.5 1331.1h0.8v19.3h-0.8zM1935 1331.1h0.8v19.3h-0.8zM1692.9 1331.1h0.8v19.3h-0.8zM1572.3 1331.1h0.8v19.3h-0.8zM1852.3 1331.1h0.8v19.3h-0.8zM1672 1331.1h0.8v19.3h-0.8zM1629 1331.1h0.8v19.3h-0.8zM1542.1 1331.1h0.8v19.3h-0.8zM1982.7 1331.1h0.8v19.3h-0.8zM1735.6 1331.1h0.8v19.3h-0.8zM1854.7 1331.1h0.8v19.3h-0.8zM1790.7 1331.1h0.8v19.3h-0.8zM1999 1331.1h0.8v19.3h-0.8zM1569.2 1331.1h0.8v19.3h-0.8zM1872.9 1331.1h0.8v19.3h-0.8zM1977.8 1331.1h0.8v19.3h-0.8zM1684.2 1331.1h0.8v19.3h-0.8zM1765.6 1331.1h0.8v19.3h-0.8zM1713.5 1331.1h0.8v19.3h-0.8zM1706.7 1331.1h0.8v19.3h-0.8zM2039.8 1331.1h0.8v19.3h-0.8zM1655.6 1331.1h0.8v19.3h-0.8zM1928.6 1331.1h0.8v19.3h-0.8zM1556.8 1331.1h0.8v19.3h-0.8zM1952 1331.1h0.8v19.3h-0.8zM1576.2 1331.1h0.8v19.3h-0.8zM1956.2 1331.1h0.8v19.3h-0.8zM1568.4 1331.1h0.8v19.3h-0.8zM1648.5 1331.1h0.8v19.3h-0.8zM1674.5 1331.1h0.8v19.3h-0.8zM1684 1331.1h0.8v19.3h-0.8zM1949.5 1331.1h0.8v19.3h-0.8zM1803.6 1331.1h0.8v19.3h-0.8zM1557.6 1331.1h0.8v19.3h-0.8zM1631 1331.1h0.8v19.3h-0.8zM1757.7 1331.1h0.8v19.3h-0.8zM1914 1331.1h0.8v19.3h-0.8zM1876.5 1331.1h0.8v19.3h-0.8zM1790.4 1331.1h0.8v19.3h-0.8zM1966 1331.1h0.8v19.3h-0.8zM2040.3 1331.1h0.8v19.3h-0.8zM2042 1331.1h0.8v19.3h-0.8zM2064.5 1331.1h0.8v19.3h-0.8zM2025.9 1331.1h0.8v19.3h-0.8zM2061.7 1331.1h0.8v19.3h-0.8zM1917.1 1331.1h0.8v19.3h-0.8zM1904.2 1331.1h0.8v19.3h-0.8zM1845.8 1331.1h0.8v19.3h-0.8zM1742.7 1331.1h0.8v19.3h-0.8zM1981.8 1331.1h0.8v19.3h-0.8zM1737.8 1331.1h0.8v19.3h-0.8zM2018.6 1331.1h0.8v19.3h-0.8zM1769.7 1331.1h0.8v19.3h-0.8zM1545 1331.1h0.8v19.3h-0.8zM1987.4 1331.1h0.8v19.3h-0.8zM1792.9 1331.1h0.8v19.3h-0.8zM1535.6 1331.1h0.8v19.3h-0.8zM1971.5 1331.1h0.8v19.3h-0.8zM1958.9 1331.1h0.8v19.3h-0.8zM2002.8 1331.1h0.8v19.3h-0.8zM1781.9 1331.1h0.8v19.3h-0.8zM1623 1331.1h0.8v19.3h-0.8zM1649.4 1331.1h0.8v19.3h-0.8zM1821.1 1331.1h0.8v19.3h-0.8zM1893.2 1331.1h0.8v19.3h-0.8zM1831.8 1331.1h0.8v19.3h-0.8zM1662.1 1331.1h0.8v19.3h-0.8zM1612.4 1331.1h0.8v19.3h-0.8zM2054.9 1331.1h0.8v19.3h-0.8zM2068 1331.1h0.8v19.3h-0.8zM2037.1 1331.1h0.8v19.3h-0.8zM1811.7 1331.1h0.8v19.3h-0.8zM1575 1331.1h0.8v19.3h-0.8zM1651.4 1331.1h0.8v19.3h-0.8zM1829.5 1331.1h0.8v19.3h-0.8zM1999.9 1331.1h0.8v19.3h-0.8zM1906.1 1331.1h0.8v19.3h-0.8zM1591.1 1331.1h0.8v19.3h-0.8zM2024 1331.1h0.8v19.3h-0.8zM1877.1 1331.1h0.8v19.3h-0.8zM1763.5 1331.1h0.8v19.3h-0.8zM1945.8 1331.1h0.8v19.3h-0.8zM1752.5 1331.1h0.8v19.3h-0.8zM1822.3 1331.1h0.8v19.3h-0.8zM1546.8 1331.1h0.8v19.3h-0.8zM1573.9 1331.1h0.8v19.3h-0.8zM2031.6 1331.1h0.8v19.3h-0.8zM1759.2 1331.1h0.8v19.3h-0.8z" fill="#fff" opacity="0.22"/>
<text x="1528.6" y="1380.7" font-size="23.5" textLength="77.4" lengthAdjust="spacingAndGlyphs">6KR up</text>
<text x="1958.9" y="1380.7" font-size="23.5" textLength="110.5" lengthAdjust="spacingAndGlyphs">6KR down</text>
<text x="1625.7" y="1425.1" font-size="27" textLength="341.9" lengthAdjust="spacingAndGlyphs">NES = 1.355 (<tspan font-style="italic">P</tspan> adj = 0.009)</text>
<text x="1329.5" y="1185.5" font-size="27" transform="rotate(-90 1444.5 1185.5)" textLength="228.9" lengthAdjust="spacingAndGlyphs">Enrichment score</text>
<text x="-2.7" y="1567.1" font-size="39.5" font-weight="bold" fill="#231f20" stroke="#231f20" stroke-width="0.9" textLength="25.1" lengthAdjust="spacingAndGlyphs">k</text>
<text x="232" y="1632" font-size="27" fill="#1164ad" textLength="292.6" lengthAdjust="spacingAndGlyphs">H<tspan font-size="19.3" dy="9.1">2</tspan><tspan dy="-9.1">O</tspan><tspan font-size="19.3" dy="9.1">2</tspan><tspan dy="-9.1">-treated UP genes</tspan></text>
<line x1="172.5" y1="1649.5" x2="172.5" y2="1832.7" stroke="#dcdcdc" stroke-width="1.1"/>
<line x1="240.1" y1="1649.5" x2="240.1" y2="1832.7" stroke="#dcdcdc" stroke-width="1.1"/>
<line x1="307.4" y1="1649.5" x2="307.4" y2="1832.7" stroke="#dcdcdc" stroke-width="1.1"/>
<line x1="375" y1="1649.5" x2="375" y2="1832.7" stroke="#dcdcdc" stroke-width="1.1"/>
<line x1="442.3" y1="1649.5" x2="442.3" y2="1832.7" stroke="#dcdcdc" stroke-width="1.1"/>
<line x1="509.9" y1="1649.5" x2="509.9" y2="1832.7" stroke="#dcdcdc" stroke-width="1.1"/>
<line x1="577.5" y1="1649.5" x2="577.5" y2="1832.7" stroke="#dcdcdc" stroke-width="1.1"/>
<line x1="645.1" y1="1649.5" x2="645.1" y2="1832.7" stroke="#dcdcdc" stroke-width="1.1"/>
<line x1="106.3" y1="1795.4" x2="650.7" y2="1795.4" stroke="#5a5a5a" stroke-width="1.6" stroke-dasharray="7.5 3.5"/>
<line x1="106.3" y1="1650.5" x2="106.3" y2="1832.7" stroke="#231f20" stroke-width="1.3"/>
<line x1="99.3" y1="1831" x2="106.3" y2="1831" stroke="#231f20" stroke-width="1.3"/>
<text x="44" y="1838.1" font-size="21.5">−0.1</text>
<line x1="99.3" y1="1795.4" x2="106.3" y2="1795.4" stroke="#231f20" stroke-width="1.3"/>
<text x="74.4" y="1802.5" font-size="21.5">0</text>
<line x1="99.3" y1="1759.8" x2="106.3" y2="1759.8" stroke="#231f20" stroke-width="1.3"/>
<text x="56.6" y="1766.9" font-size="21.5">0.1</text>
<line x1="99.3" y1="1724.2" x2="106.3" y2="1724.2" stroke="#231f20" stroke-width="1.3"/>
<text x="56.6" y="1731.3" font-size="21.5">0.2</text>
<line x1="99.3" y1="1688.6" x2="106.3" y2="1688.6" stroke="#231f20" stroke-width="1.3"/>
<text x="56.5" y="1695.7" font-size="21.5">0.3</text>
<line x1="99.3" y1="1653" x2="106.3" y2="1653" stroke="#231f20" stroke-width="1.3"/>
<text x="56.2" y="1660.1" font-size="21.5">0.4</text>
<path d="M106.3 1794.7 L107.6 1794.8 L107.6 1779.9 L109 1779.4 L109 1768.5 L110.1 1768.5 L110.1 1765.6 L112.4 1765.5 L112.4 1759.9 L113.5 1760.2 L113.5 1757.9 L114.9 1757.9 L114.9 1754.9 L116.5 1755.6 L116.5 1752.3 L117.6 1751.9 L117.6 1749.6 L119.4 1749.7 L119.4 1746.4 L121.4 1746.2 L121.4 1742.5 L123.5 1742.8 L123.5 1739.4 L125.4 1739.3 L125.4 1736.3 L126.8 1736.8 L126.8 1734.7 L127.5 1734.3 L127.5 1733.4 L129.8 1733.4 L129.8 1730.1 L132.1 1729.7 L132.1 1726.4 L133 1726.9 L133 1725.7 L133.6 1725.4 L133.6 1724.5 L135.7 1724.4 L135.7 1721.7 L136.6 1721.9 L136.6 1720.8 L137.4 1720.5 L137.4 1719.6 L139.6 1719.8 L139.6 1717.3 L140.9 1717.3 L140.9 1715.9 L142.8 1715.9 L142.8 1713.8 L143.6 1714.4 L143.6 1713.5 L145.2 1713.1 L145.2 1711 L146.8 1710.8 L146.8 1708.5 L148 1709.3 L148 1707.3 L148.8 1706.4 L148.8 1704.7 L151.2 1704.4 L151.2 1697.9 L152.5 1698.1 L152.5 1693.6 L153.3 1694.1 L153.3 1691.5 L154.9 1691.5 L154.9 1687 L157 1687.2 L157 1683.7 L159.3 1683.3 L159.3 1680.7 L161.6 1680.5 L161.6 1678.6 L163.2 1678.3 L163.2 1677.1 L165.3 1677.1 L165.3 1675.8 L166.5 1676.2 L166.5 1675.5 L167.7 1675.8 L167.7 1675.1 L168.6 1675.4 L168.6 1674.9 L169.6 1675.1 L169.6 1674.5 L171.8 1673.9 L171.8 1672.7 L173.6 1672.1 L173.6 1671.1 L174.3 1671.4 L174.3 1671 L175.6 1671 L175.6 1670.4 L177.7 1669.8 L177.7 1669 L179.2 1669.1 L179.2 1668.5 L181.2 1668.2 L183 1668.4 L183 1667.7 L184.4 1667.4 L184.4 1666.8 L185.8 1667.5 L185.8 1666.9 L188 1666.4 L188 1664.5 L190.4 1664.5 L190.4 1659.9 L191.9 1659.6 L191.9 1658.2 L193.4 1658.7 L193.4 1658.1 L194.1 1657.9 L195.8 1657.8 L197.2 1657.4 L199.2 1657.4 L200.5 1657.4 L202.5 1657.5 L203.7 1657.4 L204.3 1657.5 L206.7 1657.6 L207.7 1657.6 L208.8 1657.7 L211.1 1657.7 L212.5 1657.5 L214.7 1657.7 L215.6 1657.7 L217.5 1657.8 L218.5 1658.1 L220.9 1658 L223.1 1658.1 L224.4 1658.2 L226.2 1658 L227.1 1658.2 L227.9 1658 L228.5 1658.3 L230.5 1658.4 L232.2 1658.8 L233.9 1659.1 L236 1659.4 L237.1 1659.7 L239.2 1659.5 L240.8 1659.6 L242.3 1659.7 L244.7 1660 L247.1 1660.2 L248 1660.2 L249 1660.4 L250.7 1660.7 L252.6 1660.7 L254.2 1660.9 L256.2 1661.3 L257.6 1661.6 L258.4 1661.6 L260.6 1662 L261.8 1661.6 L263.9 1662.3 L265.7 1663.2 L266.8 1663.5 L268.6 1664.1 L270.1 1664.5 L271.4 1664.6 L272.1 1665.1 L274.1 1665.9 L276.1 1666.1 L277 1666.6 L277.7 1666.7 L279.7 1667.3 L281.9 1668.3 L282.7 1668.6 L283.6 1669.2 L285.4 1669.7 L286.7 1670 L287.6 1670.2 L288.7 1670.8 L290.2 1671.6 L291.9 1672.4 L293.8 1673.3 L295.4 1674.1 L297.1 1674.8 L299.3 1675.7 L301 1676.5 L303 1677.5 L304.8 1678.2 L306 1679.1 L307.8 1679.8 L308.9 1680.2 L310.5 1680.9 L312.4 1681.7 L314 1682.4 L316.1 1683.4 L318.4 1684.5 L320.1 1685.4 L322.3 1686.2 L324.5 1687.2 L326.7 1688.3 L328.7 1689.4 L330.6 1690 L331.4 1690.9 L333.1 1691.8 L334.8 1692.5 L336.8 1693.3 L339.1 1694.7 L340 1694.9 L341.7 1696 L344 1697.5 L345.4 1697.7 L347 1698.2 L348.7 1699.5 L350.9 1700.6 L351.6 1700.8 L353 1701.4 L354.1 1702.5 L354.8 1702.6 L355.4 1703.2 L357.2 1704.2 L358.6 1705.2 L360.7 1706.4 L362.3 1707.2 L363.4 1707.9 L364.8 1709 L366.1 1709.9 L367.5 1711.2 L368.5 1711.4 L370.2 1712.2 L371.4 1713.2 L372.6 1713.7 L373.4 1714.3 L375 1715.5 L376.8 1716.4 L378.1 1717.2 L380.3 1718.9 L381.8 1720 L384.1 1721.4 L384.7 1722 L386.3 1723 L387.8 1723.9 L389.5 1724.5 L390.3 1725.3 L392.6 1726.6 L394.4 1727.9 L396.6 1729.4 L398.2 1729.8 L400.5 1731.5 L401.5 1732.2 L402.8 1733.4 L404.9 1734.7 L406.1 1735.3 L408 1736.6 L408.6 1736.8 L410.6 1737.7 L412.1 1738.7 L413.1 1739.3 L415 1740.5 L416 1741.6 L418.2 1743 L418.9 1743.3 L419.8 1743.4 L421.9 1744.9 L422.8 1745.5 L423.7 1746.2 L425.2 1747.2 L426.9 1748.2 L427.8 1749.1 L429.5 1749.9 L431.2 1750.8 L431.9 1750.8 L433.4 1752 L435.5 1753.3 L437.3 1754 L439.2 1755.2 L441.3 1756.6 L443.3 1757.8 L445.1 1758.8 L446.4 1759.8 L447.9 1760.3 L448.5 1760.7 L450.9 1761.9 L452.6 1762.5 L455 1764.5 L456.8 1765.8 L459 1767.2 L460.9 1768.5 L461.6 1768.8 L463.6 1769.9 L465.4 1770.7 L467.4 1771.5 L469.1 1772.4 L470.5 1773.2 L472.9 1774.5 L474.1 1775.2 L476.4 1776.7 L478 1777.8 L480.1 1779.1 L481.7 1779.9 L483.9 1781 L486.2 1782.3 L487.7 1783.1 L489.3 1783.7 L490.8 1784.6 L492.6 1785.5 L494.2 1786.2 L496.3 1787.2 L496.9 1788 L497.8 1788.7 L499.9 1789.6 L501.3 1790 L502.9 1790.8 L504.9 1791.8 L506.4 1792.5 L507.5 1793.5 L508.3 1793.5 L510.7 1794.9 L512.2 1795.1 L514.2 1796.3 L516.3 1797.4 L517.6 1798 L518.3 1798 L519.2 1798.4 L520.2 1799.3 L522.2 1799.5 L524.3 1800.1 L526.1 1800.9 L528 1801.5 L528.9 1801.6 L530.1 1801.8 L531.3 1802.2 L533.1 1802.7 L535.2 1803.5 L535.9 1803.8 L536.8 1804.2 L538.8 1804.8 L540.9 1805.9 L542.2 1806 L542.8 1805.7 L543.6 1805.8 L544.2 1806.5 L545.1 1806.9 L546 1807.1 L547.3 1807.5 L548.3 1808.3 L549.4 1808.8 L550.3 1808.9 L551.6 1809.3 L553.7 1809.7 L555.5 1811 L556.6 1811.9 L558.9 1813 L559.9 1813.6 L560.6 1813.6 L562.6 1814.7 L564.1 1815.6 L566.5 1816.9 L568.6 1817.8 L569.6 1818.2 L570.3 1818.7 L572.5 1819.5 L574.1 1820 L575.1 1820.4 L576.7 1820.9 L579 1821.6 L581.4 1822.1 L582.2 1822.4 L583.4 1822.6 L584.2 1822.8 L586.1 1823 L587.5 1823.4 L589.7 1823.6 L591.9 1823.4 L593.1 1823.3 L595.5 1823.6 L597.3 1823.7 L597.9 1823.6 L599.1 1823.7 L600 1824.1 L602.1 1824 L603.6 1824 L605.8 1823.9 L606.6 1823.5 L607.7 1823 L608.4 1823.1 L610.2 1822.9 L612.3 1822.5 L614.5 1821.7 L616.4 1822.1 L616.4 1821.4 L617.8 1820.7 L617.8 1820.1 L619.1 1820.3 L619.1 1819.7 L620 1820 L620 1819.5 L621.2 1819.8 L621.2 1819.3 L622.4 1819.4 L622.4 1818.8 L624 1818.3 L624 1817.5 L624.6 1817.1 L624.6 1816.8 L626.1 1817.4 L626.1 1816.6 L628.4 1816.7 L628.4 1815.4 L629.4 1815.5 L629.4 1814.9 L631.6 1814.8 L631.6 1813.5 L633.4 1812.8 L633.4 1811.6 L635.2 1811.7 L635.2 1810.5 L636.6 1810.3 L636.6 1809.4 L637.6 1809.8 L637.6 1809 L638.9 1809.6 L638.9 1808.7 L640.5 1808.3 L640.5 1807.1 L641.3 1806.9 L641.3 1806.3 L642 1805.7 L642 1805.2 L643.6 1805 L643.6 1803.7 L645.8 1803.4 L645.8 1801.5 L646.9 1801.5 L646.9 1800.4 L647.8 1800.7 L647.8 1799.6 L650 1799.4 L650 1795.9 L650.7 1796.2 L650.7 1795.2 L650.7 1795.4 L650.7 1795.3" stroke="#5fb84f" stroke-width="2.4" fill="none" stroke-linejoin="round"/>
<path d="M106.3 1832.7h30.2v49.3h-30.2zM137.5 1832.7h5.8v49.3h-5.8zM143.9 1832.7h15.1v49.3h-15.1zM160 1832.7h4.6v49.3h-4.6zM165.6 1832.7h3.7v49.3h-3.7zM169.7 1832.7h9.7v49.3h-9.7zM179.8 1832.7h9.2v49.3h-9.2zM189.6 1832.7h6.3v49.3h-6.3zM196.2 1832.7h10.2v49.3h-10.2zM206.9 1832.7h6v49.3h-6zM214.5 1832.7h1.8v49.3h-1.8zM217.5 1832.7h1.4v49.3h-1.4zM219.8 1832.7h5.3v49.3h-5.3zM225.6 1832.7h3.4v49.3h-3.4zM229.9 1832.7h0.8v49.3h-0.8zM231.6 1832.7h1.1v49.3h-1.1zM233.2 1832.7h1.3v49.3h-1.3zM234.9 1832.7h8.4v49.3h-8.4zM243.9 1832.7h5.8v49.3h-5.8zM250.1 1832.7h1.3v49.3h-1.3zM251.7 1832.7h2.3v49.3h-2.3zM255.6 1832.7h2.5v49.3h-2.5zM259 1832.7h1v49.3h-1zM260.3 1832.7h1.2v49.3h-1.2zM263.1 1832.7h3.8v49.3h-3.8zM268.4 1832.7h4.6v49.3h-4.6zM273.5 1832.7h1.1v49.3h-1.1zM275.3 1832.7h0.9v49.3h-0.9zM276.8 1832.7h2.6v49.3h-2.6zM279.8 1832.7h10.3v49.3h-10.3zM290.4 1832.7h7.6v49.3h-7.6zM298.3 1832.7h10v49.3h-10zM308.9 1832.7h0.9v49.3h-0.9zM310.8 1832.7h3.5v49.3h-3.5zM315 1832.7h2.1v49.3h-2.1zM318.2 1832.7h1.3v49.3h-1.3zM320.1 1832.7h3.4v49.3h-3.4zM324.3 1832.7h4.9v49.3h-4.9zM329.9 1832.7h3.6v49.3h-3.6zM334.4 1832.7h1.2v49.3h-1.2zM336.2 1832.7h2.5v49.3h-2.5zM339.5 1832.7h3.5v49.3h-3.5zM344.2 1832.7h3.4v49.3h-3.4zM348.1 1832.7h5.4v49.3h-5.4zM355.6 1832.7h1.6v49.3h-1.6zM359.3 1832.7h2.1v49.3h-2.1zM361.9 1832.7h0.7v49.3h-0.7zM363.8 1832.7h3.3v49.3h-3.3zM368.2 1832.7h1.8v49.3h-1.8zM370.4 1832.7h0.5v49.3h-0.5zM372 1832.7h3.1v49.3h-3.1zM377.7 1832.7h3.6v49.3h-3.6zM382.7 1832.7h7.8v49.3h-7.8zM390.8 1832.7h5.8v49.3h-5.8zM397.8 1832.7h1.7v49.3h-1.7zM401.1 1832.7h1.3v49.3h-1.3zM403.6 1832.7h4.6v49.3h-4.6zM410 1832.7h5.2v49.3h-5.2zM416.4 1832.7h0.9v49.3h-0.9zM418.4 1832.7h3.2v49.3h-3.2zM422.3 1832.7h2.4v49.3h-2.4zM426.4 1832.7h1.4v49.3h-1.4zM428.1 1832.7h2.9v49.3h-2.9zM431.7 1832.7h8.8v49.3h-8.8zM440.9 1832.7h2.8v49.3h-2.8zM445.1 1832.7h4.7v49.3h-4.7zM452.5 1832.7h4.5v49.3h-4.5zM458.9 1832.7h2.6v49.3h-2.6zM479.9 1832.7h1.7v49.3h-1.7zM485.6 1832.7h0.9v49.3h-0.9zM490.3 1832.7h2.9v49.3h-2.9zM494.3 1832.7h2.3v49.3h-2.3zM503 1832.7h4v49.3h-4zM509.5 1832.7h1.4v49.3h-1.4zM511.7 1832.7h1.6v49.3h-1.6zM513.9 1832.7h1.9v49.3h-1.9zM517.8 1832.7h3.5v49.3h-3.5zM521.9 1832.7h2.9v49.3h-2.9zM525.9 1832.7h0.7v49.3h-0.7zM527.2 1832.7h1.2v49.3h-1.2zM528.8 1832.7h3.1v49.3h-3.1zM533.1 1832.7h1.5v49.3h-1.5zM549.9 1832.7h1v49.3h-1zM551.4 1832.7h3.8v49.3h-3.8zM556 1832.7h0.8v49.3h-0.8zM557.6 1832.7h3v49.3h-3zM560.9 1832.7h1.4v49.3h-1.4zM563.2 1832.7h4.8v49.3h-4.8zM569 1832.7h1.6v49.3h-1.6zM571.9 1832.7h2.6v49.3h-2.6zM575.3 1832.7h1.4v49.3h-1.4zM577.3 1832.7h0.9v49.3h-0.9zM578.5 1832.7h3.8v49.3h-3.8zM582.7 1832.7h3.4v49.3h-3.4zM586.7 1832.7h1.5v49.3h-1.5zM588.8 1832.7h5.7v49.3h-5.7zM595.3 1832.7h2.1v49.3h-2.1zM598.1 1832.7h2.8v49.3h-2.8zM601.2 1832.7h1.2v49.3h-1.2zM603.7 1832.7h5v49.3h-5zM609.6 1832.7h9.4v49.3h-9.4zM619.9 1832.7h3.3v49.3h-3.3zM624.5 1832.7h1v49.3h-1zM626.1 1832.7h4.5v49.3h-4.5zM631 1832.7h3.4v49.3h-3.4zM634.7 1832.7h0.7v49.3h-0.7zM635.9 1832.7h3.9v49.3h-3.9zM640.8 1832.7h2.1v49.3h-2.1zM643.8 1832.7h1.8v49.3h-1.8zM646.1 1832.7h1.1v49.3h-1.1zM647.7 1832.7h3v49.3h-3z" fill="#050505"/>
<path d="M348.3 1832.7h0.7v49.3h-0.7zM415.2 1832.7h0.7v49.3h-0.7zM437 1832.7h0.7v49.3h-0.7zM508.4 1832.7h0.7v49.3h-0.7zM387.9 1832.7h0.7v49.3h-0.7zM400.8 1832.7h0.7v49.3h-0.7zM266.6 1832.7h0.7v49.3h-0.7zM513.4 1832.7h0.7v49.3h-0.7zM606 1832.7h0.7v49.3h-0.7zM429.5 1832.7h0.7v49.3h-0.7zM160.2 1832.7h0.7v49.3h-0.7zM307 1832.7h0.7v49.3h-0.7zM463 1832.7h0.7v49.3h-0.7zM205.6 1832.7h0.7v49.3h-0.7zM584.4 1832.7h0.7v49.3h-0.7zM176.7 1832.7h0.7v49.3h-0.7zM603 1832.7h0.7v49.3h-0.7zM511.1 1832.7h0.7v49.3h-0.7zM422.8 1832.7h0.7v49.3h-0.7zM415.6 1832.7h0.7v49.3h-0.7zM593.6 1832.7h0.7v49.3h-0.7zM372.4 1832.7h0.7v49.3h-0.7zM602.5 1832.7h0.7v49.3h-0.7zM642.1 1832.7h0.7v49.3h-0.7zM169.3 1832.7h0.7v49.3h-0.7zM605.4 1832.7h0.7v49.3h-0.7zM387.9 1832.7h0.7v49.3h-0.7zM567.7 1832.7h0.7v49.3h-0.7zM186.9 1832.7h0.7v49.3h-0.7zM552.3 1832.7h0.7v49.3h-0.7zM370 1832.7h0.7v49.3h-0.7zM486.8 1832.7h0.7v49.3h-0.7zM318.4 1832.7h0.7v49.3h-0.7zM161.5 1832.7h0.7v49.3h-0.7zM416.3 1832.7h0.7v49.3h-0.7zM607.4 1832.7h0.7v49.3h-0.7zM308.5 1832.7h0.7v49.3h-0.7zM287.9 1832.7h0.7v49.3h-0.7zM495.6 1832.7h0.7v49.3h-0.7zM351.1 1832.7h0.7v49.3h-0.7zM114.6 1832.7h0.7v49.3h-0.7zM324.7 1832.7h0.7v49.3h-0.7zM216.7 1832.7h0.7v49.3h-0.7zM571.5 1832.7h0.7v49.3h-0.7zM478.9 1832.7h0.7v49.3h-0.7zM447.9 1832.7h0.7v49.3h-0.7zM359.3 1832.7h0.7v49.3h-0.7zM257.5 1832.7h0.7v49.3h-0.7zM340.1 1832.7h0.7v49.3h-0.7zM527.6 1832.7h0.7v49.3h-0.7zM290 1832.7h0.7v49.3h-0.7zM478.1 1832.7h0.7v49.3h-0.7zM231.3 1832.7h0.7v49.3h-0.7zM274.7 1832.7h0.7v49.3h-0.7zM641.3 1832.7h0.7v49.3h-0.7zM261.1 1832.7h0.7v49.3h-0.7zM268.1 1832.7h0.7v49.3h-0.7zM382.6 1832.7h0.7v49.3h-0.7zM537.9 1832.7h0.7v49.3h-0.7zM614.4 1832.7h0.7v49.3h-0.7zM252.2 1832.7h0.7v49.3h-0.7zM639.3 1832.7h0.7v49.3h-0.7zM378 1832.7h0.7v49.3h-0.7zM212.2 1832.7h0.7v49.3h-0.7zM131.3 1832.7h0.7v49.3h-0.7zM190 1832.7h0.7v49.3h-0.7zM295.8 1832.7h0.7v49.3h-0.7zM314.4 1832.7h0.7v49.3h-0.7zM445.7 1832.7h0.7v49.3h-0.7zM562.7 1832.7h0.7v49.3h-0.7zM636.2 1832.7h0.7v49.3h-0.7zM640 1832.7h0.7v49.3h-0.7zM497.3 1832.7h0.7v49.3h-0.7zM455.6 1832.7h0.7v49.3h-0.7zM542.5 1832.7h0.7v49.3h-0.7zM609.1 1832.7h0.7v49.3h-0.7zM280.4 1832.7h0.7v49.3h-0.7zM395.8 1832.7h0.7v49.3h-0.7zM152.9 1832.7h0.7v49.3h-0.7zM497.3 1832.7h0.7v49.3h-0.7zM633.8 1832.7h0.7v49.3h-0.7zM626.6 1832.7h0.7v49.3h-0.7zM393.2 1832.7h0.7v49.3h-0.7zM427.8 1832.7h0.7v49.3h-0.7zM543.9 1832.7h0.7v49.3h-0.7zM247.2 1832.7h0.7v49.3h-0.7zM586.7 1832.7h0.7v49.3h-0.7zM292.3 1832.7h0.7v49.3h-0.7zM554.8 1832.7h0.7v49.3h-0.7zM337.6 1832.7h0.7v49.3h-0.7z" fill="#7a7a7a" opacity="0.5"/>
<rect x="106.3" y="1882" width="544.4" height="20" fill="url(#cb301)"/>
<path d="M123.5 1882h0.8v20h-0.8zM633.7 1882h0.8v20h-0.8zM212.4 1882h0.8v20h-0.8zM647.7 1882h0.8v20h-0.8zM621.7 1882h0.8v20h-0.8zM247.1 1882h0.8v20h-0.8zM387.4 1882h0.8v20h-0.8zM323.1 1882h0.8v20h-0.8zM329.3 1882h0.8v20h-0.8zM536.2 1882h0.8v20h-0.8zM556.9 1882h0.8v20h-0.8zM246 1882h0.8v20h-0.8zM402.4 1882h0.8v20h-0.8zM479.8 1882h0.8v20h-0.8zM429.6 1882h0.8v20h-0.8zM172.4 1882h0.8v20h-0.8zM319.2 1882h0.8v20h-0.8zM374.6 1882h0.8v20h-0.8zM609.4 1882h0.8v20h-0.8zM554 1882h0.8v20h-0.8zM473.7 1882h0.8v20h-0.8zM258.8 1882h0.8v20h-0.8zM617.3 1882h0.8v20h-0.8zM231.1 1882h0.8v20h-0.8zM290.2 1882h0.8v20h-0.8zM191.8 1882h0.8v20h-0.8zM427 1882h0.8v20h-0.8zM539.4 1882h0.8v20h-0.8zM488.4 1882h0.8v20h-0.8zM556.6 1882h0.8v20h-0.8zM488.7 1882h0.8v20h-0.8zM461.9 1882h0.8v20h-0.8zM243.2 1882h0.8v20h-0.8zM628.1 1882h0.8v20h-0.8zM645.5 1882h0.8v20h-0.8zM505.1 1882h0.8v20h-0.8zM649.1 1882h0.8v20h-0.8zM587.3 1882h0.8v20h-0.8zM583.9 1882h0.8v20h-0.8zM518.3 1882h0.8v20h-0.8zM548.2 1882h0.8v20h-0.8zM482.5 1882h0.8v20h-0.8zM175.8 1882h0.8v20h-0.8zM562.1 1882h0.8v20h-0.8zM298.2 1882h0.8v20h-0.8zM456.7 1882h0.8v20h-0.8zM595.9 1882h0.8v20h-0.8zM374.9 1882h0.8v20h-0.8zM253.5 1882h0.8v20h-0.8zM407.5 1882h0.8v20h-0.8zM583 1882h0.8v20h-0.8zM564.1 1882h0.8v20h-0.8zM647.4 1882h0.8v20h-0.8zM600.5 1882h0.8v20h-0.8zM544.5 1882h0.8v20h-0.8zM370.3 1882h0.8v20h-0.8zM205.8 1882h0.8v20h-0.8zM614.1 1882h0.8v20h-0.8zM127.2 1882h0.8v20h-0.8zM621.9 1882h0.8v20h-0.8zM454.3 1882h0.8v20h-0.8zM234.8 1882h0.8v20h-0.8zM196.7 1882h0.8v20h-0.8zM496.6 1882h0.8v20h-0.8zM145.7 1882h0.8v20h-0.8zM341 1882h0.8v20h-0.8zM164.4 1882h0.8v20h-0.8zM179.7 1882h0.8v20h-0.8zM243.2 1882h0.8v20h-0.8zM461.6 1882h0.8v20h-0.8zM121 1882h0.8v20h-0.8zM571 1882h0.8v20h-0.8zM449.4 1882h0.8v20h-0.8zM246.9 1882h0.8v20h-0.8zM495.3 1882h0.8v20h-0.8zM140.6 1882h0.8v20h-0.8zM244.2 1882h0.8v20h-0.8zM380.6 1882h0.8v20h-0.8zM571.3 1882h0.8v20h-0.8zM473.9 1882h0.8v20h-0.8zM127.9 1882h0.8v20h-0.8zM628.3 1882h0.8v20h-0.8zM190.1 1882h0.8v20h-0.8zM206.8 1882h0.8v20h-0.8zM420.9 1882h0.8v20h-0.8zM144.6 1882h0.8v20h-0.8zM330 1882h0.8v20h-0.8zM221.5 1882h0.8v20h-0.8zM351.6 1882h0.8v20h-0.8zM296.5 1882h0.8v20h-0.8zM335.4 1882h0.8v20h-0.8zM291.4 1882h0.8v20h-0.8zM367.5 1882h0.8v20h-0.8zM464.1 1882h0.8v20h-0.8zM335.1 1882h0.8v20h-0.8zM394.2 1882h0.8v20h-0.8zM267.8 1882h0.8v20h-0.8zM322.6 1882h0.8v20h-0.8zM148.7 1882h0.8v20h-0.8zM355.6 1882h0.8v20h-0.8zM380.8 1882h0.8v20h-0.8zM193.1 1882h0.8v20h-0.8zM279.1 1882h0.8v20h-0.8zM409.2 1882h0.8v20h-0.8zM370.9 1882h0.8v20h-0.8zM449.9 1882h0.8v20h-0.8zM245.6 1882h0.8v20h-0.8zM552.6 1882h0.8v20h-0.8z" fill="#fff" opacity="0.22"/>
<text x="106.3" y="1931.3" font-size="23.5" textLength="77" lengthAdjust="spacingAndGlyphs">6KR up</text>
<text x="541.2" y="1931.3" font-size="23.5" textLength="109.9" lengthAdjust="spacingAndGlyphs">6KR down</text>
<text x="207.4" y="1977" font-size="27" textLength="337.2" lengthAdjust="spacingAndGlyphs">NES = 1.730 (<tspan font-style="italic">P</tspan> adj &lt; 0.001)</text>
<text x="-90.5" y="1741.9" font-size="27" transform="rotate(-90 22.8 1741.9)" textLength="225.4" lengthAdjust="spacingAndGlyphs">Enrichment score</text>
<text x="730.2" y="1567.4" font-size="39.5" font-weight="bold" fill="#231f20" stroke="#231f20" stroke-width="0.9" textLength="14.3" lengthAdjust="spacingAndGlyphs">l</text>
<text x="789.5" y="1613" font-size="26.7" textLength="86.6" lengthAdjust="spacingAndGlyphs">WT/KO</text>
<text x="1218.9" y="1613.8" font-size="26.7" textLength="98.6" lengthAdjust="spacingAndGlyphs">6KR/KO</text>
<rect x="732.8" y="1633.6" width="199" height="306.3" fill="none" stroke="#231f20" stroke-width="1.6"/>
<rect x="950.9" y="1633.6" width="634.7" height="306.3" fill="none" stroke="#231f20" stroke-width="1.6"/>
<g clip-path="url(#hc0)">
<rect x="739.9" y="1644" width="189" height="131.4" fill="#aa5291" filter="url(#nuc)"/>
<rect x="739.9" y="1644" width="189" height="131.4" fill="#ebe6ea" mask="url(#hm0)"/>
</g>
<g clip-path="url(#hc1)">
<rect x="739.9" y="1796.7" width="189" height="130.6" fill="#aa5291" filter="url(#nuc)"/>
<rect x="739.9" y="1796.7" width="189" height="130.6" fill="#ebe6ea" mask="url(#hm1)"/>
</g>
<g clip-path="url(#hc2)">
<rect x="962.1" y="1644" width="188.6" height="131.4" fill="#aa5291" filter="url(#nuc)"/>
<rect x="962.1" y="1644" width="188.6" height="131.4" fill="#ebe6ea" mask="url(#hm2)"/>
</g>
<g clip-path="url(#hc3)">
<rect x="1173.7" y="1644" width="189.1" height="131.4" fill="#aa5291" filter="url(#nuc)"/>
<rect x="1173.7" y="1644" width="189.1" height="131.4" fill="#ebe6ea" mask="url(#hm3)"/>
</g>
<g clip-path="url(#hc4)">
<rect x="1385.3" y="1644" width="189" height="131.4" fill="#aa5291" filter="url(#nuc)"/>
<rect x="1385.3" y="1644" width="189" height="131.4" fill="#ebe6ea" mask="url(#hm4)"/>
</g>
<g clip-path="url(#hc5)">
<rect x="962.1" y="1796.7" width="188.6" height="130.6" fill="#aa5291" filter="url(#nuc)"/>
<rect x="962.1" y="1796.7" width="188.6" height="130.6" fill="#ebe6ea" mask="url(#hm5)"/>
</g>
<g clip-path="url(#hc6)">
<rect x="1173.7" y="1796.7" width="189.1" height="130.6" fill="#aa5291" filter="url(#nuc)"/>
<rect x="1173.7" y="1796.7" width="189.1" height="130.6" fill="#ebe6ea" mask="url(#hm6)"/>
</g>
<g clip-path="url(#hc7)">
<rect x="1385.3" y="1796.7" width="189" height="130.6" fill="#aa5291" filter="url(#nuc)"/>
<rect x="1385.3" y="1796.7" width="189" height="130.6" fill="#ebe6ea" mask="url(#hm7)"/>
</g>
<ellipse cx="839.7" cy="1712" rx="10" ry="6" fill="#70357f" filter="url(#wob2)"/>
<ellipse cx="844.4" cy="1857" rx="9" ry="12" fill="#70357f" filter="url(#wob2)"/>
<ellipse cx="1069" cy="1695" rx="15" ry="16" fill="#70357f" filter="url(#wob2)"/>
<ellipse cx="1276" cy="1693" rx="21" ry="13" fill="#70357f" filter="url(#wob2)"/>
<ellipse cx="1455" cy="1712" rx="33" ry="12" fill="#70357f" filter="url(#wob2)"/>
<ellipse cx="1547" cy="1690" rx="12" ry="19" fill="#70357f" filter="url(#wob2)"/>
<ellipse cx="1042" cy="1862" rx="40" ry="31" fill="#70357f" filter="url(#wob2)"/>
<ellipse cx="1277" cy="1855" rx="14" ry="11" fill="#70357f" filter="url(#wob2)"/>
<ellipse cx="1420" cy="1840" rx="9" ry="13" fill="#70357f" filter="url(#wob2)"/>
<ellipse cx="1492" cy="1880" rx="27" ry="11" fill="#70357f" filter="url(#wob2)"/>
<rect x="819.6" y="1695.7" width="40.3" height="29.3" fill="none" stroke="#e0282f" stroke-width="1.1"/>
<rect x="825.4" y="1838.7" width="38" height="36.8" fill="none" stroke="#e0282f" stroke-width="1.1"/>
<rect x="1043.2" y="1669.2" width="52.2" height="52.2" fill="none" stroke="#e0282f" stroke-width="1.1"/>
<rect x="1249" y="1668.3" width="58.4" height="59.7" fill="none" stroke="#e0282f" stroke-width="1.1"/>
<rect x="1411.9" y="1679.4" width="91.6" height="60.6" fill="none" stroke="#e0282f" stroke-width="1.1"/>
<rect x="1523.5" y="1666.1" width="42" height="53.1" fill="none" stroke="#e0282f" stroke-width="1.1"/>
<rect x="990" y="1814.4" width="111.6" height="89" fill="none" stroke="#e0282f" stroke-width="1.1"/>
<rect x="1255.6" y="1839.6" width="42.5" height="32.8" fill="none" stroke="#e0282f" stroke-width="1.1"/>
<rect x="1404.8" y="1821" width="31" height="37.6" fill="none" stroke="#e0282f" stroke-width="1.1"/>
<rect x="1457" y="1856.4" width="74.4" height="47" fill="none" stroke="#e0282f" stroke-width="1.1"/>
<rect x="857.2" y="1757.7" width="57.6" height="8" fill="#111"/>
<rect x="846.2" y="1911.8" width="70.8" height="8" fill="#111"/>
<rect x="1063.1" y="1757.7" width="77.4" height="8" fill="#111"/>
<rect x="1289.7" y="1759.9" width="58.9" height="8" fill="#111"/>
<rect x="1492.5" y="1759.9" width="67.3" height="8" fill="#111"/>
<rect x="1065.3" y="1915.3" width="78.8" height="8" fill="#111"/>
<rect x="1294.2" y="1913.1" width="57.5" height="8" fill="#111"/>
<rect x="1500.4" y="1914.9" width="58.5" height="8" fill="#111"/>
<text x="1651" y="1567.7" font-size="39.5" font-weight="bold" fill="#231f20" stroke="#231f20" stroke-width="0.9" textLength="37.5" lengthAdjust="spacingAndGlyphs">m</text>
<line x1="1747.3" y1="1586.8" x2="1747.3" y2="1940.9" stroke="#231f20" stroke-width="1.5"/>
<line x1="1735.4" y1="1940.3" x2="1747.3" y2="1940.3" stroke="#231f20" stroke-width="1.5"/>
<text x="1708.1" y="1948.1" font-size="25" textLength="14.6" lengthAdjust="spacingAndGlyphs">0</text>
<line x1="1735.4" y1="1822.4" x2="1747.3" y2="1822.4" stroke="#231f20" stroke-width="1.5"/>
<text x="1708.3" y="1830.2" font-size="25" textLength="14.6" lengthAdjust="spacingAndGlyphs">5</text>
<line x1="1735.4" y1="1704.5" x2="1747.3" y2="1704.5" stroke="#231f20" stroke-width="1.5"/>
<text x="1693.6" y="1712.3" font-size="25" textLength="29.2" lengthAdjust="spacingAndGlyphs">10</text>
<line x1="1735.4" y1="1586.6" x2="1747.3" y2="1586.6" stroke="#231f20" stroke-width="1.5"/>
<text x="1693.7" y="1594.4" font-size="25" textLength="29.2" lengthAdjust="spacingAndGlyphs">15</text>
<line x1="1735.4" y1="1940.3" x2="2101.8" y2="1940.3" stroke="#231f20" stroke-width="1.5"/>
<line x1="1847.8" y1="1940.3" x2="1847.8" y2="1956.1" stroke="#231f20" stroke-width="1.5"/>
<line x1="1999.9" y1="1940.3" x2="1999.9" y2="1956.1" stroke="#231f20" stroke-width="1.5"/>
<text x="1804.5" y="1990.1" font-size="26.7" textLength="88.4" lengthAdjust="spacingAndGlyphs">WT/KO</text>
<text x="1949.9" y="1990.1" font-size="26.7" textLength="100.2" lengthAdjust="spacingAndGlyphs">6KR/KO</text>
<text x="1819.1" y="2021.3" font-size="26.7" textLength="58.2" lengthAdjust="spacingAndGlyphs"><tspan font-style="italic">n</tspan> = 9</text>
<text x="1970.6" y="2021.3" font-size="26.7" textLength="58" lengthAdjust="spacingAndGlyphs"><tspan font-style="italic">n</tspan> = 8</text>
<text x="1513.4" y="1763.3" font-size="27" transform="rotate(-90 1674.5 1763.3)" textLength="321.9" lengthAdjust="spacingAndGlyphs">Number of metastatic foci</text>
<path d="M1840.7 1889.6 V1586.8 H2001.6 V1614.3" stroke="#231f20" stroke-width="1.3" fill="none"/>
<text x="1870.6" y="1573.8" font-size="22.6" textLength="118.5" lengthAdjust="spacingAndGlyphs"><tspan font-style="italic">P</tspan> = 0.0002</text>
<line x1="1847.8" y1="1925" x2="1847.8" y2="1940.3" stroke="#333" stroke-width="1.4"/>
<line x1="1822.3" y1="1925" x2="1873.3" y2="1925" stroke="#333" stroke-width="1.4"/>
<circle cx="1807.3" cy="1940.3" r="6.8" fill="#1e1b1c"/>
<circle cx="1820.9" cy="1940.3" r="6.8" fill="#1e1b1c"/>
<circle cx="1834.5" cy="1940.3" r="6.8" fill="#1e1b1c"/>
<circle cx="1848.4" cy="1940.3" r="6.8" fill="#1e1b1c"/>
<circle cx="1862" cy="1940.3" r="6.8" fill="#1e1b1c"/>
<circle cx="1875.3" cy="1940.3" r="6.8" fill="#1e1b1c"/>
<circle cx="1888.9" cy="1940.3" r="6.8" fill="#1e1b1c"/>
<circle cx="1837.9" cy="1916.5" r="6.8" fill="#1e1b1c"/>
<circle cx="1858.6" cy="1916.5" r="6.8" fill="#1e1b1c"/>
<line x1="1797.4" y1="1935.2" x2="1898.8" y2="1935.2" stroke="#333" stroke-width="2.6"/>
<line x1="1999.9" y1="1713.7" x2="1999.9" y2="1902.3" stroke="#e62234" stroke-width="1.4"/>
<line x1="1974.4" y1="1713.7" x2="2025.4" y2="1713.7" stroke="#e62234" stroke-width="1.4"/>
<line x1="1974.4" y1="1902.3" x2="2025.4" y2="1902.3" stroke="#e62234" stroke-width="1.4"/>
<line x1="1949.8" y1="1808.3" x2="2050.3" y2="1808.3" stroke="#e62234" stroke-width="2.8"/>
<circle cx="1999.9" cy="1633.8" r="6.8" fill="#e62234"/>
<circle cx="1999.9" cy="1704.6" r="6.8" fill="#e62234"/>
<circle cx="1999.9" cy="1799.5" r="6.8" fill="#e62234"/>
<circle cx="1999.9" cy="1822.7" r="6.8" fill="#e62234"/>
<circle cx="1999.9" cy="1846.5" r="6.8" fill="#e62234"/>
<circle cx="1990" cy="1870.3" r="6.8" fill="#e62234"/>
<circle cx="2010.6" cy="1870.3" r="6.8" fill="#e62234"/>
<circle cx="1999.9" cy="1917.3" r="6.8" fill="#e62234"/>
</svg>
</body></html>
